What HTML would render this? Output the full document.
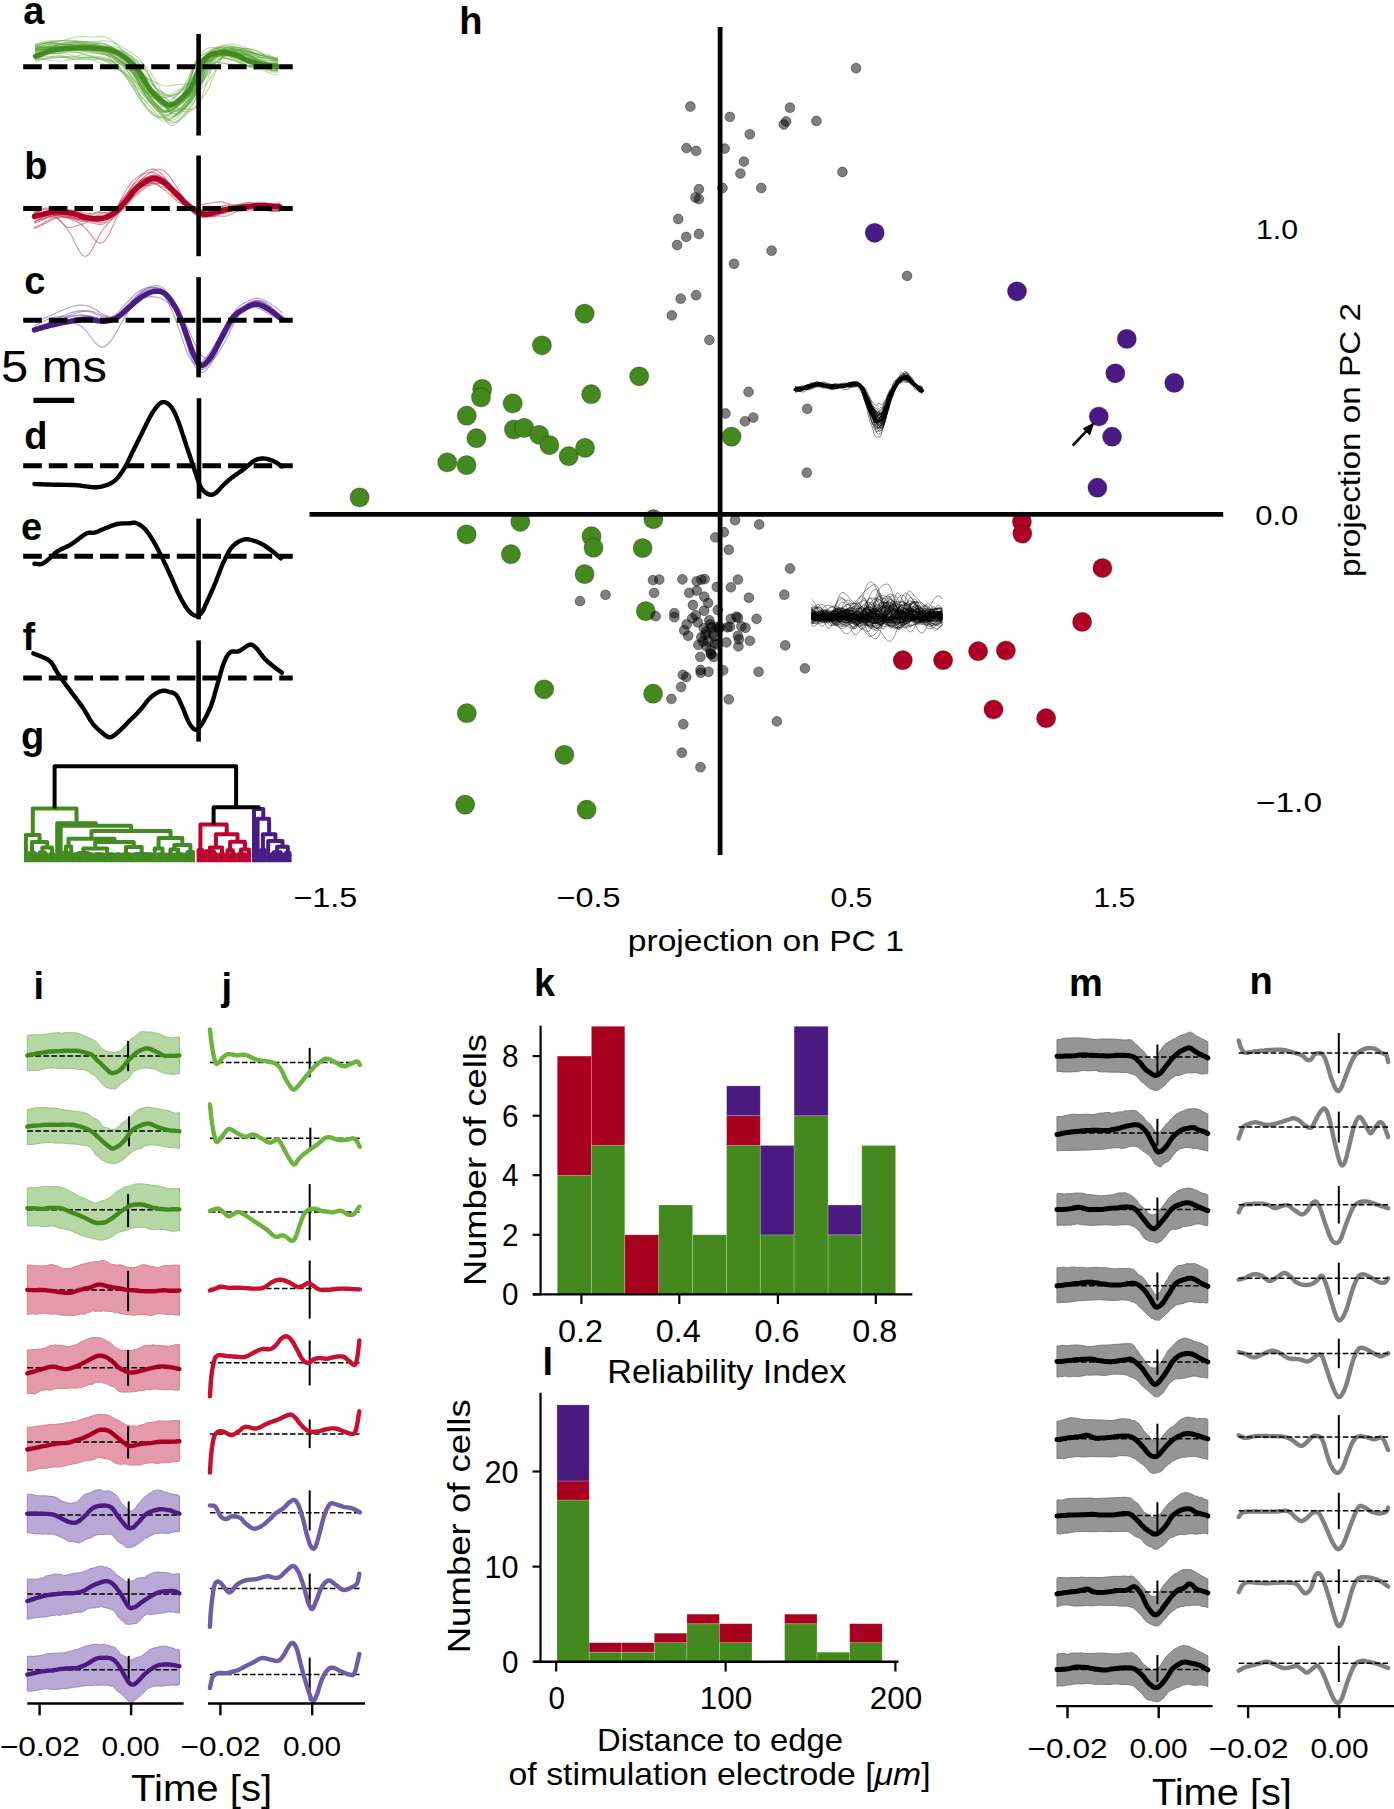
<!DOCTYPE html>
<html><head><meta charset="utf-8"><style>
html,body{margin:0;padding:0;background:#fff;}
svg{display:block;}
</style></head><body>
<svg width="1394" height="1809" viewBox="0 0 1394 1809">
<rect width="1394" height="1809" fill="#fff"/>
<path d="M35.5 50.4l2.9-.3 2.7-.2 2.7-.3 2.9-.4 3.2-.6 3.9-.8 4.6-1.1 5.4-.9 5.7-.6 5.8 .2 5.6 .5 5.2 .4 4.8 .3 4.6 .1 4.4 .1 4.3 .4 4 .9 3.7 1.4 3.4 1.9 3.2 2.1 2.9 2.2 2.8 2.2 2.5 2.2 2.4 2.3 2.2 2.4 1.9 3.1 1.7 2.8 1.6 2.7 1.7 2.9 1.7 3.2 1.7 3.5 1.8 3.5 1.7 3.4 1.8 3.3 1.8 3 1.9 2.8 2.1 2.9 2.3 2.9 2.4 3 2.2 2.8 2.1 2.5 1.8 2.1 1.5 1.7 1.1 1.3 .9 .9 .9 .7 1 .5 1.1 .3 1.3 0 1.3-.3 1.4-.5 1.5-.9 1.5-1.1 1.6-1.3 1.7-1.7 1.9-2 1.9-2.3 1.9-2.4 1.8-2.4 1.6-2.3 1.3-2 1.1-1.8 1.1-1.7 .9-1.7 1-1.8 1-2.3 1.1-2.5 1-2.6 1-2.7 1.1-2.7 1.1-2.9 1.2-3.2 1.2-3.7 1.3-3.8 1.4-2.9 1.4-2 1.6-1.6 1.7-1.5 1.9-1.2 2.1-1 2.2-.8 2.2-.6 2.3-.5 2.2-.3 2.2-.2 2.1-.2 2.2-.2 2.1 0 2.2 .1 2.1 .2 2.2 .3 2.1 .4 2.2 .6 2.1 .6 2.2 .6 2.1 .8 2.2 .9 2 .9 2.1 .8 2.2 .9 2.2 .7 2.2 .6 2.4 .4 2.5 .3 2.5 .2 2.6 .1 2.6 0 2.5 .1" fill="none" stroke="#5aa535" stroke-width="1.1" stroke-opacity="0.420" stroke-linejoin="round" stroke-linecap="round"/>
<path d="M35.5 47l2.9 0 2.7 .2 2.7 0 2.9-.2 3.2-.4 3.9-.9 4.6-1 5.4-.7 5.7 .3 5.8 1.1 5.6 .7 5.2 .2 4.8-.1 4.6 .4 4.4 1.2 4.3 2.1 4 2.7 3.7 2.8 3.4 2.5 3.2 2.3 2.9 2 2.8 2 2.5 2.1 2.4 2.1 2.2 1.8 1.9 1.7 1.7 1.7 1.6 1.7 1.7 1.9 1.7 2 1.7 2.1 1.8 1.8 1.7 1.7 1.8 1.5 1.8 1.4 1.9 1.3 2.1 1.3 2.3 1.2 2.4 1.1 2.2 1.1 2.1 .9 1.8 .6 1.5 .2 1.1 0 .9-.2 .9-.2 1-.3 1.1-.4 1.3-.6 1.3-.6 1.4-.7 1.5-.7 1.5-.8 1.6-.9 1.7-1 1.9-1.2 1.9-1.4 1.9-1.5 1.8-1.6 1.6-1.8 1.3-1.8 1.1-1.7 1.1-1.6 .9-1.6 1-1.6 1-1.8 1.1-2 1-2.1 1-2 1.1-2.2 1.1-2.2 1.2-2 1.2-1.7 1.3-1.5 1.4-1.3 1.4-1.1 1.6-.9 1.7-.8 1.9-.6 2.1-.6 2.2-.5 2.2-.5 2.3-.6 2.2-.5 2.2-.6 2.1-.4 2.2-.2 2.1-.1 2.2 .1 2.1 .3 2.2 .4 2.1 .6 2.2 .8 2.1 .9 2.2 .8 2.1 .8 2.2 .7 2 .5 2.1 .3 2.2 .3 2.2 .3 2.2 .3 2.4 .4 2.5 .6 2.5 .7 2.6 .9 2.6 1 2.5 .9" fill="none" stroke="#5aa535" stroke-width="1.1" stroke-opacity="0.420" stroke-linejoin="round" stroke-linecap="round"/>
<path d="M35.5 57.7l2.9 .4 2.7 .4 2.7 .1 2.9-.4 3.2-1 3.9-1.2 4.6-.7 5.4 .8 5.7 .9 5.8-.8 5.6-1.3 5.2 .1 4.8 1.4 4.6 1.5 4.4 .6 4.3 .4 4 1 3.7 2.1 3.4 2.9 3.2 3 2.9 3.2 2.8 3.4 2.5 3.4 2.4 3.2 2.2 3.3 1.9 3.2 1.7 3 1.6 2.8 1.7 2.8 1.7 2.8 1.7 2.7 1.8 2.5 1.7 2.5 1.8 2.3 1.8 2.1 1.9 1.9 2.1 1.7 2.3 1.5 2.4 .9 2.2-.1 2.1-.5 1.8-.6 1.5-.4 1.1-.4 .9-.3 .9-.4 1-.4 1.1-.7 1.3-.8 1.3-1.1 1.4-1.3 1.5-1.6 1.5-2 1.6-2.4 1.7-3 1.9-4 1.9-5 1.9-5.4 1.8-4.9 1.6-4.6 1.3-3.9 1.1-3.1 1.1-2 .9-1.6 1-1.2 1-1.2 1.1-1.1 1-.8 1-.8 1.1-.8 1.1-.7 1.2-.7 1.2-.7 1.3-.8 1.4-.7 1.4-.8 1.6-.7 1.7-.7 1.9-.5 2.1-.3 2.2 .2 2.2 .6 2.3 .9 2.2 1.1 2.2 1.1 2.1 .9 2.2 .6 2.1 .6 2.2 .5 2.1 .6 2.2 .7 2.1 .9 2.2 1.1 2.1 1.2 2.2 1.2 2.1 1.2 2.2 .9 2 .7 2.1 .3 2.2-.1 2.2-.3 2.2-.4 2.4-.4 2.5-.1 2.5 .2 2.6 .6 2.6 .6 2.5 .4" fill="none" stroke="#5aa535" stroke-width="1.1" stroke-opacity="0.420" stroke-linejoin="round" stroke-linecap="round"/>
<path d="M35.5 47.1l2.9-1.3 2.7-1.1 2.7-.9 2.9-.7 3.2-.3 3.9 .3 4.6 .8 5.4 1 5.7 0 5.8-.7 5.6-.3 5.2 .7 4.8 1.5 4.6 1.5 4.4 1 4.3 .5 4 .4 3.7 .8 3.4 1.4 3.2 1.9 2.9 2.3 2.8 2.3 2.5 2.3 2.4 2.1 2.2 1.9 1.9 1.9 1.7 1.6 1.6 1.6 1.7 1.6 1.7 1.8 1.7 2 1.8 2.3 1.7 2.5 1.8 2.6 1.8 2.7 1.9 2.7 2.1 2.7 2.3 2.8 2.4 2.7 2.2 2.5 2.1 2 1.8 1.5 1.5 1.1 1.1 .7 .9 .5 .9 .4 1 .3 1.1 .2 1.3-.1 1.3-.5 1.4-.7 1.5-.8 1.5-1 1.6-1.2 1.7-1.2 1.9-1.2 1.9-1.3 1.9-1.2 1.8-1.1 1.6-1 1.3-.8 1.1-.8 1.1-.6 .9-.7 1-.7 1-.9 1.1-1.1 1-1.3 1-1.6 1.1-1.9 1.1-2.1 1.2-2.3 1.2-2.5 1.3-3 1.4-3.1 1.4-3.2 1.6-3 1.7-2.5 1.9-2.2 2.1-1.7 2.2-1.2 2.2-.8 2.3-.4 2.2-.2 2.2 0 2.1-.1 2.2-.2 2.1-.2 2.2-.3 2.1-.2 2.2-.2 2.1 0 2.2 .1 2.1 .4 2.2 .6 2.1 .8 2.2 1 2 1.2 2.1 1.2 2.2 1.2 2.2 1 2.2 .7 2.4 .4 2.5 .1 2.5-.2 2.6-.3 2.6-.3 2.5-.1" fill="none" stroke="#5aa535" stroke-width="1.1" stroke-opacity="0.420" stroke-linejoin="round" stroke-linecap="round"/>
<path d="M35.5 50.6l2.9-.5 2.7-.7 2.7-.8 2.9-.9 3.2-.6 3.9-.1 4.6 .7 5.4 .4 5.7-.8 5.8-.8 5.6 .7 5.2 1.6 4.8 1.1 4.6 .5 4.4 .8 4.3 2 4 3.3 3.7 3.7 3.4 3.5 3.2 3 2.9 3.1 2.8 2.9 2.5 2.8 2.4 3.2 2.2 3.4 1.9 3.2 1.7 3 1.6 2.7 1.7 2.3 1.7 2.2 1.7 1.8 1.8 1.6 1.7 1.2 1.8 1.1 1.8 .9 1.9 .9 2.1 1.1 2.3 1.2 2.4 1 2.2 .3 2.1-.2 1.8-.4 1.5-.6 1.1-.5 .9-.6 .9-.6 1-.6 1.1-.9 1.3-1 1.3-1.3 1.4-1.4 1.5-1.5 1.5-1.6 1.6-1.8 1.7-2.1 1.9-2.5 1.9-3.1 1.9-3.6 1.8-3.4 1.6-3.2 1.3-2.9 1.1-2.7 1.1-2.4 .9-2.3 1-2 1-1.9 1.1-1.8 1-1.7 1-1.5 1.1-1.5 1.1-1.5 1.2-1.3 1.2-1.3 1.3-1 1.4-1 1.4-.6 1.6-.5 1.7-.3 1.9 .1 2.1 .2 2.2 .5 2.2 .5 2.3 .5 2.2 .4 2.2 .4 2.1 .5 2.2 .5 2.1 .7 2.2 1 2.1 1.4 2.2 1.7 2.1 1.8 2.2 1.6 2.1 1.4 2.2 1.1 2.1 .6 2.2 .4 2 .1 2.1 0 2.2 .1 2.2 .3 2.2 .4 2.4 .6 2.5 .8 2.5 .8 2.6 .6 2.6 .3 2.5-.1" fill="none" stroke="#5aa535" stroke-width="1.1" stroke-opacity="0.420" stroke-linejoin="round" stroke-linecap="round"/>
<path d="M35.5 44.1l2.9-.9 2.7-.8 2.7-.6 2.9-.5 3.2-.4 3.9-.1 4.6 0 5.4 .1 5.7 .2 5.8 .1 5.6 .1 5.2 .5 4.8 .8 4.6 1.1 4.4 1.4 4.3 1.7 4 1.9 3.7 2.1 3.4 2.2 3.2 2.2 2.9 2.1 2.8 2.3 2.5 2.6 2.4 2.6 2.2 1.9 1.9 1.9 1.7 1.9 1.6 2.1 1.7 2.4 1.7 2.6 1.7 2.6 1.8 2.6 1.7 2.3 1.8 2.1 1.8 1.8 1.9 1.7 2.1 1.6 2.3 1.5 2.4 1.2 2.2 1.1 2.1 .7 1.8 .6 1.5 .1 1.1-.1 .9-.2 .9-.3 1-.3 1.1-.3 1.3-.3 1.3-.3 1.4-.4 1.5-.4 1.5-.5 1.6-.6 1.7-.8 1.9-1 1.9-1.3 1.9-1.4 1.8-1.5 1.6-1.6 1.3-1.6 1.1-1.7 1.1-1.7 .9-1.7 1-1.9 1-2 1.1-2.1 1-1.8 1-1.7 1.1-1.7 1.1-1.9 1.2-2 1.2-1.9 1.3-2.7 1.4-2.2 1.4-2 1.6-1.8 1.7-1.6 1.9-1.6 2.1-1.4 2.2-1.2 2.2-1 2.3-.9 2.2-.7 2.2-.5 2.1-.4 2.2-.2 2.1-.1 2.2 .2 2.1 .3 2.2 .6 2.1 .7 2.2 .8 2.1 .9 2.2 1 2.1 1.2 2.2 1.2 2 1.2 2.1 1.2 2.2 1 2.2 .9 2.2 .6 2.4 .6 2.5 .4 2.5 .4 2.6 .3 2.6 .3 2.5 .2" fill="none" stroke="#5aa535" stroke-width="1.1" stroke-opacity="0.420" stroke-linejoin="round" stroke-linecap="round"/>
<path d="M35.5 54.6l2.9-.3 2.7-.6 2.7-.6 2.9-.7 3.2-.8 3.9-.8 4.6-1 5.4-.8 5.7-.1 5.8 .5 5.6 .3 5.2-.1 4.8-.4 4.6-.1 4.4 .4 4.3 .8 4 1 3.7 .9 3.4 .8 3.2 .8 2.9 .9 2.8 1 2.5 1.1 2.4 1.2 2.2 1.3 1.9 1.1 1.7 1.3 1.6 1.3 1.7 1.9 1.7 2.6 1.7 2.8 1.8 2.8 1.7 3.2 1.8 3.4 1.8 3.5 1.9 3.5 2.1 3.4 2.3 3.2 2.4 2.9 2.2 2.8 2.1 2.7 1.8 2.3 1.5 2 1.1 1.6 .9 1.5 .9 1.5 1 1.4 1.1 1.5 1.3 1 1.3 .6 1.4 .2 1.5-.2 1.5-.5 1.6-1 1.7-1.4 1.9-1.9 1.9-2.2 1.9-2.5 1.8-2.4 1.6-2.4 1.3-2.1 1.1-2 1.1-2 .9-2.1 1-2.4 1-2.8 1.1-3.1 1-3 1-2.9 1.1-3 1.1-3.5 1.2-3.8 1.2-3.3 1.3-2.1 1.4-1.7 1.4-1.5 1.6-1.4 1.7-1.2 1.9-1.2 2.1-1.1 2.2-1 2.2-.9 2.3-.6 2.2-.5 2.2-.3 2.1 0 2.2 .2 2.1 .3 2.2 .6 2.1 .6 2.2 .6 2.1 .7 2.2 .8 2.1 .9 2.2 .9 2.1 1 2.2 .9 2 .9 2.1 1 2.2 .9 2.2 1.1 2.2 1 2.4 1.1 2.5 1 2.5 .9 2.6 .6 2.6 .4 2.5 .1" fill="none" stroke="#5aa535" stroke-width="1.1" stroke-opacity="0.420" stroke-linejoin="round" stroke-linecap="round"/>
<path d="M35.5 54.2l2.9-1 2.7-.7 2.7-.7 2.9-.6 3.2-.4 3.9-.4 4.6-.2 5.4 0 5.7 0 5.8-.1 5.6-.4 5.2-.4 4.8-.2 4.6 .1 4.4 .4 4.3 .8 4 .9 3.7 1.2 3.4 1.3 3.2 1.5 2.9 1.6 2.8 1.8 2.5 1.7 2.4 1.9 2.2 2 1.9 2 1.7 2.2 1.6 2.3 1.7 2.5 1.7 2.6 1.7 2.9 1.8 3.1 1.7 3.1 1.8 3.1 1.8 3 1.9 2.7 2.1 2.5 2.3 2.5 2.4 2.3 2.2 2.1 2.1 1.9 1.8 1.6 1.5 1.3 1.1 1.1 .9 .9 .9 .8 1 .7 1.1 .6 1.3 .2 1.3 .1 1.4-.2 1.5-.4 1.5-.6 1.6-.8 1.7-1.1 1.9-1.4 1.9-1.6 1.9-1.7 1.8-1.8 1.6-1.8 1.3-1.6 1.1-1.5 1.1-1.7 .9-1.7 1-2.1 1-2.5 1.1-2.8 1-2.8 1-2.8 1.1-3 1.1-3.4 1.2-3.8 1.2-3.8 1.3-2.9 1.4-2.5 1.4-2.2 1.6-2 1.7-1.7 1.9-1.4 2.1-1.2 2.2-.8 2.2-.5 2.3-.3 2.2-.1 2.2-.1 2.1 .1 2.2 .2 2.1 .3 2.2 .3 2.1 .4 2.2 .5 2.1 .5 2.2 .6 2.1 .7 2.2 .9 2.1 1.1 2.2 1.1 2 1.1 2.1 1 2.2 1 2.2 .9 2.2 .9 2.4 .9 2.5 .8 2.5 .7 2.6 .6 2.6 .5 2.5 .4" fill="none" stroke="#5aa535" stroke-width="1.1" stroke-opacity="0.420" stroke-linejoin="round" stroke-linecap="round"/>
<path d="M35.5 44.7l2.9-.7 2.7-.5 2.7-.4 2.9-.5 3.2-.4 3.9-.6 4.6-.7 5.4-.4 5.7 .2 5.8 .5 5.6 .5 5.2 .2 4.8 0 4.6 .3 4.4 .8 4.3 1.2 4 1.6 3.7 1.8 3.4 1.8 3.2 1.8 2.9 1.8 2.8 1.9 2.5 2.1 2.4 2.5 2.2 2.8 1.9 3.1 1.7 3 1.6 3 1.7 3.2 1.7 3.5 1.7 3.8 1.8 3.5 1.7 3.3 1.8 2.9 1.8 2.5 1.9 2.1 2.1 1.9 2.3 1.8 2.4 1.6 2.2 1.5 2.1 1.3 1.8 1.1 1.5 .9 1.1 .8 .9 .7 .9 .7 1 .8 1.1 .7 1.3 .6 1.3 .5 1.4 .3 1.5 .1 1.5-.2 1.6-.5 1.7-.9 1.9-1.4 1.9-1.7 1.9-2 1.8-2.1 1.6-2.1 1.3-1.8 1.1-1.7 1.1-1.6 .9-1.5 1-1.5 1-1.7 1.1-1.8 1-1.8 1-2 1.1-2 1.1-2.1 1.2-2.4 1.2-3 1.3-3.3 1.4-3.3 1.4-2.9 1.6-2.7 1.7-2.5 1.9-2.6 2.1-2.5 2.2-2.2 2.2-2 2.3-1.7 2.2-1.3 2.2-1 2.1-.7 2.2-.2 2.1 .1 2.2 .5 2.1 .8 2.2 1 2.1 1.2 2.2 1.3 2.1 1.2 2.2 1 2.1 .9 2.2 .8 2 .6 2.1 .6 2.2 .3 2.2 .3 2.2 .2 2.4 .2 2.5 .2 2.5 .3 2.6 .4 2.6 .5 2.5 .5" fill="none" stroke="#5aa535" stroke-width="1.1" stroke-opacity="0.420" stroke-linejoin="round" stroke-linecap="round"/>
<path d="M35.5 53.5l2.9-1.8 2.7-1.6 2.7-1.4 2.9-1.1 3.2-.8 3.9-.4 4.6-.1 5.4-.2 5.7-.4 5.8-.5 5.6-.2 5.2 .4 4.8 .8 4.6 1.1 4.4 1.2 4.3 1 4 .9 3.7 .9 3.4 1 3.2 1.2 2.9 1.5 2.8 1.7 2.5 1.9 2.4 2 2.2 2 1.9 1.8 1.7 1.7 1.6 1.9 1.7 2 1.7 2.5 1.7 2.7 1.8 2.7 1.7 2.8 1.8 3.2 1.8 3.3 1.9 3.4 2.1 3.2 2.3 3 2.4 2.6 2.2 2.3 2.1 2 1.8 1.7 1.5 1.3 1.1 1 .9 .9 .9 .9 1 .9 1.1 1.1 1.3 1.1 1.3 .6 1.4 .3 1.5 0 1.5-.3 1.6-.6 1.7-.8 1.9-1.3 1.9-1.5 1.9-1.8 1.8-1.9 1.6-1.8 1.3-1.7 1.1-1.6 1.1-1.6 .9-1.7 1-1.9 1-2.2 1.1-2.6 1-2.8 1-3 1.1-3.1 1.1-3.1 1.2-3.6 1.2-4 1.3-3.8 1.4-3.3 1.4-2.6 1.6-2.1 1.7-1.9 1.9-1.5 2.1-1.2 2.2-.8 2.2-.5 2.3-.4 2.2-.2 2.2-.1 2.1-.1 2.2-.1 2.1 0 2.2 0 2.1 .1 2.2 .2 2.1 .2 2.2 .4 2.1 .5 2.2 .7 2.1 1 2.2 1 2 1.1 2.1 1 2.2 1 2.2 .9 2.2 1 2.4 1 2.5 .9 2.5 .8 2.6 .7 2.6 .6 2.5 .5" fill="none" stroke="#5aa535" stroke-width="1.1" stroke-opacity="0.420" stroke-linejoin="round" stroke-linecap="round"/>
<path d="M35.5 56.2l2.9 .3 2.7 .3 2.7 .1 2.9 0 3.2-.1 3.9-.1 4.6 .1 5.4 .5 5.7 1 5.8 1 5.6 .4 5.2-.1 4.8-.2 4.6-.1 4.4 .5 4.3 1.2 4 1.7 3.7 2 3.4 2.1 3.2 2 2.9 1.9 2.8 1.8 2.5 2 2.4 1.9 2.2 1.8 1.9 1.7 1.7 1.6 1.6 1.8 1.7 1.8 1.7 1.9 1.7 1.9 1.8 1.7 1.7 1.6 1.8 1.3 1.8 1.4 1.9 1.3 2.1 1.4 2.3 1.4 2.4 1.3 2.2 1.1 2.1 .8 1.8 .5 1.5 0 1.1-.4 .9-.5 .9-.5 1-.7 1.1-.7 1.3-.8 1.3-1 1.4-1.1 1.5-1.1 1.5-1.3 1.6-1.3 1.7-1.5 1.9-1.5 1.9-1.6 1.9-1.6 1.8-1.5 1.6-1.4 1.3-1.2 1.1-1.3 1.1-1.2 .9-1.2 1-1.4 1-1.5 1.1-1.6 1-1.4 1-1.5 1.1-1.6 1.1-1.7 1.2-2 1.2-1.9 1.3-1.8 1.4-1.5 1.4-1.4 1.6-1.2 1.7-1.3 1.9-1.1 2.1-1.1 2.2-1 2.2-.9 2.3-.6 2.2-.5 2.2-.3 2.1 0 2.2 .1 2.1 .4 2.2 .5 2.1 .8 2.2 .9 2.1 1.1 2.2 1.1 2.1 1.1 2.2 1.1 2.1 1.1 2.2 1.1 2 1.1 2.1 .9 2.2 .9 2.2 .7 2.2 .6 2.4 .6 2.5 .5 2.5 .5 2.6 .6 2.6 .7 2.5 .7" fill="none" stroke="#5aa535" stroke-width="1.1" stroke-opacity="0.420" stroke-linejoin="round" stroke-linecap="round"/>
<path d="M35.5 57.6l2.9-1.8 2.7-1.5 2.7-1.4 2.9-1 3.2-.5 3.9 0 4.6 .2 5.4-.2 5.7-1.3 5.8-1.6 5.6-.9 5.2 .2 4.8 .6 4.6 .4 4.4-.2 4.3-.8 4-.8 3.7-.4 3.4 .2 3.2 .9 2.9 1.3 2.8 1.7 2.5 1.9 2.4 1.9 2.2 1.7 1.9 1.6 1.7 1.5 1.6 1.4 1.7 1.7 1.7 1.8 1.7 2.1 1.8 2.1 1.7 2.3 1.8 2.3 1.8 2.7 1.9 3.1 2.1 3.6 2.3 3.8 2.4 3.5 2.2 2.9 2.1 2.3 1.8 1.7 1.5 1.2 1.1 .8 .9 .6 .9 .6 1 .8 1.1 .9 1.3 1.1 1.3 1.3 1.4 1.3 1.5 1.3 1.5 1.1 1.6 .8 1.7 .5 1.9 .3 1.9 .1 1.9 0 1.8-.1 1.6-.1 1.3 0 1.1-.2 1.1-.2 .9-.5 1-.7 1-.9 1.1-1.2 1-1.5 1-1.6 1.1-2 1.1-2.3 1.2-2.8 1.2-3.4 1.3-3.7 1.4-4.1 1.4-4.2 1.6-4.7 1.7-5.3 1.9-5.3 2.1-4.3 2.2-3.4 2.2-2.5 2.3-1.7 2.2-.9 2.2-.5 2.1-.2 2.2 .1 2.1 .2 2.2 .3 2.1 .3 2.2 .3 2.1 .3 2.2 .4 2.1 .6 2.2 .7 2.1 .9 2.2 1 2 1.4 2.1 1.6 2.2 1.8 2.2 1.9 2.2 1.9 2.4 1.7 2.5 1.3 2.5 .9 2.6 .3 2.6-.1 2.5-.5" fill="none" stroke="#5aa535" stroke-width="1.1" stroke-opacity="0.420" stroke-linejoin="round" stroke-linecap="round"/>
<path d="M35.5 49.4l2.9-.8 2.7-.6 2.7-.5 2.9-.3 3.2-.1 3.9 0 4.6-.2 5.4-.3 5.7-.7 5.8-.6 5.6-.1 5.2 .2 4.8 .3 4.6 .2 4.4 .1 4.3 .3 4 .6 3.7 1.2 3.4 1.5 3.2 1.9 2.9 2 2.8 2 2.5 1.9 2.4 1.9 2.2 1.9 1.9 1.8 1.7 1.7 1.6 1.7 1.7 1.6 1.7 1.9 1.7 2 1.8 2.1 1.7 2.3 1.8 2.2 1.8 2.2 1.9 2.1 2.1 2 2.3 2 2.4 1.8 2.2 1.8 2.1 1.4 1.8 1.2 1.5 1 1.1 .7 .9 .5 .9 .5 1 .2 1.1 .1 1.3-.2 1.3-.4 1.4-.6 1.5-.8 1.5-1 1.6-1.1 1.7-1.3 1.9-1.4 1.9-1.5 1.9-1.6 1.8-1.6 1.6-1.4 1.3-1.3 1.1-1.2 1.1-1.2 .9-1.1 1-1.4 1-1.6 1.1-1.9 1-1.8 1-1.9 1.1-2 1.1-2.3 1.2-2.7 1.2-2.7 1.3-2.6 1.4-2.2 1.4-1.9 1.6-1.8 1.7-1.5 1.9-1.3 2.1-1 2.2-.8 2.2-.5 2.3-.4 2.2-.1 2.2-.1 2.1 0 2.2 0 2.1 .3 2.2 .3 2.1 .4 2.2 .6 2.1 .6 2.2 .7 2.1 .8 2.2 .9 2.1 1 2.2 .9 2 .8 2.1 .7 2.2 .6 2.2 .4 2.2 .4 2.4 .4 2.5 .3 2.5 .5 2.6 .5 2.6 .6 2.5 .7" fill="none" stroke="#5aa535" stroke-width="1.1" stroke-opacity="0.420" stroke-linejoin="round" stroke-linecap="round"/>
<path d="M35.5 62l2.9-1.3 2.7-1 2.7-.6 2.9-.3 3.2-.2 3.9-.4 4.6-.8 5.4-.8 5.7 .1 5.8 .8 5.6 .5 5.2-.2 4.8-.2 4.6 .4 4.4 1 4.3 1.2 4 .9 3.7 .6 3.4 .5 3.2 .9 2.9 1.1 2.8 1.4 2.5 1.5 2.4 1.5 2.2 1.4 1.9 1.4 1.7 1.5 1.6 1.7 1.7 1.6 1.7 1.9 1.7 2.2 1.8 2.4 1.7 2.5 1.8 2.7 1.8 2.6 1.9 2.6 2.1 2.6 2.3 2.7 2.4 2.6 2.2 2.3 2.1 1.9 1.8 1.4 1.5 1 1.1 .7 .9 .3 .9 .1 1-.2 1.1-.5 1.3-.6 1.3-.8 1.4-1 1.5-1.2 1.5-1.2 1.6-1.2 1.7-1.4 1.9-1.5 1.9-1.5 1.9-1.6 1.8-1.7 1.6-1.7 1.3-1.6 1.1-1.6 1.1-1.7 .9-1.8 1-2 1-2.2 1.1-2.2 1-2.3 1-2.5 1.1-2.6 1.1-2.7 1.2-2.1 1.2-1.8 1.3-1.4 1.4-1.2 1.4-1 1.6-.9 1.7-.6 1.9-.5 2.1-.4 2.2-.3 2.2-.3 2.3-.3 2.2-.2 2.2 0 2.1 .1 2.2 .4 2.1 .6 2.2 .8 2.1 1 2.2 1 2.1 1.1 2.2 1 2.1 .9 2.2 .8 2.1 .5 2.2 .3 2 .2 2.1 .1 2.2 .1 2.2 .3 2.2 .3 2.4 .5 2.5 .6 2.5 .5 2.6 .3 2.6 .2 2.5 .1" fill="none" stroke="#5aa535" stroke-width="1.1" stroke-opacity="0.420" stroke-linejoin="round" stroke-linecap="round"/>
<path d="M35.5 48.8l2.9-.5 2.7-.6 2.7-.5 2.9-.6 3.2-.5 3.9-.4 4.6-.6 5.4-.6 5.7-.5 5.8 0 5.6 .4 5.2 1 4.8 1.2 4.6 1.5 4.4 1.7 4.3 1.8 4 2.1 3.7 2.2 3.4 2.3 3.2 2.4 2.9 2.5 2.8 2.8 2.5 3.4 2.4 3.1 2.2 2.9 1.9 2.5 1.7 2.3 1.6 2.1 1.7 2 1.7 2 1.7 1.8 1.8 1.5 1.7 1.3 1.8 1.1 1.8 1.1 1.9 1.1 2.1 1.3 2.3 1.5 2.4 1.6 2.2 1.7 2.1 1.6 1.8 1.6 1.5 1.4 1.1 1.2 .9 1.1 .9 1 1 .9 1.1 .7 1.3 .6 1.3 .4 1.4 .1 1.5-.2 1.5-.5 1.6-.8 1.7-1.2 1.9-1.5 1.9-1.9 1.9-2 1.8-2 1.6-2 1.3-1.8 1.1-1.7 1.1-1.5 .9-1.5 1-1.3 1-1.4 1.1-1.2 1-1.3 1-1.2 1.1-1.3 1.1-1.4 1.2-1.7 1.2-1.9 1.3-1.9 1.4-2 1.4-2.2 1.6-2.8 1.7-3.2 1.9-2.8 2.1-2.1 2.2-1.7 2.2-1.6 2.3-1.4 2.2-1.3 2.2-1.2 2.1-1.2 2.2-1.1 2.1-1 2.2-1 2.1-.8 2.2-.7 2.1-.6 2.2-.3 2.1-.2 2.2 .1 2.1 .3 2.2 .5 2 .6 2.1 .8 2.2 .9 2.2 1 2.2 1.2 2.4 1.2 2.5 1.2 2.5 1.3 2.6 1.3 2.6 1.2 2.5 .9" fill="none" stroke="#5aa535" stroke-width="1.1" stroke-opacity="0.420" stroke-linejoin="round" stroke-linecap="round"/>
<path d="M35.5 58.2l2.9-.8 2.7-.7 2.7-.8 2.9-.8 3.2-1 3.9-1.3 4.6-1.4 5.4-1.3 5.7-.3 5.8 .6 5.6 .9 5.2 .5 4.8-.1 4.6-.2 4.4-.1 4.3 .4 4 1.2 3.7 1.8 3.4 2.4 3.2 2.6 2.9 2.7 2.8 2.5 2.5 2.3 2.4 2.2 2.2 2 1.9 1.9 1.7 2.3 1.6 2.7 1.7 2.6 1.7 2.7 1.7 3.1 1.8 3.3 1.7 3.3 1.8 3.3 1.8 3.2 1.9 2.9 2.1 2.9 2.3 2.9 2.4 2.8 2.2 2.6 2.1 2.3 1.8 1.8 1.5 1.3 1.1 1.1 .9 .8 .9 .8 1 .6 1.1 .3 1.3 .2 1.3-.2 1.4-.4 1.5-.7 1.5-.9 1.6-1.3 1.7-1.6 1.9-2 1.9-2.3 1.9-2.3 1.8-2.4 1.6-2.3 1.3-2.2 1.1-2.1 1.1-2.2 .9-2.5 1-2.7 1-3.2 1.1-3.4 1-3.3 1-3.2 1.1-3.4 1.1-3.8 1.2-4.1 1.2-3.4 1.3-2.2 1.4-1.8 1.4-1.5 1.6-1.4 1.7-1.1 1.9-1.1 2.1-.9 2.2-.7 2.2-.5 2.3-.3 2.2-.1 2.2 .2 2.1 .4 2.2 .6 2.1 .8 2.2 1 2.1 1.1 2.2 1.2 2.1 1.1 2.2 1.1 2.1 1 2.2 1 2.1 .8 2.2 .7 2 .4 2.1 .2 2.2 0 2.2-.1 2.2-.1 2.4-.1 2.5 .1 2.5 .2 2.6 .4 2.6 .6 2.5 .7" fill="none" stroke="#5aa535" stroke-width="1.1" stroke-opacity="0.420" stroke-linejoin="round" stroke-linecap="round"/>
<path d="M35.5 46.4l2.9 .6 2.7 .5 2.7 .3 2.9-.1 3.2-.3 3.9-.5 4.6-.1 5.4 1 5.7 1.4 5.8 .4 5.6-.5 5.2 .1 4.8 1.2 4.6 1.8 4.4 1.5 4.3 .8 4 .4 3.7 .7 3.4 1.4 3.2 1.8 2.9 2.1 2.8 2 2.5 1.8 2.4 1.4 2.2 1.1 1.9 .9 1.7 .8 1.6 .8 1.7 .8 1.7 .9 1.7 1.1 1.8 1.2 1.7 1.6 1.8 2 1.8 2.2 1.9 2.5 2.1 2.7 2.3 2.7 2.4 2.2 2.2 1.6 2.1 1.2 1.8 .9 1.5 .6 1.1 .4 .9 .3 .9 .3 1 .4 1.1 .4 1.3 .6 1.3 .8 1.4 .8 1.5 1 1.5 1 1.6 .8 1.7 .6 1.9 .3 1.9 0 1.9-.3 1.8-.6 1.6-.8 1.3-.8 1.1-.8 1.1-.8 .9-.9 1-.9 1-1.1 1.1-1 1-1.1 1-1.1 1.1-1.2 1.1-1.1 1.2-1.2 1.2-1.2 1.3-1.3 1.4-1.4 1.4-1.7 1.6-2 1.7-2.7 1.9-3.1 2.1-3.5 2.2-4.4 2.2-4.5 2.3-4.4 2.2-3.2 2.2-2.6 2.1-1.9 2.2-1.3 2.1-.8 2.2-.4 2.1 .1 2.2 .2 2.1 .3 2.2 .3 2.1 .2 2.2 .3 2.1 .2 2.2 .3 2 .6 2.1 .7 2.2 1 2.2 1.2 2.2 1.4 2.4 1.6 2.5 1.6 2.5 1.5 2.6 1.3 2.6 1 2.5 .6" fill="none" stroke="#5aa535" stroke-width="1.1" stroke-opacity="0.420" stroke-linejoin="round" stroke-linecap="round"/>
<path d="M35.5 49.9l2.9-.7 2.7-.2 2.7 .2 2.9 .1 3.2-.2 3.9-.6 4.6-1 5.4-.4 5.7 .6 5.8 .6 5.6-.4 5.2-.8 4.8 0 4.6 .8 4.4 1.1 4.3 .6 4 .3 3.7 .3 3.4 1 3.2 1.7 2.9 2.1 2.8 2.2 2.5 2.2 2.4 2.1 2.2 2 1.9 1.9 1.7 1.9 1.6 2 1.7 2 1.7 2.3 1.7 2.6 1.8 3 1.7 3.1 1.8 3.2 1.8 3.2 1.9 2.9 2.1 2.8 2.3 2.7 2.4 2.2 2.2 1.9 2.1 1.4 1.8 1.1 1.5 .8 1.1 .6 .9 .5 .9 .5 1 .4 1.1 .2 1.3 0 1.3 0 1.4-.2 1.5-.3 1.5-.4 1.6-.6 1.7-.8 1.9-1.2 1.9-1.4 1.9-1.7 1.8-1.8 1.6-1.6 1.3-1.6 1.1-1.3 1.1-1.3 .9-1.4 1-1.4 1-1.7 1.1-2 1-2.1 1-2.1 1.1-2 1.1-2.2 1.2-2.6 1.2-2.9 1.3-2.7 1.4-2.5 1.4-2.1 1.6-2 1.7-1.8 1.9-1.9 2.1-1.8 2.2-1.6 2.2-1.4 2.3-1.1 2.2-.7 2.2-.4 2.1-.1 2.2 .2 2.1 .3 2.2 .4 2.1 .4 2.2 .4 2.1 .3 2.2 .3 2.1 .4 2.2 .5 2.1 .9 2.2 1 2 1.3 2.1 1.3 2.2 1.2 2.2 1 2.2 .9 2.4 .5 2.5 .3 2.5-.1 2.6-.1 2.6 0 2.5 0" fill="none" stroke="#5aa535" stroke-width="1.1" stroke-opacity="0.420" stroke-linejoin="round" stroke-linecap="round"/>
<path d="M35.5 51.9l2.9-1 2.7-.8 2.7-.7 2.9-.6 3.2-.7 3.9-.5 4.6-.3 5.4-.2 5.7-.5 5.8-.9 5.6-.8 5.2-.3 4.8 .3 4.6 .9 4.4 1.2 4.3 1.2 4 1.6 3.7 1.9 3.4 2.3 3.2 2.6 2.9 2.7 2.8 2.9 2.5 3.1 2.4 3.4 2.2 3.2 1.9 2.8 1.7 2.7 1.6 2.7 1.7 2.9 1.7 3 1.7 3 1.8 2.7 1.7 2.4 1.8 2.4 1.8 2.3 1.9 2.2 2.1 2.4 2.3 2.5 2.4 2.3 2.2 2.1 2.1 1.4 1.8 .1 1.5-.4 1.1-.6 .9-.8 .9-.8 1-.9 1.1-1 1.3-1.1 1.3-1.2 1.4-1.3 1.5-1.3 1.5-1.5 1.6-1.6 1.7-2 1.9-2.3 1.9-2.9 1.9-3.5 1.8-4.2 1.6-4.2 1.3-3.6 1.1-3.3 1.1-3.2 .9-3 1-2.7 1-2.5 1.1-1.9 1-1.5 1-1.2 1.1-1 1.1-.8 1.2-.8 1.2-.7 1.3-.7 1.4-.7 1.4-.7 1.6-.8 1.7-.9 1.9-.9 2.1-.8 2.2-.6 2.2-.3 2.3 0 2.2 .5 2.2 .8 2.1 1.1 2.2 1.3 2.1 1.4 2.2 1.6 2.1 1.7 2.2 1.7 2.1 1.5 2.2 1.2 2.1 1 2.2 .8 2.1 .5 2.2 .5 2 .4 2.1 .5 2.2 .7 2.2 .7 2.2 .9 2.4 1 2.5 1.1 2.5 1 2.6 .9 2.6 .7 2.5 .2" fill="none" stroke="#5aa535" stroke-width="1.1" stroke-opacity="0.420" stroke-linejoin="round" stroke-linecap="round"/>
<path d="M35.5 60l2.9-.3 2.7 0 2.7 0 2.9 .3 3.2 .3 3.9 .4 4.6 .3 5.4-.2 5.7-.9 5.8-.9 5.6-.5 5.2 .3 4.8 1 4.6 1.5 4.4 1.7 4.3 1.5 4 1.4 3.7 1 3.4 1.1 3.2 1.3 2.9 2.2 2.8 3.2 2.5 3.2 2.4 3.4 2.2 3.6 1.9 3.2 1.7 2.9 1.6 2.6 1.7 2.5 1.7 2.5 1.7 2.2 1.8 2.1 1.7 2 1.8 1.9 1.8 1.9 1.9 1.8 2.1 1.9 2.3 2 2.4 1.8 2.2 1.6 2.1 .9 1.8 .3 1.5 0 1.1 .1 .9 .1 .9 0 1-.1 1.1-.4 1.3-.4 1.3-.7 1.4-.8 1.5-1 1.5-1.1 1.6-1.3 1.7-1.5 1.9-1.7 1.9-2 1.9-2.2 1.8-2.4 1.6-2.5 1.3-2.5 1.1-2.5 1.1-2.4 .9-2.5 1-2.5 1-2.6 1.1-2.5 1-2.5 1-2.6 1.1-2.8 1.1-2.8 1.2-2.4 1.2-1.6 1.3-1.3 1.4-1 1.4-1 1.6-.8 1.7-.8 1.9-.6 2.1-.4 2.2-.2 2.2 0 2.3 .2 2.2 .3 2.2 .4 2.1 .4 2.2 .4 2.1 .3 2.2 .3 2.1 .3 2.2 .2 2.1 .1 2.2 .1 2.1 .1 2.2 0 2.1 .1 2.2 .2 2 .3 2.1 .3 2.2 .5 2.2 .5 2.2 .6 2.4 .6 2.5 .5 2.5 .5 2.6 .5 2.6 .2 2.5 .2" fill="none" stroke="#5aa535" stroke-width="1.1" stroke-opacity="0.420" stroke-linejoin="round" stroke-linecap="round"/>
<path d="M35.5 60.3l2.9-1.7 2.7-1.8 2.7-1.7 2.9-1.5 3.2-1.4 3.9-.9 4.6-.6 5.4-.1 5.7-.2 5.8-.5 5.6-.5 5.2 0 4.8 .7 4.6 1.2 4.4 1.5 4.3 1.5 4 1.5 3.7 1.6 3.4 1.7 3.2 1.9 2.9 2.2 2.8 2.3 2.5 2.2 2.4 2.2 2.2 2 1.9 1.9 1.7 1.7 1.6 1.5 1.7 1.5 1.7 1.5 1.7 1.7 1.8 1.8 1.7 2 1.8 2 1.8 2 1.9 1.8 2.1 1.9 2.3 1.9 2.4 2.1 2.2 2.1 2.1 2.1 1.8 2 1.5 1.7 1.1 1.6 .9 1.4 .9 1.4 1 1.3 1.1 1.1 1.3 .8 1.3 .6 1.4 .3 1.5-.1 1.5-.3 1.6-.6 1.7-1.1 1.9-1.4 1.9-1.7 1.9-1.9 1.8-2 1.6-2 1.3-1.9 1.1-1.9 1.1-1.8 .9-2.1 1-2.3 1-2.6 1.1-2.8 1-2.6 1-2.7 1.1-2.9 1.1-3.2 1.2-3.2 1.2-3.1 1.3-2.5 1.4-2.2 1.4-1.9 1.6-1.6 1.7-1.5 1.9-1.2 2.1-1.1 2.2-.9 2.2-.7 2.3-.5 2.2-.4 2.2-.2 2.1 0 2.2 .2 2.1 .5 2.2 .6 2.1 .7 2.2 .8 2.1 .9 2.2 .9 2.1 1 2.2 1 2.1 .9 2.2 .7 2 .4 2.1 .3 2.2 .3 2.2 .2 2.2 .4 2.4 .4 2.5 .7 2.5 .9 2.6 1.1 2.6 1.2 2.5 1.3" fill="none" stroke="#5aa535" stroke-width="1.1" stroke-opacity="0.420" stroke-linejoin="round" stroke-linecap="round"/>
<path d="M35.5 50.9l2.9 0 2.7-.3 2.7-.8 2.9-1 3.2-1.1 3.9-1.3 4.6-1.6 5.4-1.9 5.7-1.6 5.8-.6 5.6 .5 5.2 .6 4.8 .2 4.6-.3 4.4-.6 4.3-.4 4 .3 3.7 .9 3.4 1.4 3.2 1.7 2.9 1.7 2.8 1.7 2.5 1.6 2.4 1.5 2.2 1.3 1.9 1.2 1.7 1.1 1.6 1.1 1.7 1.4 1.7 1.9 1.7 2.4 1.8 2.8 1.7 3 1.8 3.4 1.8 4 1.9 4.4 2.1 4.8 2.3 4.7 2.4 4.1 2.2 3.4 2.1 2.8 1.8 2.1 1.5 1.5 1.1 1 .9 .8 .9 .6 1 .5 1.1 .6 1.3 .7 1.3 .4 1.4-.2 1.5-.5 1.5-.9 1.6-1.1 1.7-1.5 1.9-1.7 1.9-1.8 1.9-1.9 1.8-1.8 1.6-1.7 1.3-1.5 1.1-1.3 1.1-1.2 .9-1.1 1-1.2 1-1.3 1.1-1.6 1-1.9 1-2.1 1.1-2.4 1.1-2.7 1.2-2.9 1.2-3.5 1.3-3.9 1.4-3.7 1.4-3.2 1.6-2.8 1.7-2.5 1.9-2.2 2.1-1.7 2.2-1.3 2.2-.8 2.3-.4 2.2 0 2.2 .2 2.1 .4 2.2 .4 2.1 .4 2.2 .5 2.1 .5 2.2 .4 2.1 .4 2.2 .3 2.1 .5 2.2 .7 2.1 .8 2.2 .9 2 1 2.1 1 2.2 1 2.2 .9 2.2 1 2.4 .8 2.5 .8 2.5 .4 2.6 .2 2.6-.1 2.5-.3" fill="none" stroke="#5aa535" stroke-width="1.1" stroke-opacity="0.420" stroke-linejoin="round" stroke-linecap="round"/>
<path d="M35.5 52.9l2.9-.2 2.7 0 2.7 .2 2.9 .2 3.2 .3 3.9 0 4.6-.4 5.4-.8 5.7-.5 5.8 .5 5.6 1.2 5.2 1.3 4.8 1 4.6 .5 4.4 .4 4.3 .9 4 1.4 3.7 2.1 3.4 2.3 3.2 2.3 2.9 2.4 2.8 2.4 2.5 3.3 2.4 3.4 2.2 3.2 1.9 2.9 1.7 2.9 1.6 2.7 1.7 2.7 1.7 2.7 1.7 2.5 1.8 2.1 1.7 2.1 1.8 2 1.8 2.2 1.9 2.2 2.1 2.4 2.3 2.6 2.4 2.6 2.2 2.1 2.1 .8 1.8 0 1.5-.4 1.1-.4 .9-.5 .9-.5 1-.7 1.1-1 1.3-1.3 1.3-1.5 1.4-1.8 1.5-2 1.5-2.2 1.6-2.4 1.7-2.7 1.9-3 1.9-3.4 1.9-4 1.8-4.4 1.6-4.4 1.3-3.6 1.1-3 1.1-2.9 .9-2.7 1-2.5 1-2.3 1.1-1.3 1-1 1-.8 1.1-.7 1.1-.7 1.2-.7 1.2-.6 1.3-.6 1.4-.5 1.4-.6 1.6-.6 1.7-.5 1.9-.5 2.1-.4 2.2-.3 2.2-.1 2.3 .1 2.2 .3 2.2 .6 2.1 .6 2.2 .7 2.1 .8 2.2 .7 2.1 .6 2.2 .7 2.1 .7 2.2 .8 2.1 .7 2.2 .6 2.1 .7 2.2 .6 2 .8 2.1 .8 2.2 .9 2.2 1 2.2 1.1 2.4 1.1 2.5 1 2.5 .9 2.6 .7 2.6 .4 2.5 .1" fill="none" stroke="#5aa535" stroke-width="1.1" stroke-opacity="0.420" stroke-linejoin="round" stroke-linecap="round"/>
<path d="M35.5 53.8l2.9 .2 2.7 .1 2.7 .1 2.9-.1 3.2-.3 3.9-.2 4.6-.2 5.4 .4 5.7 1 5.8 1.4 5.6 .9 5.2 .4 4.8 .1 4.6 .2 4.4 .6 4.3 1.4 4 2 3.7 2.5 3.4 2.6 3.2 2.4 2.9 2.3 2.8 2.2 2.5 2.4 2.4 2.4 2.2 2.2 1.9 1.9 1.7 1.9 1.6 1.9 1.7 2.1 1.7 2.2 1.7 2.1 1.8 1.9 1.7 1.8 1.8 1.7 1.8 1.6 1.9 1.8 2.1 1.9 2.3 2 2.4 2 2.2 1.9 2.1 1.6 1.8 1 1.5 .3 1.1-.1 .9-.1 .9-.3 1-.4 1.1-.4 1.3-.7 1.3-.8 1.4-1 1.5-1.1 1.5-1.2 1.6-1.3 1.7-1.5 1.9-1.7 1.9-1.8 1.9-1.8 1.8-1.8 1.6-1.7 1.3-1.7 1.1-1.7 1.1-1.7 .9-1.9 1-2 1-2.2 1.1-2.2 1-2.3 1-2.4 1.1-2.7 1.1-2.9 1.2-2.8 1.2-2.6 1.3-2.2 1.4-2 1.4-1.8 1.6-1.7 1.7-1.5 1.9-1.4 2.1-1.3 2.2-1.2 2.2-.9 2.3-.7 2.2-.5 2.2-.3 2.1 0 2.2 .2 2.1 .5 2.2 .7 2.1 .9 2.2 1.1 2.1 1.3 2.2 1.2 2.1 1.3 2.2 1.2 2.1 1.3 2.2 1.3 2 1 2.1 1 2.2 .7 2.2 .5 2.2 .4 2.4 .3 2.5 .2 2.5 .3 2.6 .4 2.6 .6 2.5 .6" fill="none" stroke="#5aa535" stroke-width="1.1" stroke-opacity="0.420" stroke-linejoin="round" stroke-linecap="round"/>
<path d="M35.5 49.3l2.9-.2 2.7 .1 2.7 .1 2.9 .2 3.2 .1 3.9 0 4.6-.5 5.4-.7 5.7-.5 5.8 .4 5.6 1.3 5.2 1.5 4.8 1.2 4.6 .8 4.4 .7 4.3 .8 4 1.4 3.7 1.9 3.4 2.3 3.2 2.6 2.9 2.6 2.8 2.6 2.5 2.7 2.4 3 2.2 3 1.9 2.6 1.7 2.4 1.6 2.5 1.7 2.5 1.7 2.7 1.7 2.7 1.8 2.5 1.7 2.3 1.8 2.1 1.8 2.1 1.9 2.2 2.1 2.3 2.3 2.5 2.4 2.6 2.2 2.4 2.1 2.2 1.8 1.8 1.5 1.1 1.1 .5 .9 .2 .9 0 1-.1 1.1-.4 1.3-.6 1.3-.8 1.4-1.2 1.5-1.3 1.5-1.6 1.6-1.7 1.7-2 1.9-2.3 1.9-2.4 1.9-2.4 1.8-2.3 1.6-2.2 1.3-1.9 1.1-2 1.1-1.9 .9-2 1-2.1 1-2.4 1.1-2.5 1-2.3 1-2.3 1.1-2.6 1.1-2.8 1.2-3.1 1.2-2.7 1.3-2 1.4-1.8 1.4-1.6 1.6-1.5 1.7-1.4 1.9-1.3 2.1-1.3 2.2-1.1 2.2-.9 2.3-.8 2.2-.6 2.2-.3 2.1-.1 2.2 .1 2.1 .3 2.2 .6 2.1 .8 2.2 .9 2.1 1 2.2 1 2.1 .9 2.2 .9 2.1 1 2.2 .8 2 .8 2.1 .6 2.2 .6 2.2 .5 2.2 .4 2.4 .5 2.5 .6 2.5 .6 2.6 .9 2.6 .9 2.5 1" fill="none" stroke="#5aa535" stroke-width="1.1" stroke-opacity="0.420" stroke-linejoin="round" stroke-linecap="round"/>
<path d="M35.5 46.2l2.9 .2 2.7 .3 2.7 .3 2.9 .3 3.2 .1 3.9-.1 4.6-.3 5.4-.4 5.7-.1 5.8 .3 5.6 .3 5.2 .3 4.8 0 4.6 0 4.4 .2 4.3 .6 4 1.2 3.7 1.6 3.4 1.8 3.2 1.9 2.9 1.8 2.8 1.9 2.5 2.2 2.4 3.2 2.2 3.2 1.9 2.9 1.7 3 1.6 3.2 1.7 3.2 1.7 3.5 1.7 3.3 1.8 3.1 1.7 2.7 1.8 2.6 1.8 2.6 1.9 2.4 2.1 2.5 2.3 2.5 2.4 2.3 2.2 2 2.1 1.6 1.8 .6 1.5 0 1.1-.3 .9-.3 .9-.5 1-.5 1.1-.8 1.3-1 1.3-1.1 1.4-1.2 1.5-1.3 1.5-1.4 1.6-1.5 1.7-1.7 1.9-1.9 1.9-2.1 1.9-2.2 1.8-2.5 1.6-2.7 1.3-2.8 1.1-2.6 1.1-2.5 .9-2.3 1-2.4 1-2.7 1.1-2.9 1-2.8 1-2.7 1.1-1.9 1.1-1.6 1.2-1.5 1.2-1.4 1.3-1.2 1.4-1.1 1.4-1 1.6-.8 1.7-.8 1.9-.7 2.1-.5 2.2-.4 2.2-.2 2.3-.2 2.2-.1 2.2 0 2.1 0 2.2 .1 2.1 0 2.2 .1 2.1 0 2.2 0 2.1 0 2.2 .2 2.1 .2 2.2 .4 2.1 .5 2.2 .4 2 .5 2.1 .5 2.2 .6 2.2 .6 2.2 .7 2.4 .7 2.5 .7 2.5 .7 2.6 .6 2.6 .6 2.5 .6" fill="none" stroke="#5aa535" stroke-width="1.1" stroke-opacity="0.420" stroke-linejoin="round" stroke-linecap="round"/>
<path d="M35.5 45.1l2.9-.6 2.7-.6 2.7-.4 2.9-.3 3.2 .1 3.9 .4 4.6 .6 5.4 .3 5.7-.6 5.8-1 5.6-.3 5.2 .7 4.8 1.1 4.6 .9 4.4 .7 4.3 .5 4 .8 3.7 1.2 3.4 1.8 3.2 2.2 2.9 2.4 2.8 2.7 2.5 3.3 2.4 3.6 2.2 3.2 1.9 3 1.7 3 1.6 2.9 1.7 2.9 1.7 3.1 1.7 2.9 1.8 2.7 1.7 2.4 1.8 2.3 1.8 2.3 1.9 2.3 2.1 2.5 2.3 2.6 2.4 2.5 2.2 2.3 2.1 1.9 1.8 1.3 1.5 .7 1.1 .2 .9 0 .9-.1 1-.3 1.1-.3 1.3-.6 1.3-.7 1.4-.9 1.5-1 1.5-1.2 1.6-1.2 1.7-1.5 1.9-1.6 1.9-1.7 1.9-1.8 1.8-1.7 1.6-1.7 1.3-1.7 1.1-1.5 1.1-1.7 .9-1.7 1-2 1-2.3 1.1-2.5 1-2.5 1-2.5 1.1-2.5 1.1-2.8 1.2-3.4 1.2-3.4 1.3-3.1 1.4-2.4 1.4-2 1.6-1.8 1.7-1.7 1.9-1.5 2.1-1.1 2.2-.9 2.2-.5 2.3-.2 2.2-.1 2.2 0 2.1 0 2.2-.1 2.1-.1 2.2-.1 2.1-.1 2.2 0 2.1 .1 2.2 .3 2.1 .4 2.2 .6 2.1 .8 2.2 .9 2 1.1 2.1 1.2 2.2 1.1 2.2 1 2.2 .9 2.4 .5 2.5 .3 2.5 0 2.6-.1 2.6-.1 2.5 .1" fill="none" stroke="#5aa535" stroke-width="1.1" stroke-opacity="0.420" stroke-linejoin="round" stroke-linecap="round"/>
<path d="M35.5 57.1l2.9 .4 2.7-.2 2.7-1.5 2.9-1.8 3.2-1.5 3.9-.9 4.6-.3 5.4-.8 5.7-1.9 5.8-1.2 5.6 .6 5.2 .6 4.8-.6 4.6-1 4.4-.3 4.3 .8 4 1.3 3.7 1 3.4 .5 3.2 .2 2.9 .5 2.8 1 2.5 1.5 2.4 1.8 2.2 2 1.9 1.7 1.7 1.5 1.6 1.3 1.7 1.2 1.7 1.4 1.7 1.5 1.8 1.7 1.7 1.8 1.8 2.1 1.8 2.5 1.9 3.3 2.1 4.1 2.3 4.7 2.4 4.5 2.2 3.8 2.1 3.1 1.8 2.4 1.5 1.8 1.1 1.3 .9 1.2 .9 1 1 1 1.1 .9 1.3 1 1.3 .9 1.4 .9 1.5 .6 1.5 0 1.6-.2 1.7-.6 1.9-.8 1.9-1.2 1.9-1.5 1.8-1.7 1.6-1.7 1.3-1.5 1.1-1.4 1.1-1.3 .9-1.1 1-1.2 1-1.2 1.1-1.3 1-1.3 1-1.5 1.1-1.9 1.1-2.2 1.2-2.7 1.2-3 1.3-2.9 1.4-3.5 1.4-3.9 1.6-3.9 1.7-3.6 1.9-3.1 2.1-2.9 2.2-2.6 2.2-2.3 2.3-1.9 2.2-1.4 2.2-.8 2.1-.4 2.2 0 2.1 .4 2.2 .6 2.1 .7 2.2 .6 2.1 .5 2.2 .5 2.1 .4 2.2 .5 2.1 .8 2.2 1.2 2 1.4 2.1 1.6 2.2 1.6 2.2 1.4 2.2 1.2 2.4 .8 2.5 .5 2.5 .3 2.6 .2 2.6 .4 2.5 .8" fill="none" stroke="#5aa535" stroke-width="1.1" stroke-opacity="0.420" stroke-linejoin="round" stroke-linecap="round"/>
<path d="M35.5 49l2.9-1.3 2.7-.6 2.7-.1 2.9 .4 3.2 .5 3.9 .1 4.6-.8 5.4-1.6 5.7-.7 5.8 .9 5.6 .7 5.2-.7 4.8-1.1 4.6-.2 4.4 1 4.3 1.7 4 1.6 3.7 1.2 3.4 1.1 3.2 1.5 2.9 2 2.8 2.6 2.5 3 2.4 3.2 2.2 3.3 1.9 3.1 1.7 2.8 1.6 2.5 1.7 2.3 1.7 2.4 1.7 2.5 1.8 2.3 1.7 2.2 1.8 2 1.8 1.9 1.9 1.9 2.1 2 2.3 2.4 2.4 2.5 2.2 2.2 2.1 2 1.8 1.4 1.5 1 1.1 .7 .9 .3 .9 .2 1-.1 1.1-.2 1.3-.5 1.3-.7 1.4-1 1.5-1.1 1.5-1.3 1.6-1.3 1.7-1.5 1.9-1.6 1.9-1.7 1.9-1.9 1.8-2.1 1.6-2.1 1.3-2.1 1.1-2.1 1.1-2.2 .9-2.1 1-2.3 1-2.3 1.1-2.4 1-2.3 1-2.6 1.1-2.6 1.1-2.7 1.2-2.4 1.2-2.1 1.3-1.7 1.4-1.5 1.4-1.3 1.6-1 1.7-.9 1.9-.7 2.1-.7 2.2-.6 2.2-.6 2.3-.7 2.2-.7 2.2-.5 2.1-.1 2.2 .2 2.1 .6 2.2 1.1 2.1 1.3 2.2 1.4 2.1 1.4 2.2 1.3 2.1 1.2 2.2 .8 2.1 .5 2.2 .3 2 .1 2.1 0 2.2 .1 2.2 .4 2.2 .6 2.4 .8 2.5 1 2.5 .8 2.6 .6 2.6 .3 2.5 .1" fill="none" stroke="#5aa535" stroke-width="1.1" stroke-opacity="0.420" stroke-linejoin="round" stroke-linecap="round"/>
<path d="M35.5 45.6l2.9-.2 2.7-.2 2.7-.2 2.9-.3 3.2-.3 3.9-.3 4.6-.2 5.4 .3 5.7 .5 5.8 .4 5.6 .2 5.2 .2 4.8 .7 4.6 1.1 4.4 1.5 4.3 1.5 4 1.7 3.7 1.7 3.4 1.8 3.2 1.9 2.9 2.1 2.8 2.2 2.5 2.5 2.4 1.9 2.2 1.5 1.9 1.2 1.7 1.1 1.6 1.1 1.7 1.2 1.7 1.2 1.7 1.3 1.8 1.3 1.7 1.1 1.8 1.1 1.8 1 1.9 1 2.1 1 2.3 1.1 2.4 1 2.2 1 2.1 .7 1.8 .5 1.5 .3 1.1 .1 .9 .1 .9-.1 1 0 1.1-.1 1.3-.2 1.3-.2 1.4-.2 1.5-.3 1.5-.2 1.6-.2 1.7-.2 1.9-.2 1.9-.1 1.9-.1 1.8 0 1.6 .1 1.3 .1 1.1 .2 1.1 .3 .9 .2 1 .2 1 0 1.1-.1 1-.2 1-.4 1.1-.6 1.1-.9 1.2-1.2 1.2-1.5 1.3-1.5 1.4-1.7 1.4-1.9 1.6-2.3 1.7-2.4 1.9-3.6 2.1-2.9 2.2-2.5 2.2-2 2.3-1.6 2.2-1.2 2.2-1 2.1-.9 2.2-.7 2.1-.5 2.2-.3 2.1-.2 2.2 0 2.1 .3 2.2 .4 2.1 .7 2.2 .7 2.1 .9 2.2 .9 2 .9 2.1 .8 2.2 .8 2.2 .7 2.2 .9 2.4 .9 2.5 1 2.5 1 2.6 .9 2.6 .8 2.5 .7" fill="none" stroke="#5aa535" stroke-width="1.1" stroke-opacity="0.420" stroke-linejoin="round" stroke-linecap="round"/>
<path d="M35.5 47.7l2.9 .2 2.7 .3 2.7 .2 2.9 0 3.2-.1 3.9-.4 4.6-.6 5.4-.4 5.7 .2 5.8 .5 5.6 .3 5.2 0 4.8-.2 4.6 .3 4.4 .9 4.3 1.5 4 2 3.7 2.1 3.4 2.2 3.2 2.2 2.9 2 2.8 2.2 2.5 2.5 2.4 2.9 2.2 3.1 1.9 2.8 1.7 2.8 1.6 2.8 1.7 3 1.7 3.3 1.7 3.3 1.8 3 1.7 2.7 1.8 2.4 1.8 2.1 1.9 1.8 2.1 1.9 2.3 1.8 2.4 1.8 2.2 1.6 2.1 1.4 1.8 1.1 1.5 .7 1.1 .3 .9-.1 .9-.1 1-.3 1.1-.3 1.3-.5 1.3-.6 1.4-.7 1.5-.9 1.5-1.1 1.6-1.2 1.7-1.5 1.9-1.8 1.9-2 1.9-2.2 1.8-2.2 1.6-2.1 1.3-1.9 1.1-2 1.1-1.9 .9-2 1-2.3 1-2.6 1.1-2.8 1-2.6 1-2.6 1.1-2.8 1.1-3.2 1.2-3.3 1.2-3.2 1.3-2.7 1.4-2.2 1.4-1.8 1.6-1.6 1.7-1.4 1.9-1.3 2.1-1 2.2-.8 2.2-.7 2.3-.5 2.2-.2 2.2-.2 2.1 .1 2.2 .3 2.1 .4 2.2 .7 2.1 .9 2.2 .9 2.1 1.1 2.2 1.1 2.1 1 2.2 1.1 2.1 1.1 2.2 1.1 2 1.1 2.1 1 2.2 1 2.2 .8 2.2 .9 2.4 .8 2.5 .9 2.5 1 2.6 .9 2.6 .9 2.5 .8" fill="none" stroke="#5aa535" stroke-width="1.1" stroke-opacity="0.420" stroke-linejoin="round" stroke-linecap="round"/>
<path d="M35.5 48.3l2.9 .1 2.7-.1 2.7-.3 2.9-.4 3.2-.4 3.9-.4 4.6-.1 5.4 .1 5.7 0 5.8-.4 5.6-.5 5.2 0 4.8 .5 4.6 .8 4.4 1 4.3 1 4 1.1 3.7 1.2 3.4 1.6 3.2 1.8 2.9 1.9 2.8 2 2.5 2.1 2.4 2.1 2.2 2.1 1.9 2.1 1.7 2 1.6 1.8 1.7 1.8 1.7 2 1.7 2.3 1.8 2.4 1.7 2.3 1.8 2.4 1.8 2.4 1.9 2.2 2.1 2.2 2.3 2.3 2.4 2.2 2.2 2.1 2.1 1.7 1.8 1.4 1.5 1 1.1 .7 .9 .4 .9 .4 1 .4 1.1 .3 1.3 .4 1.3 0 1.4-.2 1.5-.5 1.5-.6 1.6-.7 1.7-.9 1.9-1.1 1.9-1.1 1.9-1.2 1.8-1.1 1.6-1.1 1.3-.8 1.1-.8 1.1-.7 .9-.8 1-.8 1-.9 1.1-1.1 1-1.1 1-1.3 1.1-1.4 1.1-1.7 1.2-2.1 1.2-2.4 1.3-2.7 1.4-2.9 1.4-2.9 1.6-3.3 1.7-3.9 1.9-4 2.1-3.1 2.2-2.4 2.2-1.6 2.3-1.2 2.2-.7 2.2-.5 2.1-.2 2.2-.2 2.1-.1 2.2-.1 2.1-.1 2.2 0 2.1 0 2.2 0 2.1 .2 2.2 .4 2.1 .5 2.2 .6 2 .8 2.1 .8 2.2 .8 2.2 .9 2.2 1 2.4 1 2.5 .9 2.5 .9 2.6 .6 2.6 .5 2.5 .4" fill="none" stroke="#5aa535" stroke-width="1.1" stroke-opacity="0.420" stroke-linejoin="round" stroke-linecap="round"/>
<path d="M35.5 59.3l2.9-.2 2.7-.1 2.7-.3 2.9-.3 3.2-.5 3.9-.5 4.6-.2 5.4 .3 5.7 .6 5.8 .1 5.6-.5 5.2-.6 4.8-.2 4.6 .3 4.4 .8 4.3 .8 4 .8 3.7 .6 3.4 .7 3.2 .8 2.9 1 2.8 1.2 2.5 1.4 2.4 1.5 2.2 1.8 1.9 1.7 1.7 2.1 1.6 2.3 1.7 2.3 1.7 2.6 1.7 2.8 1.8 3 1.7 3 1.8 3.1 1.8 2.8 1.9 2.7 2.1 2.5 2.3 2.5 2.4 2.4 2.2 2.2 2.1 2.1 1.8 1.8 1.5 1.4 1.1 1.1 .9 .9 .9 .8 1 .8 1.1 .7 1.3 .4 1.3 .2 1.4-.2 1.5-.4 1.5-.7 1.6-1 1.7-1.4 1.9-1.7 1.9-2 1.9-2 1.8-2.1 1.6-1.9 1.3-1.7 1.1-1.6 1.1-1.4 .9-1.5 1-1.5 1-1.9 1.1-2.1 1-2.3 1-2.5 1.1-2.8 1.1-2.8 1.2-3 1.2-3.3 1.3-3.6 1.4-3.6 1.4-2.8 1.6-2.2 1.7-1.8 1.9-1.7 2.1-1.4 2.2-1.1 2.2-.9 2.3-.5 2.2-.2 2.2 0 2.1 .3 2.2 .5 2.1 .7 2.2 .9 2.1 1 2.2 1.1 2.1 1 2.2 1.1 2.1 1 2.2 .8 2.1 .9 2.2 .9 2 .9 2.1 1 2.2 .9 2.2 .9 2.2 1 2.4 .9 2.5 1 2.5 .9 2.6 .9 2.6 .7 2.5 .5" fill="none" stroke="#5aa535" stroke-width="1.1" stroke-opacity="0.420" stroke-linejoin="round" stroke-linecap="round"/>
<path d="M35.5 51.1l2.9-.7 2.7-.5 2.7-.3 2.9-.1 3.2-.3 3.9-.5 4.6-.7 5.4-.7 5.7-.5 5.8 .1 5.6 .2 5.2 0 4.8-.2 4.6-.1 4.4 .4 4.3 1 4 1.5 3.7 1.8 3.4 1.8 3.2 1.9 2.9 1.9 2.8 1.9 2.5 2.2 2.4 2.9 2.2 3.6 1.9 3.4 1.7 3.2 1.6 3.4 1.7 3.5 1.7 3.6 1.7 3.6 1.8 3.1 1.7 2.7 1.8 2.3 1.8 2.1 1.9 2 2.1 2 2.3 2.1 2.4 2 2.2 2 2.1 1.5 1.8 .5 1.5 0 1.1-.2 .9-.2 .9-.3 1-.3 1.1-.6 1.3-.7 1.3-1 1.4-1.1 1.5-1.4 1.5-1.6 1.6-1.8 1.7-2.2 1.9-2.7 1.9-3 1.9-3.5 1.8-4.1 1.6-4.4 1.3-3.9 1.1-3.3 1.1-3 .9-3 1-2.9 1-3 1.1-2.3 1-1.5 1-1.2 1.1-.9 1.1-.7 1.2-.7 1.2-.6 1.3-.4 1.4-.5 1.4-.4 1.6-.4 1.7-.4 1.9-.4 2.1-.5 2.2-.4 2.2-.4 2.3-.2 2.2 0 2.2 .2 2.1 .3 2.2 .6 2.1 .7 2.2 .7 2.1 .9 2.2 1 2.1 1.1 2.2 1 2.1 1 2.2 .8 2.1 .7 2.2 .6 2 .6 2.1 .6 2.2 .5 2.2 .6 2.2 .6 2.4 .6 2.5 .5 2.5 .4 2.6 .2 2.6 .2 2.5 .1" fill="none" stroke="#5aa535" stroke-width="1.1" stroke-opacity="0.420" stroke-linejoin="round" stroke-linecap="round"/>
<path d="M35.5 50.3l2.9-.6 2.7-.3 2.7 0 2.9 .3 3.2 .4 3.9 .3 4.6-.2 5.4-.8 5.7-.8 5.8 .2 5.6 1.1 5.2 .8 4.8 .2 4.6 0 4.4 .4 4.3 1.2 4 2.2 3.7 2.7 3.4 2.7 3.2 2.5 2.9 2.3 2.8 2.3 2.5 2.8 2.4 4 2.2 3.8 1.9 3.7 1.7 3.7 1.6 3.6 1.7 3.8 1.7 3.7 1.7 3.6 1.8 3.1 1.7 2.6 1.8 2.3 1.8 2.2 1.9 1.9 2.1 2 2.3 1.8 2.4 1.8 2.2 1.6 2.1 1.4 1.8 .6 1.5 0 1.1-.1 .9-.2 .9-.3 1-.4 1.1-.5 1.3-.7 1.3-.9 1.4-1 1.5-1.2 1.5-1.4 1.6-1.7 1.7-1.9 1.9-2.3 1.9-2.6 1.9-2.8 1.8-3 1.6-3.1 1.3-3.1 1.1-3 1.1-2.8 .9-2.6 1-2.6 1-2.9 1.1-3.1 1-3.2 1-3.3 1.1-3.1 1.1-2 1.2-1.8 1.2-1.7 1.3-1.4 1.4-1.4 1.4-1.2 1.6-1.1 1.7-1 1.9-.9 2.1-.9 2.2-.7 2.2-.6 2.3-.4 2.2-.2 2.2 .2 2.1 .4 2.2 .8 2.1 .9 2.2 1.2 2.1 1.2 2.2 1.2 2.1 1.1 2.2 1 2.1 1 2.2 .8 2.1 .8 2.2 .6 2 .7 2.1 .6 2.2 .6 2.2 .8 2.2 .8 2.4 .9 2.5 .9 2.5 .8 2.6 .6 2.6 .3 2.5 0" fill="none" stroke="#5aa535" stroke-width="1.1" stroke-opacity="0.420" stroke-linejoin="round" stroke-linecap="round"/>
<path d="M35.5 54.3l2.9-.7 2.7-.3 2.7-.1 2.9 .2 3.2 .2 3.9 .1 4.6-.3 5.4-.7 5.7-.8 5.8 0 5.6 .6 5.2 .6 4.8 .2 4.6-.1 4.4-.1 4.3 .4 4 1.1 3.7 1.7 3.4 1.9 3.2 1.9 2.9 1.7 2.8 1.7 2.5 1.8 2.4 3.1 2.2 3 1.9 2.8 1.7 2.8 1.6 2.9 1.7 3.1 1.7 3.2 1.7 3.1 1.8 2.7 1.7 2.5 1.8 2.4 1.8 2.4 1.9 2.4 2.1 2.5 2.3 2.6 2.4 2.5 2.2 2 2.1 1 1.8-.1 1.5-.2 1.1-.3 .9-.2 .9-.3 1-.3 1.1-.5 1.3-.8 1.3-.9 1.4-1.1 1.5-1.2 1.5-1.3 1.6-1.6 1.7-1.8 1.9-2.4 1.9-3.1 1.9-4 1.8-4.8 1.6-4.6 1.3-3.9 1.1-3.6 1.1-3.5 .9-3.2 1-2.5 1-1.7 1.1-1.5 1-1.1 1-.9 1.1-.7 1.1-.6 1.2-.4 1.2-.3 1.3 0 1.4 .1 1.4 .2 1.6 .4 1.7 .4 1.9 .6 2.1 .6 2.2 .6 2.2 .6 2.3 .5 2.2 .5 2.2 .4 2.1 .2 2.2 .1 2.1 .1 2.2 .1 2.1 .2 2.2 .2 2.1 .4 2.2 .3 2.1 .2 2.2 .1 2.1 0 2.2 0 2-.2 2.1-.2 2.2-.3 2.2-.3 2.2-.3 2.4-.4 2.5-.2 2.5-.1 2.6 .2 2.6 .3 2.5 .3" fill="none" stroke="#5aa535" stroke-width="1.1" stroke-opacity="0.420" stroke-linejoin="round" stroke-linecap="round"/>
<path d="M35.5 50l2.9-2.2 2.7-1.8 2.7-1.4 2.9-1.3 3.2-.9 3.9-.5 4.6-.5 5.4-1.1 5.7-1.7 5.8-1.6 5.6-.5 5.2 .3 4.8 .2 4.6-.1 4.4-.2 4.3 .3 4 1.2 3.7 2.2 3.4 2.8 3.2 3.1 2.9 3 2.8 2.8 2.5 3 2.4 3.4 2.2 3.3 1.9 3 1.7 3 1.6 3 1.7 3.2 1.7 3.3 1.7 3.3 1.8 2.9 1.7 2.6 1.8 2.6 1.8 2.5 1.9 2.7 2.1 2.7 2.3 2.7 2.4 2.7 2.2 2.2 2.1 1.1 1.8 .2 1.5 .1 1.1 0 .9 0 .9 0 1-.2 1.1-.4 1.3-.7 1.3-.8 1.4-.9 1.5-1 1.5-1.2 1.6-1.3 1.7-1.6 1.9-2.1 1.9-2.8 1.9-3.9 1.8-4.5 1.6-3.9 1.3-3.4 1.1-3.2 1.1-2.8 .9-2.4 1-2 1-1.8 1.1-1.5 1-1.4 1-1.2 1.1-1.2 1.1-1 1.2-.9 1.2-.7 1.3-.6 1.4-.3 1.4-.2 1.6 0 1.7 .1 1.9 .3 2.1 .3 2.2 .3 2.2 .3 2.3 .3 2.2 .4 2.2 .4 2.1 .5 2.2 .6 2.1 .7 2.2 .9 2.1 1 2.2 1.1 2.1 1.1 2.2 .7 2.1 .6 2.2 .3 2.1 .1 2.2-.1 2-.2 2.1-.2 2.2-.1 2.2-.1 2.2 0 2.4 .2 2.5 .3 2.5 .4 2.6 .3 2.6-.1 2.5-.4" fill="none" stroke="#5aa535" stroke-width="1.1" stroke-opacity="0.420" stroke-linejoin="round" stroke-linecap="round"/>
<path d="M35.5 50.4l2.9-1.7 2.7-1.5 2.7-1.3 2.9-1 3.2-.8 3.9-.5 4.6-.4 5.4-.4 5.7-.3 5.8-.1 5.6 .3 5.2 .5 4.8 .7 4.6 .8 4.4 .6 4.3 .7 4 .6 3.7 .8 3.4 .9 3.2 1.1 2.9 1.2 2.8 1.4 2.5 1.5 2.4 1.5 2.2 1.4 1.9 1.2 1.7 1 1.6 .9 1.7 .9 1.7 1 1.7 1.2 1.8 1.4 1.7 1.7 1.8 2 1.8 2.3 1.9 2.7 2.1 3.2 2.3 4 2.4 4.4 2.2 4.2 2.1 3.6 1.8 2.8 1.5 2 1.1 1.5 .9 1.1 .9 1 1 .8 1.1 .9 1.3 .9 1.3 1 1.4 1 1.5 1.1 1.5 1.2 1.6 1.3 1.7 1.4 1.9 1.2 1.9 .4 1.9 .1 1.8-.2 1.6-.4 1.3-.4 1.1-.5 1.1-.6 .9-.7 1-.8 1-1.1 1.1-1.2 1-1.3 1-1.4 1.1-1.4 1.1-1.6 1.2-1.7 1.2-1.9 1.3-1.9 1.4-2.1 1.4-2.5 1.6-3.1 1.7-4 1.9-4.7 2.1-5 2.2-5.9 2.2-5.6 2.3-4.1 2.2-2.9 2.2-2 2.1-1.4 2.2-.9 2.1-.6 2.2-.1 2.1 .1 2.2 .2 2.1 .4 2.2 .4 2.1 .5 2.2 .6 2.1 .6 2.2 .5 2 .5 2.1 .5 2.2 .4 2.2 .4 2.2 .5 2.4 .8 2.5 .9 2.5 1 2.6 .9 2.6 .8 2.5 .8" fill="none" stroke="#5aa535" stroke-width="1.1" stroke-opacity="0.420" stroke-linejoin="round" stroke-linecap="round"/>
<path d="M35.5 53.6l2.9-.6 2.7-.7 2.7-.8 2.9-.9 3.2-1 3.9-.8 4.6-.5 5.4 .2 5.7 .6 5.8 0 5.6-.8 5.2-.9 4.8-.4 4.6 .4 4.4 1 4.3 1.2 4 1.2 3.7 1 3.4 .9 3.2 1.1 2.9 1.2 2.8 1.4 2.5 1.7 2.4 1.8 2.2 2.1 1.9 2.1 1.7 2.3 1.6 2.9 1.7 3 1.7 3.2 1.7 3.5 1.8 3.7 1.7 3.7 1.8 3.8 1.8 3.6 1.9 3.4 2.1 3.1 2.3 2.9 2.4 2.8 2.2 2.7 2.1 2.5 1.8 2.1 1.5 1.7 1.1 1.5 .9 1.2 .9 1.1 1 1.1 1.1 1.2 1.3 .8 1.3 .4 1.4 0 1.5-.2 1.5-.6 1.6-.9 1.7-1.3 1.9-1.7 1.9-2.1 1.9-2.3 1.8-2.3 1.6-2.2 1.3-2 1.1-1.8 1.1-1.6 .9-1.7 1-1.7 1-2.2 1.1-2.4 1-2.6 1-2.9 1.1-3.1 1.1-3.4 1.2-3.5 1.2-3.8 1.3-4.2 1.4-4.2 1.4-3.3 1.6-2.5 1.7-1.9 1.9-1.8 2.1-1.5 2.2-1.4 2.2-1.1 2.3-.9 2.2-.8 2.2-.6 2.1-.5 2.2-.2 2.1-.1 2.2 .2 2.1 .5 2.2 .7 2.1 .9 2.2 1 2.1 1 2.2 1 2.1 1 2.2 1 2 .9 2.1 .8 2.2 .8 2.2 .6 2.2 .5 2.4 .5 2.5 .6 2.5 .6 2.6 .8 2.6 .9 2.5 .9" fill="none" stroke="#5aa535" stroke-width="1.1" stroke-opacity="0.420" stroke-linejoin="round" stroke-linecap="round"/>
<path d="M35.5 57.7l2.9-.8 2.7-.9 2.7-1.1 2.9-1.2 3.2-1.3 3.9-1.3 4.6-1.3 5.4-.9 5.7-.2 5.8 .2 5.6 .1 5.2-.3 4.8-.4 4.6-.3 4.4 .1 4.3 .5 4 .7 3.7 1 3.4 1.1 3.2 1 2.9 1 2.8 1 2.5 1 2.4 1.2 2.2 1.6 1.9 1.8 1.7 2.2 1.6 2.4 1.7 2.6 1.7 3.1 1.7 3.6 1.8 3.6 1.7 3.5 1.8 3.2 1.8 2.9 1.9 2.5 2.1 2.1 2.3 1.9 2.4 1.5 2.2 1.1 2.1 .7 1.8 .4 1.5 0 1.1-.2 .9-.4 .9-.4 1-.3 1.1-.3 1.3-.3 1.3-.3 1.4-.5 1.5-.5 1.5-.7 1.6-.8 1.7-1.1 1.9-1.4 1.9-1.6 1.9-1.9 1.8-2 1.6-2.1 1.3-2.2 1.1-2.2 1.1-2 .9-1.9 1-1.7 1-1.7 1.1-1.7 1-1.7 1-1.6 1.1-1.5 1.1-1.3 1.2-1.2 1.2-1.1 1.3-1.2 1.4-1.2 1.4-1.2 1.6-1.2 1.7-1.2 1.9-1.2 2.1-.9 2.2-.7 2.2-.4 2.3-.1 2.2 .2 2.2 .4 2.1 .6 2.2 .8 2.1 .8 2.2 .8 2.1 .7 2.2 .7 2.1 .5 2.2 .4 2.1 .3 2.2 .1 2.1 0 2.2-.2 2-.2 2.1-.1 2.2 0 2.2 .2 2.2 .4 2.4 .7 2.5 .8 2.5 1 2.6 1 2.6 1 2.5 1" fill="none" stroke="#5aa535" stroke-width="1.1" stroke-opacity="0.420" stroke-linejoin="round" stroke-linecap="round"/>
<path d="M35.5 49l2.9-.3 2.7 0 2.7 0 2.9-.1 3.2-.2 3.9-.6 4.6-.8 5.4-.4 5.7 .4 5.8 .7 5.6 .2 5.2-.4 4.8-.4 4.6 .3 4.4 1 4.3 1.5 4 1.7 3.7 1.7 3.4 1.7 3.2 1.6 2.9 1.9 2.8 2.1 2.5 2.7 2.4 3.1 2.2 3.3 1.9 3 1.7 2.8 1.6 2.7 1.7 2.8 1.7 2.8 1.7 2.7 1.8 2.3 1.7 1.9 1.8 1.6 1.8 1.4 1.9 1.4 2.1 1.4 2.3 1.7 2.4 1.9 2.2 2 2.1 1.9 1.8 1.7 1.5 1.3 1.1 .8 .9 .6 .9 .4 1 .2 1.1 .1 1.3-.1 1.3-.4 1.4-.6 1.5-.9 1.5-1 1.6-1.2 1.7-1.4 1.9-1.6 1.9-1.6 1.9-1.6 1.8-1.4 1.6-1.2 1.3-1 1.1-1 1.1-1 .9-1.3 1-1.5 1-2 1.1-2.2 1-2.4 1-2.4 1.1-2.7 1.1-3.3 1.2-3.6 1.2-3.6 1.3-3.2 1.4-2.8 1.4-2.5 1.6-2.3 1.7-2.1 1.9-1.8 2.1-1.5 2.2-1.2 2.2-.8 2.3-.5 2.2-.1 2.2-.1 2.1 .1 2.2 .1 2.1 .1 2.2 .2 2.1 .2 2.2 .2 2.1 .4 2.2 .5 2.1 .8 2.2 1 2.1 1.4 2.2 1.7 2 1.9 2.1 2 2.2 2 2.2 1.8 2.2 1.6 2.4 1.3 2.5 .9 2.5 .6 2.6 .3 2.6 .2 2.5 .1" fill="none" stroke="#5aa535" stroke-width="1.1" stroke-opacity="0.420" stroke-linejoin="round" stroke-linecap="round"/>
<path d="M35.5 51.3l2.9-.3 2.7-.2 2.7-.2 2.9-.3 3.2-.5 3.9-.7 4.6-.9 5.4-.5 5.7 .3 5.8 1 5.6 .9 5.2 .4 4.8 0 4.6-.1 4.4 .2 4.3 1 4 1.6 3.7 2.2 3.4 2.5 3.2 2.6 2.9 2.4 2.8 2.2 2.5 2.1 2.4 2.3 2.2 2.2 1.9 2.1 1.7 2 1.6 2 1.7 2.1 1.7 2.6 1.7 2.9 1.8 2.8 1.7 2.7 1.8 2.6 1.8 2.4 1.9 2.3 2.1 2.4 2.3 2.4 2.4 2.3 2.2 2 2.1 1.6 1.8 1.2 1.5 .8 1.1 .4 .9 .1 .9-.1 1-.2 1.1-.4 1.3-.6 1.3-.8 1.4-1 1.5-1 1.5-1.3 1.6-1.3 1.7-1.4 1.9-1.6 1.9-1.6 1.9-1.7 1.8-1.6 1.6-1.6 1.3-1.5 1.1-1.6 1.1-1.6 .9-1.7 1-1.9 1-2.1 1.1-2.1 1-2.1 1-2.3 1.1-2.5 1.1-2.6 1.2-2.8 1.2-2.7 1.3-2.3 1.4-2.1 1.4-2.1 1.6-1.9 1.7-1.7 1.9-1.6 2.1-1.4 2.2-1.1 2.2-.7 2.3-.5 2.2-.1 2.2 .2 2.1 .3 2.2 .6 2.1 .7 2.2 .8 2.1 .8 2.2 .8 2.1 .7 2.2 .7 2.1 .7 2.2 .7 2.1 .6 2.2 .7 2 .5 2.1 .5 2.2 .4 2.2 .5 2.2 .5 2.4 .6 2.5 .7 2.5 .8 2.6 .6 2.6 .6 2.5 .4" fill="none" stroke="#5aa535" stroke-width="1.1" stroke-opacity="0.420" stroke-linejoin="round" stroke-linecap="round"/>
<path d="M35.5 45.2l2.9-.4 2.7-.6 2.7-.8 2.9-.9 3.2-.6 3.9 .2 4.6 1.2 5.4 1.1 5.7-.7 5.8-1.3 5.6 .5 5.2 1.5 4.8 .5 4.6-.8 4.4-.8 4.3 .4 4 1.7 3.7 2.1 3.4 1.9 3.2 1.4 2.9 1.3 2.8 1.5 2.5 2 2.4 2.6 2.2 3.1 1.9 3.3 1.7 3.8 1.6 3.7 1.7 3.5 1.7 3.7 1.7 3.6 1.8 3.5 1.7 3.3 1.8 3.1 1.8 3 1.9 2.7 2.1 2.8 2.3 3.2 2.4 3.4 2.2 3.5 2.1 3.1 1.8 2.6 1.5 2.1 1.1 1.6 .9 1.3 .9 1.2 1 1.1 1.1 .8 1.3 .4 1.3-.1 1.4-.6 1.5-.8 1.5-1.1 1.6-1.2 1.7-1.5 1.9-1.6 1.9-1.7 1.9-1.8 1.8-2 1.6-2 1.3-2.1 1.1-1.9 1.1-2.1 .9-2 1-2.1 1-2.4 1.1-2.6 1-2.6 1-2.8 1.1-3 1.1-3.1 1.2-3.2 1.2-3.1 1.3-3 1.4-3.4 1.4-3.3 1.6-2.4 1.7-1.6 1.9-1.1 2.1-1.1 2.2-1.1 2.2-1.3 2.3-1.4 2.2-1.5 2.2-1.4 2.1-1.1 2.2-.9 2.1-.4 2.2-.2 2.1 .2 2.2 .2 2.1 .3 2.2 .1 2.1 .1 2.2 0 2.1 0 2.2 .2 2 .5 2.1 .9 2.2 1.2 2.2 1.4 2.2 1.3 2.4 1.1 2.5 .5 2.5-.1 2.6-.5 2.6-.8 2.5-.7" fill="none" stroke="#5aa535" stroke-width="1.1" stroke-opacity="0.420" stroke-linejoin="round" stroke-linecap="round"/>
<path d="M35.5 48l2.9-.8 2.7-.6 2.7-.5 2.9-.3 3.2-.2 3.9-.2 4.6-.4 5.4-1 5.7-1.1 5.8-.7 5.6 .2 5.2 .5 4.8 .4 4.6 .1 4.4 .1 4.3 .5 4 1.2 3.7 1.8 3.4 2.4 3.2 2.7 2.9 2.7 2.8 2.7 2.5 2.7 2.4 3 2.2 3.2 1.9 3.3 1.7 3.2 1.6 3.1 1.7 3.4 1.7 3.6 1.7 3.9 1.8 3.7 1.7 3.5 1.8 3.2 1.8 3 1.9 2.7 2.1 2.5 2.3 2.5 2.4 2.2 2.2 1.8 2.1 1.4 1.8 1 1.5 .5 1.1 .2 .9-.1 .9-.2 1-.4 1.1-.5 1.3-.7 1.3-.8 1.4-.8 1.5-1 1.5-1 1.6-1.2 1.7-1.2 1.9-1.5 1.9-1.5 1.9-1.6 1.8-1.6 1.6-1.6 1.3-1.5 1.1-1.4 1.1-1.4 .9-1.5 1-1.7 1-2.2 1.1-2.5 1-2.6 1-2.7 1.1-2.9 1.1-3 1.2-3.4 1.2-3.8 1.3-3.8 1.4-3.3 1.4-2.7 1.6-2.4 1.7-2 1.9-1.8 2.1-1.4 2.2-1 2.2-.6 2.3-.4 2.2-.2 2.2-.1 2.1 0 2.2 .1 2.1 .1 2.2 .3 2.1 .5 2.2 .6 2.1 .8 2.2 1.1 2.1 1.2 2.2 1.3 2.1 1.5 2.2 1.5 2 1.6 2.1 1.5 2.2 1.3 2.2 1.1 2.2 .7 2.4 .4 2.5 .1 2.5-.2 2.6-.4 2.6-.4 2.5-.4" fill="none" stroke="#5aa535" stroke-width="1.1" stroke-opacity="0.420" stroke-linejoin="round" stroke-linecap="round"/>
<path d="M35.5 56.4l2.9-1.1 2.7-1.2 2.7-1.2 2.9-1.1 3.2-1 3.9-.9 4.6-.6 5.4-.6 5.7-.4 5.8-.3 5.6-.2 5.2 0 4.8 .1 4.6 .2 4.4 .3 4.3 .5 4 .7 3.7 1 3.4 1.2 3.2 1.5 2.9 1.7 2.8 1.9 2.5 1.9 2.4 1.9 2.2 1.9 1.9 1.9 1.7 2 1.6 2.1 1.7 2.2 1.7 2.4 1.7 2.6 1.8 2.8 1.7 3 1.8 2.9 1.8 2.9 1.9 2.6 2.1 2.4 2.3 2.3 2.4 2.3 2.2 2 2.1 1.8 1.8 1.4 1.5 1.1 1.1 .8 .9 .6 .9 .3 1 .1 1.1-.1 1.3-.2 1.3-.5 1.4-.6 1.5-.8 1.5-1 1.6-1.2 1.7-1.4 1.9-1.6 1.9-1.8 1.9-2 1.8-2 1.6-1.9 1.3-2.1 1.1-2 1.1-2.2 .9-2.1 1-2.3 1-2.3 1.1-2.4 1-2.6 1-2.6 1.1-2.6 1.1-2.3 1.2-2.1 1.2-1.7 1.3-1.5 1.4-1.3 1.4-1.2 1.6-1 1.7-.8 1.9-.8 2.1-.5 2.2-.4 2.2-.3 2.3-.2 2.2 0 2.2 .2 2.1 .3 2.2 .4 2.1 .6 2.2 .6 2.1 .7 2.2 .8 2.1 1 2.2 1.1 2.1 1.1 2.2 1 2.1 .8 2.2 .7 2 .6 2.1 .6 2.2 .5 2.2 .4 2.2 .5 2.4 .4 2.5 .4 2.5 .3 2.6 .3 2.6 .4 2.5 .3" fill="none" stroke="#438a22" stroke-width="5.2" stroke-linejoin="round" stroke-linecap="round"/>
<line x1="23.2" y1="66.7" x2="292.7" y2="66.7" stroke="#000" stroke-width="5" stroke-dasharray="18.6 7"/>
<line x1="198.6" y1="34" x2="198.6" y2="135.5" stroke="#000" stroke-width="4.6"/>
<text x="23.2" y="23.8" font-family="Liberation Sans, sans-serif" font-size="38" font-weight="bold" text-anchor="start">a</text>
<path d="M34.4 213.2l3.3-2 3.3-1.8 3.2-1.1 3.3-.3 3.2 .4 3.1 .7 3 .7 3 .3 2.9 0 2.8-.1 2.8-.1 2.7 .2 2.6 .8 2.6 1.1 2.5 1.4 2.4 1.4 2.5 1.2 2.5 .9 2.5 .4 2.6 0 2.5-.3 2.6-.5 2.5-.6 2.3-.4 2.3-.2 2.3-.1 2.2 0 2.1-.1 2-.3 2.1-.7 1.8-1.1 1.8-1.7 1.7-2.6 1.7-2.8 1.8-3.2 1.9-3.4 2-3.9 2.1-3.8 2.1-3.4 2.2-3 2.2-2.2 2.3-1.6 2.5-1.2 2.5-1 2.7-1 2.6-1.1 2.5-1 2.3-.6 2-.1 1.8 .4 1.7 .8 1.7 1 1.7 1.4 1.8 1.8 2.1 2.4 2.2 3 2.2 3.1 2.2 3.2 2.2 2.8 2.1 2.4 1.9 2.2 1.8 1.9 1.8 1.7 1.7 1.4 1.7 1.3 1.8 1.1 1.8 1.1 1.9 .8 1.8 .6 1.9 .6 1.7 .5 1.7 .4 1.5 .2 1.3 0 1.3-.1 1.4-.2 1.4-.3 1.7-.4 1.8-.6 2-.8 2.1-.8 2.2-.8 2.3-.6 2.5-.2 2.6 .1 2.7 .5 2.8 .7 2.9 .7 3 .1 3.2-.5 3.3-1 3.6-1.4 3.6-.9 3.7-.1 3.7 .8 3.6 1.2 3.6 1.1 3.6 .5 3.6-.1 3.6-.4 3.6-.3 3.6 .2" fill="none" stroke="#c83a55" stroke-width="1.1" stroke-opacity="0.600" stroke-linejoin="round" stroke-linecap="round"/>
<path d="M34.4 223.1l3.3-.8 3.3-1.5 3.2-1.8 3.3-1.6 3.2-.8 3.1 .4 3 1.3 3 2.1 2.9 2.6 2.8 3.3 2.8 3.9 2.7 4.6 2.6 5.2 2.6 5.3 2.5 4.8 2.4 3.7 2.5 2.2 2.5 .2 2.5-1.7 2.6-3.5 2.5-4.6 2.6-5.1 2.5-4.8 2.3-4.2 2.3-3.5 2.3-2.8 2.2-2.3 2.1-2.1 2-2.1 2.1-2.1 1.8-2.3 1.8-2.3 1.7-1.9 1.7-1.8 1.8-1.9 1.9-2 2-2.1 2.1-2.1 2.1-2.2 2.2-2.1 2.2-2.1 2.3-2.1 2.5-2.3 2.5-2.3 2.7-2.1 2.6-1.5 2.5-.9 2.3-.1 2 .4 1.8 .6 1.7 .8 1.7 .8 1.7 .7 1.8 .7 2.1 .8 2.2 .9 2.2 1 2.2 1.3 2.2 1.5 2.1 1.9 1.9 2 1.8 2.1 1.8 2.2 1.7 2 1.7 1.7 1.8 1.5 1.8 1.2 1.9 1 1.8 1.1 1.9 .8 1.7 .6 1.7 .5 1.5 .3 1.3 .1 1.3 0 1.4-.1 1.4 0 1.7-.2 1.8-.3 2-.5 2.1-.7 2.2-1 2.3-1 2.5-1.1 2.6-.8 2.7-.5 2.8-.2 2.9 .1 3 .1 3.2-.2 3.3-.8 3.6-1.1 3.6-.9 3.7 0 3.7 .8 3.6 .9 3.6 .6 3.6 0 3.6-.1 3.6 .2 3.6 .8 3.6 1.2" fill="none" stroke="#c83a55" stroke-width="1.1" stroke-opacity="0.600" stroke-linejoin="round" stroke-linecap="round"/>
<path d="M34.4 222.3l3.3-2 3.3-2 3.2-1.4 3.3-.7 3.2-.4 3.1-.2 3-.3 3-.6 2.9-.9 2.8-1.1 2.8-1 2.7-.7 2.6-.3 2.6 .2 2.5 .5 2.4 .7 2.5 .7 2.5 .6 2.5 .2 2.6-.2 2.5-.4 2.6-.8 2.5-.8 2.3-.9 2.3-.7 2.3-.5 2.2-.4 2.1-.4 2-.2 2.1-.4 1.8-.5 1.8-.7 1.7-.9 1.7-1.9 1.8-2.1 1.9-2.4 2-2.6 2.1-2.9 2.1-2.9 2.2-2.8 2.2-2.2 2.3-1.7 2.5-1.2 2.5-.8 2.7-.6 2.6-.5 2.5-.6 2.3-.4 2-.4 1.8-.1 1.7 .2 1.7 .3 1.7 .6 1.8 .8 2.1 1.2 2.2 1.7 2.2 2.2 2.2 2.5 2.2 2.5 2.1 2.4 1.9 2.1 1.8 2 1.8 1.9 1.7 1.7 1.7 1.5 1.8 1.4 1.8 1.3 1.9 1.3 1.8 1.1 1.9 .8 1.7 .8 1.7 .9 1.5 1 1.3 .9 1.3 .9 1.4 .8 1.4 .8 1.7 .6 1.8 .5 2 .1 2.1-.2 2.2-.5 2.3-.8 2.5-1.1 2.6-1.1 2.7-1 2.8-.7 2.9-.3 3 .1 3.2 .1 3.3 .2 3.6-.3 3.6-.9 3.7-1.2 3.7-1.1 3.6-.5 3.6 .3 3.6 1 3.6 1.2 3.6 .9 3.6 .2 3.6-.4" fill="none" stroke="#c83a55" stroke-width="1.1" stroke-opacity="0.600" stroke-linejoin="round" stroke-linecap="round"/>
<path d="M34.4 218.7l3.3 .4 3.3 0 3.2-.6 3.3-1.1 3.2-1.1 3.1-.9 3-.2 3 .3 2.9 .8 2.8 1.1 2.8 1.1 2.7 1 2.6 .9 2.6 1.1 2.5 1.2 2.4 1.6 2.5 2 2.5 2.5 2.5 3 2.6 3.5 2.5 3.3 2.6 2.7 2.5 1.6 2.3 .2 2.3-1.2 2.3-2.4 2.2-3.3 2.1-4 2-4.4 2.1-4.4 1.8-4.2 1.8-4 1.7-3.7 1.7-3.1 1.8-2.8 1.9-2.6 2-2.5 2.1-2.4 2.1-2.4 2.2-2.3 2.2-2.3 2.3-2.1 2.5-2.2 2.5-2.1 2.7-2 2.6-1.4 2.5-.9 2.3-.3 2 .1 1.8 .5 1.7 .6 1.7 .8 1.7 .8 1.8 .9 2.1 1 2.2 1.2 2.2 1.2 2.2 1.3 2.2 1.4 2.1 1.6 1.9 1.8 1.8 2.1 1.8 2.3 1.7 2.5 1.7 2.5 1.8 2.5 1.8 2.5 1.9 2.3 1.8 2.1 1.9 1.9 1.7 1.4 1.7 1 1.5 .6 1.3 .3 1.3 .2 1.4-.1 1.4-.2 1.7-.4 1.8-.4 2-.5 2.1-.3 2.2-.1 2.3 .2 2.5 .3 2.6 .3 2.7-.1 2.8-.5 2.9-1.1 3-1.5 3.2-1.6 3.3-1.4 3.6-.9 3.6-.2 3.7 .1 3.7 0 3.6-.5 3.6-1.1 3.6-1.2 3.6-1 3.6-.3 3.6 .5 3.6 1.1" fill="none" stroke="#c83a55" stroke-width="1.1" stroke-opacity="0.600" stroke-linejoin="round" stroke-linecap="round"/>
<path d="M34.4 211.2l3.3 .7 3.3 .7 3.2 0 3.3-.9 3.2-1.1 3.1-.5 3 .5 3 1.3 2.9 1.4 2.8 .8 2.8 0 2.7-.7 2.6-.7 2.6-.3 2.5 .3 2.4 .7 2.5 1 2.5 .8 2.5 .2 2.6-.4 2.5-.8 2.6-1 2.5-.7 2.3-.1 2.3 .3 2.3 .4 2.2 .3 2.1-.2 2-.9 2.1-1.5 1.8-1.9 1.8-2.7 1.7-2.7 1.7-2.6 1.8-2.4 1.9-2.3 2-2.2 2.1-2 2.1-2 2.2-2 2.2-2.1 2.3-2.3 2.5-2.4 2.5-2 2.7-1.1 2.6 0 2.5 .7 2.3 1.2 2 1.1 1.8 1 1.7 .7 1.7 .5 1.7 .3 1.8 .5 2.1 .9 2.2 1.4 2.2 2.1 2.2 2.5 2.2 2.5 2.1 2.4 1.9 1.9 1.8 1.7 1.8 1.3 1.7 1.1 1.7 1.1 1.8 1.3 1.8 1.4 1.9 1.3 1.8 1.6 1.9 1.7 1.7 1.6 1.7 1.2 1.5 .8 1.3 .3 1.3 0 1.4-.4 1.4-.8 1.7-1.1 1.8-1.3 2-1.2 2.1-.8 2.2-.3 2.3 .3 2.5 .7 2.6 .5 2.7-.1 2.8-.8 2.9-1.2 3-.9 3.2 0 3.3 1 3.6 1 3.6 .1 3.7-1.2 3.7-1.5 3.6-.5 3.6 .8 3.6 1.3 3.6 .5 3.6-.7 3.6-1.4 3.6-.9" fill="none" stroke="#c83a55" stroke-width="1.1" stroke-opacity="0.600" stroke-linejoin="round" stroke-linecap="round"/>
<path d="M34.4 217.1l3.3 .1 3.3-.3 3.2-.6 3.3-.9 3.2-.9 3.1-.6 3-.2 3 .3 2.9 .7 2.8 .9 2.8 .9 2.7 .8 2.6 .7 2.6 .8 2.5 .7 2.4 .7 2.5 .6 2.5 .5 2.5 .6 2.6 .7 2.5 .7 2.6 .7 2.5 .4 2.3 0 2.3-.5 2.3-.8 2.2-1.2 2.1-1.5 2-1.7 2.1-1.8 1.8-1.9 1.8-2 1.7-2.2 1.7-1.9 1.8-2 1.9-2.1 2-2.3 2.1-2.6 2.1-2.9 2.2-2.9 2.2-3 2.3-2.7 2.5-2.6 2.5-2.5 2.7-2.3 2.6-1.7 2.5-1.2 2.3-.6 2-.1 1.8 .3 1.7 .6 1.7 .8 1.7 1.1 1.8 1.2 2.1 1.4 2.2 1.7 2.2 1.8 2.2 1.8 2.2 1.9 2.1 1.8 1.9 1.8 1.8 1.8 1.8 1.8 1.7 1.8 1.7 1.8 1.8 1.5 1.8 1.5 1.9 1.3 1.8 1.2 1.9 1.2 1.7 .8 1.7 .7 1.5 .4 1.3 .2 1.3 .2 1.4 0 1.4-.1 1.7-.2 1.8-.3 2-.4 2.1-.4 2.2-.3 2.3-.2 2.5-.1 2.6 0 2.7-.3 2.8-.4 2.9-.5 3-.5 3.2-.2 3.3 .1 3.6 .4 3.6 .7 3.7 .5 3.7 .4 3.6 0 3.6-.2 3.6 .1 3.6 .4 3.6 .7 3.6 .9 3.6 .9" fill="none" stroke="#c83a55" stroke-width="1.1" stroke-opacity="0.600" stroke-linejoin="round" stroke-linecap="round"/>
<path d="M34.4 227.3l3.3-1.3 3.3-1.6 3.2-1.8 3.3-1.8 3.2-1.7 3.1-1.3 3-.9 3-.5 2.9 .1 2.8 .4 2.8 .6 2.7 .8 2.6 .9 2.6 .9 2.5 .6 2.4 .4 2.5 .2 2.5-.2 2.5-.1 2.6-.2 2.5-.1 2.6-.1 2.5-.1 2.3-.3 2.3-.4 2.3-.7 2.2-.9 2.1-1.2 2-1.4 2.1-1.8 1.8-2 1.8-2.3 1.7-2.6 1.7-2.6 1.8-2.6 1.9-2.8 2-3.1 2.1-3 2.1-2.9 2.2-2.5 2.2-2.1 2.3-1.7 2.5-1.6 2.5-1.7 2.7-1.5 2.6-1.5 2.5-1.3 2.3-.8 2-.3 1.8 .1 1.7 .5 1.7 .6 1.7 1 1.8 1.4 2.1 1.9 2.2 2.5 2.2 2.8 2.2 2.9 2.2 2.8 2.1 2.8 1.9 2.6 1.8 2.4 1.8 2.2 1.7 2 1.7 1.7 1.8 1.6 1.8 1.4 1.9 1.2 1.8 .9 1.9 .9 1.7 .8 1.7 .7 1.5 .6 1.3 .5 1.3 .3 1.4 .2 1.4 .2 1.7 .1 1.8 0 2-.1 2.1-.3 2.2-.4 2.3-.5 2.5-.6 2.6-.8 2.7-1 2.8-.9 2.9-.8 3-.6 3.2-.3 3.3 0 3.6 0 3.6-.1 3.7-.4 3.7-.7 3.6-.9 3.6-.7 3.6-.3 3.6 0 3.6 .5 3.6 .6 3.6 .5" fill="none" stroke="#c83a55" stroke-width="1.1" stroke-opacity="0.600" stroke-linejoin="round" stroke-linecap="round"/>
<path d="M34.4 213.9l3.3-.4 3.3-.6 3.2-.4 3.3 .1 3.2 .8 3.1 .9 3 .8 3 .5 2.9 .2 2.8 .2 2.8 .4 2.7 .7 2.6 .9 2.6 .8 2.5 .5 2.4 0 2.5-.4 2.5-.6 2.5-.5 2.6-.2 2.5 0 2.6 .1 2.5 0 2.3-.4 2.3-.6 2.3-.8 2.2-.8 2.1-.7 2-.5 2.1-.4 1.8-.4 1.8-.4 1.7-.8 1.7-.9 1.8-1.3 1.9-1.7 2-2.3 2.1-2.6 2.1-2.7 2.2-2.5 2.2-2.2 2.3-1.9 2.5-1.9 2.5-1.9 2.7-2 2.6-2.2 2.5-1.9 2.3-1.4 2-.7 1.8-.1 1.7 .4 1.7 .7 1.7 1 1.8 1.4 2.1 1.8 2.2 1.9 2.2 1.9 2.2 1.9 2.2 1.8 2.1 1.9 1.9 2.1 1.8 2 1.8 1.9 1.7 1.7 1.7 1.5 1.8 1.1 1.8 .8 1.9 .3 1.8-.1 1.9-.4 1.7-.5 1.7-.5 1.5-.6 1.3-.5 1.3-.6 1.4-.4 1.4-.4 1.7-.2 1.8-.3 2-.3 2.1-.4 2.2-.4 2.3-.3 2.5-.1 2.6 .3 2.7 .6 2.8 .9 2.9 .8 3 .3 3.2-.1 3.3-.4 3.6-.2 3.6 .3 3.7 .5 3.7 .1 3.6-.5 3.6-.7 3.6-.4 3.6 .2 3.6 .5 3.6 .2 3.6-.4" fill="none" stroke="#c83a55" stroke-width="1.1" stroke-opacity="0.600" stroke-linejoin="round" stroke-linecap="round"/>
<path d="M34.4 214.2l3.3 .2 3.3 0 3.2-.4 3.3-.5 3.2 .1 3.1 1.2 3 2.5 3 3.3 2.9 3.3 2.8 2.4 2.8 1.2 2.7 0 2.6-.7 2.6-.9 2.5-.9 2.4-.7 2.5-.8 2.5-1.1 2.5-1.4 2.6-1.8 2.5-1.9 2.6-1.8 2.5-1.3 2.3-.8 2.3-.5 2.3-.3 2.2-.3 2.1-.6 2-.8 2.1-1.1 1.8-1.3 1.8-1.3 1.7-1.4 1.7-1.5 1.8-1.7 1.9-1.7 2-1.6 2.1-1.9 2.1-2.1 2.2-2.6 2.2-2.8 2.3-3 2.5-3 2.5-2.8 2.7-2.2 2.6-1.4 2.5-.7 2.3-.2 2 .1 1.8 .3 1.7 .5 1.7 .6 1.7 .8 1.8 1 2.1 1.2 2.2 1.8 2.2 2.3 2.2 2.8 2.2 2.8 2.1 2.5 1.9 2.1 1.8 1.8 1.8 1.5 1.7 1.2 1.7 1.2 1.8 1.2 1.8 1.2 1.9 1.5 1.8 1.7 1.9 1.7 1.7 1.8 1.7 1.8 1.5 1.5 1.3 1.3 1.3 1.1 1.4 .8 1.4 .4 1.7 0 1.8-.4 2-.7 2.1-.9 2.2-.7 2.3-.5 2.5-.1 2.6-.1 2.7-.3 2.8-.7 2.9-1.2 3-1.2 3.2-.9 3.3 0 3.6 .7 3.6 .6 3.7-.2 3.7-.9 3.6-.7 3.6 .1 3.6 1.1 3.6 1 3.6 .3 3.6-.7 3.6-1" fill="none" stroke="#c83a55" stroke-width="1.1" stroke-opacity="0.600" stroke-linejoin="round" stroke-linecap="round"/>
<path d="M34.4 222l3.3-1.5 3.3-1.3 3.2-.8 3.3-.8 3.2-.8 3.1-.9 3-1 3-.8 2.9-.5 2.8 0 2.8 .4 2.7 .6 2.6 .8 2.6 .8 2.5 .6 2.4 .4 2.5 .1 2.5 0 2.5 0 2.6 .3 2.5 .4 2.6 .4 2.5 .3 2.3 0 2.3-.5 2.3-.8 2.2-1.3 2.1-1.6 2-1.7 2.1-1.9 1.8-2.1 1.8-2 1.7-2.6 1.7-2.5 1.8-2.4 1.9-2.6 2-2.9 2.1-3.1 2.1-3.2 2.2-3.1 2.2-2.8 2.3-2.5 2.5-2.3 2.5-2 2.7-1.5 2.6-.9 2.5-.3 2.3 .2 2 .6 1.8 .8 1.7 1.1 1.7 1 1.7 1 1.8 1.2 2.1 1.5 2.2 1.9 2.2 2.2 2.2 2.6 2.2 2.6 2.1 2.6 1.9 2.7 1.8 2.7 1.8 2.6 1.7 2.5 1.7 2.2 1.8 2.1 1.8 1.9 1.9 1.7 1.8 1.4 1.9 1.2 1.7 1.1 1.7 1 1.5 .8 1.3 .5 1.3 .3 1.4 .2 1.4-.1 1.7-.3 1.8-.6 2-.9 2.1-1.1 2.2-1.3 2.3-1.3 2.5-1.3 2.6-1 2.7-.8 2.8-.3 2.9 0 3 .1 3.2 0 3.3-.4 3.6-.7 3.6-.7 3.7-.4 3.7 .2 3.6 .6 3.6 .7 3.6 .3 3.6-.2 3.6-.5 3.6-.4 3.6-.2" fill="none" stroke="#c83a55" stroke-width="1.1" stroke-opacity="0.600" stroke-linejoin="round" stroke-linecap="round"/>
<path d="M34.4 213.6l3.3-1.5 3.3-1.7 3.2-1.2 3.3 0 3.2 .9 3.1 1 3 .5 3-.2 2.9-.5 2.8-.4 2.8 .2 2.7 1.1 2.6 1.6 2.6 1.8 2.5 1.4 2.4 .8 2.5 .1 2.5-.5 2.5-.6 2.6-.2 2.5 .2 2.6 .6 2.5 .7 2.3 .3 2.3-.4 2.3-1 2.2-1.5 2.1-1.8 2-1.8 2.1-1.5 1.8-1.3 1.8-1 1.7-.9 1.7-1 1.8-1.1 1.9-1.2 2-1.8 2.1-2.3 2.1-2.8 2.2-3 2.2-2.7 2.3-2.2 2.5-1.5 2.5-.8 2.7-.4 2.6-.2 2.5-.5 2.3-.7 2-.7 1.8-.4 1.7-.2 1.7 .2 1.7 .6 1.8 1.1 2.1 1.8 2.2 2.4 2.2 2.6 2.2 2.5 2.2 2 2.1 1.5 1.9 1 1.8 .9 1.8 .8 1.7 .9 1.7 1.1 1.8 1.3 1.8 1.5 1.9 1.7 1.8 1.5 1.9 1.3 1.7 1 1.7 .6 1.5 .2 1.3 0 1.3-.1 1.4-.3 1.4-.4 1.7-.5 1.8-.3 2-.2 2.1 .2 2.2 .5 2.3 .7 2.5 .4 2.6-.1 2.7-.8 2.8-1.3 2.9-1.3 3-.7 3.2 .1 3.3 .7 3.6 .3 3.6-.8 3.7-1.9 3.7-1.7 3.6-.5 3.6 .7 3.6 1 3.6 .3 3.6-.9 3.6-1.3 3.6-.8" fill="none" stroke="#c83a55" stroke-width="1.1" stroke-opacity="0.600" stroke-linejoin="round" stroke-linecap="round"/>
<path d="M34.4 228.6l3.3-1.3 3.3-1.6 3.2-1.7 3.3-1.8 3.2-1.7 3.1-1.5 3-1 3-.6 2.9-.1 2.8 .1 2.8 .3 2.7 .3 2.6 .3 2.6 .4 2.5 .2 2.4 .1 2.5 .1 2.5 0 2.5 0 2.6 .2 2.5 .1 2.6 .1 2.5-.1 2.3-.5 2.3-.8 2.3-1.2 2.2-1.4 2.1-1.6 2-1.7 2.1-1.9 1.8-1.8 1.8-1.9 1.7-2 1.7-2 1.8-2 1.9-2.1 2-2.4 2.1-2.5 2.1-2.6 2.2-2.6 2.2-2.5 2.3-2.2 2.5-2.2 2.5-2 2.7-1.7 2.6-1.2 2.5-.8 2.3-.2 2 .2 1.8 .6 1.7 .8 1.7 1 1.7 1.1 1.8 1.1 2.1 1.4 2.2 1.7 2.2 1.8 2.2 1.9 2.2 1.9 2.1 1.9 1.9 1.9 1.8 2.1 1.8 2.1 1.7 2 1.7 2 1.8 1.8 1.8 1.8 1.9 1.7 1.8 1.4 1.9 1.2 1.7 .9 1.7 .8 1.5 .7 1.3 .5 1.3 .3 1.4 .3 1.4 .1 1.7 0 1.8-.1 2-.2 2.1-.3 2.2-.3 2.3-.2 2.5-.4 2.6-.4 2.7-.7 2.8-.8 2.9-.8 3-.7 3.2-.5 3.3-.2 3.6 .1 3.6 .2 3.7-.1 3.7-.2 3.6-.4 3.6-.1 3.6 .2 3.6 .6 3.6 1 3.6 .9 3.6 .6" fill="none" stroke="#c83a55" stroke-width="1.1" stroke-opacity="0.600" stroke-linejoin="round" stroke-linecap="round"/>
<path d="M34.4 212.5l3.3 .2 3.3 .1 3.2-.1 3.3-.5 3.2-.3 3.1 .4 3 .9 3 1.2 2.9 .9 2.8 .5 2.8 .3 2.7 .4 2.6 .8 2.6 1 2.5 1 2.4 .7 2.5 .3 2.5-.2 2.5-.5 2.6-.3 2.5-.1 2.6 0 2.5-.2 2.3-.5 2.3-.9 2.3-1.3 2.2-1.3 2.1-1.4 2-1.2 2.1-1.1 1.8-1.1 1.8-1.3 1.7-1.5 1.7-1.6 1.8-1.9 1.9-2 2-2.4 2.1-2.5 2.1-2.4 2.2-2.1 2.2-1.9 2.3-1.5 2.5-1.5 2.5-1.5 2.7-1.6 2.6-1.2 2.5-.6 2.3 .1 2 .6 1.8 1 1.7 1.1 1.7 1.3 1.7 1.4 1.8 1.3 2.1 1.4 2.2 1.7 2.2 2 2.2 2.1 2.2 2.1 2.1 1.8 1.9 1.4 1.8 1.1 1.8 .8 1.7 .6 1.7 .5 1.8 .4 1.8 .4 1.9 .6 1.8 .7 1.9 .9 1.7 .8 1.7 .6 1.5 .4 1.3 .4 1.3 .2 1.4 .1 1.4 .1 1.7 0 1.8 0 2-.1 2.1 0 2.2 0 2.3-.2 2.5-.4 2.6-.6 2.7-.7 2.8-.6 2.9-.2 3 .1 3.2 .2 3.3-.3 3.6-.6 3.6-.4 3.7 .3 3.7 .7 3.6 .4 3.6-.1 3.6 .1 3.6 .6 3.6 1 3.6 .9 3.6 .1" fill="none" stroke="#c83a55" stroke-width="1.1" stroke-opacity="0.600" stroke-linejoin="round" stroke-linecap="round"/>
<path d="M34.4 215.6l3.3-.5 3.3-.6 3.2-.8 3.3-.8 3.2-.8 3.1-.5 3-.1 3 .3 2.9 .7 2.8 1 2.8 1.1 2.7 1.3 2.6 1.2 2.6 1 2.5 .8 2.4 .5 2.5 .2 2.5 .3 2.5 .4 2.6 .6 2.5 .6 2.6 .7 2.5 .4 2.3 .1 2.3-.2 2.3-.8 2.2-1.4 2.1-1.8 2-2.5 2.1-3 1.8-3.5 1.8-3.3 1.7-3.4 1.7-3.3 1.8-3.4 1.9-3.5 2-3.6 2.1-3.2 2.1-2.9 2.2-2.4 2.2-1.9 2.3-1.7 2.5-1.7 2.5-1.8 2.7-1.7 2.6-1.5 2.5-1 2.3-.3 2 .4 1.8 .9 1.7 1 1.7 1.2 1.7 1.6 1.8 2.1 2.1 2.6 2.2 3 2.2 3.2 2.2 3.2 2.2 3 2.1 2.9 1.9 2.8 1.8 2.5 1.8 2.4 1.7 2.1 1.7 1.9 1.8 1.8 1.8 1.7 1.9 1.7 1.8 1.5 1.9 1.2 1.7 1 1.7 .7 1.5 .3 1.3-.1 1.3-.2 1.4-.2 1.4-.4 1.7-.6 1.8-.7 2-.8 2.1-.8 2.2-.8 2.3-.7 2.5-.5 2.6-.4 2.7-.3 2.8 0 2.9 .2 3 .1 3.2 0 3.3-.5 3.6-.8 3.6-1.1 3.7-1 3.7-.3 3.6 .4 3.6 1 3.6 1.3 3.6 1.4 3.6 .9 3.6 .5 3.6-.1" fill="none" stroke="#c83a55" stroke-width="1.1" stroke-opacity="0.600" stroke-linejoin="round" stroke-linecap="round"/>
<path d="M34.4 217.6l3.3-.7 3.3-1.9 3.2-1.9 3.3-1.7 3.2-1 3.1-.3 3 .3 3 .7 2.9 .8 2.8 .6 2.8 .4 2.7 .2 2.6 .3 2.6 .4 2.5 .9 2.4 1.2 2.5 1.5 2.5 1.4 2.5 1.3 2.6 1 2.5 .6 2.6 .1 2.5-.3 2.3-.7 2.3-1 2.3-1.1 2.2-1.1 2.1-1 2-.9 2.1-.8 1.8-.8 1.8-.9 1.7-1.1 1.7-1.3 1.8-1.9 1.9-2.5 2-2.9 2.1-3.3 2.1-3.8 2.2-4.1 2.2-4.2 2.3-3.9 2.5-3.4 2.5-2.7 2.7-2.2 2.6-1.9 2.5-1.5 2.3-1.3 2-1 1.8-.7 1.7-.3 1.7 0 1.7 .5 1.8 1 2.1 1.5 2.2 2 2.2 2.7 2.2 3.2 2.2 3.4 2.1 3.4 1.9 3.2 1.8 2.9 1.8 2.6 1.7 2.5 1.7 2.3 1.8 2 1.8 1.8 1.9 1.4 1.8 1.3 1.9 1.2 1.7 1 1.7 .9 1.5 1 1.3 .9 1.3 .9 1.4 1 1.4 1 1.7 .9 1.8 .8 2 .4 2.1 0 2.2-.5 2.3-.9 2.5-1.2 2.6-1.4 2.7-1.3 2.8-1.3 2.9-.9 3-.6 3.2-.3 3.3-.4 3.6-.6 3.6-1.3 3.7-1.6 3.7-1.5 3.6-.9 3.6-.1 3.6 .7 3.6 1.1 3.6 1 3.6 .4 3.6 0" fill="none" stroke="#c83a55" stroke-width="1.1" stroke-opacity="0.600" stroke-linejoin="round" stroke-linecap="round"/>
<path d="M34.4 216.4l3.3-.8 3.3-.8 3.2-.9 3.3-.8 3.2-.6 3.1-.4 3-.2 3 0 2.9 .2 2.8 .3 2.8 .3 2.7 .5 2.6 .5 2.6 .8 2.5 .8 2.4 .9 2.5 .7 2.5 .6 2.5 .4 2.6 .4 2.5 .3 2.6 .2 2.5 0 2.3-.3 2.3-.4 2.3-.7 2.2-.8 2.1-1 2-1.2 2.1-1.2 1.8-1.5 1.8-1.6 1.7-1.7 1.7-1.9 1.8-2 1.9-2.1 2-2.3 2.1-2.6 2.1-2.8 2.2-2.7 2.2-2.5 2.3-2.2 2.5-1.9 2.5-1.8 2.7-1.7 2.6-1.4 2.5-1.1 2.3-.7 2-.2 1.8 .1 1.7 .5 1.7 .7 1.7 1 1.8 1.2 2.1 1.4 2.2 1.9 2.2 2.1 2.2 2.2 2.2 2.2 2.1 2 1.9 1.9 1.8 1.9 1.8 1.8 1.7 1.9 1.7 1.7 1.8 1.6 1.8 1.5 1.9 1.4 1.8 1.4 1.9 1.2 1.7 1.1 1.7 .9 1.5 .7 1.3 .6 1.3 .4 1.4 .3 1.4 .2 1.7-.1 1.8-.2 2-.4 2.1-.6 2.2-.7 2.3-.7 2.5-.6 2.6-.5 2.7-.6 2.8-.6 2.9-.5 3-.5 3.2-.5 3.3-.5 3.6-.4 3.6-.5 3.7-.3 3.7-.3 3.6-.2 3.6 0 3.6 .2 3.6 .2 3.6 .2 3.6 .3 3.6 .2" fill="none" stroke="#ad0024" stroke-width="5.4" stroke-linejoin="round" stroke-linecap="round"/>
<line x1="23.2" y1="208.4" x2="292.7" y2="208.4" stroke="#000" stroke-width="5" stroke-dasharray="18.6 7"/>
<line x1="198.6" y1="155.5" x2="198.6" y2="256.2" stroke="#000" stroke-width="4.6"/>
<text x="24.3" y="179.3" font-family="Liberation Sans, sans-serif" font-size="38" font-weight="bold" text-anchor="start">b</text>
<path d="M34.4 328.6l2.5-.7 2.6-.8 2.5-.7 2.5-.6 2.5-.6 2.5-.5 2.4-.4 2.4-.3 2.3-.3 2.5-.3 2.6-.2 2.9-.4 3.2-.4 3.6-.5 3.8-.4 3.8-.5 3.7-.2 3.4 0 3.1 .3 3.1 .5 2.9 .4 2.8 .4 2.7-.1 2.6-.3 2.4-.5 2.2-.7 2.1-.9 2.1-1.1 2-1.3 2.1-1.6 2.2-2 2.1-2.1 2.2-2.2 2.1-2.2 2.2-2 2.1-2 2.2-2 2.1-2.1 2.2-1.9 2.1-1.8 2.2-1.5 2.1-1.4 2.2-1.3 2.2-1.1 2.2-1 2.2-.8 2.1-.5 2-.2 2 0 1.8 .2 1.8 .6 1.7 .9 1.7 1.3 1.8 1.8 1.8 2.2 1.9 2.7 1.8 3.1 1.8 3.3 1.8 3.7 1.7 4 1.5 4.3 1.5 4.5 1.4 4.4 1.4 4.4 1.4 4.4 1.4 4.6 1.4 4.8 1.5 4.9 1.4 4.6 1.5 4.2 1.4 3.6 1.4 3.1 1.3 2.7 1.2 2 1.2 1.3 1.2 .7 1.2 0 1.4-.6 1.5-1.2 1.5-1.7 1.6-2 1.7-2.4 1.7-2.6 1.7-2.8 1.7-3.2 1.8-3.5 1.8-3.6 1.8-3.6 1.8-3.5 1.8-3.4 1.8-3.6 1.8-3.5 1.8-3.4 1.8-3.1 1.8-2.7 1.8-2.3 1.8-2 1.7-1.6 1.8-1.6 1.7-1.5 1.8-1.5 2-1.7 2-1.7 2.1-1.7 2.2-1.5 2.2-1.2 2.2-.7 2.2-.2 2.1 .3 2.2 .7 2.1 1 2.2 1.3 2.1 1.4 2.2 1.6 2.1 1.8 2.2 2.1 2.1 2.2 2.2 2.2 2.2 2.2 2.1 .5" fill="none" stroke="#7a60b4" stroke-width="1.1" stroke-opacity="0.600" stroke-linejoin="round" stroke-linecap="round"/>
<path d="M34.4 331.7l2.5-.9 2.6-1 2.5-1 2.5-.9 2.5-.9 2.5-.9 2.4-.8 2.4-.8 2.3-.7 2.5-.7 2.6-.6 2.9-.7 3.2-.7 3.6-.7 3.8-.7 3.8-.6 3.7-.4 3.4 0 3.1 .3 3.1 .7 2.9 .8 2.8 .7 2.7 .5 2.6 .1 2.4 0 2.2-.2 2.1-.4 2.1-.6 2-1 2.1-1.3 2.2-1.7 2.1-2 2.2-2.3 2.1-2.3 2.2-2.4 2.1-2.3 2.2-2.3 2.1-2.4 2.2-2.4 2.1-2.3 2.2-2 2.1-1.9 2.2-1.6 2.2-1.5 2.2-1.3 2.2-1 2.1-.7 2-.3 2-.1 1.8 .3 1.8 .6 1.7 .9 1.7 1.5 1.8 1.8 1.8 2.4 1.9 2.9 1.8 3.2 1.8 3.5 1.8 3.7 1.7 3.9 1.5 4.2 1.5 4.4 1.4 4.2 1.4 4 1.4 3.9 1.4 4 1.4 4.3 1.5 4.5 1.4 4.3 1.5 4 1.4 3.5 1.4 3 1.3 2.7 1.2 2.2 1.2 1.6 1.2 1.1 1.2 .4 1.4-.1 1.5-.8 1.5-1.4 1.6-1.8 1.7-2.2 1.7-2.4 1.7-2.6 1.7-3.1 1.8-3.4 1.8-3.6 1.8-3.7 1.8-3.6 1.8-3.5 1.8-3.5 1.8-3.7 1.8-3.5 1.8-3.2 1.8-3 1.8-2.6 1.8-2.1 1.7-1.7 1.8-1.4 1.7-1.2 1.8-1.1 2-1.2 2-1.2 2.1-1.2 2.2-1 2.2-.7 2.2-.4 2.2 .2 2.1 .6 2.2 1 2.1 1.4 2.2 1.4 2.1 1.6 2.2 1.6 2.1 1.8 2.2 1.9 2.1 2 2.2 2 2.2 2 2.1 1" fill="none" stroke="#7a60b4" stroke-width="1.1" stroke-opacity="0.600" stroke-linejoin="round" stroke-linecap="round"/>
<path d="M34.4 327.9l2.5-.9 2.6-.8 2.5-.8 2.5-.7 2.5-.6 2.5-.6 2.4-.4 2.4-.4 2.3-.2 2.5-.3 2.6-.1 2.9-.1 3.2 0 3.6 .3 3.8 .9 3.8 1.7 3.7 2.8 3.4 3.4 3.1 3.9 3.1 4 2.9 3.6 2.8 2.7 2.7 1.6 2.6 .2 2.4-1.1 2.2-1.8 2.1-2.3 2.1-2.9 2-3.1 2.1-3.5 2.2-3.9 2.1-3.9 2.2-3.9 2.1-3.6 2.2-3.4 2.1-3 2.2-2.7 2.1-2.5 2.2-2.4 2.1-2.1 2.2-1.9 2.1-1.6 2.2-1.4 2.2-1.3 2.2-1 2.2-.9 2.1-.6 2-.4 2-.1 1.8 .1 1.8 .2 1.7 .6 1.7 .9 1.8 1.2 1.8 1.6 1.9 2 1.8 2.3 1.8 2.6 1.8 2.7 1.7 2.9 1.5 3 1.5 3.3 1.4 3.4 1.4 4.1 1.4 4.2 1.4 4.3 1.4 4.5 1.5 4.8 1.4 5 1.5 4.8 1.4 4.4 1.4 3.9 1.3 3.3 1.2 3.1 1.2 2.7 1.2 2.2 1.2 1.6 1.4 .9 1.5 0 1.5-.6 1.6-1.3 1.7-1.8 1.7-2.2 1.7-2.5 1.7-2.8 1.8-3.4 1.8-3.7 1.8-4 1.8-4.1 1.8-3.9 1.8-4 1.8-4.1 1.8-4.2 1.8-4.1 1.8-3.8 1.8-2.9 1.8-2.4 1.7-2 1.8-1.7 1.7-1.5 1.8-1.4 2-1.3 2-1.4 2.1-1.4 2.2-1.2 2.2-1 2.2-.7 2.2-.3 2.1 .2 2.2 .7 2.1 .9 2.2 1.2 2.1 1.3 2.2 1.4 2.1 1.4 2.2 1.6 2.1 1.8 2.2 1.8 2.2 1.8 2.1 1.7" fill="none" stroke="#7a60b4" stroke-width="1.1" stroke-opacity="0.600" stroke-linejoin="round" stroke-linecap="round"/>
<path d="M34.4 330.8l2.5-.4 2.6-.8 2.5-.8 2.5-.8 2.5-1 2.5-.9 2.4-.9 2.4-.9 2.3-.9 2.5-.9 2.6-.9 2.9-.9 3.2-.8 3.6-.9 3.8-.8 3.8-.7 3.7-.5 3.4-.1 3.1 .2 3.1 .7 2.9 .9 2.8 .9 2.7 .8 2.6 .5 2.4 .2 2.2-.1 2.1-.3 2.1-.5 2-.9 2.1-1.3 2.2-1.7 2.1-2.1 2.2-2.5 2.1-2.6 2.2-2.7 2.1-2.5 2.2-2.5 2.1-2.4 2.2-2.3 2.1-2.2 2.2-1.9 2.1-1.6 2.2-1.3 2.2-1 2.2-.8 2.2-.5 2.1-.2 2 0 2 .4 1.8 .5 1.8 .7 1.7 .9 1.7 1.1 1.8 1.5 1.8 1.8 1.9 2.2 1.8 2.6 1.8 2.7 1.8 2.9 1.7 3 1.5 3.1 1.5 3.3 1.4 3.7 1.4 3.8 1.4 3.7 1.4 3.9 1.4 4 1.5 4.4 1.4 4.6 1.5 4.5 1.4 4.4 1.4 3.9 1.3 3.3 1.2 3 1.2 2.7 1.2 2.3 1.2 1.8 1.4 1.1 1.5 .4 1.5-.5 1.6-1.2 1.7-1.7 1.7-2.2 1.7-2.4 1.7-2.7 1.8-3.1 1.8-3.5 1.8-3.7 1.8-3.8 1.8-3.6 1.8-3.5 1.8-3.6 1.8-3.7 1.8-3.6 1.8-3.3 1.8-3 1.8-2.7 1.7-2.2 1.8-1.9 1.7-1.6 1.8-1.5 2-1.5 2-1.6 2.1-1.6 2.2-1.6 2.2-1.4 2.2-1.1 2.2-.7 2.1-.1 2.2 .4 2.1 .8 2.2 1.2 2.1 1.4 2.2 1.4 2.1 1.6 2.2 1.8 2.1 2 2.2 2.1 2.2 2 2.1 2" fill="none" stroke="#7a60b4" stroke-width="1.1" stroke-opacity="0.600" stroke-linejoin="round" stroke-linecap="round"/>
<path d="M34.4 321.1l2.5-.2 2.6-.8 2.5-.9 2.5-1 2.5-1.1 2.5-1.1 2.4-1.1 2.4-1.1 2.3-1.1 2.5-1.1 2.6-1.2 2.9-1.2 3.2-1.3 3.6-1.2 3.8-1 3.8-.6 3.7-.1 3.4 .5 3.1 .9 3.1 1.3 2.9 1.7 2.8 1.8 2.7 1.7 2.6 1.4 2.4 1 2.2 .7 2.1 .5 2.1 .2 2-.1 2.1-.4 2.2-.8 2.1-1.1 2.2-1.5 2.1-1.7 2.2-1.8 2.1-1.8 2.2-1.7 2.1-1.5 2.2-1.6 2.1-1.5 2.2-1.3 2.1-1.2 2.2-.8 2.2-.6 2.2-.4 2.2-.3 2.1 0 2 .2 2 .4 1.8 .5 1.8 .6 1.7 .8 1.7 .9 1.8 1.1 1.8 1.3 1.9 1.7 1.8 1.9 1.8 2.1 1.8 2.2 1.7 2.2 1.5 2.2 1.5 2.3 1.4 2.5 1.4 2.8 1.4 3 1.4 2.9 1.4 3.1 1.5 3.2 1.4 3.4 1.5 3.5 1.4 3.6 1.4 3.4 1.3 3 1.2 2.7 1.2 2.3 1.2 2.4 1.2 2.1 1.4 1.6 1.5 1 1.5 .2 1.6-.7 1.7-1.3 1.7-1.8 1.7-2.2 1.7-2.6 1.8-2.9 1.8-3.3 1.8-3.8 1.8-3.8 1.8-3.9 1.8-3.8 1.8-3.8 1.8-3.8 1.8-3.8 1.8-3.6 1.8-3.3 1.8-3 1.7-2.5 1.8-2.1 1.7-1.6 1.8-1.3 2-1.1 2-1.1 2.1-1.1 2.2-1.1 2.2-.9 2.2-.7 2.2-.4 2.1-.1 2.2 .4 2.1 .7 2.2 1 2.1 1.2 2.2 1.3 2.1 1.3 2.2 1.4 2.1 1.6 2.2 1.7 2.2 1.7 2.1 1.9" fill="none" stroke="#7a60b4" stroke-width="1.1" stroke-opacity="0.600" stroke-linejoin="round" stroke-linecap="round"/>
<path d="M34.4 330.6l2.5-1.1 2.6-1.3 2.5-1.4 2.5-1.3 2.5-1.4 2.5-1.4 2.4-1.4 2.4-1.2 2.3-1.2 2.5-1.2 2.6-1.2 2.9-1.3 3.2-1.3 3.6-1.3 3.8-1 3.8-.7 3.7-.2 3.4 .2 3.1 .7 3.1 1 2.9 1.3 2.8 1.3 2.7 1.1 2.6 .7 2.4 .4 2.2 .1 2.1-.1 2.1-.4 2-.7 2.1-.9 2.2-1.2 2.1-1.6 2.2-1.7 2.1-1.9 2.2-2 2.1-1.8 2.2-1.7 2.1-1.7 2.2-1.7 2.1-1.5 2.2-1.5 2.1-1.1 2.2-1 2.2-.8 2.2-.8 2.2-.5 2.1-.4 2-.1 2 0 1.8 .2 1.8 .3 1.7 .5 1.7 .6 1.8 1 1.8 1.3 1.9 1.7 1.8 1.9 1.8 2.1 1.8 2.3 1.7 2.4 1.5 2.5 1.5 2.8 1.4 3 1.4 3.3 1.4 3.5 1.4 3.7 1.4 3.8 1.5 4.2 1.4 4.5 1.5 4.4 1.4 4.2 1.4 3.9 1.3 3.4 1.2 3.1 1.2 2.9 1.2 2.5 1.2 2 1.4 1.4 1.5 .6 1.5-.2 1.6-.8 1.7-1.4 1.7-1.8 1.7-2.2 1.7-2.5 1.8-3 1.8-3.5 1.8-3.7 1.8-3.9 1.8-3.7 1.8-3.8 1.8-3.8 1.8-3.9 1.8-3.7 1.8-3.4 1.8-2.9 1.8-2.3 1.7-1.8 1.8-1.4 1.7-1.1 1.8-.8 2-.8 2-.7 2.1-.7 2.2-.6 2.2-.4 2.2-.2 2.2 .2 2.1 .6 2.2 .9 2.1 1.2 2.2 1.2 2.1 1.3 2.2 1.3 2.1 1.2 2.2 1.2 2.1 1.2 2.2 1.3 2.2 1.1 2.1 1.1" fill="none" stroke="#7a60b4" stroke-width="1.1" stroke-opacity="0.600" stroke-linejoin="round" stroke-linecap="round"/>
<path d="M34.4 328.5l2.5 .2 2.6-.3 2.5-.7 2.5-.7 2.5-.9 2.5-1 2.4-1 2.4-1.2 2.3-1.1 2.5-1.3 2.6-1.4 2.9-1.4 3.2-1.5 3.6-1.5 3.8-1.4 3.8-1 3.7-.9 3.4-.4 3.1 0 3.1 .5 2.9 .9 2.8 1.2 2.7 1.1 2.6 .9 2.4 .8 2.2 .6 2.1 .4 2.1 .2 2 .1 2.1-.3 2.2-.6 2.1-.9 2.2-1.4 2.1-1.7 2.2-1.9 2.1-2 2.2-2 2.1-2 2.2-2 2.1-2.1 2.2-2 2.1-2 2.2-1.7 2.2-1.5 2.2-1.3 2.2-1.1 2.1-.9 2-.6 2-.4 1.8 0 1.8 .1 1.7 .4 1.7 .7 1.8 .9 1.8 1.4 1.9 1.8 1.8 2.2 1.8 2.5 1.8 2.7 1.7 2.7 1.5 2.8 1.5 2.7 1.4 3 1.4 3.2 1.4 3.4 1.4 3.2 1.4 3 1.5 2.9 1.4 3 1.5 3.2 1.4 3.2 1.4 3 1.3 2.8 1.2 2.4 1.2 2.3 1.2 2.1 1.2 2.2 1.4 2.1 1.5 1.5 1.5 1 1.6 .2 1.7-.4 1.7-.8 1.7-1.2 1.7-1.4 1.8-1.7 1.8-2 1.8-2.5 1.8-2.7 1.8-2.8 1.8-2.9 1.8-2.9 1.8-3 1.8-3.3 1.8-3.2 1.8-3.2 1.8-2.9 1.7-3.1 1.8-2.7 1.7-2.3 1.8-2 2-1.9 2-1.7 2.1-1.6 2.2-1.7 2.2-1.4 2.2-1.2 2.2-.8 2.1-.4 2.2 .2 2.1 .7 2.2 1.1 2.1 1.5 2.2 1.6 2.1 1.7 2.2 1.8 2.1 1.9 2.2 2 2.2 2.1 2.1 2" fill="none" stroke="#7a60b4" stroke-width="1.1" stroke-opacity="0.600" stroke-linejoin="round" stroke-linecap="round"/>
<path d="M34.4 327.2l2.5-.8 2.6-.7 2.5-.7 2.5-.7 2.5-.7 2.5-.7 2.4-.6 2.4-.7 2.3-.7 2.5-.8 2.6-.8 2.9-.9 3.2-.9 3.6-.9 3.8-.9 3.8-.6 3.7-.2 3.4 .4 3.1 .7 3.1 .8 2.9 .8 2.8 .6 2.7 .4 2.6 .2 2.4-.1 2.2-.3 2.1-.5 2.1-.9 2-1.3 2.1-1.7 2.2-2.1 2.1-2.2 2.2-2.4 2.1-2.2 2.2-2.4 2.1-2.4 2.2-2.3 2.1-2.2 2.2-2 2.1-1.7 2.2-1.4 2.1-1.2 2.2-1 2.2-.7 2.2-.4 2.2-.1 2.1 .2 2 .6 2 .8 1.8 1.2 1.8 1.6 1.7 1.9 1.7 2.3 1.8 2.6 1.8 3 1.9 3.4 1.8 3.8 1.8 4.1 1.8 4.7 1.7 4.8 1.5 4.4 1.5 4.2 1.4 4 1.4 4 1.4 4 1.4 4 1.4 3.8 1.5 3.5 1.4 2.9 1.5 2.6 1.4 2.2 1.4 1.6 1.3 .8 1.2 .2 1.2-.2 1.2-.6 1.2-.8 1.4-1 1.5-1.3 1.5-1.5 1.6-1.7 1.7-1.8 1.7-2.3 1.7-2.5 1.7-2.7 1.8-2.9 1.8-3 1.8-3 1.8-3.3 1.8-3.4 1.8-3.3 1.8-3.2 1.8-2.9 1.8-2.6 1.8-2.1 1.8-1.8 1.8-1.5 1.7-1.3 1.8-1.3 1.7-1.2 1.8-1.2 2-1.3 2-1.1 2.1-1 2.2-.8 2.2-.3 2.2 0 2.2 .4 2.1 .7 2.2 .8 2.1 .9 2.2 1 2.1 1.1 2.2 1.4 2.1 1.5 2.2 1.7 2.1 1.7 2.2 1.3 2.2 .2 2.1 .2" fill="none" stroke="#7a60b4" stroke-width="1.1" stroke-opacity="0.600" stroke-linejoin="round" stroke-linecap="round"/>
<path d="M34.4 325.1l2.5-.6 2.6-1.3 2.5-1.2 2.5-1.2 2.5-1.1 2.5-1 2.4-.8 2.4-.6 2.3-.5 2.5-.3 2.6-.2 2.9-.1 3.2-.1 3.6-.1 3.8-.1 3.8-.1 3.7 0 3.4 0 3.1 .3 3.1 .5 2.9 .7 2.8 .8 2.7 .6 2.6 .4 2.4 .1 2.2-.1 2.1-.2 2.1-.3 2-.4 2.1-.7 2.2-.8 2.1-1.2 2.2-1.4 2.1-1.5 2.2-1.7 2.1-1.7 2.2-1.5 2.1-1.6 2.2-1.6 2.1-1.8 2.2-1.7 2.1-1.7 2.2-1.5 2.2-1.5 2.2-1.3 2.2-1.3 2.1-1.1 2-.8 2-.6 1.8-.3 1.8 0 1.7 .2 1.7 .7 1.8 1.1 1.8 1.7 1.9 2.2 1.8 2.7 1.8 3.2 1.8 3.4 1.7 3.5 1.5 3.5 1.5 3.6 1.4 3.8 1.4 3.9 1.4 4.1 1.4 3.7 1.4 3.8 1.5 3.6 1.4 3.6 1.5 3.6 1.4 3.4 1.4 3 1.3 2.6 1.2 2 1.2 1.9 1.2 1.8 1.2 1.8 1.4 1.4 1.5 .9 1.5 .2 1.6-.3 1.7-.9 1.7-1.2 1.7-1.4 1.7-1.6 1.8-1.9 1.8-2.3 1.8-2.8 1.8-2.9 1.8-3.1 1.8-3.1 1.8-3.2 1.8-3.5 1.8-3.7 1.8-3.8 1.8-3.6 1.8-3.4 1.7-3 1.8-2.7 1.7-2.3 1.8-2.1 2-1.9 2-1.7 2.1-1.8 2.2-1.6 2.2-1.3 2.2-1.1 2.2-.6 2.1-.1 2.2 .4 2.1 .8 2.2 1.2 2.1 1.3 2.2 1.5 2.1 1.4 2.2 1.4 2.1 1.5 2.2 1.5 2.2 1.5 2.1 1.5" fill="none" stroke="#7a60b4" stroke-width="1.1" stroke-opacity="0.600" stroke-linejoin="round" stroke-linecap="round"/>
<path d="M34.4 329.9l2.5-.7 2.6-.7 2.5-.8 2.5-.7 2.5-.7 2.5-.7 2.4-.6 2.4-.5 2.3-.5 2.5-.6 2.6-.5 2.9-.5 3.2-.6 3.6-.7 3.8-.6 3.8-.6 3.7-.5 3.4-.2 3.1 .1 3.1 .4 2.9 .6 2.8 .5 2.7 .4 2.6 .1 2.4-.1 2.2-.3 2.1-.4 2.1-.6 2-.8 2.1-1 2.2-1.4 2.1-1.6 2.2-1.9 2.1-2 2.2-2 2.1-1.9 2.2-1.8 2.1-1.9 2.2-2 2.1-1.8 2.2-1.7 2.1-1.5 2.2-1.3 2.2-1.2 2.2-1.1 2.2-.8 2.1-.7 2-.3 2-.1 1.8 .1 1.8 .3 1.7 .7 1.7 .9 1.8 1.3 1.8 1.8 1.9 2.1 1.8 2.5 1.8 2.8 1.8 2.9 1.7 3 1.5 3.2 1.5 3.4 1.4 3.6 1.4 3.7 1.4 3.8 1.4 3.8 1.4 4 1.5 4.2 1.4 4.3 1.5 4.2 1.4 3.8 1.4 3.2 1.3 2.7 1.2 2.5 1.2 2.2 1.2 1.7 1.2 1.1 1.4 .5 1.5-.1 1.5-.9 1.6-1.4 1.7-1.8 1.7-2.1 1.7-2.3 1.7-2.6 1.8-3 1.8-3.4 1.8-3.5 1.8-3.5 1.8-3.3 1.8-3.4 1.8-3.5 1.8-3.5 1.8-3.3 1.8-3.1 1.8-2.6 1.8-2.1 1.7-1.7 1.8-1.4 1.7-1.2 1.8-1.1 2-1.1 2-1.2 2.1-1.2 2.2-1.2 2.2-.9 2.2-.6 2.2-.3 2.1 .2 2.2 .7 2.1 .9 2.2 1.1 2.1 1.2 2.2 1.3 2.1 1.4 2.2 1.5 2.1 1.7 2.2 1.7 2.2 1.7 2.1 1.7" fill="none" stroke="#4a1c82" stroke-width="5.4" stroke-linejoin="round" stroke-linecap="round"/>
<line x1="23.2" y1="320.3" x2="292.7" y2="320.3" stroke="#000" stroke-width="5" stroke-dasharray="18.6 7"/>
<line x1="198.6" y1="277.2" x2="198.6" y2="377.3" stroke="#000" stroke-width="4.6"/>
<text x="24.3" y="294" font-family="Liberation Sans, sans-serif" font-size="38" font-weight="bold" text-anchor="start">c</text>
<line x1="33.4" y1="400.4" x2="74.2" y2="400.4" stroke="#000" stroke-width="5.4"/>
<text x="1" y="381.6" font-family="Liberation Sans, sans-serif" font-size="44" font-weight="normal" text-anchor="start" textLength="106" lengthAdjust="spacingAndGlyphs">5 ms</text>
<line x1="23.2" y1="465.7" x2="292.7" y2="465.7" stroke="#000" stroke-width="5" stroke-dasharray="18.6 7"/>
<line x1="199" y1="398.2" x2="199" y2="498.7" stroke="#000" stroke-width="4.6"/>
<path d="M34.4 484l2.4 .1 2.4 .1 2.4 .1 2.4 .1 2.4 .1 2.4 0 2.5 .1 2.5 .1 2.7 0 2.8 .1 2.9 0 2.9 .1 2.8 0 2.7 .1 2.5 0 2.2 .1 1.9 .1 1.6 .2 1.3 .2 1.3 .1 1.1 .2 1.1 .2 1.2 .2 1.3 .1 1.3 .2 1.4 .1 1.3 .2 1.4 .2 1.3 .1 1.3 .1 1.4 0 1.3 0 1.4-.2 1.4-.2 1.4-.2 1.4-.3 1.3-.4 1.4-.4 1.3-.4 1.2-.5 1.2-.5 1.1-.5 1.1-.5 1-.6 1.1-.7 1-.7 1-.9 1.1-1 1.1-1.1 1.1-1.3 1-1.3 1.1-1.5 1.1-1.5 1.1-1.6 1-1.7 1.1-1.8 1.1-1.9 1.1-2.1 1-2.1 1.1-2.2 1.1-2.3 1.1-2.2 1-2.3 1.1-2.1 1.1-2.2 1.1-2.1 1-2.2 1.1-2.2 1.1-2.1 1.1-2.2 1.1-2.1 1-2.2 1.1-2.2 1.1-2.2 1.1-2.3 1-2.2 1.1-2.2 1.1-2.2 1.1-2 1-1.9 1.1-1.8 1.1-1.8 1.2-1.7 1.1-1.6 1.1-1.5 1-1.3 1.1-1.2 .9-.9 1-.7 .8-.6 .8-.4 .8-.2 .8 0 .7 0 .8 .1 .8 .3 .8 .3 .8 .4 .8 .6 .8 .6 .8 .8 .8 .9 .8 1 .9 1.2 .8 1.3 .8 1.5 .8 1.6 .8 1.7 .8 1.9 .8 1.9 .8 2 .8 2.1 .8 2.1 .8 2.3 .8 2.4 .8 2.5 .8 2.5 .9 2.6 .8 2.5 .8 2.4 .8 2.5 .8 2.5 .9 2.6 .8 2.5 .9 2.5 .8 2.4 .7 2.3 .7 2.1 .7 1.9 .5 1.8 .5 1.6 .5 1.5 .5 1.5 .5 1.5 .6 1.5 .5 1.6 .6 1.8 .6 1.8 .7 1.9 .6 1.9 .7 1.9 .7 1.7 .7 1.6 .8 1.4 .9 1.2 .9 1.1 .9 1 1 .9 1 .7 1 .7 .9 .5 .9 .4 .9 .2 .8 .2 .7 0 .8 0 .8-.2 .8-.3 .8-.5 .9-.5 1-.7 1-1 1.1-1 1.1-1.2 1.1-1.2 1.1-1.3 1.1-1.1 1.1-1.1 1.1-1 1-1 1-.9 1.1-.9 1-1 1.1-.9 1.1-.9 1.2-.9 1.2-1 1.3-.9 1.4-.9 1.4-.9 1.3-1 1.4-.9 1.4-1 1.4-1 1.3-1 1.4-1.2 1.4-1.2 1.4-1.2 1.4-1.2 1.3-1 1.3-1 1.2-.8 1.2-.6 1.1-.6 1-.4 1-.4 1-.2 1.1-.2 1.1-.1 1.1-.1 1.3 .1 1.3 .1 1.4 .3 1.4 .3 1.4 .4 1.4 .5 1.3 .4 1.3 .5 1.2 .6 1.1 .6 1.1 .6 1 .7 1.1 .8 1 .7 1 .7 1.1 .7" fill="none" stroke="#000" stroke-width="4.4" stroke-linejoin="round" stroke-linecap="round"/>
<text x="24.3" y="449.3" font-family="Liberation Sans, sans-serif" font-size="38" font-weight="bold" text-anchor="start">d</text>
<line x1="23.2" y1="556.3" x2="292.7" y2="556.3" stroke="#000" stroke-width="5" stroke-dasharray="18.6 7"/>
<line x1="198.6" y1="518.6" x2="198.6" y2="619.3" stroke="#000" stroke-width="4.6"/>
<path d="M34.4 563.8l1 0 .9 .1 1 .1 .9 .1 .9 .1 1 0 .9-.1 1-.3 .9-.4 .9-.5 .9-.6 1-.7 .9-.8 .9-.8 1-.8 1-.8 1-.8 1-.9 1-1 1-1 1-1 1.1-1 1.2-.9 1.3-.9 1.4-.8 1.5-.8 1.5-.7 1.7-.7 1.6-.8 1.7-.8 1.8-.9 1.7-1 1.8-1.2 2-1.4 2-1.5 2-1.6 2-1.5 1.9-1.4 1.8-1.2 1.6-.9 1.3-.6 1.2-.3 1.1-.1 .9 0 1 .1 .9 .1 1-.1 1.2-.2 1.2-.4 1.3-.5 1.3-.5 1.4-.6 1.3-.6 1.4-.6 1.4-.5 1.4-.6 1.5-.6 1.4-.6 1.5-.6 1.5-.6 1.5-.6 1.5-.5 1.5-.4 1.5-.4 1.5-.3 1.6-.1 1.6-.1 1.5-.1 1.6 0 1.4 0 1.4 0 1.2-.1 1.1-.1 .9-.1 .7-.2 .7-.1 .7-.2 .7 0 .8 .1 .9 .2 .9 .4 1.1 .4 1 .5 1.1 .6 1.2 .7 1.1 .9 1.1 .9 1.1 1 1.1 1.1 1 1.3 1.1 1.4 1.1 1.4 1.1 1.6 1 1.6 1.1 1.7 1.1 1.7 1.1 1.8 1 1.9 1.1 2 1.1 2 1.1 2.1 1 2.1 1.1 2.1 1.1 2.2 1.1 2.1 1 2.3 1.1 2.2 1.1 2.3 1.1 2.3 1.1 2.4 1 2.3 1.1 2.4 1.1 2.4 1.1 2.4 1 2.5 1.1 2.5 1.1 2.5 1.1 2.5 1 2.3 1.1 2.2 1.1 2.2 1.1 2.1 1.1 2.1 1.1 2 1.1 1.9 1 1.7 1.1 1.6 1 1.5 1 1.3 1 1.1 1 1 .9 .9 1 .7 .9 .6 .9 .5 .8 .3 .9 .2 .9 .1 .8-.1 .8-.2 .8-.3 .8-.5 .8-.6 .7-.7 .7-.9 .7-1 .6-1.1 .6-1.3 .6-1.4 .6-1.6 .8-1.7 .8-1.8 .9-2 1-2.2 1.1-2.3 1.1-2.5 1.1-2.5 1.2-2.6 1.1-2.7 1.1-2.5 1.1-2.7 1-2.7 1.1-2.8 1.1-2.9 1.1-2.8 1-2.7 1.1-2.6 1.1-2.4 1.1-2.2 1-2.2 1-2 1.1-2 1-1.9 1.1-1.7 1.1-1.6 1.2-1.4 1.3-1.3 1.3-1.2 1.4-1 1.4-.9 1.4-.8 1.4-.7 1.3-.5 1.3-.5 1.1-.3 1.1-.2 1.1 0 1 0 1 .2 1 .2 1.1 .2 1.2 .3 1.2 .4 1.3 .4 1.4 .4 1.3 .5 1.4 .6 1.4 .6 1.4 .7 1.3 .7 1.4 .8 1.4 .9 1.4 1 1.4 1 1.4 1 1.3 1 1.3 1 1.2 .9 1.1 .8 1 .9 1 .8 .9 .8 .8 .7 .9 .8 .9 .8 .9 .8" fill="none" stroke="#000" stroke-width="4.4" stroke-linejoin="round" stroke-linecap="round"/>
<text x="21" y="539.6" font-family="Liberation Sans, sans-serif" font-size="38" font-weight="bold" text-anchor="start">e</text>
<line x1="23.2" y1="678.1" x2="292.7" y2="678.1" stroke="#000" stroke-width="5" stroke-dasharray="18.6 7"/>
<line x1="198.6" y1="640.4" x2="198.6" y2="741.6" stroke="#000" stroke-width="4.6"/>
<path d="M33.4 653.4l2 .9 2.2 .8 2.1 .8 2.2 .9 2.1 .9 2 .9 1.8 1.1 1.7 1.2 1.4 1.3 1.2 1.5 1.1 1.5 .9 1.7 .9 1.7 1 1.7 1 1.7 1.1 1.8 1.2 1.8 1.3 1.8 1.3 1.8 1.3 1.9 1.4 1.9 1.4 1.9 1.4 2 1.5 2 1.5 2 1.6 2.1 1.6 2.2 1.7 2.1 1.7 2.2 1.6 2.2 1.6 2.2 1.6 2.2 1.4 2.2 1.5 2.3 1.4 2.3 1.3 2.3 1.4 2.3 1.2 2.1 1.3 2 1.2 1.7 1.2 1.5 1.1 1.3 1.1 1.2 1.1 1 1 1 1 .9 1.1 .8 1 .9 1.1 .9 1.1 .9 1.1 .9 1 .9 1.1 .7 1.1 .6 1.1 .3 1 .2 1.1-.1 1-.4 1.1-.5 1-.7 1.1-.8 1.1-.9 1.1-1 1.2-1 1.2-1.1 1.3-1.2 1.3-1.3 1.4-1.4 1.4-1.5 1.4-1.4 1.4-1.5 1.3-1.4 1.4-1.3 1.3-1.3 1.4-1.3 1.3-1.3 1.3-1.3 1.4-1.4 1.3-1.4 1.4-1.4 1.3-1.6 1.4-1.6 1.3-1.8 1.4-1.7 1.3-1.8 1.3-1.6 1.4-1.5 1.3-1.3 1.4-1.2 1.4-1.1 1.4-1 1.3-.8 1.4-.8 1.4-.7 1.3-.5 1.2-.4 1.2-.2 1.1-.1 1.2 .1 1.1 .1 1 .3 1.1 .3 .9 .3 1 .3 .9 .2 .9 .2 .8 .2 .8 .3 .7 .3 .8 .5 .8 .6 .8 .9 .8 1.2 .8 1.3 .8 1.6 .8 1.6 .8 1.8 .8 1.8 .8 1.8 .8 1.8 .8 1.9 .8 1.9 .8 2.1 .8 2.1 .8 2 .9 1.9 .8 1.7 .8 1.5 .8 1.3 .8 1.2 .8 1.1 .8 1 .8 .8 .8 .5 .8 .4 .8 .1 .8-.1 .8-.3 .8-.6 .7-.7 .8-.9 .8-1.1 .9-1.3 .9-1.4 1-1.6 1-1.9 1.1-2 1.2-2.2 1.1-2.3 1.1-2.4 1.1-2.4 1-2.4 .9-2.5 .9-2.6 .8-2.7 .8-2.7 .7-2.8 .8-2.8 .8-2.7 .7-2.7 .9-2.8 .8-2.9 .8-2.9 .8-2.9 .8-2.8 .8-2.6 .8-2.5 .8-2.2 .8-1.9 .8-1.7 .7-1.6 .8-1.4 .8-1.3 .8-1.1 .8-.9 1-.8 .9-.6 1-.2 1-.1 1.1 .1 1.1 .1 1.1 0 1.2-.1 1.2-.3 1.2-.6 1.4-.9 1.4-.9 1.5-1.1 1.4-1 1.4-.9 1.3-.7 1.1-.4 1-.1 .9 .1 .8 .2 .7 .4 .7 .5 .7 .6 .8 .7 .9 .9 1 1 1 1.2 1 1.4 1.1 1.5 1.2 1.5 1.1 1.5 1.1 1.4 1.1 1.2 1.1 1.1 1 1.1 1.1 .9 1.1 1 1.1 .9 1 .8 1.1 .9 1.1 .9 1.1 .8 1 .9 1.1 .8 1.1 .8 1.1 .7 1.1 .8 1 .8 1.1 .8" fill="none" stroke="#000" stroke-width="4.4" stroke-linejoin="round" stroke-linecap="round"/>
<text x="22.5" y="649.6" font-family="Liberation Sans, sans-serif" font-size="38" font-weight="bold" text-anchor="start">f</text>
<text x="21" y="749" font-family="Liberation Sans, sans-serif" font-size="38" font-weight="bold" text-anchor="start">g</text>
<polyline points="32.9,862.3 32.9,854.3 36.3,854.3 36.3,862.3" fill="none" stroke="#438a22" stroke-width="4" stroke-linejoin="round" stroke-linecap="butt"/>
<polyline points="29.4,862.3 29.4,853 34.6,853 34.6,854.3" fill="none" stroke="#438a22" stroke-width="4" stroke-linejoin="round" stroke-linecap="butt"/>
<polyline points="43.3,862.3 43.3,854.3 46.8,854.3 46.8,862.3" fill="none" stroke="#438a22" stroke-width="4" stroke-linejoin="round" stroke-linecap="butt"/>
<polyline points="39.8,862.3 39.8,852.5 45,852.5 45,854.3" fill="none" stroke="#438a22" stroke-width="4" stroke-linejoin="round" stroke-linecap="butt"/>
<polyline points="50.3,862.3 50.3,854.3 53.8,854.3 53.8,862.3" fill="none" stroke="#438a22" stroke-width="4" stroke-linejoin="round" stroke-linecap="butt"/>
<polyline points="42.4,852.5 42.4,847.6 52,847.6 52,854.3" fill="none" stroke="#438a22" stroke-width="4" stroke-linejoin="round" stroke-linecap="butt"/>
<polyline points="32,853 32,842 47.2,842 47.2,847.6" fill="none" stroke="#438a22" stroke-width="4" stroke-linejoin="round" stroke-linecap="butt"/>
<polyline points="25.9,862.3 25.9,834.9 39.6,834.9 39.6,842" fill="none" stroke="#438a22" stroke-width="4" stroke-linejoin="round" stroke-linecap="butt"/>
<polyline points="64.2,862.3 64.2,852.6 67.7,852.6 67.7,862.3" fill="none" stroke="#438a22" stroke-width="4" stroke-linejoin="round" stroke-linecap="butt"/>
<polyline points="65.9,852.6 65.9,846.5 71.2,846.5 71.2,862.3" fill="none" stroke="#438a22" stroke-width="4" stroke-linejoin="round" stroke-linecap="butt"/>
<polyline points="74.6,862.3 74.6,854.3 78.1,854.3 78.1,862.3" fill="none" stroke="#438a22" stroke-width="4" stroke-linejoin="round" stroke-linecap="butt"/>
<polyline points="76.4,854.3 76.4,854.3 81.6,854.3 81.6,862.3" fill="none" stroke="#438a22" stroke-width="4" stroke-linejoin="round" stroke-linecap="butt"/>
<polyline points="88.6,862.3 88.6,854.3 92,854.3 92,862.3" fill="none" stroke="#438a22" stroke-width="4" stroke-linejoin="round" stroke-linecap="butt"/>
<polyline points="85.1,862.3 85.1,854.3 90.3,854.3 90.3,854.3" fill="none" stroke="#438a22" stroke-width="4" stroke-linejoin="round" stroke-linecap="butt"/>
<polyline points="79,854.3 79,853.1 87.7,853.1 87.7,854.3" fill="none" stroke="#438a22" stroke-width="4" stroke-linejoin="round" stroke-linecap="butt"/>
<polyline points="95.5,862.3 95.5,854.3 99,854.3 99,862.3" fill="none" stroke="#438a22" stroke-width="4" stroke-linejoin="round" stroke-linecap="butt"/>
<polyline points="97.3,854.3 97.3,854.3 102.5,854.3 102.5,862.3" fill="none" stroke="#438a22" stroke-width="4" stroke-linejoin="round" stroke-linecap="butt"/>
<polyline points="106,862.3 106,854.3 109.4,854.3 109.4,862.3" fill="none" stroke="#438a22" stroke-width="4" stroke-linejoin="round" stroke-linecap="butt"/>
<polyline points="107.7,854.3 107.7,854.3 112.9,854.3 112.9,862.3" fill="none" stroke="#438a22" stroke-width="4" stroke-linejoin="round" stroke-linecap="butt"/>
<polyline points="116.4,862.3 116.4,854.3 119.9,854.3 119.9,862.3" fill="none" stroke="#438a22" stroke-width="4" stroke-linejoin="round" stroke-linecap="butt"/>
<polyline points="110.3,854.3 110.3,857.3 118.2,857.3 118.2,854.3" fill="none" stroke="#438a22" stroke-width="4" stroke-linejoin="round" stroke-linecap="butt"/>
<polyline points="99.9,854.3 99.9,855.1 114.2,855.1 114.2,857.3" fill="none" stroke="#438a22" stroke-width="4" stroke-linejoin="round" stroke-linecap="butt"/>
<polyline points="83.3,853.1 83.3,848.6 107.1,848.6 107.1,855.1" fill="none" stroke="#438a22" stroke-width="4" stroke-linejoin="round" stroke-linecap="butt"/>
<polyline points="126.9,862.3 126.9,854.3 130.3,854.3 130.3,862.3" fill="none" stroke="#438a22" stroke-width="4" stroke-linejoin="round" stroke-linecap="butt"/>
<polyline points="123.4,862.3 123.4,854.3 128.6,854.3 128.6,854.3" fill="none" stroke="#438a22" stroke-width="4" stroke-linejoin="round" stroke-linecap="butt"/>
<polyline points="137.3,862.3 137.3,854.3 140.8,854.3 140.8,862.3" fill="none" stroke="#438a22" stroke-width="4" stroke-linejoin="round" stroke-linecap="butt"/>
<polyline points="133.8,862.3 133.8,854.3 139,854.3 139,854.3" fill="none" stroke="#438a22" stroke-width="4" stroke-linejoin="round" stroke-linecap="butt"/>
<polyline points="147.7,862.3 147.7,854.3 151.2,854.3 151.2,862.3" fill="none" stroke="#438a22" stroke-width="4" stroke-linejoin="round" stroke-linecap="butt"/>
<polyline points="144.3,862.3 144.3,854.3 149.5,854.3 149.5,854.3" fill="none" stroke="#438a22" stroke-width="4" stroke-linejoin="round" stroke-linecap="butt"/>
<polyline points="136.4,854.3 136.4,854.2 146.9,854.2 146.9,854.3" fill="none" stroke="#438a22" stroke-width="4" stroke-linejoin="round" stroke-linecap="butt"/>
<polyline points="126,854.3 126,847.1 141.7,847.1 141.7,854.2" fill="none" stroke="#438a22" stroke-width="4" stroke-linejoin="round" stroke-linecap="butt"/>
<polyline points="95.2,848.6 95.2,842 133.8,842 133.8,847.1" fill="none" stroke="#438a22" stroke-width="4" stroke-linejoin="round" stroke-linecap="butt"/>
<polyline points="68.5,846.5 68.5,838.7 114.5,838.7 114.5,842" fill="none" stroke="#438a22" stroke-width="4" stroke-linejoin="round" stroke-linecap="butt"/>
<polyline points="158.2,862.3 158.2,854.3 161.7,854.3 161.7,862.3" fill="none" stroke="#438a22" stroke-width="4" stroke-linejoin="round" stroke-linecap="butt"/>
<polyline points="159.9,854.3 159.9,854.3 165.2,854.3 165.2,862.3" fill="none" stroke="#438a22" stroke-width="4" stroke-linejoin="round" stroke-linecap="butt"/>
<polyline points="154.7,862.3 154.7,848.5 162.5,848.5 162.5,854.3" fill="none" stroke="#438a22" stroke-width="4" stroke-linejoin="round" stroke-linecap="butt"/>
<polyline points="168.6,862.3 168.6,854.3 172.1,854.3 172.1,862.3" fill="none" stroke="#438a22" stroke-width="4" stroke-linejoin="round" stroke-linecap="butt"/>
<polyline points="179.1,862.3 179.1,854.3 182.6,854.3 182.6,862.3" fill="none" stroke="#438a22" stroke-width="4" stroke-linejoin="round" stroke-linecap="butt"/>
<polyline points="175.6,862.3 175.6,854.3 180.8,854.3 180.8,854.3" fill="none" stroke="#438a22" stroke-width="4" stroke-linejoin="round" stroke-linecap="butt"/>
<polyline points="170.4,854.3 170.4,849.6 178.2,849.6 178.2,854.3" fill="none" stroke="#438a22" stroke-width="4" stroke-linejoin="round" stroke-linecap="butt"/>
<polyline points="186,862.3 186,854.3 189.5,854.3 189.5,862.3" fill="none" stroke="#438a22" stroke-width="4" stroke-linejoin="round" stroke-linecap="butt"/>
<polyline points="187.8,854.3 187.8,852.1 193,852.1 193,862.3" fill="none" stroke="#438a22" stroke-width="4" stroke-linejoin="round" stroke-linecap="butt"/>
<polyline points="174.3,849.6 174.3,845 190.4,845 190.4,852.1" fill="none" stroke="#438a22" stroke-width="4" stroke-linejoin="round" stroke-linecap="butt"/>
<polyline points="158.6,848.5 158.6,838.1 182.3,838.1 182.3,845" fill="none" stroke="#438a22" stroke-width="4" stroke-linejoin="round" stroke-linecap="butt"/>
<polyline points="91.5,838.7 91.5,831 170.5,831 170.5,838.1" fill="none" stroke="#438a22" stroke-width="4" stroke-linejoin="round" stroke-linecap="butt"/>
<polyline points="60.7,862.3 60.7,825.8 131,825.8 131,831" fill="none" stroke="#438a22" stroke-width="4" stroke-linejoin="round" stroke-linecap="butt"/>
<polyline points="57.2,862.3 57.2,823.2 95.9,823.2 95.9,825.8" fill="none" stroke="#438a22" stroke-width="4" stroke-linejoin="round" stroke-linecap="butt"/>
<polyline points="32.8,834.9 32.8,808.4 76.5,808.4 76.5,823.2" fill="none" stroke="#438a22" stroke-width="4" stroke-linejoin="round" stroke-linecap="butt"/>
<polyline points="198.6,862.3 198.6,850 202.2,850 202.2,862.3" fill="none" stroke="#bd0430" stroke-width="4" stroke-linejoin="round" stroke-linecap="butt"/>
<polyline points="209.4,862.3 209.4,854.3 213,854.3 213,862.3" fill="none" stroke="#bd0430" stroke-width="4" stroke-linejoin="round" stroke-linecap="butt"/>
<polyline points="211.2,854.3 211.2,854.3 216.6,854.3 216.6,862.3" fill="none" stroke="#bd0430" stroke-width="4" stroke-linejoin="round" stroke-linecap="butt"/>
<polyline points="205.8,862.3 205.8,851.3 213.9,851.3 213.9,854.3" fill="none" stroke="#bd0430" stroke-width="4" stroke-linejoin="round" stroke-linecap="butt"/>
<polyline points="220.2,862.3 220.2,854.3 223.8,854.3 223.8,862.3" fill="none" stroke="#bd0430" stroke-width="4" stroke-linejoin="round" stroke-linecap="butt"/>
<polyline points="209.8,851.3 209.8,847.4 222,847.4 222,854.3" fill="none" stroke="#bd0430" stroke-width="4" stroke-linejoin="round" stroke-linecap="butt"/>
<polyline points="231,862.3 231,854.3 234.6,854.3 234.6,862.3" fill="none" stroke="#bd0430" stroke-width="4" stroke-linejoin="round" stroke-linecap="butt"/>
<polyline points="227.4,862.3 227.4,850.2 232.8,850.2 232.8,854.3" fill="none" stroke="#bd0430" stroke-width="4" stroke-linejoin="round" stroke-linecap="butt"/>
<polyline points="241.8,862.3 241.8,854.3 245.4,854.3 245.4,862.3" fill="none" stroke="#bd0430" stroke-width="4" stroke-linejoin="round" stroke-linecap="butt"/>
<polyline points="238.2,862.3 238.2,854.3 243.6,854.3 243.6,854.3" fill="none" stroke="#bd0430" stroke-width="4" stroke-linejoin="round" stroke-linecap="butt"/>
<polyline points="240.9,854.3 240.9,849.6 249,849.6 249,862.3" fill="none" stroke="#bd0430" stroke-width="4" stroke-linejoin="round" stroke-linecap="butt"/>
<polyline points="230.1,850.2 230.1,841.7 244.9,841.7 244.9,849.6" fill="none" stroke="#bd0430" stroke-width="4" stroke-linejoin="round" stroke-linecap="butt"/>
<polyline points="215.9,847.4 215.9,834.2 237.5,834.2 237.5,841.7" fill="none" stroke="#bd0430" stroke-width="4" stroke-linejoin="round" stroke-linecap="butt"/>
<polyline points="200.4,850 200.4,824.4 226.7,824.4 226.7,834.2" fill="none" stroke="#bd0430" stroke-width="4" stroke-linejoin="round" stroke-linecap="butt"/>
<polyline points="271.8,862.3 271.8,854.3 275.4,854.3 275.4,862.3" fill="none" stroke="#4a1c86" stroke-width="4" stroke-linejoin="round" stroke-linecap="butt"/>
<polyline points="278.9,862.3 278.9,854.3 282.5,854.3 282.5,862.3" fill="none" stroke="#4a1c86" stroke-width="4" stroke-linejoin="round" stroke-linecap="butt"/>
<polyline points="273.6,854.3 273.6,852.2 280.7,852.2 280.7,854.3" fill="none" stroke="#4a1c86" stroke-width="4" stroke-linejoin="round" stroke-linecap="butt"/>
<polyline points="286,862.3 286,853.1 289.6,853.1 289.6,862.3" fill="none" stroke="#4a1c86" stroke-width="4" stroke-linejoin="round" stroke-linecap="butt"/>
<polyline points="277.1,852.2 277.1,846.8 287.8,846.8 287.8,853.1" fill="none" stroke="#4a1c86" stroke-width="4" stroke-linejoin="round" stroke-linecap="butt"/>
<polyline points="268.2,862.3 268.2,841.1 282.5,841.1 282.5,846.8" fill="none" stroke="#4a1c86" stroke-width="4" stroke-linejoin="round" stroke-linecap="butt"/>
<polyline points="261.1,862.3 261.1,850 264.7,850 264.7,862.3" fill="none" stroke="#4a1c86" stroke-width="4" stroke-linejoin="round" stroke-linecap="butt"/>
<polyline points="262.9,850 262.9,834.2 275.4,834.2 275.4,841.1" fill="none" stroke="#4a1c86" stroke-width="4" stroke-linejoin="round" stroke-linecap="butt"/>
<polyline points="257.6,862.3 257.6,818.7 269.1,818.7 269.1,834.2" fill="none" stroke="#4a1c86" stroke-width="4" stroke-linejoin="round" stroke-linecap="butt"/>
<polyline points="254,862.3 254,809 263.3,809 263.3,818.7" fill="none" stroke="#4a1c86" stroke-width="4" stroke-linejoin="round" stroke-linecap="butt"/>
<polyline points="213.6,824.4 213.6,807.2 258.7,807.2 258.7,809" fill="none" stroke="#000" stroke-width="4" stroke-linejoin="round" stroke-linecap="butt"/>
<polyline points="54.6,808.4 54.6,766.2 236.1,766.2 236.1,807.2" fill="none" stroke="#000" stroke-width="4" stroke-linejoin="round" stroke-linecap="butt"/>
<text x="459.3" y="33.6" font-family="Liberation Sans, sans-serif" font-size="38" font-weight="bold" text-anchor="start">h</text>
<g stroke="#000" stroke-opacity="0.22" stroke-width="1.1">
<circle cx="359.6" cy="497.4" r="9.6" fill="#44891e"/>
<circle cx="584.6" cy="313.6" r="9.6" fill="#44891e"/>
<circle cx="541.9" cy="345.3" r="9.6" fill="#44891e"/>
<circle cx="482.2" cy="388.9" r="9.6" fill="#44891e"/>
<circle cx="481" cy="397.4" r="9.6" fill="#44891e"/>
<circle cx="466.8" cy="415.7" r="9.6" fill="#44891e"/>
<circle cx="512.7" cy="403.4" r="9.6" fill="#44891e"/>
<circle cx="591.2" cy="394.2" r="9.6" fill="#44891e"/>
<circle cx="476.4" cy="438.2" r="9.6" fill="#44891e"/>
<circle cx="513.9" cy="429.5" r="9.6" fill="#44891e"/>
<circle cx="524.2" cy="427.9" r="9.6" fill="#44891e"/>
<circle cx="539.1" cy="434.8" r="9.6" fill="#44891e"/>
<circle cx="549.4" cy="445.1" r="9.6" fill="#44891e"/>
<circle cx="568.7" cy="456.2" r="9.6" fill="#44891e"/>
<circle cx="585" cy="447.9" r="9.6" fill="#44891e"/>
<circle cx="447.3" cy="462.4" r="9.6" fill="#44891e"/>
<circle cx="466.6" cy="465.1" r="9.6" fill="#44891e"/>
<circle cx="639.2" cy="376.3" r="9.6" fill="#44891e"/>
<circle cx="731.5" cy="436.6" r="9.6" fill="#44891e"/>
<circle cx="466.6" cy="534.4" r="9.6" fill="#44891e"/>
<circle cx="520.3" cy="521.8" r="9.6" fill="#44891e"/>
<circle cx="510.9" cy="554.2" r="9.6" fill="#44891e"/>
<circle cx="591.5" cy="536.2" r="9.6" fill="#44891e"/>
<circle cx="593.5" cy="547.7" r="9.6" fill="#44891e"/>
<circle cx="584.6" cy="574.1" r="9.6" fill="#44891e"/>
<circle cx="544.2" cy="689.3" r="9.6" fill="#44891e"/>
<circle cx="466.8" cy="713.2" r="9.6" fill="#44891e"/>
<circle cx="653.4" cy="519.2" r="9.6" fill="#44891e"/>
<circle cx="642.6" cy="548.1" r="9.6" fill="#44891e"/>
<circle cx="645.8" cy="611.1" r="9.6" fill="#44891e"/>
<circle cx="653.1" cy="693.7" r="9.6" fill="#44891e"/>
<circle cx="564.4" cy="754.8" r="9.6" fill="#44891e"/>
<circle cx="465.2" cy="804.6" r="9.6" fill="#44891e"/>
<circle cx="586.6" cy="809.7" r="9.6" fill="#44891e"/>
<circle cx="874.7" cy="232.8" r="9.6" fill="#4b1a84"/>
<circle cx="1017" cy="291.3" r="9.6" fill="#4b1a84"/>
<circle cx="1126.8" cy="338.9" r="9.6" fill="#4b1a84"/>
<circle cx="1115.3" cy="373.3" r="9.6" fill="#4b1a84"/>
<circle cx="1174.3" cy="382.9" r="9.6" fill="#4b1a84"/>
<circle cx="1098.8" cy="416.5" r="9.6" fill="#4b1a84"/>
<circle cx="1112.1" cy="436.7" r="9.6" fill="#4b1a84"/>
<circle cx="1097.4" cy="487.7" r="9.6" fill="#4b1a84"/>
<circle cx="1021.9" cy="521.7" r="9.6" fill="#ae0024"/>
<circle cx="1022.3" cy="533.6" r="9.6" fill="#ae0024"/>
<circle cx="1102.4" cy="568" r="9.6" fill="#ae0024"/>
<circle cx="1082.1" cy="621.9" r="9.6" fill="#ae0024"/>
<circle cx="902.8" cy="660.2" r="9.6" fill="#ae0024"/>
<circle cx="943.1" cy="660.2" r="9.6" fill="#ae0024"/>
<circle cx="978.1" cy="651.2" r="9.6" fill="#ae0024"/>
<circle cx="1005.9" cy="650.5" r="9.6" fill="#ae0024"/>
<circle cx="993.5" cy="709.5" r="9.6" fill="#ae0024"/>
<circle cx="1046.1" cy="718.2" r="9.6" fill="#ae0024"/>
</g>
<g fill="#000" fill-opacity="0.5" stroke="#000" stroke-opacity="0.42" stroke-width="0.9">
<circle cx="856.1" cy="68.2" r="4.9"/>
<circle cx="690.4" cy="106.5" r="4.9"/>
<circle cx="729.9" cy="116.9" r="4.9"/>
<circle cx="790" cy="107.7" r="4.9"/>
<circle cx="786.1" cy="121.5" r="4.9"/>
<circle cx="783.8" cy="124.5" r="4.9"/>
<circle cx="816.4" cy="121" r="4.9"/>
<circle cx="749.8" cy="134.3" r="4.9"/>
<circle cx="686.5" cy="148.1" r="4.9"/>
<circle cx="696.1" cy="150.9" r="4.9"/>
<circle cx="724.6" cy="148.6" r="4.9"/>
<circle cx="743.9" cy="161.6" r="4.9"/>
<circle cx="740.4" cy="173.6" r="4.9"/>
<circle cx="842.4" cy="172" r="4.9"/>
<circle cx="698.9" cy="189.2" r="4.9"/>
<circle cx="695.4" cy="197.5" r="4.9"/>
<circle cx="698.9" cy="199.1" r="4.9"/>
<circle cx="722.5" cy="188" r="4.9"/>
<circle cx="761.3" cy="188" r="4.9"/>
<circle cx="678.2" cy="219" r="4.9"/>
<circle cx="686.2" cy="236.9" r="4.9"/>
<circle cx="698.9" cy="234" r="4.9"/>
<circle cx="677.1" cy="245" r="4.9"/>
<circle cx="771.6" cy="250.7" r="4.9"/>
<circle cx="734" cy="263.8" r="4.9"/>
<circle cx="907.1" cy="275.9" r="4.9"/>
<circle cx="680.7" cy="298.7" r="4.9"/>
<circle cx="696.1" cy="295.2" r="4.9"/>
<circle cx="671.8" cy="315.4" r="4.9"/>
<circle cx="709.4" cy="340" r="4.9"/>
<circle cx="748.5" cy="391.9" r="4.9"/>
<circle cx="725.5" cy="413.5" r="4.9"/>
<circle cx="753.3" cy="417.6" r="4.9"/>
<circle cx="745" cy="421.3" r="4.9"/>
<circle cx="807.2" cy="408.9" r="4.9"/>
<circle cx="806.8" cy="472.7" r="4.9"/>
<circle cx="735.1" cy="520.2" r="4.9"/>
<circle cx="759.2" cy="524.5" r="4.9"/>
<circle cx="723.9" cy="532.2" r="4.9"/>
<circle cx="715.3" cy="537.4" r="4.9"/>
<circle cx="728.8" cy="549.7" r="4.9"/>
<circle cx="790" cy="568.5" r="4.9"/>
<circle cx="784.3" cy="594.7" r="4.9"/>
<circle cx="748.9" cy="597.7" r="4.9"/>
<circle cx="756.6" cy="618.9" r="4.9"/>
<circle cx="749.9" cy="640.8" r="4.9"/>
<circle cx="785.2" cy="645.4" r="4.9"/>
<circle cx="804.9" cy="668.4" r="4.9"/>
<circle cx="758.6" cy="671.8" r="4.9"/>
<circle cx="723.2" cy="670.3" r="4.9"/>
<circle cx="728.8" cy="699.4" r="4.9"/>
<circle cx="776.9" cy="721.4" r="4.9"/>
<circle cx="683.3" cy="724.2" r="4.9"/>
<circle cx="671.4" cy="698.9" r="4.9"/>
<circle cx="681.1" cy="687" r="4.9"/>
<circle cx="682.9" cy="674.9" r="4.9"/>
<circle cx="686.2" cy="677.1" r="4.9"/>
<circle cx="700.5" cy="670" r="4.9"/>
<circle cx="708.5" cy="671.8" r="4.9"/>
<circle cx="700.7" cy="672.8" r="4.9"/>
<circle cx="652.9" cy="580.1" r="4.9"/>
<circle cx="659.3" cy="579.6" r="4.9"/>
<circle cx="654.1" cy="592.9" r="4.9"/>
<circle cx="682.4" cy="579.4" r="4.9"/>
<circle cx="696.7" cy="581.3" r="4.9"/>
<circle cx="701.3" cy="579.6" r="4.9"/>
<circle cx="704.8" cy="579.1" r="4.9"/>
<circle cx="716.8" cy="586.9" r="4.9"/>
<circle cx="689.2" cy="592.9" r="4.9"/>
<circle cx="696.7" cy="590.6" r="4.9"/>
<circle cx="704.3" cy="596.7" r="4.9"/>
<circle cx="708.1" cy="603" r="4.9"/>
<circle cx="692.9" cy="605" r="4.9"/>
<circle cx="704.1" cy="610.7" r="4.9"/>
<circle cx="717.8" cy="610" r="4.9"/>
<circle cx="655.6" cy="616.2" r="4.9"/>
<circle cx="674.3" cy="613.2" r="4.9"/>
<circle cx="674.3" cy="617.2" r="4.9"/>
<circle cx="695.7" cy="615.2" r="4.9"/>
<circle cx="692.2" cy="618.3" r="4.9"/>
<circle cx="697.7" cy="622.3" r="4.9"/>
<circle cx="686.7" cy="624.3" r="4.9"/>
<circle cx="684.2" cy="630.3" r="4.9"/>
<circle cx="688.2" cy="635.8" r="4.9"/>
<circle cx="709.3" cy="620.3" r="4.9"/>
<circle cx="710.3" cy="624.3" r="4.9"/>
<circle cx="716.3" cy="626.8" r="4.9"/>
<circle cx="719.3" cy="628.3" r="4.9"/>
<circle cx="719.8" cy="627" r="4.9"/>
<circle cx="703.8" cy="628.3" r="4.9"/>
<circle cx="705.3" cy="634.8" r="4.9"/>
<circle cx="701.3" cy="637.3" r="4.9"/>
<circle cx="714.3" cy="636.3" r="4.9"/>
<circle cx="698.3" cy="644.9" r="4.9"/>
<circle cx="706.3" cy="646.4" r="4.9"/>
<circle cx="714.8" cy="643.4" r="4.9"/>
<circle cx="711.3" cy="654.4" r="4.9"/>
<circle cx="710.8" cy="653.6" r="4.9"/>
<circle cx="700.3" cy="656.9" r="4.9"/>
<circle cx="737.9" cy="579.6" r="4.9"/>
<circle cx="730.9" cy="587.3" r="4.9"/>
<circle cx="730.9" cy="618.8" r="4.9"/>
<circle cx="736.4" cy="616.7" r="4.9"/>
<circle cx="737.9" cy="617.7" r="4.9"/>
<circle cx="727.4" cy="627.3" r="4.9"/>
<circle cx="729.9" cy="626.8" r="4.9"/>
<circle cx="741.4" cy="626.3" r="4.9"/>
<circle cx="745.5" cy="627.8" r="4.9"/>
<circle cx="737.9" cy="635.8" r="4.9"/>
<circle cx="738.9" cy="639.3" r="4.9"/>
<circle cx="738.4" cy="646.4" r="4.9"/>
<circle cx="726.4" cy="642.4" r="4.9"/>
<circle cx="580" cy="601.2" r="4.9"/>
<circle cx="605.5" cy="594.8" r="4.9"/>
<circle cx="681.9" cy="752.7" r="4.9"/>
<circle cx="700.5" cy="767.2" r="4.9"/>
<circle cx="706.5" cy="631.5" r="4.9"/>
<circle cx="711.5" cy="627.5" r="4.9"/>
<circle cx="713" cy="633.5" r="4.9"/>
<circle cx="708" cy="641" r="4.9"/>
<circle cx="717.5" cy="644.5" r="4.9"/>
<circle cx="710.5" cy="650.5" r="4.9"/>
<circle cx="713.5" cy="657" r="4.9"/>
<circle cx="703" cy="641.5" r="4.9"/>
</g>
<line x1="720.1" y1="27" x2="720.1" y2="855.1" stroke="#000" stroke-width="4.8"/>
<line x1="309.5" y1="514.4" x2="1223.2" y2="514.4" stroke="#000" stroke-width="4.8"/>
<g fill="none" stroke="#000" stroke-width="0.8" stroke-opacity="0.6" stroke-linejoin="round">
<path d="M795 389.1l1.4-.8 1.4-.6 1.4-.4 1.4-.1 1.5-.1 1.5-.2 1.6-.3 1.6-.5 1.7-.5 1.6-.3 1.6-.1 1.6 0 1.7 .2 1.6 .3 1.5 .2 1.5 .3 1.4 .3 1.3 .3 1.4 .4 1.5 .3 1.5 .3 1.6 .3 1.7 .2 1.6-.1 1.6-.4 1.4-.7 1.4-.8 1.4-1 1.4-.8 1.4-.7 1.6-.4 1.6-.2 1.7 0 1.6-.1 1.6-.1 1.5-.2 1.5-.2 1.4-.1 1.4 .2 1.2 .6 1 .9 .8 .9 .7 .7 .7 .5 .8 .6 .8 .6 .8 .9 .8 1.2 .8 1.3 .8 1.6 .8 1.6 .7 1.7 .6 1.8 .7 1.7 .7 1.7 .7 1.7 .8 1.8 .7 2.1 .7 2.2 .6 2.3 .7 2.3 .6 2.2 .6 2.2 .6 1.9 .6 1.8 .5 1.8 .6 2 .6 2 .5 2.1 .6 1.8 .5 1.3 .6 .9 .5 .4 .5 .1 .6 0 .5-.1 .6-.2 .5-.3 .6-.6 .5-1 .5-1.2 .5-1.6 .6-1.8 .5-1.9 .5-2 .5-2.1 .6-2 .5-2.1 .6-2 .5-2.1 .6-2 .6-2.2 .6-2.3 .6-2.1 .6-1.9 .7-1.6 .7-1.4 .7-1.5 .7-1.7 .7-1.9 .8-2.1 .8-2.2 .9-2.1 .8-1.9 .8-1.7 .7-1.5 .7-1.4 .7-1.4 .7-1.5 .7-1.5 .7-1.5 .7-1.3 .7-1.2 .7-.8 .7-.5 .6-.1 .7 .2 .6 .3 .6 .4 .7 .4 .7 .8 .8 1 .8 1.5 .7 1.9 .8 1.9 .8 2 .8 1.8 .8 1.5 .8 1.2 .8 .9 .9 .9 .8 .9 .8 .8 .8 .7 .8 .4 .6 .2 .6-.1 .6-.3 .6-.4 .6-.3"/>
<path d="M795 387.2l1.4 .1 1.4-.1 1.4-.2 1.4-.3 1.5-.1 1.5 .4 1.6 .9 1.6 1.1 1.7 .7 1.6 0 1.6-1 1.6-1.7 1.7-1.7 1.6-1 1.5-.1 1.5 .9 1.4 1.2 1.3 1 1.4 .7 1.5 0 1.5-.4 1.6-.6 1.7-.6 1.6-.8 1.6-.7 1.4-.5 1.4-.4 1.4 0 1.4 0 1.4-.1 1.6-.3 1.6-.3 1.7-.1 1.6 .5 1.6 1.1 1.5 1.3 1.5 1 1.4 .1 1.4-.7 1.2-1.2 1-1.1 .8-.5 .7 .3 .7 1.1 .8 1.4 .8 1.3 .8 1 .8 .7 .8 .5 .8 .4 .8 .5 .7 .7 .6 1.1 .7 1.5 .7 1.9 .7 2.2 .8 2.3 .7 2.3 .7 2 .6 1.8 .7 2 .6 2.5 .6 3 .6 3.2 .6 2.8 .5 1.9 .6 .8 .6 0 .5 0 .6 .4 .5 1 .6 1.4 .5 1.5 .5 .9 .6 .4 .5-.4 .6-.7 .5-1.1 .6-1.3 .5-1.4 .5-1.4 .5-1.3 .6-1.1 .5-.9 .5-.9 .5-1.2 .6-1.6 .5-1.9 .6-1.7 .5-1.3 .6-.7 .6-.4 .6-.8 .6-1.6 .6-2.6 .7-3.1 .7-3.1 .7-2.6 .7-1.7 .7-1 .8-.9 .8-1.1 .9-1.6 .8-1.9 .8-2.2 .7-2.2 .7-2 .7-1.9 .7-1.7 .7-1.4 .7-.9 .7-.5 .7-.3 .7-.2 .7-.4 .6-.2 .7 .1 .6 .7 .6 1.4 .7 1.9 .7 1.7 .8 1.1 .8 .4 .7-.2 .8-.1 .8 .4 .8 1.3 .8 1.9 .8 2.1 .8 1.7 .9 1.1 .8 .5 .8 0 .8-.2 .8-.4 .6-.5 .6-.4 .6-.3 .6 .1 .6 .4"/>
<path d="M795 389.5l1.4-.4 1.4-.2 1.4-.1 1.4-.2 1.5-.5 1.5-.8 1.6-.7 1.6-.5 1.7-.3 1.6-.2 1.6-.2 1.6-.5 1.7-.5 1.6-.2 1.5 0 1.5 .5 1.4 .6 1.3 .7 1.4 .4 1.5 .2 1.5 .1 1.6 .3 1.7 .5 1.6 .3 1.6 .1 1.4-.3 1.4-.6 1.4-.5 1.4-.4 1.4-.2 1.6-.2 1.6-.3 1.7-.5 1.6-.6 1.6-.6 1.5-.3 1.5-.1 1.4 .1 1.4 0 1.2 0 1 0 .8 .2 .7 .4 .7 .7 .8 .8 .8 .9 .8 .7 .8 .8 .8 .9 .8 1.3 .8 1.5 .7 1.7 .6 1.7 .7 1.6 .7 1.5 .7 1.5 .8 1.7 .7 2 .7 1.9 .6 1.8 .7 1.4 .6 1.2 .6 1.3 .6 1.4 .6 1.6 .5 1.6 .6 1.4 .6 1.2 .5 1 .6 1.1 .5 1 .6 1.1 .5 .9 .5 .5 .6 .1 .5-.1 .6-.2 .5-.2 .6-.1 .5-.2 .5-.6 .5-1 .6-1.2 .5-1.3 .5-1.3 .5-1.2 .6-1.4 .5-1.7 .6-2 .5-2.3 .6-2.1 .6-1.9 .6-1.8 .6-1.6 .6-1.7 .7-1.8 .7-1.8 .7-1.7 .7-1.5 .7-1.3 .8-1.2 .8-1.5 .9-1.6 .8-1.6 .8-1.5 .7-1.2 .7-.9 .7-.7 .7-.8 .7-1.1 .7-1.1 .7-1 .7-.6 .7-.4 .7-.2 .6-.3 .7-.3 .6-.4 .6-.2 .7 .1 .7 .6 .8 .9 .8 1 .7 1 .8 1 .8 1 .8 1.3 .8 1.5 .8 1.5 .8 1.2 .9 .8 .8 .6 .8 .5 .8 .7 .8 .7 .6 .6 .6 .3 .6 0 .6-.2 .6-.2"/>
<path d="M795 389.5l1.4 .1 1.4-.1 1.4-.1 1.4-.1 1.5 0 1.5-.1 1.6-.1 1.6-.2 1.7-.3 1.6-.5 1.6-.6 1.6-.8 1.7-.9 1.6-.9 1.5-.8 1.5-.6 1.4-.3 1.3 .1 1.4 .2 1.5 .2 1.5 .3 1.6 .3 1.7 .3 1.6 .5 1.6 .6 1.4 .6 1.4 .5 1.4 .3 1.4 .1 1.4-.1 1.6-.2 1.6-.1 1.7-.1 1.6 .1 1.6 0 1.5 0 1.5-.2 1.4-.2 1.4-.4 1.2-.5 1-.5 .8-.5 .7-.6 .7-.4 .8-.1 .8 .3 .8 .5 .8 .7 .8 .9 .8 1.1 .8 1.2 .7 1.6 .6 1.9 .7 2.1 .7 2.2 .7 1.9 .8 1.8 .7 1.6 .7 1.5 .6 1.5 .7 1.5 .6 1.4 .6 1.5 .6 1.4 .6 1.1 .5 .9 .6 .8 .6 .5 .5 .3 .6 0 .5-.1 .6-.1 .5-.1 .5-.1 .6 0 .5 0 .6-.1 .5-.1 .6-.1 .5 0 .5 .1 .5 0 .6-.1 .5-.3 .5-.6 .5-.9 .6-1.2 .5-1.3 .6-1.3 .5-1.2 .6-1.3 .6-1.2 .6-1.5 .6-1.6 .6-1.7 .7-1.9 .7-1.9 .7-2.1 .7-2 .7-2 .8-1.8 .8-1.5 .9-1.4 .8-1.2 .8-1 .7-.9 .7-.7 .7-.3 .7-.2 .7 .1 .7 .1 .7 0 .7-.2 .7-.2 .7-.2 .6-.1 .7 .1 .6 .2 .6 .4 .7 .4 .7 .4 .8 .4 .8 .4 .7 .3 .8 .3 .8 .1 .8 .1 .8 .3 .8 .3 .8 .5 .9 .5 .8 .6 .8 .6 .8 .5 .8 .6 .6 .7 .6 .7 .6 .8 .6 .8 .6 .7"/>
<path d="M795 389.7l1.4 .4 1.4 .5 1.4 .5 1.4 .2 1.5-.4 1.5-.9 1.6-1.3 1.6-1.4 1.7-1.3 1.6-.9 1.6-.5 1.6-.4 1.7-.3 1.6-.1 1.5-.2 1.5 0 1.4 .2 1.3 .4 1.4 .6 1.5 .7 1.5 .7 1.6 .7 1.7 .3 1.6 0 1.6-.3 1.4-.4 1.4-.3 1.4 0 1.4 .3 1.4 .5 1.6 .5 1.6 .1 1.7-.3 1.6-.8 1.6-1 1.5-1.2 1.5-1 1.4-.7 1.4-.2 1.2 .1 1 .4 .8 .4 .7 .3 .7 .2 .8 .5 .8 .7 .8 1.1 .8 1.5 .8 1.8 .8 1.8 .8 1.7 .7 1.8 .6 1.7 .7 1.9 .7 2 .7 2.5 .8 2.7 .7 3 .7 2.8 .6 2.5 .7 1.8 .6 1.4 .6 .9 .6 .8 .6 .9 .5 1 .6 1.3 .6 1.4 .5 1.4 .6 1.2 .5 .8 .6 .4 .5 .3 .5 .1 .6 .2 .5 .3 .6 .2 .5 0 .6-.3 .5-.9 .5-1.1 .5-1.3 .6-1.2 .5-.9 .5-.8 .5-.9 .6-1.1 .5-1.6 .6-2.2 .5-2.5 .6-2.9 .6-3 .6-2.9 .6-2.5 .6-2.2 .7-1.8 .7-1.8 .7-1.7 .7-1.9 .7-2 .8-2 .8-2 .9-1.6 .8-1.4 .8-1 .7-1 .7-1.1 .7-1.2 .7-1.2 .7-1.2 .7-.8 .7-.4 .7 .1 .7 .4 .7 .4 .6 .3 .7-.1 .6-.5 .6-.5 .7-.5 .7-.1 .8 .4 .8 .9 .7 1.3 .8 1.4 .8 1.3 .8 1.3 .8 1.1 .8 1 .8 1 .9 1 .8 1.2 .8 1.1 .8 1 .8 .6 .6 .3 .6 0 .6-.1 .6 .1 .6 .6"/>
<path d="M795 392.3l1.4-.2 1.4-.4 1.4-.3 1.4-.4 1.5-.3 1.5-.5 1.6-.6 1.6-.7 1.7-.9 1.6-.9 1.6-.9 1.6-.9 1.7-.9 1.6-.7 1.5-.6 1.5-.5 1.4-.3 1.3-.2 1.4 0 1.5 .2 1.5 .6 1.6 1.1 1.7 1.2 1.6 1.3 1.6 1.1 1.4 .7 1.4 .3 1.4 0 1.4-.3 1.4-.3 1.6-.4 1.6-.4 1.7-.3 1.6-.3 1.6-.3 1.5-.5 1.5-.6 1.4-.7 1.4-.5 1.2-.3 1-.2 .8-.2 .7-.1 .7-.1 .8 0 .8 .2 .8 .7 .8 1.2 .8 1.9 .8 2.4 .8 3.1 .7 3.3 .6 3.4 .7 3.1 .7 2.8 .7 2.5 .8 2.3 .7 2.2 .7 2.1 .6 2.1 .7 2 .6 2 .6 1.7 .6 1.5 .6 1.3 .5 1 .6 1 .6 .9 .5 .7 .6 .5 .5 .2 .6-.2 .5-.5 .5-.6 .6-.5 .5-.3 .6 0 .5 .3 .6 .3 .5 .3 .5 .1 .5-.3 .6-.7 .5-1.3 .5-1.6 .5-2.1 .6-2.2 .5-2.2 .6-2.2 .5-2.2 .6-2.2 .6-2.4 .6-2.6 .6-2.5 .6-2.5 .7-2.5 .7-2.4 .7-2.3 .7-2.5 .7-2.6 .8-2.6 .8-2.6 .9-2.4 .8-1.8 .8-1.2 .7-.6 .7-.1 .7 .2 .7 .1 .7 .1 .7-.2 .7-.4 .7-.4 .7-.5 .7-.3 .6-.2 .7 .1 .6 .1 .6 .3 .7 .4 .7 .5 .8 .5 .8 .8 .7 .8 .8 .9 .8 .8 .8 .8 .8 .7 .8 .4 .8 .3 .9 .4 .8 .7 .8 1.1 .8 1.4 .8 1.5 .6 1.6 .6 1.3 .6 1.1 .6 .9 .6 .3"/>
<path d="M795 390.9l1.4 0 1.4-.1 1.4-.4 1.4-.5 1.5-.7 1.5-.7 1.6-.8 1.6-.8 1.7-.6 1.6-.6 1.6-.6 1.6-.6 1.7-.4 1.6-.4 1.5-.1 1.5 .1 1.4 .2 1.3 .3 1.4 .3 1.5 .2 1.5 .4 1.6 .5 1.7 .5 1.6 .5 1.6 .5 1.4 .4 1.4 .3 1.4 .2 1.4-.1 1.4-.2 1.6-.3 1.6-.6 1.7-.6 1.6-.6 1.6-.6 1.5-.5 1.5-.5 1.4-.3 1.4-.2 1.2-.1 1 .1 .8 .1 .7 .3 .7 .4 .8 .5 .8 .8 .8 .9 .8 1.2 .8 1.4 .8 1.8 .8 2.2 .7 2.3 .6 2.4 .7 2.3 .7 2.2 .7 2.2 .8 2.1 .7 1.8 .7 1.6 .6 1.4 .7 1.3 .6 1.1 .6 1 .6 1 .6 1 .5 .9 .6 .9 .6 .8 .5 .6 .6 .4 .5 .3 .6 .2 .5-.1 .5-.1 .6-.1 .5-.2 .6-.3 .5-.2 .6-.3 .5-.4 .5-.3 .5-.5 .6-.7 .5-1 .5-1.3 .5-1.6 .6-1.9 .5-2.1 .6-2 .5-2.1 .6-2.2 .6-2 .6-2 .6-1.8 .6-1.8 .7-1.7 .7-1.7 .7-1.6 .7-1.7 .7-1.6 .8-1.6 .8-1.6 .9-1.5 .8-1.3 .8-1 .7-.7 .7-.5 .7-.3 .7-.2 .7 0 .7-.1 .7 0 .7-.2 .7-.1 .7-.3 .6-.3 .7-.3 .6-.1 .6 0 .7 .2 .7 .5 .8 .7 .8 .7 .7 .9 .8 .9 .8 .9 .8 .9 .8 .8 .8 .8 .8 .6 .9 .7 .8 .6 .8 .7 .8 .7 .8 .8 .6 .7 .6 .8 .6 .7 .6 .6 .6 .4"/>
<path d="M795 390l1.4-.2 1.4-.3 1.4-.4 1.4-.4 1.5-.6 1.5-.5 1.6-.6 1.6-.5 1.7-.4 1.6-.3 1.6-.5 1.6-.6 1.7-.6 1.6-.6 1.5-.2 1.5 .1 1.4 .6 1.3 .7 1.4 .6 1.5 .5 1.5 .4 1.6 .2 1.7 .3 1.6 .4 1.6 .3 1.4 .3 1.4 .1 1.4-.1 1.4-.2 1.4-.3 1.6-.4 1.6-.5 1.7-.5 1.6-.5 1.6-.4 1.5-.3 1.5-.2 1.4-.2 1.4-.2 1.2-.2 1-.3 .8-.1 .7 0 .7 .4 .8 .8 .8 1 .8 1.2 .8 1.1 .8 1.2 .8 1.2 .8 1.5 .7 1.6 .6 1.8 .7 1.8 .7 1.6 .7 1.6 .8 1.4 .7 1.3 .7 1.1 .6 1.1 .7 .9 .6 .9 .6 .9 .6 .9 .6 .9 .5 .8 .6 .8 .6 .4 .5 .3 .6 .1 .5 .2 .6 .2 .5 .4 .5 .4 .6 .4 .5 .1 .6 0 .5-.3 .6-.3 .5-.3 .5-.4 .5-.4 .6-.6 .5-.8 .5-1.2 .5-1.4 .6-1.6 .5-1.7 .6-1.6 .5-1.6 .6-1.7 .6-1.5 .6-1.4 .6-1.3 .6-1.4 .7-1.5 .7-1.7 .7-1.6 .7-1.4 .7-1.1 .8-.9 .8-.8 .9-.7 .8-.8 .8-.8 .7-.7 .7-.5 .7-.4 .7-.1 .7-.2 .7-.2 .7-.2 .7-.3 .7-.4 .7-.3 .6-.3 .7-.3 .6-.1 .6 0 .7 .2 .7 .5 .8 .6 .8 .6 .7 .5 .8 .4 .8 .5 .8 .5 .8 .8 .8 1 .8 1 .9 1 .8 .8 .8 .6 .8 .5 .8 .4 .6 .5 .6 .5 .6 .5 .6 .5 .6 .1"/>
<path d="M795 386.8l1.4 .3 1.4 .4 1.4 .4 1.4 .1 1.5 .2 1.5 .2 1.6 .1 1.6 .2 1.7 0 1.6-.2 1.6-.4 1.6-.6 1.7-.7 1.6-.7 1.5-.6 1.5-.5 1.4-.3 1.3 0 1.4 .3 1.5 .4 1.5 .4 1.6 .2 1.7-.2 1.6-.4 1.6-.6 1.4-.5 1.4-.1 1.4 .1 1.4 .4 1.4 .4 1.6 .3 1.6 .1 1.7 .2 1.6 .3 1.6 .3 1.5 .3 1.5 .2 1.4-.1 1.4-.1 1.2-.2 1-.3 .8-.3 .7-.4 .7-.3 .8-.1 .8 .2 .8 .7 .8 .9 .8 1.1 .8 1 .8 .9 .7 .7 .6 .9 .7 1.1 .7 1.5 .7 1.8 .8 2.1 .7 2 .7 2 .6 1.7 .7 1.7 .6 1.8 .6 1.7 .6 1.7 .6 1.4 .5 1.2 .6 .9 .6 .6 .5 .5 .6 .3 .5 0 .6-.2 .5-.3 .5-.1 .6-.1 .5 .2 .6 0 .5-.2 .6-.7 .5-1 .5-1.1 .5-1.1 .6-.8 .5-.5 .5-.4 .5-.6 .6-.8 .5-1 .6-1.1 .5-1 .6-.9 .6-1 .6-1.1 .6-1.3 .6-1.5 .7-1.6 .7-1.7 .7-1.8 .7-1.9 .7-1.9 .8-1.8 .8-1.6 .9-1.3 .8-1.1 .8-.8 .7-.9 .7-1.1 .7-1.3 .7-1.2 .7-1 .7-.6 .7-.1 .7 .2 .7 .3 .7 .3 .6 .2 .7 .4 .6 .4 .6 .7 .7 .8 .7 .8 .8 .7 .8 .7 .7 .5 .8 .5 .8 .4 .8 .3 .8 .2 .8 .3 .8 .4 .9 .6 .8 .7 .8 .7 .8 .4 .8 .1 .6-.3 .6-.4 .6-.2 .6 .2 .6 .5"/>
<path d="M795 389.8l1.4-.6 1.4-.4 1.4-.1 1.4 .2 1.5 .3 1.5-.1 1.6-.5 1.6-1 1.7-1.4 1.6-1.4 1.6-1.2 1.6-.8 1.7-.2 1.6 .2 1.5 .7 1.5 .9 1.4 .7 1.3 .6 1.4 .3 1.5 .3 1.5 .4 1.6 .4 1.7 .5 1.6 .3 1.6 .1 1.4-.3 1.4-.6 1.4-.8 1.4-.7 1.4-.4 1.6-.1 1.6 .3 1.7 .4 1.6 .2 1.6-.3 1.5-.8 1.5-1.2 1.4-1 1.4-.7 1.2-.1 1 .5 .8 1 .7 1.2 .7 1.2 .8 1.3 .8 1.3 .8 1.5 .8 1.7 .8 2.1 .8 2.5 .8 2.6 .7 2.4 .6 2.3 .7 1.9 .7 1.8 .7 1.6 .8 1.7 .7 1.9 .7 2.3 .6 2.5 .7 2.4 .6 2 .6 1.5 .6 .8 .6 .4 .5 .2 .6 .2 .6 .4 .5 .7 .6 .8 .5 .7 .6 .5 .5 .2 .5 0 .6-.3 .5-.5 .6-.6 .5-.7 .6-.8 .5-.9 .5-1.2 .5-1.6 .6-2.1 .5-2.4 .5-2.5 .5-2.2 .6-1.8 .5-1.4 .6-1.4 .5-1.5 .6-2 .6-2.4 .6-2.7 .6-2.7 .6-2.5 .7-2.1 .7-1.6 .7-1.2 .7-1.1 .7-1.2 .8-1.4 .8-1.5 .9-1.4 .8-1.3 .8-1.1 .7-.8 .7-.5 .7-.5 .7-.5 .7-.7 .7-.8 .7-.8 .7-.7 .7-.3 .7 .3 .6 .7 .7 1 .6 .9 .6 .7 .7 .3 .7 .1 .8 .1 .8 .4 .7 .9 .8 1.3 .8 1.6 .8 1.7 .8 1.4 .8 1.2 .8 .9 .9 .8 .8 .7 .8 .7 .8 .7 .8 .6 .6 .6 .6 .5 .6-.2 .6-.4 .6-.5"/>
<path d="M795 387.8l1.4-.2 1.4 .3 1.4 .7 1.4 .7 1.5 .2 1.5-.4 1.6-1.1 1.6-1.5 1.7-1.2 1.6-.8 1.6-.4 1.6 0 1.7 .2 1.6 .1 1.5 .3 1.5 .3 1.4 .5 1.3 .4 1.4 .4 1.5 .3 1.5 .2 1.6 .2 1.7 .1 1.6 0 1.6-.3 1.4-.5 1.4-.6 1.4-.6 1.4-.3 1.4 .3 1.6 .7 1.6 .7 1.7 .4 1.6-.3 1.6-.9 1.5-1.2 1.5-1.1 1.4-.5 1.4 .1 1.2 .5 1 .7 .8 .8 .7 .6 .7 .7 .8 .9 .8 1.1 .8 1.3 .8 1.5 .8 1.6 .8 1.8 .8 1.8 .7 1.6 .6 1.5 .7 1.2 .7 1.2 .7 1.2 .8 1.7 .7 2.1 .7 2.4 .6 2.5 .7 1.9 .6 1.1 .6 .4 .6 0 .6 0 .5 .4 .6 .8 .6 .8 .5 .8 .6 .5 .5 .2 .6 .1 .5 0 .5-.1 .6-.1 .5-.4 .6-.6 .5-.8 .6-.9 .5-1 .5-1.3 .5-1.5 .6-1.9 .5-1.9 .5-1.7 .5-1 .6-.7 .5-.5 .6-1 .5-1.6 .6-2.2 .6-2.5 .6-2.3 .6-1.8 .6-1.3 .7-.9 .7-.9 .7-1.1 .7-1.1 .7-1.3 .8-1.1 .8-1.1 .9-1 .8-.9 .8-.9 .7-.8 .7-.6 .7-.6 .7-.6 .7-.8 .7-.8 .7-.6 .7-.2 .7 .4 .7 .9 .6 1.2 .7 .9 .6 .3 .6-.2 .7-.3 .7-.1 .8 .4 .8 .9 .7 1.3 .8 1.3 .8 1.2 .8 .9 .8 .8 .8 .8 .8 .7 .9 .7 .8 .6 .8 .5 .8 .3 .8 .3 .6 .2 .6 0 .6-.4 .6-.5 .6-.5"/>
<path d="M795 390l1.4-.8 1.4-.8 1.4-.4 1.4-.1 1.5 .2 1.5 0 1.6-.5 1.6-1 1.7-1.3 1.6-1 1.6-.5 1.6 0 1.7 .4 1.6 .2 1.5 .1 1.5-.1 1.4-.1 1.3 .2 1.4 .6 1.5 .8 1.5 .7 1.6 .7 1.7 .6 1.6 .3 1.6 .3 1.4 0 1.4-.2 1.4-.7 1.4-.9 1.4-.8 1.6-.5 1.6 0 1.7 .2 1.6 0 1.6-.3 1.5-.8 1.5-1.1 1.4-.9 1.4-.3 1.2 .4 1 .8 .8 .6 .7 .4 .7 0 .8 .2 .8 .4 .8 .9 .8 1.3 .8 1.4 .8 1.5 .8 1.4 .7 1.6 .6 1.6 .7 1.6 .7 1.4 .7 1 .8 .8 .7 .9 .7 1.3 .6 1.5 .7 1.8 .6 1.5 .6 1.1 .6 .5 .6 .3 .5 .4 .6 .8 .6 1.3 .5 1.5 .6 1.3 .5 .8 .6 .3 .5 0 .5 .1 .6 .3 .5 .5 .6 .5 .5 .3 .6 0 .5-.1 .5-.3 .5-.6 .6-.9 .5-1.3 .5-1.6 .5-1.7 .6-1.5 .5-1.2 .6-1.1 .5-1.2 .6-1.7 .6-2.1 .6-2.4 .6-2.2 .6-1.6 .7-1 .7-.8 .7-.8 .7-1.2 .7-1.5 .8-1.6 .8-1.4 .9-1 .8-.7 .8-.6 .7-.4 .7-.5 .7-.5 .7-.4 .7-.5 .7-.7 .7-1 .7-1.1 .7-.9 .7-.5 .6 0 .7 .3 .6 .3 .6 0 .7-.4 .7-.5 .8-.1 .8 .5 .7 1.2 .8 1.4 .8 1.4 .8 1 .8 .7 .8 .6 .8 .6 .9 .9 .8 1.1 .8 1.1 .8 .9 .8 .8 .6 .5 .6 .5 .6 .3 .6 0 .6-.3"/>
<path d="M795 388.1l1.4 1.1 1.4 .6 1.4 .1 1.4-.4 1.5-.4 1.5-.2 1.6 .1 1.6 0 1.7-.5 1.6-1.1 1.6-1.6 1.6-1.3 1.7-.5 1.6 .3 1.5 .9 1.5 .7 1.4 .2 1.3-.4 1.4-.6 1.5-.4 1.5 0 1.6 .2 1.7 .2 1.6-.2 1.6-.4 1.4-.1 1.4 .4 1.4 .9 1.4 1 1.4 .7 1.6 0 1.6-.4 1.7-.4 1.6-.1 1.6 .3 1.5 .2 1.5-.4 1.4-1 1.4-1.3 1.2-.9 1-.1 .8 .8 .7 1.1 .7 .9 .8 .4 .8-.1 .8-.2 .8 .2 .8 .8 .8 1.1 .8 1.2 .7 1.1 .6 1.2 .7 1.4 .7 2.1 .7 2.5 .8 2.8 .7 2.3 .7 1.7 .6 1.2 .7 1.1 .6 1.4 .6 1.7 .6 1.5 .6 .9 .5 .2 .6-.2 .6-.1 .5 .6 .6 1.2 .5 1.4 .6 1 .5 .1 .5-.6 .6-.9 .5-.8 .6-.3 .5-.3 .6-.4 .5-.8 .5-1 .5-.8 .6-.2 .5 .1 .5 .2 .5-.4 .6-1.1 .5-1.7 .6-1.7 .5-1.3 .6-1 .6-1.1 .6-1.6 .6-2.3 .6-2.5 .7-2.4 .7-1.5 .7-.8 .7-.4 .7-.6 .8-1.4 .8-2 .9-2.1 .8-1.8 .8-1.3 .7-.8 .7-.8 .7-1 .7-1 .7-.6 .7 .1 .7 .6 .7 .9 .7 .6 .7 0 .6-.3 .7-.2 .6 .2 .6 .6 .7 .7 .7 .4 .8-.2 .8-.4 .7-.2 .8 .6 .8 1.4 .8 1.8 .8 1.5 .8 .7 .8 0 .9-.3 .8-.1 .8 .3 .8 .5 .8 .3 .6 0 .6-.2 .6 .1 .6 .7 .6 1.3"/>
<path d="M795 388.2l1.4-.4 1.4-.3 1.4-.4 1.4-.5 1.5-.6 1.5-.3 1.6-.3 1.6-.2 1.7-.2 1.6-.2 1.6 .1 1.6 .4 1.7 .6 1.6 .4 1.5 .1 1.5-.5 1.4-.9 1.3-.6 1.4 .1 1.5 .9 1.5 1.6 1.6 1.6 1.7 1 1.6-.1 1.6-.8 1.4-1.2 1.4-.9 1.4-.7 1.4-.3 1.4-.3 1.6-.5 1.6-.5 1.7-.5 1.6-.3 1.6-.1 1.5 0 1.5-.1 1.4 0 1.4 .4 1.2 .7 1 1 .8 .8 .7 .4 .7-.3 .8-.6 .8-.3 .8 .6 .8 1.6 .8 2.5 .8 2.5 .8 2.2 .7 1.2 .6 .6 .7 .3 .7 .5 .7 .9 .8 1.2 .7 1.2 .7 1.1 .6 .9 .7 .9 .6 1 .6 1.1 .6 1.1 .6 1 .5 1 .6 1.2 .6 1.3 .5 1.5 .6 1 .5 .4 .6-.5 .5-1 .5-.9 .6-.3 .5 .7 .6 1.1 .5 1.1 .6 .3 .5-.7 .5-1.5 .5-1.8 .6-1.7 .5-1.5 .5-1.3 .5-1.4 .6-1.6 .5-1.6 .6-1.6 .5-1.4 .6-1.3 .6-1.2 .6-1.1 .6-1.1 .6-.8 .7-.5 .7-.4 .7-.5 .7-1.1 .7-1.8 .8-2.2 .8-2 .9-1.3 .8-.2 .8 .6 .7 .7 .7 .2 .7-.7 .7-1.3 .7-1.5 .7-1.3 .7-.7 .7-.5 .7-.3 .7-.4 .6-.3 .7-.3 .6 .1 .6 .3 .7 .6 .7 .6 .8 .8 .8 1.1 .7 1.4 .8 1.6 .8 1.4 .8 .9 .8 0 .8-.4 .8-.4 .9 .4 .8 1.2 .8 1.9 .8 1.8 .8 1.1 .6 .1 .6-.7 .6-.9 .6-.7 .6-.5"/>
<path d="M795 390.8l1.4 .1 1.4 .1 1.4-.3 1.4-.7 1.5-1 1.5-1 1.6-.8 1.6-.3 1.7-.2 1.6-.2 1.6-.7 1.6-1 1.7-1.1 1.6-.7 1.5-.1 1.5 .4 1.4 .7 1.3 .6 1.4 .5 1.5 .3 1.5 .3 1.6 .5 1.7 .7 1.6 .5 1.6 .2 1.4 0 1.4-.1 1.4 0 1.4 .1 1.4 0 1.6-.4 1.6-.7 1.7-1 1.6-.9 1.6-.5 1.5-.1 1.5 .1 1.4 0 1.4-.4 1.2-.5 1-.5 .8-.2 .7 .2 .7 .7 .8 1 .8 .9 .8 .9 .8 1 .8 1.3 .8 1.6 .8 1.9 .7 2.1 .6 2.2 .7 2.1 .7 2.2 .7 2.3 .8 2.4 .7 2.3 .7 2 .6 1.4 .7 1.1 .6 1.2 .6 1.4 .6 1.8 .6 1.8 .5 1.6 .6 1.2 .6 .7 .5 .5 .6 .6 .5 .9 .6 .9 .5 .8 .5 .4 .6 .1 .5-.1 .6-.1 .5 0 .6-.1 .5-.2 .5-.5 .5-.8 .6-.9 .5-.9 .5-1 .5-1.2 .6-1.8 .5-2.4 .6-2.7 .5-2.6 .6-2.3 .6-1.8 .6-1.7 .6-1.9 .6-2.1 .7-2.5 .7-2.5 .7-2.3 .7-1.8 .7-1.4 .8-1.4 .8-1.6 .9-1.7 .8-1.8 .8-1.4 .7-1 .7-.7 .7-.6 .7-.7 .7-.7 .7-.7 .7-.4 .7-.2 .7-.2 .7-.3 .6-.7 .7-.7 .6-.6 .6-.1 .7 .5 .7 .9 .8 1 .8 .8 .7 .5 .8 .5 .8 .7 .8 1.2 .8 1.5 .8 1.5 .8 1.2 .9 .9 .8 .7 .8 .8 .8 .9 .8 .9 .6 .7 .6 .6 .6 .3 .6 .3 .6 .5"/>
<path d="M795 389.5l1.4-.1 1.4 0 1.4 0 1.4-.2 1.5-.6 1.5-1.1 1.6-1.2 1.6-1.1 1.7-.4 1.6 .2 1.6 .6 1.6 .6 1.7 .2 1.6-.2 1.5-.7 1.5-.6 1.4-.3 1.3 0 1.4 .4 1.5 .5 1.5 .4 1.6 .5 1.7 .4 1.6 .3 1.6 .1 1.4-.1 1.4-.2 1.4-.2 1.4-.1 1.4 0 1.6-.1 1.6-.2 1.7-.6 1.6-1 1.6-1.1 1.5-.8 1.5-.2 1.4 .4 1.4 .8 1.2 1 1 .7 .8 .1 .7-.2 .7-.4 .8-.2 .8 .3 .8 .7 .8 1 .8 1.2 .8 1.3 .8 1.4 .7 1.6 .6 1.6 .7 1.7 .7 1.8 .7 1.7 .8 1.8 .7 1.9 .7 1.9 .6 1.6 .7 1.2 .6 .7 .6 .6 .6 .8 .6 1.2 .5 1.9 .6 2.1 .6 2.1 .5 1.6 .6 .9 .5 .3 .6-.1 .5-.2 .5-.1 .6 .1 .5 .2 .6 .1 .5 0 .6-.1 .5-.3 .5-.5 .5-.6 .6-.9 .5-.9 .5-1 .5-1 .6-1.1 .5-1.6 .6-2.1 .5-2.4 .6-2.6 .6-2.3 .6-1.7 .6-1.1 .6-.7 .7-.7 .7-1 .7-1.6 .7-2 .7-2.2 .8-2.1 .8-1.8 .9-1.5 .8-1.3 .8-1 .7-.9 .7-.8 .7-.7 .7-.7 .7-.7 .7-.6 .7-.6 .7-.4 .7-.2 .7-.1 .6-.1 .7-.5 .6-.8 .6-.7 .7-.4 .7 .4 .8 1.2 .8 1.8 .7 1.9 .8 1.5 .8 1 .8 .5 .8 .3 .8 .4 .8 .6 .9 .7 .8 .9 .8 .8 .8 .7 .8 .7 .6 .5 .6 .3 .6 .2 .6 .2 .6 .2"/>
<path d="M795 389.4l1.4-.5 1.4-.5 1.4-.2 1.4-.1 1.5-.1 1.5-.2 1.6-.4 1.6-.5 1.7-.4 1.6-.2 1.6-.1 1.6-.2 1.7-.2 1.6-.3 1.5-.2 1.5-.2 1.4-.2 1.3-.1 1.4 0 1.5-.1 1.5 .1 1.6 .4 1.7 .7 1.6 .7 1.6 .7 1.4 .3 1.4-.1 1.4-.5 1.4-.6 1.4-.4 1.6-.3 1.6-.1 1.7-.1 1.6-.2 1.6-.2 1.5-.3 1.5-.2 1.4-.1 1.4 .1 1.2 .2 1 .2 .8 .1 .7 0 .7 0 .8 0 .8 .1 .8 .3 .8 .4 .8 .7 .8 1.2 .8 1.5 .7 1.9 .6 2 .7 1.8 .7 1.5 .7 1.2 .8 1.1 .7 1.3 .7 1.3 .6 1.5 .7 1.5 .6 1.3 .6 1.2 .6 1.1 .6 1.1 .5 1.1 .6 1.2 .6 1.2 .5 .9 .6 .8 .5 .5 .6 .2 .5 0 .5-.2 .6-.3 .5-.3 .6-.2 .5 0 .6 .2 .5 .3 .5 .1 .5-.2 .6-.7 .5-1.1 .5-1.3 .5-1.3 .6-1.3 .5-1.2 .6-1.4 .5-1.4 .6-1.5 .6-1.5 .6-1.6 .6-1.4 .6-1.2 .7-1.3 .7-1.2 .7-1.4 .7-1.5 .7-1.6 .8-1.6 .8-1.7 .9-1.7 .8-1.5 .8-1.2 .7-.8 .7-.3 .7-.1 .7-.1 .7-.2 .7-.6 .7-.7 .7-.8 .7-.6 .7-.4 .6 0 .7 0 .6 .1 .6 0 .7 .2 .7 .3 .8 .6 .8 .9 .7 1 .8 .9 .8 .8 .8 .7 .8 .6 .8 .5 .8 .4 .9 .2 .8 .3 .8 .4 .8 .6 .8 .9 .6 1 .6 .8 .6 .5 .6 .2 .6-.1"/>
<path d="M795 389.3l1.4-.2 1.4-.2 1.4-.3 1.4-.5 1.5-.6 1.5-.6 1.6-.4 1.6-.2 1.7-.1 1.6-.2 1.6-.3 1.6-.4 1.7-.4 1.6-.2 1.5-.1 1.5 .1 1.4 .1 1.3 .2 1.4 .3 1.5 .4 1.5 .6 1.6 .6 1.7 .5 1.6 .2 1.6 0 1.4-.3 1.4-.3 1.4-.3 1.4-.2 1.4-.2 1.6-.4 1.6-.5 1.7-.6 1.6-.4 1.6-.2 1.5-.1 1.5 .1 1.4 0 1.4-.1 1.2 0 1 .1 .8 .1 .7 .3 .7 .2 .8 .4 .8 .5 .8 .7 .8 1 .8 1.3 .8 1.6 .8 1.6 .7 1.5 .6 1.5 .7 1.4 .7 1.4 .7 1.5 .8 1.7 .7 1.6 .7 1.4 .6 1.1 .7 1.1 .6 1.1 .6 1.3 .6 1.4 .6 1.4 .5 1.2 .6 1.1 .6 .9 .5 .8 .6 .7 .5 .6 .6 .4 .5 .1 .5 0 .6 0 .5 .1 .6 .2 .5 .1 .6-.1 .5-.4 .5-.7 .5-.9 .6-1 .5-1 .5-1.1 .5-1.3 .6-1.6 .5-1.8 .6-1.9 .5-1.8 .6-1.5 .6-1.4 .6-1.4 .6-1.3 .6-1.5 .7-1.5 .7-1.5 .7-1.4 .7-1.4 .7-1.4 .8-1.4 .8-1.5 .9-1.4 .8-1.1 .8-.8 .7-.5 .7-.5 .7-.7 .7-.7 .7-.8 .7-.7 .7-.6 .7-.3 .7-.3 .7-.4 .6-.4 .7-.4 .6-.2 .6 .2 .7 .5 .7 .7 .8 .8 .8 .9 .7 .8 .8 .8 .8 .9 .8 .9 .8 .9 .8 .8 .8 .6 .9 .6 .8 .7 .8 .9 .8 .9 .8 .7 .6 .4 .6 .1 .6 0 .6 0 .6 .2"/>
<path d="M795 391.7l1.4-.6 1.4-1 1.4-.9 1.4-.7 1.5-.4 1.5-.5 1.6-.5 1.6-.7 1.7-.7 1.6-.5 1.6-.4 1.6-.4 1.7-.5 1.6-.6 1.5-.4 1.5 .2 1.4 .7 1.3 1.2 1.4 1.2 1.5 .9 1.5 .3 1.6-.1 1.7-.2 1.6 0 1.6 .4 1.4 .6 1.4 .4 1.4-.1 1.4-.6 1.4-1 1.6-.9 1.6-.7 1.7-.5 1.6-.3 1.6-.3 1.5-.5 1.5-.4 1.4-.3 1.4-.1 1.2 .1 1 .1 .8-.1 .7 0 .7 .4 .8 1 .8 1.5 .8 1.8 .8 1.6 .8 1.3 .8 1.1 .8 1.2 .7 1.7 .6 2.4 .7 2.7 .7 2.6 .7 2.1 .8 1.7 .7 1.3 .7 1.3 .6 1.4 .7 1.6 .6 1.7 .6 1.5 .6 1.4 .6 1.2 .5 1.3 .6 1.3 .6 1.2 .5 1 .6 .6 .5 .5 .6 .4 .5 .7 .5 .9 .6 .9 .5 .4 .6-.2 .5-.7 .6-.9 .5-.7 .5-.5 .5-.2 .6-.5 .5-1 .5-1.8 .5-2.3 .6-2.5 .5-2.3 .6-2.2 .5-2 .6-2 .6-2.1 .6-2.2 .6-2 .6-1.8 .7-1.8 .7-1.9 .7-2 .7-2.1 .7-1.7 .8-1.3 .8-1 .9-.8 .8-1 .8-1.4 .7-1.6 .7-1.4 .7-1 .7-.5 .7 0 .7-.1 .7-.5 .7-.8 .7-1.1 .7-.9 .6-.6 .7-.2 .6 0 .6 .2 .7 .2 .7 .5 .8 .7 .8 1.1 .7 1.1 .8 1 .8 .9 .8 .9 .8 1.1 .8 1.4 .8 1.7 .9 1.7 .8 1.2 .8 .7 .8 .2 .8 .1 .6 .3 .6 .7 .6 .9 .6 .8 .6 .4"/>
<path d="M795 390.2l1.4 0 1.4 .1 1.4 0 1.4 .1 1.5-.1 1.5-.3 1.6-.7 1.6-.9 1.7-.9 1.6-.7 1.6-.5 1.6-.4 1.7-.5 1.6-.6 1.5-.7 1.5-.5 1.4-.1 1.3 .1 1.4 .5 1.5 .6 1.5 .5 1.6 .3 1.7 .3 1.6 .1 1.6 .1 1.4 .2 1.4 .1 1.4 .1 1.4 0 1.4 0 1.6 0 1.6 0 1.7 0 1.6-.1 1.6-.4 1.5-.7 1.5-.6 1.4-.4 1.4-.1 1.2 .2 1 .2 .8 0 .7-.2 .7-.1 .8 .2 .8 .7 .8 1.2 .8 1.7 .8 1.8 .8 1.9 .8 2.1 .7 2.3 .6 2.5 .7 2.7 .7 2.6 .7 2.7 .8 2.7 .7 2.7 .7 2.6 .6 2.5 .7 2.4 .6 2.1 .6 1.8 .6 1.4 .6 1.2 .5 1.4 .6 1.4 .6 1.4 .5 1.1 .6 .6 .5 0 .6-.3 .5-.4 .5-.2 .6-.1 .5 0 .6-.2 .5-.4 .6-.8 .5-.9 .5-1 .5-.9 .6-1 .5-1.2 .5-1.5 .5-1.8 .6-1.9 .5-2 .6-1.9 .5-2.1 .6-2.4 .6-2.6 .6-2.6 .6-2.3 .6-2.1 .7-2 .7-2.1 .7-2.3 .7-2.6 .7-2.7 .8-2.6 .8-2.2 .9-1.9 .8-1.6 .8-1.3 .7-1.3 .7-1.1 .7-1 .7-.8 .7-.5 .7-.4 .7-.2 .7-.2 .7-.1 .7 .1 .6 .3 .7 .4 .6 .3 .6 .3 .7 .3 .7 .5 .8 .9 .8 1.2 .7 1.4 .8 1.3 .8 1 .8 .8 .8 .5 .8 .6 .8 .7 .9 .9 .8 1.1 .8 .9 .8 .7 .8 .6 .6 .4 .6 .4 .6 .5 .6 .7 .6 .4"/>
<path d="M795 388.7l1.4 0 1.4 0 1.4 0 1.4-.1 1.5-.4 1.5-.5 1.6-.6 1.6-.5 1.7-.3 1.6-.1 1.6 0 1.6 0 1.7-.2 1.6-.4 1.5-.7 1.5-.7 1.4-.6 1.3-.3 1.4 .1 1.5 .5 1.5 .8 1.6 .8 1.7 .8 1.6 .5 1.6 .3 1.4 0 1.4 0 1.4-.1 1.4 .1 1.4 0 1.6-.1 1.6-.1 1.7-.3 1.6-.5 1.6-.4 1.5-.4 1.5-.2 1.4 0 1.4 .2 1.2 .3 1 .1 .8-.2 .7-.5 .7-.5 .8-.4 .8-.1 .8 .4 .8 1 .8 1.3 .8 1.6 .8 1.5 .7 1.5 .6 1.3 .7 1.1 .7 1 .7 1.1 .8 1.1 .7 1.2 .7 1 .6 .9 .7 .7 .6 .5 .6 .5 .6 .4 .6 .6 .5 .7 .6 .9 .6 .7 .5 .4 .6 .1 .5-.4 .6-.7 .5-.7 .5-.5 .6-.1 .5 .2 .6 .5 .5 .5 .6 .3 .5 .1 .5-.2 .5-.5 .6-.5 .5-.6 .5-.6 .5-.8 .6-.8 .5-1 .6-1.1 .5-1.3 .6-1.3 .6-1.2 .6-1 .6-.8 .6-.7 .7-.6 .7-.9 .7-1.2 .7-1.4 .7-1.7 .8-1.5 .8-1.4 .9-.8 .8-.4 .8 0 .7 .2 .7 .1 .7 .1 .7-.1 .7-.2 .7-.3 .7-.1 .7-.1 .7 0 .7 .1 .6-.1 .7-.1 .6-.2 .6-.2 .7 0 .7 .3 .8 .6 .8 .7 .7 .8 .8 .5 .8 .3 .8-.1 .8-.3 .8-.3 .8 0 .9 .2 .8 .7 .8 1 .8 1 .8 .9 .6 .6 .6 .4 .6 .2 .6 .2 .6 .1"/>
<path d="M795 389.6l1.4 .5 1.4 .2 1.4-.1 1.4-.4 1.5-.6 1.5-.9 1.6-1.1 1.6-1.3 1.7-1.2 1.6-1.1 1.6-.7 1.6-.1 1.7 .4 1.6 .9 1.5 1.2 1.5 1.2 1.4 .9 1.3 .4 1.4-.1 1.5-.5 1.5-.7 1.6-.8 1.7-.6 1.6-.3 1.6 .1 1.4 .5 1.4 .7 1.4 .6 1.4 .5 1.4 .2 1.6-.1 1.6-.3 1.7-.5 1.6-.8 1.6-.9 1.5-1.1 1.5-1.1 1.4-.7 1.4-.2 1.2 .5 1 1.1 .8 1.5 .7 1.6 .7 1.5 .8 1.4 .8 1.2 .8 .9 .8 .8 .8 .9 .8 1 .8 1.2 .7 1.5 .6 1.9 .7 2.3 .7 2.7 .7 2.6 .8 2.4 .7 2.1 .7 1.8 .6 1.5 .7 1.1 .6 .8 .6 .4 .6 .2 .6 .1 .5 .1 .6 .5 .6 .7 .5 1.1 .6 1.2 .5 1.1 .6 .8 .5 .4 .5-.2 .6-.7 .5-1.2 .6-1.6 .5-1.8 .6-1.7 .5-1.4 .5-1 .5-.7 .6-.7 .5-.7 .5-1.1 .5-1.2 .6-1.5 .5-1.7 .6-2 .5-2.1 .6-2.2 .6-2.4 .6-2.3 .6-2.2 .6-1.6 .7-1.2 .7-.7 .7-.4 .7-.3 .7-.5 .8-.8 .8-1.2 .9-1.5 .8-1.7 .8-1.9 .7-1.7 .7-1.4 .7-.9 .7-.3 .7 .3 .7 .5 .7 .7 .7 .5 .7 .4 .7 .2 .6 .1 .7 .1 .6-.1 .6 0 .7-.2 .7 0 .8 .2 .8 .7 .7 1.2 .8 1.7 .8 1.9 .8 1.9 .8 1.6 .8 1.2 .8 .7 .9 .3 .8-.2 .8-.4 .8-.6 .8-.5 .6 0 .6 .3 .6 .6 .6 .8 .6 .9"/>
<path d="M795 390.6l1.4-.7 1.4-.9 1.4-.6 1.4-.2 1.5 .1 1.5 0 1.6-.4 1.6-1 1.7-1.1 1.6-.8 1.6-.3 1.6 .1 1.7 .1 1.6-.1 1.5-.5 1.5-.4 1.4-.1 1.3 .7 1.4 1 1.5 1 1.5 .6 1.6 .1 1.7-.2 1.6 0 1.6 .2 1.4 .5 1.4 .3 1.4-.3 1.4-.7 1.4-.9 1.6-.7 1.6-.3 1.7 .2 1.6 .1 1.6-.3 1.5-.7 1.5-1 1.4-.6 1.4 0 1.2 .5 1 .6 .8 .3 .7-.1 .7-.2 .8 .1 .8 .9 .8 1.4 .8 1.6 .8 1.3 .8 1 .8 .9 .7 1.2 .6 1.9 .7 2.3 .7 2.3 .7 1.8 .8 1.3 .7 1.1 .7 1.3 .6 1.7 .7 2 .6 1.9 .6 1.4 .6 1 .6 .6 .5 .9 .6 1.3 .6 1.7 .5 1.6 .6 1.1 .5 .4 .6 .1 .5 .2 .5 .5 .6 .8 .5 .7 .6 .2 .5-.3 .6-.7 .5-.7 .5-.4 .5-.2 .6-.4 .5-.9 .5-1.6 .5-2 .6-1.8 .5-1.6 .6-1.4 .5-1.5 .6-1.8 .6-2.3 .6-2.4 .6-2.3 .6-1.6 .7-1.2 .7-1.2 .7-1.5 .7-1.9 .7-2.1 .8-1.9 .8-1.3 .9-.9 .8-.8 .8-1 .7-1.3 .7-1.4 .7-1.1 .7-.6 .7-.2 .7-.3 .7-.6 .7-1 .7-1.1 .7-.7 .6-.2 .7 .3 .6 .3 .6 .1 .7-.3 .7-.2 .8 .2 .8 .9 .7 1.5 .8 1.5 .8 1.1 .8 .8 .8 .5 .8 .7 .8 1.2 .9 1.5 .8 1.4 .8 .9 .8 .4 .8 .1 .6 .2 .6 .5 .6 .7 .6 .6 .6 .2"/>
<path d="M795 386.9l1.4 .4 1.4 .3 1.4 .3 1.4 0 1.5-.4 1.5-.5 1.6-.3 1.6 .2 1.7 .6 1.6 .8 1.6 .4 1.6-.3 1.7-1 1.6-1.2 1.5-1 1.5-.3 1.4 .5 1.3 .9 1.4 .8 1.5 .3 1.5-.4 1.6-.8 1.7-.8 1.6-.7 1.6-.4 1.4-.1 1.4 0 1.4 .2 1.4 .3 1.4 .3 1.6 .3 1.6-.1 1.7-.3 1.6-.4 1.6-.1 1.5 .3 1.5 .8 1.4 .9 1.4 .7 1.2 0 1-.5 .8-.9 .7-.6 .7-.1 .8 .7 .8 1.1 .8 1.1 .8 .8 .8 .3 .8 0 .8 .1 .7 .6 .6 1 .7 1.5 .7 1.8 .7 1.9 .8 2.1 .7 2.2 .7 1.9 .6 1.7 .7 1.3 .6 1.1 .6 1.4 .6 1.8 .6 2.1 .5 2.2 .6 1.9 .6 1 .5 .3 .6-.2 .5-.2 .6 .1 .5 .7 .5 .7 .6 .6 .5-.1 .6-.7 .5-1.2 .6-1.3 .5-1.2 .5-1 .5-.7 .6-.6 .5-.5 .5-.5 .5-.5 .6-.9 .5-1.3 .6-1.6 .5-1.8 .6-1.4 .6-1.1 .6-.5 .6-.5 .6-.8 .7-1.4 .7-2 .7-2.5 .7-2.3 .7-1.7 .8-1.1 .8-.8 .9-.9 .8-1.3 .8-1.7 .7-2 .7-1.9 .7-1.5 .7-1.1 .7-.8 .7-.4 .7-.1 .7 .1 .7 .2 .7 .2 .6 0 .7-.2 .6-.2 .6 .2 .7 .8 .7 1.4 .8 1.7 .8 1.5 .7 .9 .8 .2 .8-.1 .8 0 .8 .6 .8 1.2 .8 1.3 .9 1.2 .8 .5 .8 0 .8-.5 .8-.7 .6-.4 .6-.2 .6 .1 .6 .3 .6 .6"/>
<path d="M795 388.4l1.4-.2 1.4 0 1.4 .1 1.4 0 1.5-.2 1.5-.4 1.6-.7 1.6-.7 1.7-.5 1.6-.3 1.6-.2 1.6-.2 1.7-.2 1.6-.2 1.5-.2 1.5-.1 1.4 .1 1.3 .3 1.4 .4 1.5 .5 1.5 .6 1.6 .5 1.7 .4 1.6 .1 1.6-.1 1.4-.2 1.4-.4 1.4-.3 1.4-.2 1.4-.1 1.6 .1 1.6 0 1.7-.1 1.6-.3 1.6-.5 1.5-.5 1.5-.5 1.4-.1 1.4 .1 1.2 .3 1 .2 .8 .2 .7 .1 .7 .1 .8 .4 .8 .7 .8 1.1 .8 1.3 .8 1.5 .8 1.7 .8 1.6 .7 1.5 .6 1.3 .7 1.1 .7 1 .7 1.2 .8 1.3 .7 1.4 .7 1.4 .6 1.4 .7 1.2 .6 .9 .6 .6 .6 .5 .6 .5 .5 .7 .6 .7 .6 .7 .5 .5 .6 .1 .5-.1 .6-.2 .5-.2 .5 0 .6 0 .5 .1 .6 .1 .5-.2 .6-.3 .5-.6 .5-.8 .5-1 .6-1.2 .5-1.3 .5-1.3 .5-1.1 .6-1 .5-1 .6-1.2 .5-1.4 .6-1.6 .6-1.5 .6-1.4 .6-1.2 .6-1 .7-.9 .7-1.1 .7-1.2 .7-1.3 .7-1.3 .8-1.2 .8-1 .9-.7 .8-.5 .8-.4 .7-.3 .7-.3 .7-.3 .7-.5 .7-.5 .7-.5 .7-.5 .7-.2 .7 0 .7 .2 .6 .3 .7 .2 .6 .1 .6 .1 .7 .1 .7 .3 .8 .6 .8 .8 .7 .9 .8 .8 .8 .6 .8 .4 .8 .3 .8 .4 .8 .6 .9 .6 .8 .8 .8 .8 .8 .7 .8 .5 .6 .3 .6 .1 .6-.1 .6-.2 .6-.2"/>
<path d="M795 390.2l1.4-.9 1.4-.6 1.4-.5 1.4-.1 1.5 0 1.5 0 1.6-.1 1.6-.3 1.7-.4 1.6-.6 1.6-.7 1.6-.8 1.7-.7 1.6-.4 1.5-.1 1.5 .2 1.4 .2 1.3 .2 1.4 0 1.5 .1 1.5 .3 1.6 .6 1.7 1 1.6 .9 1.6 .6 1.4 .1 1.4-.4 1.4-.7 1.4-.9 1.4-.7 1.6-.5 1.6-.1 1.7 .1 1.6 .1 1.6 .1 1.5 0 1.5-.2 1.4-.3 1.4-.4 1.2-.2 1-.2 .8 .1 .7 .4 .7 .5 .8 .5 .8 .7 .8 .8 .8 1 .8 1.5 .8 2.1 .8 2.7 .7 2.8 .6 2.6 .7 2.1 .7 1.7 .7 1.3 .8 1.3 .7 1.5 .7 1.6 .6 1.9 .7 2 .6 1.9 .6 1.8 .6 1.5 .6 1.3 .5 1 .6 .8 .6 .5 .5 .5 .6 .3 .5 .3 .6 .2 .5 0 .5-.3 .6-.4 .5-.5 .6-.3 .5-.2 .6 .1 .5 0 .5-.4 .5-.8 .6-1.5 .5-1.9 .5-2.3 .5-2.2 .6-2.1 .5-1.7 .6-1.4 .5-1.4 .6-1.5 .6-1.6 .6-1.8 .6-1.8 .6-2 .7-2 .7-2 .7-1.8 .7-1.7 .7-1.6 .8-1.6 .8-1.8 .9-1.8 .8-1.6 .8-1.1 .7-.6 .7-.1 .7 .1 .7 0 .7-.4 .7-.7 .7-1 .7-.9 .7-.8 .7-.3 .6 .1 .7 .5 .6 .6 .6 .8 .7 .8 .7 .8 .8 .8 .8 .7 .7 .6 .8 .8 .8 .8 .8 1 .8 1 .8 .7 .8 .6 .9 .4 .8 .4 .8 .7 .8 .9 .8 1.1 .6 1.2 .6 .9 .6 .5 .6-.1 .6-.6"/>
<path d="M795 387.6l1.4-.4 1.4-.2 1.4 .1 1.4 .6 1.5 .9 1.5 .7 1.6 .1 1.6-.5 1.7-1 1.6-1.2 1.6-.9 1.6-.6 1.7-.2 1.6-.1 1.5 0 1.5-.1 1.4 .1 1.3 .3 1.4 .4 1.5 .5 1.5 .3 1.6 .2 1.7-.1 1.6-.1 1.6-.2 1.4-.2 1.4-.2 1.4-.5 1.4-.4 1.4-.3 1.6 .1 1.6 .6 1.7 .8 1.6 .8 1.6 .3 1.5-.4 1.5-.8 1.4-1 1.4-.8 1.2-.3 1 .2 .8 .3 .7 .2 .7 .2 .8 .2 .8 .4 .8 .7 .8 .8 .8 .9 .8 .8 .8 .7 .7 .8 .6 1 .7 1.2 .7 1.3 .7 1.2 .8 1.2 .7 1.4 .7 1.7 .6 2.2 .7 2.3 .6 2.2 .6 1.7 .6 1 .6 .5 .5 .2 .6 .4 .6 .8 .5 1 .6 1 .5 .8 .6 .5 .5 .4 .5 .3 .6 .3 .5 .2 .6 .1 .5-.2 .6-.4 .5-.6 .5-.6 .5-.7 .6-.7 .5-1 .5-1.1 .5-1 .6-.7 .5-.4 .6-.3 .5-.5 .6-1 .6-1.6 .6-2.1 .6-2.3 .6-2.1 .7-1.7 .7-1.3 .7-1.1 .7-1.3 .7-1.4 .8-1.4 .8-1.3 .9-1.1 .8-1 .8-1 .7-1.1 .7-1.1 .7-1 .7-.9 .7-.8 .7-.8 .7-.7 .7-.8 .7-.4 .7 0 .6 .6 .7 1 .6 .9 .6 .5 .7-.1 .7-.4 .8-.3 .8-.1 .7 .5 .8 .9 .8 1 .8 .9 .8 .8 .8 .8 .8 .7 .9 .8 .8 .8 .8 .7 .8 .4 .8 .1 .6 .1 .6 0 .6 0 .6 0 .6-.1"/>
<path d="M795 389l1.4 .1 1.4 .1 1.4-.1 1.4-.2 1.5-.3 1.5-.4 1.6-.4 1.6-.4 1.7-.5 1.6-.3 1.6-.3 1.6-.3 1.7-.3 1.6-.2 1.5 0 1.5 .1 1.4 .2 1.3 .1 1.4-.1 1.5-.2 1.5-.4 1.6-.2 1.7-.1 1.6 .1 1.6 .3 1.4 .4 1.4 .3 1.4 .3 1.4 .1 1.4 0 1.6-.1 1.6-.2 1.7-.3 1.6-.3 1.6-.3 1.5-.2 1.5-.2 1.4-.2 1.4 0 1.2 0 1 .2 .8 .3 .7 .3 .7 .3 .8 .3 .8 .3 .8 .3 .8 .3 .8 .4 .8 .7 .8 .9 .7 1.4 .6 1.7 .7 2.1 .7 2.2 .7 2.1 .8 2.1 .7 1.9 .7 1.7 .6 1.6 .7 1.4 .6 1.4 .6 1.3 .6 1.3 .6 1.3 .5 1.2 .6 1.1 .6 1.1 .5 1.1 .6 .9 .5 .8 .6 .6 .5 .3 .5 0 .6-.4 .5-.5 .6-.7 .5-.7 .6-.6 .5-.4 .5-.4 .5-.2 .6-.3 .5-.5 .5-.6 .5-1 .6-1.2 .5-1.6 .6-1.6 .5-1.8 .6-1.7 .6-1.6 .6-1.7 .6-1.6 .6-1.6 .7-1.5 .7-1.5 .7-1.4 .7-1.4 .7-1.4 .8-1.6 .8-1.7 .9-1.8 .8-1.9 .8-1.7 .7-1.6 .7-1.2 .7-.8 .7-.5 .7-.3 .7-.1 .7-.1 .7 0 .7-.2 .7-.1 .6-.2 .7-.1 .6-.1 .6 .1 .7 .2 .7 .5 .8 .6 .8 .8 .7 1 .8 1 .8 1 .8 1 .8 1 .8 .9 .8 .6 .9 .3 .8 .1 .8 0 .8 0 .8 .2 .6 .3 .6 .5 .6 .6 .6 .7 .6 .7"/>
<path d="M795 388.7l1.4 .7 1.4 .7 1.4 .8 1.4 .8 1.5 .3 1.5 0 1.6-.6 1.6-1.1 1.7-1.3 1.6-1.4 1.6-1.3 1.6-1.2 1.7-.9 1.6-.7 1.5-.3 1.5 0 1.4 .1 1.3 0 1.4 0 1.5-.1 1.5 .1 1.6 .2 1.7 .4 1.6 .4 1.6 .5 1.4 .4 1.4 .5 1.4 .4 1.4 .6 1.4 .8 1.6 .8 1.6 .7 1.7 .5 1.6 0 1.6-.4 1.5-.9 1.5-1.1 1.4-1.2 1.4-1 1.2-.7 1-.5 .8-.1 .7 0 .7 .3 .8 .3 .8 .5 .8 .6 .8 .9 .8 1 .8 1.5 .8 1.8 .7 2.1 .6 2.1 .7 2.1 .7 2.1 .7 2.3 .8 2.4 .7 2.5 .7 2.5 .6 2.4 .7 2 .6 1.6 .6 .9 .6 .4 .6 .1 .5-.1 .6-.1 .6-.1 .5-.1 .6 0 .5 0 .6-.1 .5-.2 .5-.4 .6-.4 .5-.5 .6-.5 .5-.5 .6-.4 .5-.3 .5-.4 .5-.4 .6-.4 .5-.6 .5-.6 .5-.6 .6-.5 .5-.5 .6-.8 .5-1.3 .6-1.8 .6-2.1 .6-2.4 .6-2.4 .6-2.4 .7-2.1 .7-2 .7-1.8 .7-1.6 .7-1.5 .8-1.5 .8-1.6 .9-1.5 .8-1.4 .8-1.1 .7-.8 .7-.4 .7-.2 .7-.1 .7 .1 .7 .2 .7 .3 .7 .5 .7 .8 .7 .9 .6 1 .7 .8 .6 .5 .6 .1 .7-.1 .7-.3 .8-.3 .8-.1 .7 0 .8 .3 .8 .4 .8 .6 .8 .5 .8 .5 .8 .3 .9 .3 .8 .3 .8 .3 .8 .4 .8 .6 .6 .6 .6 .7 .6 .8 .6 .6 .6 .6"/>
<path d="M795 386.5l1.4 .5 1.4 .4 1.4 .3 1.4 .2 1.5 0 1.5-.1 1.6 0 1.6 .1 1.7 0 1.6-.2 1.6-.2 1.6-.3 1.7-.2 1.6-.1 1.5 0 1.5 0 1.4-.2 1.3-.3 1.4-.4 1.5-.5 1.5-.3 1.6-.3 1.7-.2 1.6-.2 1.6-.2 1.4-.2 1.4 .1 1.4 .3 1.4 .4 1.4 .4 1.6 .3 1.6 .1 1.7 0 1.6 0 1.6 .1 1.5 .2 1.5 .2 1.4 0 1.4-.1 1.2 0 1 .1 .8 .2 .7 .2 .7 .2 .8-.1 .8-.2 .8-.2 .8-.2 .8 .1 .8 .2 .8 .4 .7 .6 .6 .8 .7 1 .7 1.5 .7 1.7 .8 1.9 .7 1.9 .7 1.7 .6 1.5 .7 1.4 .6 1.2 .6 1.4 .6 1.4 .6 1.3 .5 1.2 .6 1 .6 .8 .5 .9 .6 .9 .5 .8 .6 .6 .5 .1 .5-.2 .6-.6 .5-.6 .6-.6 .5-.5 .6-.5 .5-.5 .5-.6 .5-.5 .6-.4 .5-.1 .5-.1 .5-.2 .6-.4 .5-.7 .6-1 .5-1.1 .6-1 .6-.9 .6-1 .6-1.1 .6-1.3 .7-1.3 .7-1.2 .7-1.1 .7-1 .7-1.3 .8-1.4 .8-1.8 .9-1.8 .8-1.8 .8-1.6 .7-1.3 .7-1.2 .7-1 .7-.9 .7-.7 .7-.4 .7 0 .7 .2 .7 .2 .7 .2 .6 .1 .7 0 .6 .2 .6 .2 .7 .5 .7 .5 .8 .5 .8 .6 .7 .6 .8 .8 .8 .8 .8 .9 .8 .7 .8 .4 .8 .2 .9-.1 .8-.1 .8-.1 .8-.1 .8 0 .6 0 .6-.1 .6 .1 .6 .3 .6 .6"/>
<path d="M795 390.5l1.4 0 1.4-.2 1.4-.4 1.4-.3 1.5-.3 1.5-.3 1.6-.2 1.6-.3 1.7-.4 1.6-.6 1.6-.7 1.6-.9 1.7-1 1.6-.8 1.5-.5 1.5-.2 1.4 .2 1.3 .5 1.4 .5 1.5 .4 1.5 .3 1.6 .2 1.7 .3 1.6 .3 1.6 .4 1.4 .4 1.4 .3 1.4 .1 1.4-.1 1.4-.3 1.6-.4 1.6-.4 1.7-.3 1.6-.2 1.6-.1 1.5 0 1.5-.2 1.4-.3 1.4-.5 1.2-.5 1-.5 .8-.2 .7-.1 .7 .1 .8 .3 .8 .6 .8 .7 .8 .9 .8 .9 .8 1.1 .8 1.2 .7 1.4 .6 1.9 .7 2.3 .7 2.4 .7 2.5 .8 2.3 .7 2 .7 1.9 .6 1.9 .7 1.8 .6 1.9 .6 1.9 .6 1.8 .6 1.8 .5 1.5 .6 1.2 .6 1 .5 .8 .6 .9 .5 .8 .6 .8 .5 .8 .5 .6 .6 .4 .5 .2 .6 0 .5-.2 .6-.2 .5-.2 .5-.2 .5-.2 .6-.3 .5-.5 .5-.9 .5-1.2 .6-1.4 .5-1.7 .6-1.8 .5-1.9 .6-1.9 .6-1.8 .6-2 .6-2.2 .6-2.4 .7-2.6 .7-2.5 .7-2.3 .7-2.3 .7-2 .8-1.9 .8-1.9 .9-1.7 .8-1.8 .8-1.6 .7-1.5 .7-1.3 .7-1.1 .7-.7 .7-.6 .7-.4 .7-.5 .7-.5 .7-.6 .7-.5 .6-.5 .7-.2 .6 0 .6 .1 .7 .3 .7 .4 .8 .5 .8 .5 .7 .5 .8 .6 .8 .7 .8 .9 .8 1 .8 1.2 .8 1.2 .9 1.1 .8 1 .8 .7 .8 .6 .8 .5 .6 .6 .6 .7 .6 .7 .6 .7 .6 .5"/>
<path d="M795 390.8l1.4-.8 1.4-.4 1.4-.2 1.4-.3 1.5-.4 1.5-.7 1.6-.8 1.6-.7 1.7-.6 1.6-.6 1.6-.8 1.6-.9 1.7-.9 1.6-.4 1.5 .3 1.5 1 1.4 1.2 1.3 1.1 1.4 .5 1.5 0 1.5 0 1.6 .2 1.7 .7 1.6 .8 1.6 .6 1.4 .1 1.4-.5 1.4-.7 1.4-.8 1.4-.4 1.6-.3 1.6-.3 1.7-.4 1.6-.5 1.6-.6 1.5-.5 1.5-.4 1.4-.3 1.4-.5 1.2-.4 1-.3 .8 .1 .7 .7 .7 1.3 .8 1.5 .8 1.4 .8 1.1 .8 .9 .8 1 .8 1.5 .8 2.1 .7 2.6 .6 2.6 .7 2.1 .7 1.7 .7 1.4 .8 1.5 .7 1.8 .7 1.8 .6 1.8 .7 1.6 .6 1.4 .6 1.2 .6 1.2 .6 1.2 .5 1.2 .6 .8 .6 .6 .5 .5 .6 .6 .5 1 .6 1.2 .5 1.1 .5 .7 .6 .1 .5-.4 .6-.6 .5-.4 .6-.1 .5 0 .5-.3 .5-.8 .6-1.3 .5-1.8 .5-1.9 .5-1.9 .6-1.8 .5-1.9 .6-2.1 .5-2.1 .6-2.2 .6-2.2 .6-2 .6-2 .6-2.1 .7-2.2 .7-2.2 .7-1.9 .7-1.3 .7-.8 .8-.8 .8-1 .9-1.4 .8-1.8 .8-1.6 .7-1.1 .7-.5 .7-.2 .7-.2 .7-.5 .7-.9 .7-1 .7-.9 .7-.5 .7-.3 .6-.1 .7-.1 .6-.1 .6 0 .7 .2 .7 .5 .8 .7 .8 .7 .7 .6 .8 .6 .8 .9 .8 1.5 .8 1.9 .8 1.9 .8 1.5 .9 .9 .8 .4 .8 .3 .8 .6 .8 .9 .6 1 .6 .9 .6 .4 .6 0 .6-.4"/>
<path d="M795 389l1.4-.9 1.4-.8 1.4-.2 1.4 .5 1.5 .7 1.5 .4 1.6-.2 1.6-1 1.7-1.4 1.6-1.2 1.6-.6 1.6-.2 1.7 0 1.6 0 1.5-.1 1.5 0 1.4 .4 1.3 .8 1.4 1 1.5 .8 1.5 .5 1.6 0 1.7-.1 1.6-.1 1.6 .1 1.4 0 1.4-.2 1.4-.8 1.4-.9 1.4-.8 1.6-.2 1.6 .4 1.7 .8 1.6 .6 1.6-.1 1.5-.8 1.5-1.2 1.4-.9 1.4-.4 1.2 .3 1 .5 .8 .4 .7 .3 .7 .3 .8 .7 .8 1.3 .8 1.6 .8 1.7 .8 1.5 .8 1.4 .8 1.3 .7 1.5 .6 1.7 .7 1.7 .7 1.4 .7 1.1 .8 .8 .7 .9 .7 1.5 .6 2.2 .7 2.3 .6 2.1 .6 1.2 .6 .5 .6 0 .5 .1 .6 .5 .6 .9 .5 .9 .6 .5 .5 .2 .6-.1 .5 .1 .5 .4 .6 .6 .5 .4 .6-.1 .5-.7 .6-.9 .5-.9 .5-.7 .5-.8 .6-1.2 .5-1.8 .5-2.1 .5-2.2 .6-1.5 .5-.8 .6-.4 .5-.8 .6-1.4 .6-2.1 .6-2.4 .6-2.2 .6-1.6 .7-1.2 .7-1 .7-1.2 .7-1.4 .7-1.4 .8-1.2 .8-.8 .9-.5 .8-.4 .8-.7 .7-.9 .7-1 .7-.7 .7-.5 .7-.3 .7-.5 .7-.9 .7-1 .7-.8 .7 0 .6 .7 .7 1.1 .6 1.1 .6 .4 .7-.1 .7-.3 .8 0 .8 .5 .7 1 .8 1.2 .8 1 .8 .8 .8 .6 .8 .8 .8 1 .9 1.3 .8 1.2 .8 .7 .8 .3 .8 0 .6 .1 .6 .3 .6 .4 .6-.1 .6-.6"/>
<path d="M795 389.6l1.4 0 1.4-.1 1.4-.1 1.4 0 1.5-.2 1.5-.2 1.6-.6 1.6-.8 1.7-1 1.6-1 1.6-.6 1.6-.4 1.7-.1 1.6-.1 1.5-.2 1.5-.3 1.4-.2 1.3 0 1.4 .3 1.5 .6 1.5 .7 1.6 .7 1.7 .5 1.6 .4 1.6 .2 1.4 .1 1.4 .1 1.4 0 1.4 0 1.4-.1 1.6-.2 1.6 0 1.7-.1 1.6-.2 1.6-.4 1.5-.7 1.5-.9 1.4-.7 1.4-.5 1.2 0 1 .3 .8 .2 .7 .1 .7-.1 .8-.1 .8 .3 .8 .6 .8 1 .8 1.4 .8 1.5 .8 1.4 .7 1.5 .6 1.5 .7 1.6 .7 1.6 .7 1.6 .8 1.6 .7 1.5 .7 1.5 .6 1.4 .7 1.4 .6 1.2 .6 .9 .6 .6 .6 .4 .5 .4 .6 .6 .6 .8 .5 1 .6 .8 .5 .5 .6 .1 .5-.2 .5-.1 .6 0 .5 .3 .6 .4 .5 .4 .6 .1 .5-.2 .5-.3 .5-.5 .6-.4 .5-.7 .5-.7 .5-1 .6-1.1 .5-1.2 .6-1.3 .5-1.4 .6-1.6 .6-1.9 .6-2.1 .6-2 .6-1.7 .7-1.4 .7-1.1 .7-1.2 .7-1.3 .7-1.6 .8-1.7 .8-1.5 .9-1.2 .8-.8 .8-.5 .7-.4 .7-.4 .7-.4 .7-.4 .7-.4 .7-.3 .7-.3 .7-.2 .7-.2 .7-.2 .6 0 .7 .1 .6 0 .6-.1 .7-.3 .7-.3 .8 0 .8 .3 .7 .7 .8 1 .8 .9 .8 .7 .8 .5 .8 .3 .8 .4 .9 .6 .8 .9 .8 1 .8 .9 .8 .8 .6 .5 .6 .4 .6 .3 .6 .4 .6 .4"/>
<path d="M795 389.8l1.4-.8 1.4-.7 1.4-.5 1.4-.2 1.5-.1 1.5-.1 1.6-.1 1.6-.3 1.7-.3 1.6-.3 1.6-.3 1.6-.4 1.7-.6 1.6-.6 1.5-.7 1.5-.4 1.4-.1 1.3 .4 1.4 .8 1.5 1 1.5 1 1.6 .8 1.7 .7 1.6 .5 1.6 .1 1.4-.2 1.4-.6 1.4-.7 1.4-.9 1.4-.7 1.6-.5 1.6-.3 1.7 0 1.6 0 1.6 0 1.5 0 1.5-.2 1.4-.1 1.4 0 1.2 0 1-.1 .8-.3 .7-.3 .7-.2 .8 .1 .8 .7 .8 1.2 .8 1.5 .8 1.7 .8 1.8 .8 1.8 .7 1.7 .6 1.7 .7 1.5 .7 1.3 .7 1.1 .8 1.1 .7 1.2 .7 1.3 .6 1.6 .7 1.6 .6 1.7 .6 1.6 .6 1.5 .6 1.3 .5 1.2 .6 1.2 .6 1 .5 .8 .6 .4 .5 .1 .6 0 .5 0 .5 .2 .6 .5 .5 .7 .6 .6 .5 .4 .6 .2 .5-.2 .5-.5 .5-.9 .6-1.2 .5-1.5 .5-1.7 .5-1.7 .6-1.7 .5-1.6 .6-1.5 .5-1.4 .6-1.4 .6-1.5 .6-1.5 .6-1.6 .6-1.6 .7-1.5 .7-1.8 .7-1.9 .7-2 .7-2 .8-1.8 .8-1.3 .9-1 .8-.7 .8-.4 .7-.4 .7-.4 .7-.6 .7-.6 .7-.8 .7-1 .7-1 .7-1.1 .7-.8 .7-.6 .6-.2 .7 .1 .6 .3 .6 .4 .7 .4 .7 .6 .8 .7 .8 .9 .7 .8 .8 .8 .8 .5 .8 .4 .8 .4 .8 .7 .8 .8 .9 1.2 .8 1.3 .8 1.3 .8 1.2 .8 .9 .6 .6 .6 .3 .6 .1 .6-.2 .6-.3"/>
<path d="M795 390.2l1.4 0 1.4 .6 1.4 .5 1.4-.2 1.5-1.3 1.5-2 1.6-1.9 1.6-1.1 1.7 0 1.6 .6 1.6 .4 1.6-.3 1.7-1 1.6-1.2 1.5-.7 1.5 0 1.4 .5 1.3 .6 1.4 .5 1.5 .5 1.5 .7 1.6 1.2 1.7 1.4 1.6 1.1 1.6 .3 1.4-.6 1.4-1.1 1.4-.7 1.4 0 1.4 .6 1.6 .5 1.6-.3 1.7-1.2 1.6-1.9 1.6-1.7 1.5-.8 1.5 .2 1.4 .8 1.4 .8 1.2 .2 1-.5 .8-.7 .7-.3 .7 .3 .8 .8 .8 1.1 .8 1.2 .8 1.3 .8 1.8 .8 2.5 .8 2.9 .7 2.9 .6 2.2 .7 1.5 .7 1.1 .7 1.4 .8 2.2 .7 2.8 .7 2.6 .6 1.8 .7 .7 .6 0 .6 .1 .6 .8 .6 1.8 .5 2.3 .6 2 .6 1.1 .5 .3 .6-.2 .5-.1 .6 .1 .5 .4 .5 .3 .6 0 .5 0 .6 .2 .5 .5 .6 .6 .5 .2 .5-.6 .5-1.5 .6-1.9 .5-1.8 .5-1.3 .5-.9 .6-1.1 .5-1.8 .6-2.9 .5-3.4 .6-3.4 .6-2.4 .6-1.4 .6-.8 .6-.9 .7-1.6 .7-2.3 .7-2.6 .7-2.3 .7-1.8 .8-1.5 .8-1.4 .9-1.4 .8-1.3 .8-.8 .7-.1 .7 .3 .7 .1 .7-.5 .7-1.1 .7-1.4 .7-1 .7-.2 .7 .5 .7 .6 .6-.1 .7-.9 .6-1.5 .6-1.1 .7 0 .7 1.1 .8 1.9 .8 1.8 .7 1.2 .8 .4 .8 .2 .8 .5 .8 .8 .8 1.2 .8 1 .9 .9 .8 .9 .8 1.1 .8 1.5 .8 1.6 .6 1.3 .6 .5 .6-.2 .6-.6 .6-.5"/>
<path d="M795 390.4l1.4-.3 1.4-.3 1.4-.3 1.4-.3 1.5-.2 1.5-.1 1.6-.1 1.6-.2 1.7-.6 1.6-.9 1.6-1.2 1.6-1.4 1.7-1 1.6-.6 1.5 .1 1.5 .6 1.4 .7 1.3 .5 1.4 .3 1.5 0 1.5 0 1.6 .3 1.7 .6 1.6 .6 1.6 .5 1.4 .3 1.4 .1 1.4-.2 1.4-.2 1.4-.4 1.6-.3 1.6-.3 1.7-.2 1.6 0 1.6 .1 1.5 0 1.5-.3 1.4-.7 1.4-1 1.2-.9 1-.6 .8 0 .7 .4 .7 .8 .8 .9 .8 .9 .8 .6 .8 .7 .8 .9 .8 1.3 .8 1.7 .7 2.1 .6 2.3 .7 2.3 .7 2.1 .7 1.9 .8 1.8 .7 1.8 .7 1.7 .6 1.7 .7 1.7 .6 1.9 .6 1.8 .6 1.7 .6 1.3 .5 .8 .6 .4 .6 .2 .5 .3 .6 .7 .5 .9 .6 1 .5 .8 .5 .3 .6 0 .5-.4 .6-.3 .5-.3 .6 0 .5-.1 .5-.2 .5-.4 .6-.7 .5-1 .5-1.2 .5-1.5 .6-1.7 .5-1.8 .6-1.7 .5-1.6 .6-1.4 .6-1.6 .6-2 .6-2.3 .6-2.6 .7-2.7 .7-2.3 .7-2 .7-1.4 .7-1.1 .8-1.2 .8-1.5 .9-1.7 .8-1.8 .8-1.5 .7-1.1 .7-.7 .7-.4 .7-.3 .7-.3 .7-.5 .7-.5 .7-.5 .7-.5 .7-.4 .6-.2 .7 .1 .6 .3 .6 .4 .7 .6 .7 .4 .8 .3 .8 0 .7 .1 .8 .3 .8 .8 .8 1.3 .8 1.5 .8 1.5 .8 1 .9 .6 .8 .5 .8 .4 .8 .6 .8 .8 .6 .8 .6 .8 .6 .6 .6 .4 .6 .3"/>
<path d="M795 389.5l1.4 .1 1.4 0 1.4-.2 1.4-.6 1.5-1.1 1.5-1.2 1.6-.9 1.6-.4 1.7 .2 1.6 .4 1.6 .3 1.6-.2 1.7-.7 1.6-.8 1.5-.7 1.5-.3 1.4 .1 1.3 .5 1.4 .7 1.5 .9 1.5 1 1.6 .8 1.7 .5 1.6 .1 1.6-.2 1.4-.5 1.4-.5 1.4-.2 1.4 0 1.4 .1 1.6-.2 1.6-.5 1.7-1 1.6-1 1.6-.8 1.5-.2 1.5 .5 1.4 .8 1.4 .7 1.2 .5 1 .1 .8-.2 .7-.3 .7 .1 .8 .7 .8 1.4 .8 1.9 .8 2.3 .8 2.7 .8 2.7 .8 2.3 .7 1.9 .6 1.6 .7 1.4 .7 1.5 .7 1.7 .8 2 .7 2 .7 1.7 .6 1.1 .7 .6 .6 .4 .6 .6 .6 1 .6 1.5 .5 1.5 .6 1.3 .6 .5 .5-.1 .6-.7 .5-.9 .6-.8 .5-.4 .5-.2 .6 0 .5 .1 .6-.1 .5-.3 .6-.6 .5-1.1 .5-1.5 .5-1.8 .6-1.9 .5-1.7 .5-1.4 .5-1.4 .6-1.6 .5-1.9 .6-2.4 .5-2.3 .6-2.1 .6-1.4 .6-.8 .6-.6 .6-.7 .7-1.2 .7-1.7 .7-2.2 .7-2.2 .7-2 .8-1.5 .8-1 .9-.7 .8-.3 .8-.1 .7 0 .7-.2 .7-.4 .7-.6 .7-.7 .7-.5 .7-.2 .7 .1 .7 .3 .7 .3 .6-.1 .7-.2 .6-.3 .6 .1 .7 .8 .7 1.5 .8 1.7 .8 1.7 .7 1.1 .8 .6 .8 0 .8-.1 .8 .1 .8 .4 .8 .8 .9 1.1 .8 1.2 .8 1.1 .8 1 .8 .7 .6 .4 .6-.2 .6-.4 .6-.2 .6-.1"/>
<path d="M795 390.5l1.4-.4 1.4-.5 1.4-.4 1.4-.4 1.5-.6 1.5-.7 1.6-.5 1.6-.4 1.7-.3 1.6-.1 1.6-.2 1.6-.5 1.7-.7 1.6-.5 1.5-.3 1.5 .2 1.4 .6 1.3 .6 1.4 .6 1.5 .3 1.5 .2 1.6 .3 1.7 .4 1.6 .4 1.6 .2 1.4-.1 1.4-.3 1.4-.5 1.4-.5 1.4-.5 1.6-.5 1.6-.5 1.7-.5 1.6-.6 1.6-.3 1.5-.2 1.5 .1 1.4 .1 1.4 .1 1.2 0 1-.1 .8 0 .7 .2 .7 .5 .8 .7 .8 1 .8 .9 .8 1 .8 1.1 .8 1.3 .8 1.6 .7 2 .6 2.1 .7 2.2 .7 2.2 .7 2.1 .8 2 .7 2.1 .7 2.1 .6 1.9 .7 1.8 .6 1.7 .6 1.8 .6 2 .6 2.1 .5 2 .6 1.8 .6 1.5 .5 1.2 .6 1.1 .5 1 .6 1 .5 .8 .5 .6 .6 .3 .5 0 .6-.3 .5-.2 .6-.3 .5-.3 .5-.5 .5-.9 .6-1.1 .5-1.4 .5-1.5 .5-1.7 .6-1.8 .5-2.2 .6-2.4 .5-2.5 .6-2.3 .6-2.1 .6-1.9 .6-1.9 .6-2 .7-2.2 .7-2.2 .7-2.3 .7-2.1 .7-1.9 .8-1.8 .8-1.8 .9-1.9 .8-1.9 .8-1.8 .7-1.6 .7-1.2 .7-1 .7-.9 .7-.9 .7-1.1 .7-1 .7-.8 .7-.7 .7-.6 .6-.4 .7-.5 .6-.2 .6 0 .7 .4 .7 .8 .8 1.2 .8 1.2 .7 1.2 .8 1.1 .8 1.1 .8 1.2 .8 1.5 .8 1.5 .8 1.4 .9 1.1 .8 .8 .8 .7 .8 .7 .8 .7 .6 .6 .6 .5 .6 .3 .6 .1 .6 0"/>
<path d="M795 389.8l1.4 .1 1.4-.5 1.4-.7 1.4-.7 1.5-.4 1.5-.4 1.6-.3 1.6-.6 1.7-.6 1.6-.6 1.6-.1 1.6 .3 1.7 .6 1.6 .4 1.5 .1 1.5-.3 1.4-.4 1.3-.2 1.4 .1 1.5 .4 1.5 .4 1.6 .2 1.7-.1 1.6-.2 1.6 0 1.4 .2 1.4 .3 1.4 .3 1.4-.1 1.4-.5 1.6-.7 1.6-.7 1.7-.5 1.6-.3 1.6-.2 1.5-.3 1.5-.5 1.4-.3 1.4 .1 1.2 .6 1 1 .8 .9 .7 .5 .7-.1 .8-.3 .8-.2 .8 .3 .8 .8 .8 .9 .8 .8 .8 .8 .7 .7 .6 1.1 .7 1.8 .7 2.1 .7 2.3 .8 2 .7 1.5 .7 1.2 .6 1.2 .7 1.3 .6 1.5 .6 1.4 .6 1.3 .6 1.2 .5 1.3 .6 1.5 .6 1.9 .5 2.1 .6 1.9 .5 1.3 .6 .6 .5 .1 .5-.1 .6 .1 .5 .2 .6 .1 .5-.1 .6-.4 .5-.7 .5-.5 .5-.3 .6-.1 .5-.3 .5-.6 .5-1.2 .6-1.6 .5-1.8 .6-1.7 .5-1.7 .6-1.8 .6-1.9 .6-1.9 .6-1.9 .6-1.6 .7-1.1 .7-.8 .7-.9 .7-1.3 .7-1.9 .8-2.2 .8-2.2 .9-1.8 .8-1.5 .8-1.2 .7-1.3 .7-1.4 .7-1.4 .7-1.1 .7-.6 .7-.3 .7-.2 .7-.4 .7-.8 .7-.8 .6-.8 .7-.5 .6-.1 .6-.1 .7 0 .7 0 .8 .3 .8 .9 .7 1.5 .8 1.8 .8 1.8 .8 1.3 .8 .8 .8 .4 .8 .4 .9 .6 .8 .9 .8 .7 .8 .6 .8 .1 .6 .1 .6 .1 .6 .5 .6 .7 .6 .6"/>
<path d="M795 390.8l1.4-1.2 1.4-1.5 1.4-1 1.4 .1 1.5 .9 1.5 .9 1.6 .3 1.6-.7 1.7-1.2 1.6-1.2 1.6-.6 1.6-.1 1.7 0 1.6-.3 1.5-.6 1.5-.4 1.4-.1 1.3 .5 1.4 .8 1.5 .5 1.5-.1 1.6-.5 1.7-.3 1.6 .4 1.6 1.1 1.4 1.4 1.4 .8 1.4-.4 1.4-1.3 1.4-1.6 1.6-1 1.6 .1 1.7 .8 1.6 1 1.6 .4 1.5-.4 1.5-1.1 1.4-.9 1.4-.5 1.2 .2 1 .3 .8 .2 .7-.2 .7-.3 .8 0 .8 .6 .8 1 .8 .7 .8 .4 .8 .1 .8 .5 .7 1.2 .6 2.2 .7 2.8 .7 2.4 .7 1.5 .8 .6 .7 .2 .7 .8 .6 1.8 .7 2.5 .6 2.6 .6 1.9 .6 1.1 .6 .5 .5 .4 .6 1 .6 1.3 .5 1.4 .6 1 .5 .6 .6 .3 .5 .5 .5 .6 .6 .7 .5 .3 .6-.3 .5-.7 .6-.6 .5 0 .5 .7 .5 .9 .6 .3 .5-.8 .5-1.8 .5-2.3 .6-1.7 .5-.9 .6-.3 .5-.3 .6-1 .6-1.9 .6-2.4 .6-2.4 .6-2 .7-1.4 .7-1.3 .7-1.5 .7-1.8 .7-2 .8-1.7 .8-1.3 .9-1 .8-1.3 .8-1.6 .7-1.8 .7-1.5 .7-.7 .7 .2 .7 .6 .7 .2 .7-.8 .7-1.7 .7-1.8 .7-1.1 .6 0 .7 .9 .6 1.1 .6 .5 .7-.2 .7-.6 .8-.4 .8 .3 .7 .9 .8 1.2 .8 .9 .8 .6 .8 .5 .8 .7 .8 1.1 .9 1.2 .8 .9 .8 .3 .8-.2 .8 0 .6 .6 .6 1.3 .6 1.6 .6 1.1 .6 0"/>
<path d="M795 389.6l1.4 0 1.4 0 1.4-.1 1.4-.2 1.5-.1 1.5 .1 1.6 .2 1.6 .2 1.7-.4 1.6-1 1.6-1.8 1.6-2.2 1.7-1.9 1.6-1 1.5 .1 1.5 1.1 1.4 1.5 1.3 1.3 1.4 .9 1.5 .4 1.5 .1 1.6 0 1.7 0 1.6 0 1.6-.1 1.4-.2 1.4-.2 1.4-.2 1.4 0 1.4-.1 1.6-.1 1.6-.2 1.7-.1 1.6 .2 1.6 .5 1.5 .4 1.5-.1 1.4-.9 1.4-1.5 1.2-1.7 1-1.3 .8-.4 .7 .5 .7 1.3 .8 1.7 .8 1.7 .8 1.3 .8 1 .8 1 .8 1.1 .8 1.3 .7 1.6 .6 1.8 .7 1.9 .7 2.2 .7 2.3 .8 2.4 .7 2.4 .7 2.2 .6 2.1 .7 2.2 .6 2.3 .6 2.5 .6 2.4 .6 1.8 .5 1 .6 .1 .6-.3 .5-.2 .6 .5 .5 1.2 .6 1.7 .5 1.7 .5 1.2 .6 .6 .5 0 .6-.3 .5-.5 .6-.6 .5-.8 .5-.9 .5-1 .6-1 .5-1 .5-1.1 .5-1.2 .6-1.6 .5-1.8 .6-1.9 .5-1.7 .6-1.4 .6-1.4 .6-2 .6-2.7 .6-3.5 .7-3.7 .7-3.4 .7-2.6 .7-1.7 .7-.9 .8-.7 .8-1 .9-1.4 .8-1.8 .8-1.8 .7-1.6 .7-1.5 .7-1.2 .7-1.2 .7-1 .7-.8 .7-.6 .7-.4 .7-.3 .7-.2 .6-.1 .7 .1 .6 .5 .6 .8 .7 1 .7 .7 .8 .2 .8-.3 .7-.6 .8-.2 .8 .5 .8 1.5 .8 2.2 .8 2.4 .8 2 .9 1.4 .8 .9 .8 .5 .8 .4 .8 .3 .6 .3 .6 .1 .6 .1 .6 .2 .6 .4"/>
<path d="M795 390.4l1.4 .8 1.4 .4 1.4-.3 1.4-1.1 1.5-1.3 1.5-1.2 1.6-.8 1.6-.4 1.7-.1 1.6-.3 1.6-.4 1.6-.6 1.7-.6 1.6-.4 1.5-.3 1.5 0 1.4 .1 1.3 .3 1.4 .8 1.5 1.1 1.5 1.2 1.6 .8 1.7 0 1.6-.8 1.6-1 1.4-.8 1.4 0 1.4 .6 1.4 .8 1.4 .4 1.6-.4 1.6-1 1.7-1.2 1.6-1 1.6-.5 1.5-.1 1.5 .1 1.4 .1 1.4 .2 1.2 .2 1 .2 .8 .3 .7 .4 .7 .3 .8 .6 .8 1.2 .8 1.9 .8 2.6 .8 2.9 .8 2.9 .8 2.5 .7 1.8 .6 1.7 .7 1.9 .7 2.8 .7 3.6 .8 3.7 .7 3.3 .7 2.5 .6 1.7 .7 1.4 .6 1.4 .6 1.8 .6 2 .6 2.1 .5 1.9 .6 1.5 .6 1.2 .5 .8 .6 .5 .5 .1 .6-.2 .5-.4 .5-.2 .6 .1 .5 .3 .6 .2 .5-.4 .6-1.3 .5-2.1 .5-2.4 .5-2.2 .6-1.5 .5-1.2 .5-1.2 .5-1.8 .6-2.6 .5-3.1 .6-3.3 .5-3.1 .6-2.7 .6-2.2 .6-1.9 .6-1.9 .6-2.1 .7-2.2 .7-2.3 .7-2.3 .7-2.4 .7-2.5 .8-2.6 .8-2.2 .9-1.6 .8-1.1 .8-.7 .7-.8 .7-1.4 .7-1.8 .7-1.9 .7-1.4 .7-.4 .7 .4 .7 .7 .7 .4 .7-.1 .6-.6 .7-.7 .6-.2 .6 .5 .7 1.1 .7 1.6 .8 1.6 .8 1.5 .7 1.5 .8 1.4 .8 1.3 .8 1.1 .8 .8 .8 .8 .8 .8 .9 1.3 .8 1.7 .8 1.6 .8 1.1 .8 .3 .6-.5 .6-.6 .6-.2 .6 .2 .6 .8"/>
<path d="M795 388.6l1.4-.6 1.4 0 1.4 .2 1.4 .2 1.5-.1 1.5-.7 1.6-.9 1.6-.8 1.7-.6 1.6-.5 1.6-.3 1.6-.5 1.7-.3 1.6 0 1.5 .4 1.5 .7 1.4 .7 1.3 .4 1.4-.1 1.5-.3 1.5 0 1.6 .5 1.7 .9 1.6 1 1.6 .5 1.4-.2 1.4-.7 1.4-.9 1.4-.5 1.4-.1 1.6 .3 1.6 .2 1.7-.1 1.6-.5 1.6-.8 1.5-.7 1.5-.5 1.4-.2 1.4-.1 1.2 0 1 .1 .8 .4 .7 .7 .7 .9 .8 1 .8 .8 .8 .6 .8 .6 .8 1 .8 1.6 .8 2.1 .7 2.2 .6 1.7 .7 1.1 .7 .5 .7 .5 .8 .8 .7 1.2 .7 1.5 .6 1.5 .7 1 .6 .5 .6 .2 .6 .2 .6 .3 .5 .4 .6 .4 .6 .3 .5 .2 .6 .2 .5 .4 .6 .5 .5 .4 .5-.1 .6-.4 .5-.7 .6-.6 .5-.2 .6 .2 .5 .3 .5-.2 .5-1 .6-1.6 .5-1.8 .5-1.5 .5-1.1 .6-.7 .5-.7 .6-1 .5-1.5 .6-1.7 .6-1.6 .6-1.4 .6-1.1 .6-1.1 .7-1.1 .7-1 .7-.9 .7-.6 .7-.4 .8-.5 .8-.8 .9-1.1 .8-1.1 .8-.8 .7-.1 .7 .3 .7 .5 .7 .3 .7-.4 .7-.8 .7-.9 .7-.6 .7 0 .7 .5 .6 .5 .7 .2 .6 0 .6-.2 .7-.1 .7 .2 .8 .4 .8 .5 .7 .5 .8 .6 .8 .7 .8 .9 .8 1 .8 1 .8 .5 .9 .2 .8-.1 .8 .2 .8 .6 .8 1.1 .6 1 .6 .8 .6-.1 .6-.7 .6-.7"/>
<path d="M795 389.5l1.4 0 1.4 0 1.4-.1 1.4-.2 1.5-.3 1.5-.3 1.6-.4 1.6-.5 1.7-.5 1.6-.7 1.6-.7 1.6-.7 1.7-.7 1.6-.7 1.5-.7 1.5-.4 1.4-.2 1.3 .3 1.4 .8 1.5 1.2 1.5 1.3 1.6 1 1.7 .5 1.6 0 1.6-.3 1.4-.3 1.4-.1 1.4-.1 1.4 .1 1.4 0 1.6-.2 1.6-.1 1.7-.2 1.6-.1 1.6-.2 1.5-.3 1.5-.4 1.4-.3 1.4-.3 1.2-.1 1-.1 .8-.1 .7-.2 .7-.1 .8 .3 .8 1.1 .8 1.8 .8 2.4 .8 2.9 .8 2.6 .8 2.2 .7 1.7 .6 1.4 .7 1.5 .7 1.6 .7 1.9 .8 1.8 .7 1.8 .7 1.7 .6 1.5 .7 1.4 .6 1.2 .6 1.1 .6 .8 .6 .7 .5 .5 .6 .3 .6 .1 .5-.2 .6-.4 .5-.8 .6-.9 .5-.6 .5-.2 .6 .2 .5 .5 .6 .3 .5 0 .6-.5 .5-1.1 .5-1.4 .5-1.4 .6-1.5 .5-1.4 .5-1.3 .5-1.4 .6-1.4 .5-1.5 .6-1.5 .5-1.4 .6-1.5 .6-1.5 .6-1.5 .6-1.6 .6-1.6 .7-1.7 .7-1.8 .7-1.9 .7-2 .7-2.1 .8-1.7 .8-1.2 .9-.5 .8 0 .8 .3 .7 .1 .7-.3 .7-.5 .7-.6 .7-.5 .7-.3 .7 0 .7 .1 .7 .2 .7 .2 .6 .3 .7 .4 .6 .5 .6 .6 .7 .6 .7 .6 .8 .6 .8 .6 .7 .6 .8 .4 .8 .2 .8 0 .8-.1 .8 .2 .8 .5 .9 1.2 .8 1.5 .8 1.5 .8 1.1 .8 .7 .6 .2 .6-.1 .6-.2 .6 0 .6 .2"/>
<path d="M795 391.7l1.4-.8 1.4-1 1.4-.9 1.4-.7 1.5-.6 1.5-.6 1.6-.8 1.6-1 1.7-.9 1.6-.8 1.6-.4 1.6-.2 1.7-.1 1.6 0 1.5 .1 1.5 .3 1.4 .7 1.3 .9 1.4 1.1 1.5 1 1.5 .8 1.6 .5 1.7 .3 1.6 .2 1.6 .2 1.4 .1 1.4-.1 1.4-.5 1.4-.8 1.4-1 1.6-.9 1.6-.7 1.7-.5 1.6-.4 1.6-.6 1.5-.8 1.5-.7 1.4-.5 1.4 0 1.2 .3 1 .6 .8 .5 .7 .6 .7 .7 .8 1 .8 1.6 .8 1.9 .8 2.1 .8 2.2 .8 2.1 .8 2.2 .7 2.1 .6 2.2 .7 2.1 .7 2 .7 1.7 .8 1.4 .7 1.1 .7 1.2 .6 1.4 .7 1.4 .6 1.3 .6 1.1 .6 .7 .6 .8 .5 .8 .6 .9 .6 1.1 .5 .9 .6 .7 .5 .3 .6 .2 .5 .3 .5 .4 .6 .6 .5 .4 .6 .1 .5-.4 .6-.7 .5-.8 .5-.9 .5-1 .6-1.3 .5-1.8 .5-2.3 .5-2.6 .6-2.5 .5-2.3 .6-2 .5-2.1 .6-2.2 .6-2.3 .6-2.2 .6-2 .6-1.7 .7-1.4 .7-1.3 .7-1.4 .7-1.5 .7-1.5 .8-1.3 .8-.9 .9-.7 .8-.6 .8-.6 .7-.6 .7-.7 .7-.6 .7-.4 .7-.4 .7-.4 .7-.6 .7-.9 .7-.9 .7-.7 .6-.4 .7 0 .6 .1 .6 .2 .7 .1 .7 .4 .8 .6 .8 1 .7 1.3 .8 1.3 .8 1.3 .8 1.1 .8 1 .8 1.1 .8 1.3 .9 1.5 .8 1.4 .8 1.1 .8 .8 .8 .5 .6 .4 .6 .5 .6 .5 .6 0 .6-.3"/>
</g>
<path d="M795 389.6l1.4-.2 1.4-.1 1.4-.2 1.4-.2 1.5-.3 1.5-.4 1.6-.4 1.6-.5 1.7-.5 1.6-.5 1.6-.5 1.6-.6 1.7-.5 1.6-.4 1.5-.2 1.5 .1 1.4 .2 1.3 .4 1.4 .5 1.5 .3 1.5 .3 1.6 .3 1.7 .3 1.6 .3 1.6 .1 1.4 0 1.4-.1 1.4-.1 1.4-.2 1.4-.2 1.6-.2 1.6-.2 1.7-.3 1.6-.2 1.6-.3 1.5-.3 1.5-.3 1.4-.3 1.4-.2 1.2-.1 1 0 .8 0 .7 .2 .7 .3 .8 .5 .8 .7 .8 .9 .8 1.1 .8 1.2 .8 1.3 .8 1.6 .7 1.8 .6 1.9 .7 1.9 .7 1.9 .7 1.8 .8 1.9 .7 1.8 .7 1.8 .6 1.7 .7 1.6 .6 1.5 .6 1.4 .6 1.3 .6 1.2 .5 1.2 .6 1 .6 .9 .5 .8 .6 .7 .5 .5 .6 .3 .5 .3 .5 .1 .6 .1 .5-.1 .6-.1 .5-.2 .6-.4 .5-.4 .5-.7 .5-.7 .6-.9 .5-1 .5-1.2 .5-1.4 .6-1.5 .5-1.8 .6-1.7 .5-1.8 .6-1.8 .6-1.8 .6-1.8 .6-1.8 .6-1.8 .7-1.8 .7-1.8 .7-1.7 .7-1.7 .7-1.6 .8-1.5 .8-1.6 .9-1.4 .8-1.3 .8-1.2 .7-1 .7-.8 .7-.7 .7-.7 .7-.5 .7-.5 .7-.5 .7-.4 .7-.2 .7-.2 .6-.1 .7-.1 .6 .1 .6 .2 .7 .3 .7 .5 .8 .6 .8 .8 .7 .9 .8 .8 .8 .9 .8 .9 .8 .9 .8 1 .8 .8 .9 .8 .8 .7 .8 .7 .8 .6 .8 .5 .6 .5 .6 .3 .6 .3 .6 .3 .6 .3" fill="none" stroke="#000" stroke-width="3.2" stroke-linejoin="round" stroke-linecap="round"/>
<g fill="none" stroke="#000" stroke-width="0.8" stroke-opacity="0.5" stroke-linejoin="round">
<path d="M811.4 618.6l1.8 .5 1.7 .4 1.8 .3 1.8 .3 1.8 .2 1.7 .4 1.8 .3 1.8 .1 1.7-.1 1.8-.4 1.8-.8 1.7-1 1.8-1.4 1.8-1.5 1.8-1.5 1.7-1.5 1.8-1.4 1.8-1.1 1.7-.9 1.8-.7 1.8-.1 1.7 .4 1.8 1.1 1.8 1.4 1.8 1.9 1.7 1.8 1.8 1.3 1.8 .9 1.7-.2 1.8-.9 1.8-1.4 1.7-1.9 1.8-2 1.8-1.9 1.8-1.7 1.7-1.2 1.8-.5 1.8 .1 1.7 .3 1.8 .6 1.8 .2 1.8 0 1.7-.3 1.8-.2 1.8 .2 1.7 .7 1.8 1.3 1.8 1.3 1.7 1.2 1.8 .9 1.8 .5 1.8 .2 1.7 .2 1.8 0 1.8-.1 1.7-.3 1.8-.3 1.8-.3 1.7 .1 1.8 .6 1.8 1.1 1.8 1.4 1.7 1.3 1.8 .8 1.8 .3 1.7-.2 1.8-.6 1.8-1.1 1.7-1.2 1.8-.9 1.8-.6 1.8 0 1.7 .3 1.8 .7"/>
<path d="M811.4 616.9l1.8 .6 1.7 .3 1.8 .1 1.8-.1 1.8-.2 1.7-.1 1.8 0 1.8 .5 1.7 1 1.8 1.5 1.8 1.7 1.7 1.8 1.8 1.4 1.8 .5 1.8-.6 1.7-1.6 1.8-2.3 1.8-2.7 1.7-2.5 1.8-1.6 1.8-.5 1.7 .2 1.8 .3 1.8-.5 1.8-1.6 1.7-2.3 1.8-2.2 1.8-1.1 1.7 .4 1.8 2.1 1.8 3.3 1.7 3.9 1.8 3.4 1.8 2.3 1.8 1.1 1.7 .1 1.8-.3 1.8-.5 1.7-.4 1.8-.7 1.8-1 1.8-1.1 1.7-1 1.8-.4 1.8-.1 1.7 0 1.8 .2 1.8 .8 1.7 1.8 1.8 2.5 1.8 2.7 1.8 1.7 1.7 .3 1.8-1.1 1.8-2.3 1.7-3 1.8-2.9 1.8-2.6 1.7-2.9 1.8-2.2 1.8-1.9 1.8-1.6 1.7-1.4 1.8-.8 1.8 0 1.7 1 1.8 1.7 1.8 1.8 1.7 1.3 1.8 .5 1.8 0 1.8 .2 1.7 .9 1.8 1.9"/>
<path d="M811.4 615.4l1.8-.2 1.7-.1 1.8 0 1.8 .5 1.8 1.1 1.7 1.4 1.8 1.6 1.8 1.2 1.7 .3 1.8-1 1.8-2.4 1.7-3.5 1.8-3.5 1.8-2.1 1.8-.1 1.7 2.2 1.8 3.8 1.8 4.4 1.7 3.5 1.8 1.3 1.8-1 1.7-2.2 1.8-1.9 1.8-.7 1.8 .5 1.7 .7 1.8 0 1.8-.9 1.7-1.4 1.8-1.2 1.8-.6 1.7-.1 1.8 .5 1.8 1.3 1.8 2 1.7 2.3 1.8 1.9 1.8 1 1.7 .1 1.8-.4 1.8-.4 1.8-.3 1.7-.3 1.8-.6 1.8-1.2 1.7-1.9 1.8-2.3 1.8-2.7 1.7-.6 1.8 2.7 1.8 2.8 1.8 2.3 1.7 .5 1.8-1.6 1.8-3 1.7-4.2 1.8-2.8 1.8-.6 1.7 .9 1.8 1.7 1.8 1.8 1.8 1.6 1.7 .9 1.8-.2 1.8-1.4 1.7-2.2 1.8-2.2 1.8-1.7 1.7-.8 1.8 .5 1.8 2 1.8 3.2 1.7 3.7 1.8 2.8"/>
<path d="M811.4 610.4l1.8 .5 1.7 .9 1.8 1 1.8 1 1.8 .8 1.7 .5 1.8 .5 1.8 .3 1.7 .3 1.8 .2 1.8 .1 1.7 0 1.8-.1 1.8-.2 1.8-.2 1.7 0 1.8 .1 1.8 .5 1.7 .6 1.8 .7 1.8 .3 1.7 0 1.8-.4 1.8-.6 1.8-.3 1.7-.2 1.8 .1 1.8 .1 1.7-.1 1.8-.6 1.8-1.1 1.7-1.4 1.8-1.6 1.8-1.5 1.8-1.2 1.7-1 1.8-.6 1.8-.4 1.7-.2 1.8 0 1.8 .1 1.8 .6 1.7 1 1.8 1.7 1.8 2.2 1.7 2.7 1.8 1.9 1.8 1.4 1.7 .9 1.8 .4 1.8-.2 1.8-.8 1.7-1.4 1.8-1.9 1.8-3.2 1.7-2.9 1.8-2.1 1.8-1.3 1.7-.3 1.8 .4 1.8 .9 1.8 1.2 1.7 1.2 1.8 1 1.8 .7 1.7 .5 1.8 .3 1.8 0 1.7-.1 1.8-.2 1.8-.1 1.8-.1 1.7 .2 1.8 .3"/>
<path d="M811.4 619l1.8-.8 1.7-1 1.8-.9 1.8-.5 1.8 .1 1.7 .3 1.8 .4 1.8 .3 1.7 .5 1.8 .6 1.8 .5 1.7 .2 1.8-.2 1.8-.5 1.8-.4 1.7 0 1.8 .4 1.8 .2 1.7-.5 1.8-1.2 1.8-1 1.7-.1 1.8 1.1 1.8 2.1 1.8 1.7 1.7 .2 1.8-1.6 1.8-2.9 1.7-3 1.8-3.1 1.8-3 1.7-2.4 1.8-1.6 1.8-.4 1.8 .9 1.7 2.1 1.8 3 1.8 3.2 1.7 2.4 1.8 .8 1.8-1.1 1.8-1.9 1.7-1.6 1.8-.7 1.8-.2 1.7 .1 1.8 .6 1.8 1.7 1.7 2.7 1.8 2.5 1.8 1.5 1.8 1.2 1.7 1.1 1.8 .8 1.8 .3 1.7-.6 1.8-1.7 1.8-2.3 1.7-3.1 1.8-2.4 1.8-.8 1.8 .5 1.7 1 1.8 1.1 1.8 .8 1.7 .7 1.8 .6 1.8 .6 1.7 .4 1.8 .2 1.8-.2 1.8-.9 1.7-1.5 1.8-1.6"/>
<path d="M811.4 604.7l1.8 .8 1.7 1.1 1.8 1.2 1.8 1.1 1.8 .9 1.7 1.1 1.8 1.2 1.8 1.5 1.7 1.6 1.8 1.8 1.8 1.6 1.7 1.2 1.8 .8 1.8 .2 1.8-.1 1.7-.5 1.8-.5 1.8-.6 1.7-.5 1.8-.4 1.8-.7 1.7-.9 1.8-1 1.8-.9 1.8-.8 1.7-.5 1.8-.1 1.8 .4 1.7 .8 1.8 .9 1.8 .8 1.7 .6 1.8 .4 1.8 .2 1.8 .3 1.7 .4 1.8 .8 1.8 .9 1.7 1.1 1.8 1.2 1.8 1.1 1.8 1.1 1.7 .9 1.8 .5 1.8 .2 1.7-.1 1.8-.4 1.8-.6 1.7-.8 1.8-1.1 1.8-1.4 1.8-1.6 1.7-1.8 1.8-1.6 1.8-1.7 1.7-.9 1.8 .1 1.8 .6 1.7 .8 1.8 .6 1.8 .4 1.8 .1 1.7 0 1.8 0 1.8 0 1.7 .1 1.8 0 1.8-.1 1.7-.1 1.8-.1 1.8 .1 1.8 .3 1.7 .5 1.8 .7"/>
<path d="M811.4 619l1.8 .1 1.7 .2 1.8-.1 1.8-.7 1.8-1 1.7-1 1.8-.3 1.8 .6 1.7 1.2 1.8 1.2 1.8 .7 1.7-.4 1.8-1.4 1.8-2.1 1.8-2 1.7-1.2 1.8-.4 1.8 .3 1.7 .4 1.8-.1 1.8-.7 1.7-1.1 1.8-.9 1.8-.1 1.8 1.4 1.7 2.7 1.8 3.2 1.8 2 1.7-.4 1.8-2.2 1.8-2.5 1.7-1.3 1.8 .6 1.8 2.5 1.8 3.1 1.7 2.7 1.8 1.7 1.8 .8 1.7 0 1.8-.7 1.8-1.4 1.8-1.5 1.7-.8 1.8-.1 1.8 0 1.7-.8 1.8-1.6 1.8-1.6 1.7-1 1.8 1.2 1.8 1.5 1.8 1.5 1.7 1 1.8 .5 1.8 .1 1.7 0 1.8-.1 1.8-.2 1.7-.4 1.8-.7 1.8-1 1.8-1.1 1.7-1.1 1.8-1.2 1.8-1 1.7-1.2 1.8-1.4 1.8-1.3 1.7-.6 1.8 .5 1.8 1.7 1.8 2.5 1.7 2.4 1.8 1.5"/>
<path d="M811.4 619.7l1.8-.5 1.7-.3 1.8 .1 1.8 .3 1.8 .3 1.7 .2 1.8 0 1.8-.4 1.7-.9 1.8-1.3 1.8-1.8 1.7-2 1.8-1.8 1.8-1.3 1.8-.8 1.7 0 1.8 .5 1.8 .8 1.7 .9 1.8 .9 1.8 1 1.7 1.1 1.8 1.3 1.8 1.7 1.8 1.7 1.7 1.2 1.8 .3 1.8-.9 1.7-2 1.8-2.5 1.8-2.5 1.7-1.8 1.8-.6 1.8 .7 1.8 1.7 1.7 2.1 1.8 1.7 1.8 .9 1.7 .1 1.8-.4 1.8-.8 1.8-1.3 1.7-1.4 1.8-1.3 1.8-1 1.7-.5 1.8 0 1.8 .3 1.7 .5 1.8 .5 1.8 .3 1.8 .1 1.7-.1 1.8 0 1.8 .2 1.7 .7 1.8 1.1 1.8 1.3 1.7 .9 1.8 .6 1.8 .2 1.8 0 1.7-.3 1.8-.5 1.8-.4 1.7-.3 1.8-.1 1.8 .2 1.7 .3 1.8 .4 1.8 .4 1.8 .2 1.7-.1 1.8-.3"/>
<path d="M811.4 615l1.8-.2 1.7-.3 1.8-.3 1.8-.2 1.8 .1 1.7 .2 1.8 .4 1.8 .5 1.7 .5 1.8 .5 1.8 .2 1.7 0 1.8-.4 1.8-.5 1.8-.4 1.7-.3 1.8-.2 1.8-.3 1.7-.6 1.8-.8 1.8-1 1.7-.9 1.8-.7 1.8-.4 1.8-.3 1.7-.4 1.8-.7 1.8-1.2 1.7-1.7 1.8-1.7 1.8-1.4 1.7-.5 1.8 .7 1.8 2.2 1.8 3.6 1.7 4.5 1.8 4.3 1.8 2.8 1.7 1.3 1.8 .2 1.8-.4 1.8-.5 1.7-.5 1.8-.7 1.8-1.1 1.7-1.7 1.8-3.1 1.8-3.5 1.7-2.6 1.8-1.2 1.8 .3 1.8 1.2 1.7 1.7 1.8 1.7 1.8 1.9 1.7 1.9 1.8 1.7 1.8 1.2 1.7 .9 1.8 .4 1.8-.2 1.8-.8 1.7-1.3 1.8-1.8 1.8-1.8 1.7-1.1 1.8-.1 1.8 .9 1.7 1.4 1.8 1.6 1.8 1.1 1.8 .7 1.7 .6 1.8 .6"/>
<path d="M811.4 615.2l1.8-.4 1.7-.5 1.8-.5 1.8-.4 1.8-.2 1.7 .1 1.8 .3 1.8 .6 1.7 .7 1.8 .8 1.8 .7 1.7 .6 1.8 .4 1.8 .1 1.8 0 1.7-.2 1.8-.2 1.8 0 1.7 0 1.8 .1 1.8 .1 1.7 0 1.8 .1 1.8 0 1.8 .1 1.7 .3 1.8 .4 1.8 .5 1.7 .7 1.8 .6 1.8 .5 1.7 .1 1.8-.3 1.8-.7 1.8-1 1.7-1 1.8-1 1.8-1 1.7-.6 1.8-.1 1.8 .6 1.8 1.1 1.7 1.1 1.8 1 1.8 .5 1.7-.1 1.8-.7 1.8-1.1 1.7-1.4 1.8-1.9 1.8-1.4 1.8-.7 1.7-.2 1.8-.1 1.8-.1 1.7-.4 1.8-.5 1.8-.7 1.7-.6 1.8-.6 1.8-.3 1.8-.1 1.7 .2 1.8 .6 1.8 .7 1.7 1 1.8 1 1.8 1.1 1.7 1.1 1.8 1 1.8 1 1.8 .8 1.7 .7 1.8 .7"/>
<path d="M811.4 609.8l1.8-1.1 1.7-.6 1.8-.4 1.8-.2 1.8 .5 1.7 1.3 1.8 2.5 1.8 2.9 1.7 2.7 1.8 1.7 1.8 .4 1.7-.6 1.8-1.4 1.8-1.6 1.8-1.5 1.7-1.2 1.8-.5 1.8 .3 1.7 1.4 1.8 2.6 1.8 3.7 1.7 3.6 1.8 2.6 1.8 .8 1.8-1.5 1.7-3.5 1.8-4.8 1.8-4.4 1.7-3.2 1.8-1.7 1.8-.1 1.7 .7 1.8 1.1 1.8 .7 1.8 .2 1.7-.2 1.8-.3 1.8 .2 1.7 1.1 1.8 2 1.8 2.7 1.8 2.2 1.7 1.6 1.8 .7 1.8-.5 1.7-1.6 1.8-2.1 1.8-2.8 1.7-2.2 1.8-.6 1.8 .7 1.8 1.4 1.7 1.5 1.8 .9 1.8 .3 1.7-.2 1.8-.2 1.8 .1 1.7 .6 1.8 .9 1.8 1.1 1.8 1 1.7 .8 1.8 .7 1.8 .7 1.7 1.1 1.8 1.5 1.8 1.7 1.7 1.5 1.8 .9 1.8 .1 1.8-.6 1.7-1.4 1.8-1.9"/>
<path d="M811.4 611.1l1.8 1.8 1.7 2.1 1.8 1.9 1.8 1.4 1.8 1 1.7 .3 1.8-.3 1.8-.7 1.7-1.2 1.8-1.5 1.8-1.7 1.7-1.8 1.8-1.5 1.8-1 1.8-.4 1.7 .2 1.8 .7 1.8 .8 1.7 .8 1.8 .7 1.8 .5 1.7 .3 1.8 .2 1.8 .1 1.8 .1 1.7 .1 1.8 .4 1.8 .7 1.7 1.4 1.8 1.9 1.8 2 1.7 1.5 1.8 .3 1.8-1 1.8-2.3 1.7-3.4 1.8-4 1.8-3.6 1.7-2.3 1.8-.7 1.8 .9 1.8 2.2 1.7 2.9 1.8 3 1.8 2.7 1.7 1.3 1.8 .9 1.8 .4 1.7-.1 1.8-.6 1.8-.7 1.8-.9 1.7-1.1 1.8-.9 1.8-.4 1.7 .1 1.8 .4 1.8 .3 1.7-.1 1.8-.6 1.8-1 1.8-1.2 1.7-.9 1.8-.6 1.8-.3 1.7 0 1.8-.1 1.8-.2 1.7-.5 1.8-.7 1.8-.5 1.8-.2 1.7 .2 1.8 .6"/>
<path d="M811.4 613.5l1.8-.1 1.7-.1 1.8 .2 1.8 .8 1.8 1.5 1.7 1.9 1.8 2.2 1.8 1.9 1.7 1 1.8 0 1.8-.8 1.7-1 1.8-.6 1.8-.2 1.8-.3 1.7-.9 1.8-1.2 1.8-.8 1.7 .4 1.8 1.8 1.8 2.4 1.7 1.8 1.8 .3 1.8-1.2 1.8-2.4 1.7-2.7 1.8-2.4 1.8-1.8 1.7-.9 1.8 .5 1.8 2 1.7 3.1 1.8 2.6 1.8 1.1 1.8-.6 1.7-1.7 1.8-2 1.8-2.1 1.7-2.3 1.8-2.1 1.8-1.7 1.8-1 1.7-.4 1.8 .3 1.8 .8 1.7 1.2 1.8 1.1 1.8 .4 1.7-.4 1.8-.5 1.8 .2 1.8 1.3 1.7 1.8 1.8 1.4 1.8 .9 1.7 .9 1.8 1.4 1.8 2 1.7 1.8 1.8 1.1 1.8 0 1.8-1 1.7-1.6 1.8-1.7 1.8-1.2 1.7-.7 1.8-.3 1.8 .1 1.7 .2 1.8 .1 1.8 0 1.8-.5 1.7-1.1 1.8-1.2"/>
<path d="M811.4 617.9l1.8-1.8 1.7-1.9 1.8-1.7 1.8-1.2 1.8-.7 1.7-.4 1.8 .1 1.8 .2 1.7 .4 1.8 .3 1.8 .2 1.7 .4 1.8 .5 1.8 .8 1.8 1 1.7 .8 1.8 .3 1.8-.5 1.7-1.4 1.8-2.1 1.8-2.6 1.7-2.5 1.8-1.9 1.8-.9 1.8 .1 1.7 1.1 1.8 2.1 1.8 2.8 1.7 3.5 1.8 3.8 1.8 4.1 1.7 3.5 1.8 2.7 1.8 1.7 1.8 .7 1.7-.2 1.8-.9 1.8-1.6 1.7-1.9 1.8-2.1 1.8-1.9 1.8-1.5 1.7-1.1 1.8-.7 1.8-.5 1.7-.1 1.8 .2 1.8 .8 1.7 1.1 1.8 1.4 1.8 1.3 1.8 1.1 1.7 .6 1.8 0 1.8-.6 1.7-1.5 1.8-2.5 1.8-3.4 1.7-4.8 1.8-3.5 1.8-1.5 1.8 .8 1.7 2.8 1.8 4.1 1.8 4 1.7 2.8 1.8 1.9 1.8 1.2 1.7 .5 1.8 .1 1.8-.3 1.8-.4 1.7-.7 1.8-.6"/>
<path d="M811.4 617.2l1.8 1 1.7 0 1.8-1.2 1.8-2.3 1.8-2.6 1.7-1.9 1.8-.4 1.8 1 1.7 1.6 1.8 1.1 1.8 0 1.7-.9 1.8-.9 1.8-.4 1.8 .5 1.7 1.3 1.8 1.6 1.8 1.4 1.7 .7 1.8-.2 1.8-.6 1.7 0 1.8 1.5 1.8 2.7 1.8 2.8 1.7 1.5 1.8-.6 1.8-2.8 1.7-4.3 1.8-4.3 1.8-3.7 1.7-2.6 1.8-1.5 1.8-.2 1.8 1 1.7 2.4 1.8 3.3 1.8 3.1 1.7 2.5 1.8 1.5 1.8 1.6 1.8 1.9 1.7 2.2 1.8 2 1.8 1.2 1.7-.1 1.8-1.9 1.8-3.3 1.7-3.5 1.8-2.4 1.8-.4 1.8 1.8 1.7 2.4 1.8 2.4 1.8 1.9 1.7 1.1 1.8 .3 1.8-.4 1.7-.7 1.8-1.2 1.8-1.9 1.8-2.4 1.7-2.6 1.8-2.2 1.8 .7 1.7 3.3 1.8 4.5 1.8 4.3 1.7 2.7 1.8 .8 1.8-.6 1.8-1.4 1.7-1.7 1.8-2.2"/>
<path d="M811.4 613.5l1.8 .1 1.7-.1 1.8 0 1.8 .3 1.8 .8 1.7 1.3 1.8 1.3 1.8 1 1.7 .5 1.8-.1 1.8-.4 1.7-.6 1.8-.4 1.8-.3 1.8 0 1.7 0 1.8 0 1.8-.2 1.7-.1 1.8 .4 1.8 1.1 1.7 2 1.8 2.3 1.8 2 1.8 .9 1.7-.9 1.8-3 1.8-4.9 1.7-5.4 1.8-5.1 1.8-4 1.7-2.5 1.8-1.1 1.8-.4 1.8 0 1.7 .2 1.8 .2 1.8 .5 1.7 1.2 1.8 2.2 1.8 3.5 1.8 4.6 1.7 5.5 1.8 3.8 1.8 3.4 1.7 2.7 1.8 1.9 1.8 .9 1.7 0 1.8-1.1 1.8-2.1 1.8-2.5 1.7-2.5 1.8-2 1.8-1 1.7-.4 1.8 0 1.8-.2 1.7-.7 1.8-1.5 1.8-1.6 1.8-1.3 1.7-.7 1.8-.1 1.8 .5 1.7 1.1 1.8 1.6 1.8 2.2 1.7 1.8 1.8 1.7 1.8 1.1 1.8 .1 1.7-1.2 1.8-2.2"/>
<path d="M811.4 614l1.8 .3 1.7 .3 1.8 .1 1.8-.1 1.8-.2 1.7-.3 1.8-.2 1.8 0 1.7 .3 1.8 .4 1.8 .6 1.7 .6 1.8 .5 1.8 .4 1.8 .2 1.7 .2 1.8 .2 1.8 .3 1.7 .4 1.8 .5 1.8 .6 1.7 .6 1.8 .5 1.8 .4 1.8 .1 1.7-.1 1.8-.7 1.8-.9 1.7-1.1 1.8-1.3 1.8-1.2 1.7-1 1.8-.8 1.8-.5 1.8-.1 1.7 .4 1.8 .8 1.8 1.3 1.7 1.3 1.8 1.1 1.8 .8 1.8 .5 1.7 .4 1.8 .3 1.8 .3 1.7 .6 1.8 .6 1.8 .6 1.7 .5 1.8 .3 1.8 0 1.8-.2 1.7-.4 1.8-.5 1.8-.6 1.7-.7 1.8-.8 1.8-.7 1.7-.6 1.8-.6 1.8-.5 1.8-.4 1.7-.4 1.8-.3 1.8-.1 1.7 .3 1.8 .5 1.8 .6 1.7 .8 1.8 .8 1.8 .6 1.8 .4 1.7 .1 1.8-.1"/>
<path d="M811.4 615.9l1.8 1 1.7 .8 1.8 .5 1.8-.1 1.8-.6 1.7-.7 1.8-.5 1.8 .4 1.7 1.1 1.8 1.4 1.8 1 1.7 .2 1.8-.5 1.8-1 1.8-.9 1.7-.7 1.8-.3 1.8 0 1.7 0 1.8-.2 1.8-.6 1.7-.7 1.8-.7 1.8-.4 1.8 .3 1.7 .9 1.8 1.4 1.8 1.4 1.7 .9 1.8 0 1.8-1 1.7-2.2 1.8-3.4 1.8-4.2 1.8-3.9 1.7-2.9 1.8-1.6 1.8-.4 1.7 .6 1.8 1.5 1.8 2.1 1.8 2.4 1.7 2.2 1.8 1.6 1.8 .9 1.7 .8 1.8 1.5 1.8 2.2 1.7 1.8 1.8 .8 1.8-.1 1.8-1.1 1.7-3.1 1.8-4.1 1.8-3.7 1.7-2.5 1.8-1.1 1.8 .6 1.7 2 1.8 2.6 1.8 2.3 1.8 1.4 1.7 .1 1.8-.6 1.8-1 1.7-.5 1.8 .4 1.8 1.4 1.7 2.4 1.8 2.6 1.8 1.8 1.8 1.2 1.7 .4 1.8-.1"/>
<path d="M811.4 620.5l1.8 0 1.7-.5 1.8-1.1 1.8-1.3 1.8-1.2 1.7-.9 1.8-.3 1.8 .1 1.7 .3 1.8 .2 1.8-.2 1.7-.5 1.8-.7 1.8-.6 1.8-.1 1.7 .3 1.8 .7 1.8 .9 1.7 1 1.8 1.2 1.8 1.4 1.7 1.4 1.8 1.5 1.8 1.5 1.8 1.1 1.7 .3 1.8-1 1.8-2.2 1.7-2.8 1.8-2.6 1.8-1.9 1.7-1.5 1.8-1.5 1.8-1.6 1.8-1.2 1.7-.1 1.8 1.6 1.8 3 1.7 3.6 1.8 2.5 1.8 1.9 1.8 1.2 1.7 .7 1.8 0 1.8-.7 1.7-1.4 1.8-1.8 1.8-1.6 1.7-1.4 1.8-1.6 1.8-.9 1.8-.3 1.7 .4 1.8 1 1.8 1.3 1.7 .9 1.8 .9 1.8 .8 1.7 .7 1.8 .6 1.8 .4 1.8 .2 1.7 .1 1.8-.2 1.8-.4 1.7-.6 1.8-.9 1.8-.9 1.7-.9 1.8-1 1.8-1.1 1.8-1.3 1.7-1.2 1.8-.9"/>
<path d="M811.4 611.9l1.8 .4 1.7 .6 1.8 .4 1.8 0 1.8-.5 1.7-.9 1.8-1 1.8-.8 1.7-.3 1.8 .4 1.8 1 1.7 1.7 1.8 2.2 1.8 2.4 1.8 2.5 1.7 2.3 1.8 1.8 1.8 1 1.7 .1 1.8-1.2 1.8-2.1 1.7-2.9 1.8-3.1 1.8-2.4 1.8-1.8 1.7-1.2 1.8-.5 1.8 .1 1.7 .7 1.8 1.2 1.8 1.6 1.7 1.9 1.8 1.9 1.8 1.3 1.8 .6 1.7-.1 1.8-.7 1.8-.9 1.7-.8 1.8-.4 1.8-.4 1.8-.6 1.7-1.1 1.8-1.8 1.8-2 1.7-1.7 1.8-.5 1.8 .9 1.7 2.2 1.8 2.8 1.8 2.4 1.8 1 1.7 .3 1.8-.4 1.8-.9 1.7-1.9 1.8-2 1.8-1.3 1.7-.5 1.8 .6 1.8 1.4 1.8 2 1.7 2 1.8 1.6 1.8 1.4 1.7 1.1 1.8 .5 1.8-.2 1.7-.9 1.8-1.3 1.8-1.3 1.8-1.1 1.7-.6 1.8-.1"/>
<path d="M811.4 616.6l1.8 .5 1.7-.3 1.8-.8 1.8-.8 1.8-.3 1.7 .4 1.8 .9 1.8 .9 1.7 .4 1.8-.6 1.8-2 1.7-3.3 1.8-3.8 1.8-3.7 1.8-2.8 1.7-1.8 1.8-.8 1.8 .1 1.7 .9 1.8 1.6 1.8 2.2 1.7 2.8 1.8 3.1 1.8 3.1 1.8 2.9 1.7 2.6 1.8 2.1 1.8 1.8 1.7 1.4 1.8 1 1.8 .3 1.7-.8 1.8-2.1 1.8-3.6 1.8-4.7 1.7-5.4 1.8-4.7 1.8-3.4 1.7-1.7 1.8-.1 1.8 1.2 1.8 2 1.7 2.3 1.8 1.9 1.8 1.6 1.7 1.5 1.8 2.4 1.8 3.6 1.7 3.5 1.8 2.9 1.8 2.4 1.8 1.3 1.7-.1 1.8-1.4 1.8-2.3 1.7-2.5 1.8-2.1 1.8-2 1.7-.6 1.8 .3 1.8 .5 1.8 .3 1.7 .1 1.8-.1 1.8 .1 1.7 .3 1.8 .6 1.8 .5 1.7 .3 1.8 0 1.8-.3 1.8-.6 1.7-.7 1.8-.6"/>
<path d="M811.4 617.5l1.8-.7 1.7-.6 1.8-.7 1.8-.5 1.8-.3 1.7-.1 1.8 0 1.8 0 1.7-.1 1.8 0 1.8-.2 1.7-.2 1.8-.2 1.8-.2 1.8-.2 1.7-.1 1.8 0 1.8 .1 1.7 .2 1.8 .5 1.8 .5 1.7 .6 1.8 .5 1.8 .5 1.8 .3 1.7 .3 1.8 .2 1.8 .1 1.7 0 1.8-.1 1.8-.4 1.7-.7 1.8-.9 1.8-1.1 1.8-1.1 1.7-1.1 1.8-.9 1.8-.8 1.7-.8 1.8-.9 1.8-1.2 1.8-1.4 1.7-1.5 1.8-1.3 1.8-.9 1.7-.4 1.8-.2 1.8 .1 1.7 .2 1.8 .1 1.8 .2 1.8 .4 1.7 .7 1.8 1.2 1.8 1.6 1.7 1.9 1.8 1.8 1.8 1.6 1.7 1.2 1.8 .8 1.8 .4 1.8 .2 1.7 .3 1.8 .3 1.8 .4 1.7 .5 1.8 .4 1.8 .3 1.7 .1 1.8 .1 1.8-.1 1.8 0 1.7 .1 1.8 .1"/>
<path d="M811.4 615.4l1.8-1.1 1.7-1 1.8-.8 1.8-.6 1.8-.4 1.7-.1 1.8 .1 1.8 .2 1.7 .3 1.8 .4 1.8 .4 1.7 .4 1.8 .4 1.8 .2 1.8-.2 1.7-.5 1.8-.1 1.8 .5 1.7 1.4 1.8 2 1.8 2.1 1.7 1.5 1.8 1 1.8 .9 1.8 1.2 1.7 1.8 1.8 2 1.8 1.5 1.7 .3 1.8-1.2 1.8-2.9 1.7-3.9 1.8-4 1.8-3.4 1.8-2.3 1.7-1.2 1.8-.1 1.8 .8 1.7 1.9 1.8 2.9 1.8 2.8 1.8 2.4 1.7 1.4 1.8-.1 1.8-1.7 1.7-2.7 1.8-3.8 1.8-3.6 1.7-1.6 1.8 .4 1.8 1.6 1.8 1.7 1.7 .7 1.8-.5 1.8-1.3 1.7-1.1 1.8-.2 1.8 1 1.7 2 1.8 2.3 1.8 1.8 1.8 1.2 1.7 .6 1.8 .2 1.8-.5 1.7-1.1 1.8-1.4 1.8-1.8 1.7-1.4 1.8-.8 1.8-.4 1.8-.4 1.7-.6 1.8-.6"/>
<path d="M811.4 613.8l1.8 1.6 1.7 1.6 1.8 1.3 1.8 .8 1.8 .4 1.7-.2 1.8-.5 1.8-.9 1.7-1.1 1.8-1.2 1.8-.9 1.7-.2 1.8 .5 1.8 1.1 1.8 1.3 1.7 .8 1.8-.2 1.8-1.4 1.7-2.1 1.8-2.4 1.8-2.1 1.7-1.5 1.8-1 1.8-.8 1.8-.9 1.7-1.3 1.8-1.5 1.8-1.4 1.7-.9 1.8-.1 1.8 1.1 1.7 2.3 1.8 3.3 1.8 4 1.8 3.9 1.7 2.8 1.8 1.5 1.8 .6 1.7 .1 1.8 0 1.8-.2 1.8-.1 1.7-.1 1.8-.2 1.8-.4 1.7-.8 1.8-1.3 1.8-1.5 1.7-1.4 1.8-.3 1.8 .9 1.8 1.6 1.7 1.1 1.8 1 1.8 .7 1.7 .3 1.8-.2 1.8-.6 1.7-.8 1.8-.8 1.8-.7 1.8-.5 1.7-.2 1.8 .2 1.8 .3 1.7 .2 1.8 0 1.8-.4 1.7-.8 1.8-1 1.8-.9 1.8-.5 1.7 0 1.8 .5"/>
<path d="M811.4 608.8l1.8 5.6 1.7 3.8 1.8 1.2 1.8-1 1.8-2.6 1.7-3.4 1.8-2.4 1.8-.4 1.7 1.7 1.8 3.6 1.8 4.1 1.7 3.5 1.8 1.6 1.8-1 1.8-3.5 1.7-5.3 1.8-5.4 1.8-4.5 1.7-2.9 1.8-1.3 1.8-.1 1.7 1 1.8 1.8 1.8 2.4 1.8 2.2 1.7 1.1 1.8-.9 1.8-3.7 1.7-5.9 1.8-6.6 1.8-5.2 1.7-3 1.8-1.3 1.8-.1 1.8 1.1 1.7 2.7 1.8 4.2 1.8 4.7 1.7 3 1.8 .8 1.8-.7 1.8-1 1.7-.5 1.8 .2 1.8 1.3 1.7 2.5 1.8 3.6 1.8 3.9 1.7 4 1.8 4.4 1.8 2.9 1.8 3.4 1.7 3.6 1.8 3.2 1.8 2.1 1.7 .6 1.8-1.1 1.8-2.5 1.7-3.8 1.8-4.2 1.8-4 1.8-4.4 1.7-2.6 1.8-1 1.8 .4 1.7 1.2 1.8 1.2 1.8 .5 1.7-.4 1.8-1 1.8-.9 1.8-.6 1.7-.2 1.8-.2"/>
<path d="M811.4 621.2l1.8 .6 1.7 .6 1.8 0 1.8-.7 1.8-1 1.7-1 1.8-.9 1.8-.8 1.7-1 1.8-1.5 1.8-2.1 1.7-2.3 1.8-1.9 1.8-1.3 1.8-.4 1.7 .5 1.8 .9 1.8 .9 1.7 .4 1.8 .2 1.8 .8 1.7 1.6 1.8 2.3 1.8 1.9 1.8 .6 1.7-1.1 1.8-1.6 1.8-.9 1.7 .8 1.8 3.2 1.8 4.6 1.7 3.9 1.8 1.9 1.8-.2 1.8-1.2 1.7-1 1.8-.4 1.8-.5 1.7-1.6 1.8-2.6 1.8-2.6 1.8-1.8 1.7-1.3 1.8-.4 1.8 .2 1.7 .8 1.8 1.1 1.8 1.6 1.7 2.1 1.8 2.3 1.8 1.7 1.8 .4 1.7-.6 1.8-.8 1.8-.8 1.7-.9 1.8-1.7 1.8-2.4 1.7-3.1 1.8-2.7 1.8-.9 1.8 .6 1.7 1.1 1.8 .6 1.8-.2 1.7-.5 1.8 .4 1.8 1.6 1.7 2.2 1.8 1.6 1.8 .9 1.8 .2 1.7-.5 1.8-.7"/>
<path d="M811.4 618.9l1.8 .7 1.7 .6 1.8 .3 1.8 0 1.8-.3 1.7-.8 1.8-.9 1.8-.9 1.7-.8 1.8-.7 1.8-.7 1.7-.6 1.8-.6 1.8-.4 1.8 0 1.7 .3 1.8 .7 1.8 .7 1.7 .6 1.8 .2 1.8-.2 1.7 0 1.8 .7 1.8 1.9 1.8 3 1.7 3.3 1.8 2.5 1.8 1 1.7-.7 1.8-2.3 1.8-3.3 1.7-3.7 1.8-3.4 1.8-2.8 1.8-1.9 1.7-.8 1.8 .4 1.8 1.2 1.7 .9 1.8 0 1.8-1.3 1.8-2 1.7-1.6 1.8-.4 1.8 .9 1.7 1.5 1.8 1.3 1.8 .4 1.7-.6 1.8-.6 1.8 .2 1.8 1.8 1.7 3 1.8 2.5 1.8 1.4 1.7 .6 1.8 0 1.8-.1 1.7 0 1.8 .4 1.8 .5 1.8 .4 1.7 0 1.8-.2 1.8 0 1.7 .6 1.8 1.1 1.8 1.3 1.7 .9 1.8 .3 1.8-.5 1.8-1 1.7-1.3 1.8-1.4"/>
<path d="M811.4 616l1.8-.7 1.7-.9 1.8-1.1 1.8-.7 1.8-.3 1.7 .3 1.8 1 1.8 1.2 1.7 1.3 1.8 .7 1.8 .2 1.7-.4 1.8-.8 1.8-.8 1.8-.5 1.7 0 1.8 .5 1.8 .8 1.7 1 1.8 1 1.8 .8 1.7 .4 1.8 0 1.8-.3 1.8-.4 1.7-.4 1.8-.1 1.8 .1 1.7 .4 1.8 .7 1.8 .9 1.7 1 1.8 .8 1.8 .7 1.8 .4 1.7 .2 1.8 0 1.8-.3 1.7-.5 1.8-.7 1.8-.8 1.8-.8 1.7-.8 1.8-.5 1.8-.3 1.7-.2 1.8-.4 1.8-.6 1.7-1 1.8-1.9 1.8-2 1.8-1.6 1.7-.9 1.8-.1 1.8 .6 1.7 1.3 1.8 1.9 1.8 2.2 1.7 1.6 1.8 1.1 1.8 .7 1.8 .1 1.7-.4 1.8-.8 1.8-1 1.7-1.2 1.8-1 1.8-.5 1.7 0 1.8 .5 1.8 1 1.8 1.3 1.7 1.5 1.8 1.7"/>
<path d="M811.4 614.5l1.8 .1 1.7 1.2 1.8 1.8 1.8 2.1 1.8 1.8 1.7 1.1 1.8 .3 1.8-.3 1.7-1 1.8-1.2 1.8-1 1.7-.2 1.8 .2 1.8 .1 1.8-.6 1.7-1.4 1.8-1.5 1.8-.7 1.7 .7 1.8 2.4 1.8 4.1 1.7 4.7 1.8 4.2 1.8 2.7 1.8 .8 1.7-1 1.8-2.2 1.8-2.3 1.7-.9 1.8 1 1.8 1.8 1.7 .7 1.8-1.5 1.8-3.7 1.8-5.1 1.7-5.4 1.8-5 1.8-2.7 1.7 .8 1.8 4.3 1.8 5.3 1.8 4 1.7 2.3 1.8 .8 1.8 0 1.7 .1 1.8 .5 1.8 1.1 1.7 1 1.8-.2 1.8-2.2 1.8-4.8 1.7-7.2 1.8-10 1.8-5.6 1.7-1.5 1.8 1.2 1.8 2.6 1.7 3.2 1.8 3.6 1.8 4.6 1.8 4.7 1.7 3.2 1.8 2.1 1.8 .6 1.7-.8 1.8-1.1 1.8-.7 1.7 0 1.8 .3 1.8-.3 1.8-1.2 1.7-1.8 1.8-2"/>
<path d="M811.4 618.5l1.8-.1 1.7 .5 1.8 1 1.8 1 1.8 .3 1.7-.8 1.8-1.7 1.8-2.3 1.7-2 1.8-1.1 1.8 .2 1.7 1.4 1.8 2.1 1.8 2.3 1.8 1.8 1.7 .6 1.8-.7 1.8-1.6 1.7-1.9 1.8-1.5 1.8-.6 1.7 0 1.8 .3 1.8 .2 1.8-.2 1.7-.8 1.8-1.2 1.8-1.4 1.7-1 1.8-.3 1.8 .8 1.7 1.6 1.8 1.9 1.8 1.3 1.8 0 1.7-1.4 1.8-2.8 1.8-3.6 1.7-3.5 1.8-2.7 1.8-1 1.8 1 1.7 3.5 1.8 6 1.8 6.2 1.7 4.4 1.8 3.2 1.8 1.7 1.7 .2 1.8-.7 1.8-1.1 1.8-1.2 1.7-.9 1.8-.9 1.8-1 1.7-1.1 1.8-1.1 1.8-1 1.7-.6 1.8-.4 1.8-.3 1.8-.6 1.7-.7 1.8-1.2 1.8-1 1.7-.7 1.8-.2 1.8 .3 1.7 .8 1.8 1.3 1.8 1.5 1.8 1.6 1.7 1.3 1.8 .9"/>
<path d="M811.4 622.5l1.8-.3 1.7-1.4 1.8-2.5 1.8-3 1.8-2.6 1.7-1.2 1.8 .5 1.8 1.6 1.7 1.9 1.8 1 1.8-.4 1.7-1.7 1.8-2 1.8-1.1 1.8 .8 1.7 2.5 1.8 3.8 1.8 3.9 1.7 2.7 1.8 1 1.8-.6 1.7-1.9 1.8-2.4 1.8-2.2 1.8-1.4 1.7-.8 1.8-.7 1.8-1.4 1.7-2.9 1.8-4.1 1.8-4.5 1.7-3.7 1.8-1.6 1.8 1.1 1.8 4.3 1.7 7.2 1.8 7.6 1.8 4.9 1.7 2 1.8-.4 1.8-1.5 1.8-1.6 1.7-1.2 1.8-.5 1.8-.1 1.7 .1 1.8 0 1.8-.2 1.7-.7 1.8-1.2 1.8-1.9 1.8-2.4 1.7-1 1.8 1.3 1.8 3.1 1.7 2.6 1.8 2.4 1.8 1.7 1.7 .9 1.8 .4 1.8 0 1.8 0 1.7-.2 1.8-.3 1.8-.3 1.7-.2 1.8 0 1.8 0 1.7-.4 1.8-.9 1.8-1.3 1.8-1.3 1.7-1 1.8-.7"/>
<path d="M811.4 616.2l1.8 .1 1.7 .1 1.8 0 1.8-.2 1.8-.3 1.7-.4 1.8-.3 1.8-.1 1.7 .2 1.8 .5 1.8 .7 1.7 .8 1.8 .8 1.8 .7 1.8 .6 1.7 .4 1.8 0 1.8-.2 1.7-.4 1.8-.6 1.8-.6 1.7-.4 1.8-.2 1.8 .3 1.8 .7 1.7 1 1.8 1 1.8 .8 1.7 .3 1.8-.1 1.8-.4 1.7-.5 1.8-.2 1.8 0 1.8 .5 1.7 .8 1.8 1.2 1.8 1.2 1.7 1.2 1.8 .8 1.8 .4 1.8 0 1.7-.2 1.8-.4 1.8-.5 1.7-.7 1.8-1 1.8-1.2 1.7-1.3 1.8-1.1 1.8-.9 1.8-.6 1.7-.3 1.8-.3 1.8-.2 1.7-.3 1.8-.4 1.8-.5 1.7-.8 1.8-.9 1.8-.8 1.8-.6 1.7-.3 1.8 0 1.8 .4 1.7 .4 1.8 .4 1.8 .2 1.7-.1 1.8-.3 1.8-.5 1.8-.8 1.7-.8 1.8-1"/>
<path d="M811.4 612.6l1.8 3 1.7 2.8 1.8 2.1 1.8 1.1 1.8 .1 1.7-.6 1.8-.9 1.8-.5 1.7 .5 1.8 1.6 1.8 2.2 1.7 1.4 1.8-.1 1.8-1.8 1.8-3 1.7-3.2 1.8-2.1 1.8-.6 1.7 .4 1.8 .8 1.8 .9 1.7 1.2 1.8 1.6 1.8 1.7 1.8 1.6 1.7 1.6 1.8 .9 1.8-.3 1.7-2.9 1.8-6 1.8-7.5 1.7-7.5 1.8-5.5 1.8-3.5 1.8-2 1.7-.8 1.8 .5 1.8 2.6 1.7 5.5 1.8 8.3 1.8 8.5 1.8 4.5 1.7 1.4 1.8-.1 1.8-.2 1.7 .7 1.8 1.8 1.8 1.8 1.7 .5 1.8-1.9 1.8-4.4 1.8-8.8 1.7-9.9 1.8-6.4 1.8-2.6 1.7 .1 1.8 1.8 1.8 2.5 1.7 2 1.8 1.4 1.8 1.5 1.8 2 1.7 1.8 1.8 1.2 1.8 .8 1.7 1.5 1.8 2.9 1.8 3.9 1.7 3.6 1.8 2.3 1.8 1.1 1.8-.2 1.7-1.2 1.8-1.3"/>
<path d="M811.4 618.3l1.8-.9 1.7-.5 1.8 0 1.8 .5 1.8 .8 1.7 .9 1.8 .6 1.8 .3 1.7 0 1.8-.3 1.8-.4 1.7-.5 1.8-.8 1.8-1.1 1.8-1.7 1.7-2.3 1.8-2.5 1.8-2.4 1.7-2 1.8-1.4 1.8-.7 1.7-.3 1.8-.1 1.8 0 1.8 0 1.7 .2 1.8 .7 1.8 1.3 1.7 1.9 1.8 2.3 1.8 2.5 1.7 2.4 1.8 2 1.8 1.5 1.8 .6 1.7-.3 1.8-1.3 1.8-2.5 1.7-3.5 1.8-3.8 1.8-3.1 1.8-2 1.7-.7 1.8 .3 1.8 1 1.7 1.2 1.8 1.2 1.8 1.3 1.7 1.7 1.8 2.1 1.8 2.8 1.8 2.9 1.7 1.5 1.8 1 1.8 .5 1.7 .2 1.8 .3 1.8 .4 1.7 .6 1.8 .5 1.8 .1 1.8-.2 1.7-.7 1.8-.7 1.8-.6 1.7-.1 1.8 .4 1.8 .8 1.7 .9 1.8 .6 1.8 0 1.8-.6 1.7-1 1.8-1.2"/>
<path d="M811.4 617.5l1.8-.5 1.7-.6 1.8-1 1.8-.9 1.8-.7 1.7-.5 1.8-.1 1.8 .3 1.7 .5 1.8 .5 1.8 .5 1.7 .2 1.8 .1 1.8 .1 1.8 .3 1.7 .5 1.8 .9 1.8 1.1 1.7 1.2 1.8 1 1.8 .8 1.7 .3 1.8-.2 1.8-1 1.8-1.3 1.7-1.3 1.8-.8 1.8-.1 1.7 .7 1.8 1.2 1.8 1.3 1.7 1 1.8 .7 1.8 .3 1.8-.2 1.7-.5 1.8-.9 1.8-1 1.7-1 1.8-.8 1.8-.5 1.8 0 1.7 .6 1.8 1.2 1.8 1.4 1.7 1.3 1.8 1 1.8 .5 1.7-.1 1.8-.5 1.8-.8 1.8-1.1 1.7-1.3 1.8-1.6 1.8-2.1 1.7-3.1 1.8-2.7 1.8-1.9 1.7-.8 1.8 .1 1.8 .6 1.8 1 1.7 1.3 1.8 1.5 1.8 1.9 1.7 2.1 1.8 1.6 1.8 1 1.7 .3 1.8-.3 1.8-.7 1.8-.8 1.7-.6 1.8-.3"/>
<path d="M811.4 619.1l1.8 .2 1.7-.1 1.8-.2 1.8-.5 1.8-.7 1.7-.8 1.8-.8 1.8-.9 1.7-.7 1.8-.5 1.8-.4 1.7-.2 1.8-.1 1.8 0 1.8 0 1.7 .1 1.8 0 1.8 .1 1.7 .2 1.8 .1 1.8 .2 1.7 .2 1.8 .3 1.8 .4 1.8 .7 1.7 1.2 1.8 1.7 1.8 1.9 1.7 1.8 1.8 1.6 1.8 1 1.7 .4 1.8-.1 1.8-.7 1.8-1.1 1.7-1.4 1.8-1.6 1.8-1.6 1.7-1.5 1.8-1.3 1.8-1.2 1.8-.9 1.7-.4 1.8-.1 1.8 .1 1.7 .2 1.8 .3 1.8 .1 1.7 .1 1.8 0 1.8 .2 1.8 .3 1.7 .4 1.8 .5 1.8 .5 1.7 .5 1.8 .6 1.8 .7 1.7 .8 1.8 .6 1.8 .3 1.8-.1 1.7-.6 1.8-1 1.8-1.1 1.7-1.2 1.8-1 1.8-.6 1.7-.1 1.8 .1 1.8 .2 1.8 .4 1.7 .3 1.8 .4"/>
<path d="M811.4 613.2l1.8 1.1 1.7 .7 1.8 .5 1.8 .4 1.8 .4 1.7 .1 1.8 0 1.8-.3 1.7-.4 1.8-.6 1.8-.4 1.7-.3 1.8-.3 1.8-.2 1.8-.4 1.7-.5 1.8-.4 1.8-.3 1.7-.1 1.8 .1 1.8 .3 1.7 .8 1.8 1.1 1.8 1.5 1.8 1.9 1.7 2 1.8 1.9 1.8 1.7 1.7 1.3 1.8 .7 1.8 .3 1.7 0 1.8 .1 1.8 .4 1.8 .6 1.7 .6 1.8 0 1.8-.7 1.7-1.3 1.8-1.5 1.8-1.2 1.8-.9 1.7-.5 1.8-.5 1.8-.9 1.7-1.5 1.8-2 1.8-3.2 1.7-2.6 1.8-1.1 1.8 .5 1.8 1.9 1.7 2.4 1.8 2.2 1.8 1.1 1.7 .7 1.8 .4 1.8 0 1.7-.2 1.8-.3 1.8-.3 1.8-.2 1.7 0 1.8 .2 1.8 .2 1.7 .3 1.8 .1 1.8-.2 1.7-.5 1.8-.8 1.8-1 1.8-1.2 1.7-1 1.8-.7"/>
<path d="M811.4 620l1.8-1.4 1.7-1.4 1.8-1.2 1.8-.6 1.8 .1 1.7 .7 1.8 .9 1.8 1.1 1.7 1.3 1.8 1.3 1.8 1.1 1.7 1 1.8 1.1 1.8 1.3 1.8 1.4 1.7 1.2 1.8 .6 1.8-.3 1.7-1 1.8-1.3 1.8-1.2 1.7-.8 1.8-.4 1.8-.3 1.8-.4 1.7-.6 1.8-.9 1.8-1 1.7-.9 1.8-.4 1.8 .3 1.7 1.1 1.8 1.4 1.8 1.1 1.8 .4 1.7-.8 1.8-1.8 1.8-2.4 1.7-2.3 1.8-1.8 1.8-.3 1.8 1.3 1.7 1.8 1.8 1.1 1.8 .4 1.7-.7 1.8-1.7 1.8-3.6 1.7-3.5 1.8-2.7 1.8-1.7 1.8-.9 1.7-.2 1.8 .6 1.8 1.6 1.7 2.2 1.8 2.3 1.8 1.6 1.7 .6 1.8-.3 1.8-.7 1.8-.5 1.7 0 1.8 .5 1.8 .6 1.7 .8 1.8 .8 1.8 .8 1.7 .8 1.8 .8 1.8 .4 1.8 .2 1.7-.2 1.8-.4"/>
<path d="M811.4 615.4l1.8-.1 1.7-.2 1.8-.3 1.8-.4 1.8-.5 1.7-.6 1.8-.4 1.8-.2 1.7 0 1.8 .2 1.8 .3 1.7 .3 1.8 .1 1.8-.2 1.8-.4 1.7-.7 1.8-.7 1.8-.7 1.7-.5 1.8-.3 1.8 .1 1.7 .4 1.8 .6 1.8 .8 1.8 .9 1.7 1 1.8 1 1.8 1 1.7 1.2 1.8 1.2 1.8 1.3 1.7 1.1 1.8 1.1 1.8 .8 1.8 .5 1.7 .3 1.8-.1 1.8-.1 1.7-.4 1.8-.4 1.8-.4 1.8-.4 1.7-.3 1.8-.1 1.8 .2 1.7 .4 1.8 .6 1.8 .4 1.7 .2 1.8-.1 1.8-.7 1.8-1 1.7-1.2 1.8-1.2 1.8-.9 1.7-.5 1.8-.2 1.8 .3 1.7 .5 1.8 .6 1.8 .6 1.8 .4 1.7 .1 1.8-.2 1.8-.4 1.7-.5 1.8-.7 1.8-.5 1.7-.5 1.8-.3 1.8-.1 1.8 0 1.7 .1 1.8 .3"/>
<path d="M811.4 613.8l1.8-.4 1.7-.4 1.8-.4 1.8-.2 1.8-.1 1.7 .1 1.8 .5 1.8 .6 1.7 .7 1.8 .7 1.8 .6 1.7 .5 1.8 .5 1.8 .4 1.8 .4 1.7 .2 1.8 0 1.8-.4 1.7-.9 1.8-1 1.8-1.1 1.7-.8 1.8-.2 1.8 .3 1.8 1 1.7 1.2 1.8 1.3 1.8 1 1.7 .5 1.8-.1 1.8-.3 1.7-.3 1.8-.1 1.8 .3 1.8 .5 1.7 .6 1.8 .4 1.8 0 1.7-.4 1.8-.7 1.8-1 1.8-1.2 1.7-1.8 1.8-2.2 1.8-2.3 1.7-2.3 1.8-2.2 1.8-1.7 1.7-1.1 1.8-.6 1.8-.2 1.8 .2 1.7 .6 1.8 1 1.8 1.4 1.7 1.9 1.8 2.1 1.8 2 1.7 1.7 1.8 1 1.8 .5 1.8 .2 1.7-.1 1.8 0 1.8 .1 1.7 .3 1.8 .3 1.8 .3 1.7 .2 1.8 0 1.8-.1 1.8-.3 1.7-.4 1.8-.5"/>
<path d="M811.4 613.8l1.8 .2 1.7 .8 1.8 1.3 1.8 1.3 1.8 1.2 1.7 .8 1.8 .2 1.8-.4 1.7-.9 1.8-1.3 1.8-1.4 1.7-1.3 1.8-.8 1.8-.4 1.8 .2 1.7 .5 1.8 .7 1.8 .5 1.7 .3 1.8-.2 1.8-.6 1.7-.8 1.8-.8 1.8-.5 1.8 0 1.7 .8 1.8 1.5 1.8 2.2 1.7 2.8 1.8 2.7 1.8 2.3 1.7 1.7 1.8 .9 1.8 .1 1.8-.9 1.7-1.8 1.8-2.8 1.8-3.7 1.7-4.7 1.8-5.6 1.8-5.2 1.8-4.3 1.7-3 1.8-1.4 1.8 0 1.7 1.3 1.8 2.6 1.8 3.6 1.7 3.9 1.8 3.7 1.8 3.3 1.8 2.8 1.7 1.9 1.8 1.2 1.8 .9 1.7 .8 1.8 .4 1.8 0 1.7-.4 1.8-.9 1.8-1.2 1.8-1.3 1.7-1.5 1.8-.8 1.8 0 1.7 .6 1.8 1.1 1.8 .7 1.7 .4 1.8-.1 1.8-.3 1.8-.5 1.7-.5 1.8-.4"/>
<path d="M811.4 616.6l1.8 .4 1.7 .1 1.8-.5 1.8-1.2 1.8-1.5 1.7-1.1 1.8-.5 1.8 .2 1.7 .4 1.8 .4 1.8 .2 1.7 .2 1.8 .7 1.8 1.4 1.8 1.6 1.7 1.2 1.8 0 1.8-1.2 1.7-1.7 1.8-1 1.8 .2 1.7 1.6 1.8 2.9 1.8 2.8 1.8 1.6 1.7 .3 1.8-.7 1.8-1.2 1.7-1.1 1.8-.9 1.8-1.1 1.7-1.7 1.8-2.4 1.8-3.3 1.8-3.5 1.7-2.8 1.8-1.1 1.8 .7 1.7 2.3 1.8 3 1.8 2.5 1.8 .9 1.7-1.1 1.8-2.8 1.8-3.3 1.7-2.2 1.8-.3 1.8 1.9 1.7 4 1.8 4.9 1.8 3.2 1.8 1.9 1.7 .9 1.8 .3 1.8-.1 1.7-.4 1.8-.4 1.8-.4 1.7-.2 1.8 .3 1.8 .6 1.8 .6 1.7 .1 1.8-.8 1.8-1.4 1.7-1.7 1.8-1.5 1.8-1 1.7-.4 1.8-.1 1.8 .1 1.8 .3 1.7 .5 1.8 .7"/>
<path d="M811.4 613.1l1.8 .2 1.7 .4 1.8 .4 1.8 .2 1.8-.1 1.7-.3 1.8-.5 1.8-.5 1.7-.5 1.8-.5 1.8-.6 1.7-.7 1.8-.8 1.8-.7 1.8-.8 1.7-.4 1.8-.1 1.8 .4 1.7 .9 1.8 1.3 1.8 1.4 1.7 1.3 1.8 1.2 1.8 .7 1.8 .4 1.7 .2 1.8-.1 1.8-.2 1.7-.3 1.8-.1 1.8 .2 1.7 .8 1.8 .9 1.8 .9 1.8 .5 1.7 .3 1.8 .1 1.8 .1 1.7 0 1.8-.3 1.8-.9 1.8-1.4 1.7-2.5 1.8-2.4 1.8-1.5 1.7-.2 1.8 1.2 1.8 2.3 1.7 2.7 1.8 1.7 1.8 1 1.8 .5 1.7 .2 1.8-.2 1.8-.5 1.7-.8 1.8-.9 1.8-.9 1.7-.2 1.8 .9 1.8 1.4 1.8 1.9 1.7 1.7 1.8 1.2 1.8 .2 1.7-.8 1.8-1.8 1.8-2.4 1.7-2.5 1.8-2.2 1.8-1.3 1.8-.3 1.7 .3 1.8 .8"/>
<path d="M811.4 609.1l1.8-1.6 1.7-.6 1.8 .4 1.8 1.2 1.8 1.6 1.7 1.7 1.8 1.4 1.8 1 1.7 .6 1.8 .5 1.8 .4 1.7 .2 1.8 0 1.8-.4 1.8-.9 1.7-1.3 1.8-1.5 1.8-1.1 1.7-.7 1.8-.2 1.8 .3 1.7 .4 1.8 .4 1.8 .3 1.8 .2 1.7 .4 1.8 .5 1.8 .6 1.7 .6 1.8 .7 1.8 .6 1.7 .8 1.8 1.1 1.8 1.3 1.8 1.4 1.7 1.2 1.8 .7 1.8-.1 1.7-.7 1.8-1.1 1.8-1.4 1.8-1.5 1.7-2.1 1.8-1.8 1.8-1.3 1.7-.6 1.8-.3 1.8-.4 1.7-1.2 1.8-1.8 1.8-1.9 1.8-1.2 1.7 .4 1.8 2.1 1.8 3.3 1.7 3.8 1.8 3 1.8 1 1.7 .2 1.8-.4 1.8-.7 1.8-.7 1.7-.5 1.8-.2 1.8-.4 1.7-.7 1.8-1.1 1.8-1.4 1.7-1.4 1.8-1.3 1.8-.8 1.8-.4 1.7-.1 1.8 .2"/>
<path d="M811.4 617.2l1.8-.6 1.7-1 1.8-1.2 1.8-.8 1.8-.1 1.7 .3 1.8 .7 1.8 .8 1.7 .9 1.8 .8 1.8 .7 1.7 .6 1.8 .4 1.8 .5 1.8 .5 1.7 .3 1.8-.5 1.8-1.7 1.7-2.7 1.8-3 1.8-2.2 1.7-.7 1.8 1.1 1.8 2.6 1.8 3.1 1.7 3.1 1.8 1.8 1.8-.2 1.7-2.3 1.8-3.5 1.8-3.8 1.7-3 1.8-1.3 1.8 .7 1.8 2.5 1.7 3.2 1.8 2.6 1.8 1 1.7-.6 1.8-1.7 1.8-1.8 1.8-1.1 1.7-.2 1.8 .1 1.8-.6 1.7-1.6 1.8-2.3 1.8-2 1.7-.8 1.8 1 1.8 2.7 1.8 3.3 1.7 2.3 1.8 0 1.8-2.6 1.7-4 1.8-3.7 1.8-1.9 1.7 .7 1.8 3.5 1.8 5.6 1.8 6.2 1.7 4.3 1.8 3.4 1.8 2.2 1.7 1.2 1.8 .3 1.8-.4 1.7-.8 1.8-1 1.8-1.1 1.8-.9 1.7-.8 1.8-.6"/>
<path d="M811.4 609l1.8 .5 1.7 .7 1.8 .7 1.8 .5 1.8 .4 1.7 .3 1.8 .2 1.8 .2 1.7 .2 1.8 0 1.8-.1 1.7-.4 1.8-.7 1.8-.8 1.8-.8 1.7-.8 1.8-.4 1.8 0 1.7 .4 1.8 .8 1.8 1.1 1.7 1.3 1.8 1.2 1.8 .9 1.8 .7 1.7 .2 1.8-.1 1.8-.2 1.7 0 1.8 .5 1.8 1.1 1.7 1.6 1.8 1.5 1.8 .9 1.8 .1 1.7-1 1.8-1.8 1.8-2.4 1.7-3.1 1.8-2.9 1.8-2.4 1.8-1.3 1.7-.4 1.8 .5 1.8 1 1.7 1.1 1.8 1.1 1.8 .8 1.7 .8 1.8 .9 1.8 1.3 1.8 1.6 1.7 1.8 1.8 1 1.8 .8 1.7 .5 1.8 .2 1.8-.1 1.7-.2 1.8-.2 1.8-.1 1.8 .1 1.7 .3 1.8 .5 1.8 .6 1.7 .5 1.8 .2 1.8-.3 1.7-.8 1.8-1.2 1.8-1.3 1.8-1.6 1.7-1.3 1.8-.9"/>
<path d="M811.4 614.4l1.8-1.3 1.7-1 1.8-.6 1.8-.2 1.8 .3 1.7 .8 1.8 1.2 1.8 1.4 1.7 1.5 1.8 1.4 1.8 1.3 1.7 1.2 1.8 .8 1.8 .7 1.8 .2 1.7-.2 1.8-.7 1.8-.9 1.7-.9 1.8-.5 1.8 0 1.7 .4 1.8 .4 1.8 .1 1.8-.7 1.7-1.4 1.8-1.8 1.8-1.9 1.7-1.8 1.8-1.4 1.8-.9 1.7-.5 1.8 .1 1.8 .3 1.8 .6 1.7 .6 1.8 .5 1.8 .4 1.7 .6 1.8 1.2 1.8 1.9 1.8 2.1 1.7 1.9 1.8 1.6 1.8 .9 1.7-.1 1.8-1 1.8-2 1.7-2.5 1.8-4.4 1.8-4 1.8-2.5 1.7-.9 1.8 .8 1.8 2.1 1.7 2.8 1.8 3 1.8 2.2 1.7 1.1 1.8 0 1.8-.6 1.8-1.3 1.7-1.1 1.8-.6 1.8 .1 1.7 .5 1.8 .5 1.8 .2 1.7-.2 1.8-.3 1.8-.3 1.8-.1 1.7 0 1.8 0"/>
<path d="M811.4 607.1l1.8 4.6 1.7 3.1 1.8 1 1.8-.9 1.8-2.3 1.7-2.8 1.8-2.5 1.8-1.6 1.7-.6 1.8 .2 1.8 .6 1.7 .9 1.8 .9 1.8 .8 1.8 .6 1.7 0 1.8-.8 1.8-1.3 1.7-1.4 1.8-1 1.8-.2 1.7 .6 1.8 1.3 1.8 1.6 1.8 1.6 1.7 1.5 1.8 1.4 1.8 1.4 1.7 1.6 1.8 1.8 1.8 2.1 1.7 2.1 1.8 2.1 1.8 1.7 1.8 1.2 1.7 .9 1.8 1 1.8 1.3 1.7 1.9 1.8 2.4 1.8 2.6 1.8 2.4 1.7 1.6 1.8 .8 1.8-.4 1.7-1.8 1.8-3.2 1.8-4.7 1.7-5.5 1.8-5.6 1.8-5.8 1.8-6.6 1.7-4.2 1.8-1.6 1.8 1 1.7 4 1.8 6.6 1.8 6.3 1.7 5.2 1.8 4.3 1.8 2.7 1.8 1.2 1.7-.4 1.8-2 1.8-3.3 1.7-4.3 1.8-4.4 1.8-3.8 1.7-2.6 1.8-.3 1.8 1.6 1.8 3.1 1.7 3.3 1.8 3.4"/>
<path d="M811.4 618.3l1.8-.2 1.7-.7 1.8-.9 1.8-.8 1.8-.3 1.7 .8 1.8 1.7 1.8 2.4 1.7 2.6 1.8 1.9 1.8 .8 1.7-.6 1.8-1.6 1.8-2.2 1.8-2.1 1.7-1.8 1.8-1.4 1.8-1.2 1.7-1 1.8-.6 1.8 .1 1.7 .9 1.8 1.7 1.8 2.2 1.8 1.8 1.7 .7 1.8-.7 1.8-1.9 1.7-2.7 1.8-2.8 1.8-2.9 1.7-2.8 1.8-2.9 1.8-2.5 1.8-1.9 1.7-.6 1.8 1 1.8 2.9 1.7 4.7 1.8 5.4 1.8 4.3 1.8 1.8 1.7 .3 1.8-1.3 1.8-2.8 1.7-4.9 1.8-5.1 1.8-4.3 1.7-3.1 1.8-1.9 1.8-.7 1.8 .3 1.7 1.5 1.8 2.5 1.8 3.5 1.7 4.4 1.8 4.6 1.8 4.5 1.7 2.3 1.8 1.7 1.8 .7 1.8-.4 1.7-1.3 1.8-1.9 1.8-2.1 1.7-1.8 1.8-.8 1.8-.2 1.7 0 1.8-.1 1.8-.2 1.8 0 1.7 .4 1.8 .9"/>
<path d="M811.4 616.1l1.8 .3 1.7 .1 1.8-.1 1.8-.2 1.8-.3 1.7-.2 1.8 .1 1.8 .6 1.7 1 1.8 1.2 1.8 1.4 1.7 1.3 1.8 1 1.8 .5 1.8 0 1.7-.5 1.8-1.1 1.8-1.6 1.7-2 1.8-1.9 1.8-1.5 1.7-1.2 1.8-.8 1.8-.4 1.8-.1 1.7-.1 1.8 0 1.8-.3 1.7-.4 1.8-.5 1.8-.4 1.7-.3 1.8-.1 1.8 .1 1.8 .3 1.7 .4 1.8 .5 1.8 .6 1.7 .9 1.8 1.1 1.8 1.1 1.8 .9 1.7 .6 1.8 .2 1.8 0 1.7 0 1.8 .1 1.8 .3 1.7 .4 1.8 .5 1.8 .5 1.8 .4 1.7 .2 1.8-.1 1.8-.1 1.7-.3 1.8-.2 1.8-.2 1.7-.1 1.8-.1 1.8-.1 1.8-.2 1.7-.3 1.8-.5 1.8-.8 1.7-.9 1.8-.8 1.8-.5 1.7-.3 1.8-.1 1.8 0 1.8 .1 1.7 .1 1.8 .1"/>
<path d="M811.4 617.3l1.8-.5 1.7-.3 1.8 .1 1.8 .4 1.8 .8 1.7 .9 1.8 .9 1.8 .9 1.7 .5 1.8 .3 1.8-.1 1.7-.4 1.8-.7 1.8-.8 1.8-.8 1.7-.7 1.8-.4 1.8-.2 1.7 0 1.8 0 1.8 0 1.7 .1 1.8 .3 1.8 .5 1.8 .6 1.7 .8 1.8 .8 1.8 .6 1.7 .3 1.8-.1 1.8-.4 1.7-1 1.8-1.4 1.8-2 1.8-2.7 1.7-3.1 1.8-3.1 1.8-2.7 1.7-2 1.8-1 1.8 .1 1.8 1.1 1.7 2.2 1.8 3 1.8 3.6 1.7 3.4 1.8 2 1.8 .8 1.7 .1 1.8-.6 1.8-.8 1.8-1.4 1.7-1.1 1.8-.6 1.8 0 1.7 .5 1.8 .7 1.8 .7 1.7 .6 1.8 .3 1.8 0 1.8-.2 1.7-.4 1.8-.4 1.8-.4 1.7-.5 1.8-.6 1.8-.6 1.7-.6 1.8-.5 1.8-.3 1.8-.2 1.7 0 1.8 .1"/>
<path d="M811.4 620.9l1.8 .5 1.7 .2 1.8-.3 1.8-.7 1.8-1.3 1.7-1.8 1.8-2.1 1.8-2.5 1.7-2.3 1.8-2 1.8-1.5 1.7-.8 1.8-.3 1.8 .3 1.8 .9 1.7 1.3 1.8 1.7 1.8 1.8 1.7 1.7 1.8 1.4 1.8 1 1.7 .8 1.8 .7 1.8 .6 1.8 .3 1.7 .1 1.8-.6 1.8-1.2 1.7-1.6 1.8-1.8 1.8-1.5 1.7-.9 1.8-.2 1.8 .5 1.8 .6 1.7 .2 1.8-.7 1.8-1.6 1.7-2.2 1.8-2.3 1.8-1.7 1.8-1.1 1.7-.4 1.8 .4 1.8 1.1 1.7 1.9 1.8 2.6 1.8 2.6 1.7 1.8 1.8 .3 1.8-1.4 1.8-2.8 1.7-3.2 1.8-2.7 1.8-1.5 1.7-.4 1.8 .9 1.8 1.6 1.7 2.1 1.8 2.1 1.8 1.9 1.8 1.4 1.7 1.2 1.8 1 1.8 .8 1.7 .7 1.8 .5 1.8 .3 1.7 .4 1.8 .4 1.8 .6 1.8 .5 1.7 .4 1.8 .1"/>
<path d="M811.4 615.6l1.8 1.1 1.7 1.2 1.8 1.3 1.8 1 1.8 .6 1.7 .1 1.8-.2 1.8-.4 1.7-.4 1.8-.4 1.8-.3 1.7-.4 1.8-.5 1.8-.7 1.8-.8 1.7-.8 1.8-.6 1.8-.4 1.7-.1 1.8 0 1.8 .1 1.7 .3 1.8 .3 1.8 .1 1.8-.1 1.7-.5 1.8-1.1 1.8-1.4 1.7-1.8 1.8-1.8 1.8-1.4 1.7-.6 1.8 .1 1.8 .9 1.8 1 1.7 .8 1.8 .1 1.8-.8 1.7-1.4 1.8-1.4 1.8-.8 1.8-.2 1.7 .6 1.8 1 1.8 1 1.7 .7 1.8 .7 1.8 .9 1.7 1.2 1.8 1.5 1.8 1.3 1.8 .5 1.7 0 1.8-.2 1.8 0 1.7 .5 1.8 1 1.8 .9 1.7 .7 1.8 .7 1.8 .7 1.8 .5 1.7 .4 1.8 .1 1.8-.3 1.7-.6 1.8-.9 1.8-1 1.7-.9 1.8-.9 1.8-.8 1.8-.5 1.7-.5 1.8-.2"/>
<path d="M811.4 614.3l1.8-1.1 1.7-.7 1.8-.2 1.8 .5 1.8 .8 1.7 .6 1.8 .3 1.8-.2 1.7-.6 1.8-.7 1.8-.5 1.7-.4 1.8-.3 1.8-.3 1.8-.4 1.7-.2 1.8 .1 1.8 .7 1.7 1.2 1.8 1.3 1.8 .9 1.7 .2 1.8-.5 1.8-.5 1.8 0 1.7 1.2 1.8 2.3 1.8 2.7 1.7 2.1 1.8 .7 1.8-.6 1.7-1.5 1.8-1.9 1.8-1.5 1.8-.9 1.7-.2 1.8 .4 1.8 .7 1.7 .5 1.8 .3 1.8 .1 1.8 0 1.7 .4 1.8 .8 1.8 1.1 1.7 1.1 1.8 .7 1.8 .1 1.7-.6 1.8-1.2 1.8-1.5 1.8-1.5 1.7-1 1.8-.5 1.8 .1 1.7 .4 1.8 .6 1.8 .6 1.7 .4 1.8 .3 1.8 0 1.8-.4 1.7-.8 1.8-1.1 1.8-1.3 1.7-1.1 1.8-.3 1.8 .4 1.7 .9 1.8 1.1 1.8 .7 1.8 0 1.7-.6 1.8-1.4"/>
<path d="M811.4 618.1l1.8 .8 1.7 .1 1.8-.7 1.8-1.4 1.8-1.9 1.7-2 1.8-1.3 1.8-.5 1.7 .1 1.8 .3 1.8-.2 1.7-.6 1.8-.8 1.8-.2 1.8 .5 1.7 1 1.8 .6 1.8-.1 1.7-1 1.8-1.4 1.8-1.3 1.7-.7 1.8 .1 1.8 .9 1.8 1.3 1.7 1.5 1.8 1.5 1.8 1.6 1.7 1.7 1.8 2.3 1.8 2.3 1.7 2 1.8 .9 1.8 0 1.8-.4 1.7-.3 1.8 .1 1.8-.1 1.7-.9 1.8-2.3 1.8-3 1.8-4.2 1.7-3.2 1.8-1.8 1.8-.9 1.7-.6 1.8-.3 1.8 .7 1.7 2.5 1.8 4.7 1.8 4.7 1.8 3.5 1.7 2.6 1.8 1.4 1.8 .1 1.7-.8 1.8-1.6 1.8-1.9 1.7-2.2 1.8-1.9 1.8-2 1.8-1.7 1.7-1 1.8-.2 1.8 .2 1.7 .2 1.8-.1 1.8-.5 1.7-.7 1.8-.2 1.8 .4 1.8 1 1.7 1.4 1.8 1.4"/>
<path d="M811.4 620.7l1.8-.7 1.7-.6 1.8-.4 1.8 .1 1.8 .5 1.7 .6 1.8 .5 1.8 .1 1.7-.3 1.8-.7 1.8-1.1 1.7-1.6 1.8-1.9 1.8-1.9 1.8-1.6 1.7-1.2 1.8-.3 1.8 .6 1.7 1.5 1.8 2 1.8 2.2 1.7 2.6 1.8 2.1 1.8 1.8 1.8 1.5 1.7 1.1 1.8 .6 1.8 0 1.7-.8 1.8-1.7 1.8-2.5 1.7-2.5 1.8-2.4 1.8-1.8 1.8-.9 1.7-.3 1.8 .4 1.8 .7 1.7 .8 1.8 1.1 1.8 1.2 1.8 1.4 1.7 1.8 1.8 2 1.8 2 1.7 1.6 1.8 1 1.8 .2 1.7-.7 1.8-1.7 1.8-2.2 1.8-2.6 1.7-2.7 1.8-2.8 1.8-2.7 1.7-1.6 1.8-.7 1.8 0 1.7 .5 1.8 1 1.8 1.1 1.8 1.2 1.7 1.3 1.8 .9 1.8 .7 1.7 .4 1.8 .2 1.8 0 1.7-.1 1.8-.3 1.8-.3 1.8-.5 1.7-.3 1.8-.1"/>
<path d="M811.4 614.4l1.8-.6 1.7-.3 1.8 .2 1.8 .8 1.8 .9 1.7 .4 1.8-.1 1.8-.4 1.7-.4 1.8-.1 1.8 .3 1.7 .2 1.8 .1 1.8-.2 1.8-.3 1.7-.2 1.8 .2 1.8 .5 1.7 .7 1.8 .7 1.8 .5 1.7 .4 1.8 .4 1.8 .4 1.8 .1 1.7-.7 1.8-1.9 1.8-2.4 1.7-2.7 1.8-2.1 1.8-.7 1.7 .8 1.8 1.8 1.8 1.9 1.8 .8 1.7-.8 1.8-1.9 1.8-1.6 1.7 .1 1.8 2.5 1.8 4 1.8 3.2 1.7 2.2 1.8 1.3 1.8 .5 1.7 .2 1.8 0 1.8 0 1.7 0 1.8-.2 1.8-.2 1.8-.4 1.7-.6 1.8-.7 1.8-.8 1.7-.5 1.8-.1 1.8 .5 1.7 .8 1.8 .9 1.8 .7 1.8 .5 1.7 .2 1.8-.3 1.8-.6 1.7-1.1 1.8-1.2 1.8-1.3 1.7-1.2 1.8-.8 1.8-.4 1.8-.2 1.7-.2 1.8-.1"/>
<path d="M811.4 622.3l1.8 1 1.7 .5 1.8 .1 1.8-.2 1.8-.3 1.7-.7 1.8-1 1.8-1.3 1.7-1.6 1.8-1.7 1.8-1.6 1.7-1.4 1.8-.9 1.8-.8 1.8-.7 1.7-.6 1.8-.6 1.8-.5 1.7-.3 1.8-.1 1.8 .2 1.7 .7 1.8 1.3 1.8 1.8 1.8 2.2 1.7 2.8 1.8 3.1 1.8 3.1 1.7 3.1 1.8 3 1.8 2.6 1.7 1.9 1.8 1 1.8-.1 1.8-.9 1.7-1.5 1.8-1.9 1.8-2.1 1.7-2.4 1.8-2.9 1.8-3.5 1.8-3.7 1.7-4.4 1.8-3.7 1.8-1.5 1.7 .7 1.8 2.4 1.8 3.3 1.7 2.5 1.8 .8 1.8 0 1.8-.7 1.7-1.6 1.8-1.9 1.8-1.4 1.7-.8 1.8-.3 1.8 .2 1.7 .5 1.8 .5 1.8 .5 1.8 .6 1.7 .6 1.8 .8 1.8 .9 1.7 .9 1.8 .6 1.8 .3 1.7 0 1.8-.2 1.8-.4 1.8-.3 1.7-.2 1.8 0"/>
<path d="M811.4 621.8l1.8-1 1.7-.6 1.8-.3 1.8 .1 1.8 .2 1.7 .2 1.8 .1 1.8-.2 1.7-.6 1.8-1 1.8-1.4 1.7-1.4 1.8-.9 1.8-.2 1.8 .5 1.7 1 1.8 1 1.8 .5 1.7-.4 1.8-1.4 1.8-1.8 1.7-2.2 1.8-2.2 1.8-1.9 1.8-1.4 1.7-.5 1.8 .6 1.8 1.8 1.7 2.9 1.8 3.2 1.8 3 1.7 1.8 1.8 .5 1.8-.7 1.8-1.3 1.7-1.4 1.8-1.8 1.8-2 1.7-2.6 1.8-3 1.8-2.8 1.8-1.7 1.7-.1 1.8 1.7 1.8 2.8 1.7 3.2 1.8 2.5 1.8 1.2 1.7-.1 1.8-1.2 1.8-1.6 1.8-1.6 1.7-1.1 1.8-.4 1.8 .3 1.7 1 1.8 1.6 1.8 2.1 1.7 2.4 1.8 2 1.8 1.4 1.8 1.2 1.7 .7 1.8 0 1.8-.8 1.7-1.2 1.8-1.3 1.8-1.3 1.7-1.1 1.8-.8 1.8-.8 1.8-1 1.7-1.3 1.8-1.3"/>
<path d="M811.4 611.8l1.8-.5 1.7 0 1.8 .8 1.8 1.5 1.8 1.9 1.7 1.6 1.8 .8 1.8 .2 1.7 .1 1.8 .7 1.8 1.6 1.7 2.3 1.8 1.9 1.8 .5 1.8-1.3 1.7-3 1.8-4.1 1.8-3.6 1.7-2.6 1.8-1.7 1.8-.9 1.7-.3 1.8 .4 1.8 1.1 1.8 1.6 1.7 1.4 1.8 .7 1.8-.7 1.7-1.6 1.8-2.1 1.8-1.6 1.7-.8 1.8 .2 1.8 1.2 1.8 2 1.7 2.7 1.8 3.1 1.8 2.7 1.7 2 1.8 1 1.8-.3 1.8-1.5 1.7-2.4 1.8-3.9 1.8-3.5 1.7-1.8 1.8 .9 1.8 3.9 1.7 5.2 1.8 3.8 1.8 3.2 1.8 1.9 1.7 .8 1.8 0 1.8-.5 1.7-.7 1.8-.8 1.8-.7 1.7-.5 1.8-.7 1.8-1.1 1.8-1.5 1.7-2.1 1.8-2.2 1.8-2.9 1.7-2.4 1.8-1.5 1.8-.3 1.7 1 1.8 1.9 1.8 1.8 1.8 1.2 1.7 .5 1.8 .2"/>
<path d="M811.4 599l1.8 1.6 1.7 3.1 1.8 3.8 1.8 3.9 1.8 3.6 1.7 3.2 1.8 3.2 1.8 3.3 1.7 2.7 1.8 1.1 1.8-1.4 1.7-4.8 1.8-7.7 1.8-8.6 1.8-7 1.7-4.3 1.8-2 1.8-.3 1.7 .9 1.8 1.6 1.8 2.1 1.7 2.1 1.8 1.9 1.8 1.7 1.8 1.8 1.7 2.3 1.8 3.3 1.8 4.2 1.7 4.5 1.8 3.5 1.8 1.3 1.7-.9 1.8-3.3 1.8-5.3 1.8-7 1.7-7.4 1.8-5.9 1.8-4.1 1.7-2.4 1.8-1.5 1.8-1.1 1.8-.6 1.7 0 1.8 1.1 1.8 3.1 1.7 5.7 1.8 7.4 1.8 5.5 1.7 .6 1.8-3.7 1.8-5.1 1.8-3.8 1.7-1.7 1.8 .2 1.8 1.4 1.7 2 1.8 2.7 1.8 3.8 1.7 5.3 1.8 6.1 1.8 4.1 1.8 2.3 1.7 .8 1.8-.3 1.8-.6 1.7-.9 1.8-1.3 1.8-2.2 1.7-3.9 1.8-4.1 1.8-2.9 1.8-.7 1.7 1.8 1.8 4.1"/>
<path d="M811.4 615.1l1.8 .9 1.7 1 1.8 .6 1.8 .1 1.8-.5 1.7-.9 1.8-1.1 1.8-.9 1.7-.5 1.8-.2 1.8 0 1.7 .1 1.8 .3 1.8 .4 1.8 .6 1.7 .7 1.8 .4 1.8 0 1.7-.4 1.8-.8 1.8-.8 1.7-.5 1.8-.2 1.8 .2 1.8 .6 1.7 .8 1.8 .8 1.8 .6 1.7 .2 1.8-.2 1.8-.4 1.7-.2 1.8 .4 1.8 1.1 1.8 1.7 1.7 1.7 1.8 1.2 1.8 .3 1.7-.7 1.8-1.2 1.8-1.3 1.8-1 1.7-.6 1.8-.3 1.8-.3 1.7-.4 1.8-.8 1.8-.9 1.7-.6 1.8 0 1.8 .6 1.8 .9 1.7 .8 1.8 .3 1.8 .1 1.7 .1 1.8 .2 1.8 .7 1.7 1.1 1.8 1.4 1.8 1.3 1.8 .8 1.7-.1 1.8-.9 1.8-1.5 1.7-1.6 1.8-1.4 1.8-1 1.7-.6 1.8-.4 1.8-.6 1.8-.8 1.7-1 1.8-.8"/>
<path d="M811.4 619.9l1.8 .6 1.7 .3 1.8-.2 1.8-.7 1.8-1.1 1.7-1 1.8-.6 1.8-.3 1.7-.1 1.8-.4 1.8-.5 1.7-.6 1.8-.5 1.8-.2 1.8-.1 1.7-.3 1.8-.7 1.8-1.2 1.7-1.3 1.8-.9 1.8-.1 1.7 1.1 1.8 2 1.8 2.8 1.8 3.2 1.7 2.6 1.8 1.6 1.8 .2 1.7-1 1.8-2.1 1.8-2.7 1.7-2.6 1.8-1.9 1.8-.8 1.8 .3 1.7 1.3 1.8 2 1.8 1.8 1.7 1.2 1.8 .3 1.8-.8 1.8-1.8 1.7-2.5 1.8-1.8 1.8 .1 1.7 2.1 1.8 2.5 1.8 1.5 1.7 .5 1.8-.5 1.8-1.1 1.8-1 1.7-.5 1.8 .6 1.8 .9 1.7 .8 1.8 0 1.8-.7 1.7-1.5 1.8-2.8 1.8-2.7 1.8-2.2 1.7-1.4 1.8-.4 1.8 .4 1.7 1 1.8 .9 1.8 .5 1.7 0 1.8-.5 1.8-.4 1.8-.3 1.7 .1 1.8 .5"/>
<path d="M811.4 619l1.8 .8 1.7 .6 1.8 .4 1.8 0 1.8-.4 1.7-.6 1.8-.8 1.8-1 1.7-1.2 1.8-1.1 1.8-.8 1.7-.4 1.8 .1 1.8 .5 1.8 .8 1.7 .7 1.8 .5 1.8 .3 1.7 .2 1.8 .4 1.8 1.1 1.7 1.7 1.8 2 1.8 1.8 1.8 .9 1.7-.4 1.8-1.6 1.8-2.6 1.7-3 1.8-2.5 1.8-1.6 1.7-.8 1.8 0 1.8 .4 1.8 .4 1.7 .3 1.8 0 1.8-.2 1.7-.1 1.8 .4 1.8 1.1 1.8 1.5 1.7 1.2 1.8 1.1 1.8 .6 1.7-.1 1.8-.5 1.8-.9 1.7-1 1.8-1.1 1.8-1.7 1.8-1.7 1.7-1.4 1.8-.8 1.8-.1 1.7 .8 1.8 1.6 1.8 1.9 1.7 1.8 1.8 1.1 1.8 .8 1.8 .5 1.7 .1 1.8-.3 1.8-.6 1.7-.9 1.8-.9 1.8-1 1.7-.9 1.8-.8 1.8-.7 1.8-.8 1.7-.9 1.8-1"/>
<path d="M811.4 615l1.8-1.1 1.7-.7 1.8-.3 1.8 .1 1.8 .6 1.7 .9 1.8 1.2 1.8 1.2 1.7 1 1.8 .7 1.8 .4 1.7 0 1.8-.2 1.8-.3 1.8-.2 1.7 .1 1.8 .3 1.8 .6 1.7 .5 1.8 .6 1.8 .4 1.7 .4 1.8 .3 1.8 .1 1.8-.1 1.7-.5 1.8-.9 1.8-1.2 1.7-1.7 1.8-1.9 1.8-1.9 1.7-1.8 1.8-1.5 1.8-1 1.8-.5 1.7-.2 1.8-.1 1.8 .1 1.7 .4 1.8 1.2 1.8 2 1.8 2.8 1.7 2.4 1.8 1.3 1.8 .6 1.7 0 1.8-.6 1.8-.9 1.7-1 1.8-1.4 1.8-1.6 1.8-1.2 1.7-.6 1.8 0 1.8 .7 1.7 1.1 1.8 1.3 1.8 1.1 1.7 .6 1.8 .2 1.8-.2 1.8-.5 1.7-1 1.8-1 1.8-1.2 1.7-1.2 1.8-1.1 1.8-.9 1.7-.8 1.8-.4 1.8-.1 1.8 .3 1.7 .7 1.8 1.1"/>
<path d="M811.4 614.8l1.8 .6 1.7 .8 1.8 .8 1.8 .9 1.8 .7 1.7 .5 1.8 0 1.8-.4 1.7-.9 1.8-1.3 1.8-1.4 1.7-1.4 1.8-1.2 1.8-.9 1.8-.5 1.7-.1 1.8 .5 1.8 .9 1.7 1.2 1.8 1.3 1.8 1.2 1.7 1.4 1.8 1.1 1.8 .8 1.8 .5 1.7 .2 1.8-.1 1.8-.6 1.7-.8 1.8-1.1 1.8-1.3 1.7-1.5 1.8-1.6 1.8-1.5 1.8-1.3 1.7-.8 1.8-.1 1.8 .7 1.7 1.3 1.8 1.4 1.8 1.1 1.8 .4 1.7-.3 1.8-.9 1.8-1.1 1.7-.9 1.8-.5 1.8 0 1.7 .4 1.8 .3 1.8 .1 1.8-.4 1.7-.9 1.8-1 1.8-.8 1.7-.3 1.8 .5 1.8 1.3 1.7 1.9 1.8 2.3 1.8 2.3 1.8 1.4 1.7 1 1.8 .6 1.8 .1 1.7-.4 1.8-.7 1.8-.8 1.7-.8 1.8-.7 1.8-.5 1.8-.3 1.7-.2 1.8 0"/>
<path d="M811.4 624l1.8-.7 1.7-1.8 1.8-2 1.8-1.5 1.8-.9 1.7-.1 1.8 .6 1.8 1.1 1.7 1.3 1.8 .9 1.8-.1 1.7-1.7 1.8-3.3 1.8-4.1 1.8-4.1 1.7-3.5 1.8-2.1 1.8-.2 1.7 2.1 1.8 4.1 1.8 4.3 1.7 2.2 1.8-1.4 1.8-3.9 1.8-4.3 1.7-2.4 1.8 .6 1.8 3.6 1.7 5.5 1.8 4.8 1.8 2.2 1.7-.4 1.8-1.3 1.8-1 1.8-.5 1.7 .3 1.8 1.6 1.8 3.3 1.7 4.3 1.8 3 1.8 .2 1.8-2.8 1.7-4.7 1.8-4.1 1.8-1.9 1.7 1.6 1.8 2.3 1.8 1.3 1.7-.7 1.8-2.1 1.8-2.5 1.8-1.8 1.7-.9 1.8-1.7 1.8-3.1 1.7-3.4 1.8-2.2 1.8 .1 1.7 2.5 1.8 4.1 1.8 4.7 1.8 3.9 1.7 2.7 1.8 2.4 1.8 2 1.7 1.5 1.8 .7 1.8-.4 1.7-1.5 1.8-1.9 1.8-1.5 1.8-.9 1.7-.2 1.8-.5"/>
<path d="M811.4 618.4l1.8 .2 1.7 0 1.8-.3 1.8-.4 1.8-.6 1.7-.6 1.8-.8 1.8-.7 1.7-.6 1.8-.5 1.8-.3 1.7 0 1.8 .2 1.8 .3 1.8 .1 1.7-.3 1.8-.8 1.8-1.1 1.7-.9 1.8-.3 1.8 .8 1.7 1.6 1.8 2 1.8 1.8 1.8 1 1.7 0 1.8-.6 1.8-.6 1.7-.1 1.8 .2 1.8 .3 1.7 0 1.8-.7 1.8-1 1.8-1.1 1.7-.8 1.8-.2 1.8 .5 1.7 .8 1.8 1.1 1.8 .9 1.8 .7 1.7 .6 1.8 .6 1.8 .4 1.7 .5 1.8 .6 1.8 .7 1.7 .6 1.8 .5 1.8-.1 1.8-.8 1.7-1.4 1.8-1.6 1.8-1.5 1.7-1.5 1.8-1 1.8-.5 1.7-.4 1.8-.6 1.8-.6 1.8-.7 1.7-.5 1.8-.3 1.8 .1 1.7 .4 1.8 .8 1.8 1.1 1.7 1.1 1.8 .9 1.8 .7 1.8 .5 1.7 .5 1.8 .4"/>
<path d="M811.4 618.1l1.8 .3 1.7 .3 1.8 .2 1.8 .2 1.8-.1 1.7-.2 1.8-.5 1.8-.7 1.7-.8 1.8-.8 1.8-.8 1.7-.7 1.8-.6 1.8-.1 1.8 .4 1.7 1.2 1.8 1.6 1.8 1.8 1.7 1.2 1.8 .3 1.8-.5 1.7-1.1 1.8-1.6 1.8-1.6 1.8-1.4 1.7-1.4 1.8-1 1.8-.2 1.7 .7 1.8 2.1 1.8 3.1 1.7 3.2 1.8 1.8 1.8-.3 1.8-2.2 1.7-2.9 1.8-2.7 1.8-1.2 1.7 .6 1.8 1.7 1.8 1.4 1.8 .6 1.7-.1 1.8-.3 1.8 0 1.7 .4 1.8 .7 1.8 .8 1.7 .4 1.8 .1 1.8-.3 1.8-.3 1.7-.2 1.8 .2 1.8 .5 1.7 .9 1.8 1 1.8 1 1.7 .7 1.8 .2 1.8-.5 1.8-1.1 1.7-1.3 1.8-1.2 1.8-.8 1.7-.6 1.8-.3 1.8-.2 1.7-.2 1.8-.3 1.8-.3 1.8-.6 1.7-.9 1.8-.8"/>
<path d="M811.4 616.6l1.8 0 1.7 0 1.8 0 1.8-.1 1.8-.1 1.7-.3 1.8-.4 1.8-.3 1.7-.1 1.8 .2 1.8 .5 1.7 .9 1.8 .9 1.8 .8 1.8 .6 1.7 .2 1.8-.1 1.8-.4 1.7-.6 1.8-.7 1.8-.9 1.7-1 1.8-1.2 1.8-1.4 1.8-1.4 1.7-1.3 1.8-1 1.8-.5 1.7-.1 1.8 .1 1.8 .4 1.7 .6 1.8 .9 1.8 1.3 1.8 1.5 1.7 1.5 1.8 1 1.8 .2 1.7-.8 1.8-1.6 1.8-1.8 1.8-1.4 1.7-.5 1.8 .5 1.8 1.5 1.7 2 1.8 2 1.8 1.1 1.7 .7 1.8 .6 1.8 .4 1.8 .1 1.7-.3 1.8-.9 1.8-1.6 1.7-3.5 1.8-3.3 1.8-2.5 1.7-1.3 1.8-.1 1.8 .9 1.8 1.5 1.7 1.9 1.8 1.8 1.8 1.6 1.7 1.4 1.8 1.3 1.8 .9 1.7 .8 1.8 .6 1.8 .4 1.8 0 1.7-.2 1.8-.3"/>
<path d="M811.4 616.6l1.8-.7 1.7-.6 1.8-.2 1.8 0 1.8-.1 1.7 0 1.8-.2 1.8-.1 1.7-.1 1.8-.1 1.8 .1 1.7 .3 1.8 .5 1.8 .7 1.8 .9 1.7 .9 1.8 .3 1.8-.3 1.7-.7 1.8-.8 1.8-.2 1.7 .3 1.8 .8 1.8 1.2 1.8 1.2 1.7 .8 1.8 .3 1.8-.2 1.7-.3 1.8-.5 1.8-.6 1.7-.9 1.8-1.1 1.8-.8 1.8-.4 1.7 .1 1.8 .5 1.8 .6 1.7 .8 1.8 .8 1.8 .8 1.8 .3 1.7-.3 1.8-1.1 1.8-1.5 1.7-2.2 1.8-2.6 1.8-2.2 1.7-1.8 1.8-1.4 1.8-1.2 1.8-.6 1.7 .2 1.8 1.1 1.8 1.8 1.7 2.4 1.8 2.5 1.8 2.3 1.7 1.4 1.8 .7 1.8 .3 1.8 .2 1.7 .4 1.8 .8 1.8 1 1.7 .6 1.8-.2 1.8-1.1 1.7-1.8 1.8-2.1 1.8-2 1.8-1 1.7 0 1.8 .7"/>
<path d="M811.4 618.6l1.8 .2 1.7 .3 1.8 .1 1.8-.1 1.8-.3 1.7-.5 1.8-.6 1.8-.7 1.7-.7 1.8-.6 1.8-.4 1.7-.3 1.8-.1 1.8 .2 1.8 .4 1.7 .5 1.8 .7 1.8 .9 1.7 .9 1.8 1 1.8 1.1 1.7 .9 1.8 .8 1.8 .5 1.8 .1 1.7-.6 1.8-1.2 1.8-1.7 1.7-2.2 1.8-2.2 1.8-2.3 1.7-2.4 1.8-2.4 1.8-2.5 1.8-2.6 1.7-2.5 1.8-2.2 1.8-1.6 1.7-1 1.8-.1 1.8 .4 1.8 1 1.7 1.1 1.8 1 1.8 .9 1.7 .9 1.8 1.2 1.8 1.7 1.7 2.2 1.8 2.8 1.8 2.8 1.8 2.3 1.7 1.2 1.8-.2 1.8-1.6 1.7-2.6 1.8-3 1.8-2.7 1.7-1.9 1.8-1 1.8 0 1.8 .7 1.7 1.3 1.8 1.6 1.8 1.8 1.7 1.9 1.8 2.1 1.8 2.1 1.7 2.1 1.8 1.5 1.8 1 1.8 .4 1.7 0 1.8-.4"/>
<path d="M811.4 616.9l1.8 1.1 1.7 0 1.8-1.1 1.8-1.6 1.8-1.5 1.7-.5 1.8 .6 1.8 1.1 1.7 .8 1.8 0 1.8-1.1 1.7-1.7 1.8-1.8 1.8-1.4 1.8-1 1.7-.6 1.8-.1 1.8 .6 1.7 1.8 1.8 3.1 1.8 4.5 1.7 5.2 1.8 4 1.8 1.8 1.8-.7 1.7-2.9 1.8-4.5 1.8-5.1 1.7-4.1 1.8-3.3 1.8-1.9 1.7 0 1.8 2 1.8 4.3 1.8 5.5 1.7 4.9 1.8 3.4 1.8 1.7 1.7-.2 1.8-2 1.8-3.7 1.8-4.6 1.7-6.2 1.8-5.3 1.8-2.7 1.7-.3 1.8 1.1 1.8 1.6 1.7 1.6 1.8 2 1.8 2.1 1.8 1.7 1.7 .4 1.8-1.7 1.8-3.7 1.7-4.5 1.8-3.7 1.8-1.7 1.7 .9 1.8 3.4 1.8 5.2 1.8 5.3 1.7 3.4 1.8 1 1.8-.4 1.7-1.1 1.8-1.8 1.8-1.4 1.7-1 1.8-.6 1.8-.1 1.8 .3 1.7 .8 1.8 1.2"/>
<path d="M811.4 618.2l1.8 .2 1.7 0 1.8-.2 1.8-.4 1.8-.4 1.7-.4 1.8-.1 1.8 .1 1.7 .4 1.8 .5 1.8 .5 1.7 .4 1.8 .3 1.8 .4 1.8 .4 1.7 .6 1.8 .6 1.8 .3 1.7-.1 1.8-.5 1.8-.7 1.7-.8 1.8-.9 1.8-1 1.8-1 1.7-.9 1.8-.7 1.8-.5 1.7-.1 1.8 .4 1.8 .5 1.7 .3 1.8-.2 1.8-.7 1.8-.9 1.7-.8 1.8-.6 1.8-.6 1.7-.8 1.8-1.4 1.8-2.1 1.8-2.5 1.7-2.6 1.8-2 1.8-.6 1.7 1 1.8 2.5 1.8 3.4 1.7 3 1.8 1.6 1.8 0 1.8-.9 1.7-.8 1.8-.2 1.8 .6 1.7 .9 1.8 .7 1.8 .2 1.7-.3 1.8-.2 1.8 .5 1.8 1.4 1.7 2.4 1.8 2.1 1.8 1.5 1.7 .8 1.8 0 1.8-.9 1.7-1.1 1.8-1.1 1.8-.9 1.8-.5 1.7-.5 1.8-.7"/>
<path d="M811.4 614.9l1.8 .5 1.7 .3 1.8-.1 1.8-.4 1.8-.5 1.7-.2 1.8 .1 1.8 .4 1.7 .3 1.8 0 1.8-.2 1.7-.5 1.8-.4 1.8-.5 1.8-.6 1.7-.9 1.8-1.1 1.8-1 1.7 0 1.8 1.3 1.8 2.5 1.7 3.3 1.8 3.1 1.8 1.8 1.8 .3 1.7-.6 1.8-.7 1.8 .1 1.7 .7 1.8 1.2 1.8 1.1 1.7 .6 1.8-.1 1.8-.6 1.8-1.2 1.7-1.4 1.8-1.4 1.8-1.1 1.7-.5 1.8-.1 1.8 .2 1.8 0 1.7-.3 1.8-.6 1.8-.7 1.7-.4 1.8 0 1.8 .4 1.7 .8 1.8 .9 1.8 .9 1.8 .6 1.7 .1 1.8-.7 1.8-1.4 1.7-2.1 1.8-3.5 1.8-2.6 1.7-1.3 1.8 0 1.8 1 1.8 1.7 1.7 2.1 1.8 2.3 1.8 1.8 1.7 1.4 1.8 1.2 1.8 .7 1.7 .3 1.8-.2 1.8-.8 1.8-1.2 1.7-1.6 1.8-1.8"/>
<path d="M811.4 617.1l1.8-.4 1.7-.4 1.8-.1 1.8 .1 1.8 .1 1.7-.1 1.8-.4 1.8-.7 1.7-.9 1.8-.8 1.8-.5 1.7-.1 1.8 .2 1.8 .7 1.8 1 1.7 1.1 1.8 1.2 1.8 1.2 1.7 .7 1.8 .2 1.8-.3 1.7-.6 1.8-1 1.8-1 1.8-.8 1.7-.4 1.8 0 1.8 .8 1.7 1.9 1.8 2.7 1.8 2.8 1.7 2.1 1.8 1 1.8-.4 1.8-1.5 1.7-2.2 1.8-2.1 1.8-1.4 1.7-.3 1.8 .6 1.8 1.3 1.8 1.5 1.7 1.3 1.8 .8 1.8 0 1.7-.8 1.8-1.3 1.8-1.8 1.7-1.9 1.8-1.7 1.8-2.6 1.8-2.2 1.7-1.4 1.8-.6 1.8 .5 1.7 1.3 1.8 2 1.8 2.2 1.7 1.4 1.8 .7 1.8 .2 1.8-.3 1.7-.7 1.8-1.1 1.8-1.5 1.7-1.5 1.8-1.2 1.8-1 1.7-.8 1.8-.4 1.8-.1 1.8 .2 1.7 .5 1.8 .6"/>
<path d="M811.4 618.8l1.8 .4 1.7 .5 1.8 .5 1.8 .6 1.8 .6 1.7 .4 1.8 .4 1.8 .3 1.7-.1 1.8-.4 1.8-.9 1.7-1.7 1.8-2.2 1.8-2.4 1.8-2 1.7-1.4 1.8-.5 1.8 .3 1.7 .8 1.8 1.1 1.8 1.3 1.7 1.4 1.8 1.5 1.8 1.4 1.8 1.1 1.7 .7 1.8 .1 1.8-.5 1.7-1.1 1.8-1.7 1.8-2 1.7-2 1.8-1.5 1.8-.6 1.8 .5 1.7 1.5 1.8 1.8 1.8 1.4 1.7 .2 1.8-1.1 1.8-2.3 1.8-2.7 1.7-2.4 1.8-1.7 1.8-1.1 1.7-.7 1.8-.1 1.8 .5 1.7 1.1 1.8 1.6 1.8 1.7 1.8 1.7 1.7 1.6 1.8 1.4 1.8 1.5 1.7 1.1 1.8 .8 1.8 .7 1.7 .4 1.8 .3 1.8 .3 1.8 .3 1.7 .4 1.8 .5 1.8 .4 1.7 .1 1.8-.1 1.8-.6 1.7-.8 1.8-.8 1.8-.7 1.8-.2 1.7 0 1.8 .3"/>
<path d="M811.4 622.9l1.8-.6 1.7-1.3 1.8-1.7 1.8-1.6 1.8-1.4 1.7-1.5 1.8-1.5 1.8-1.9 1.7-2.1 1.8-1.6 1.8-.8 1.7 .1 1.8 .8 1.8 1.1 1.8 1.6 1.7 2.2 1.8 2.4 1.8 1.5 1.7-.3 1.8-1.9 1.8-2.5 1.7-1.6 1.8 .1 1.8 1.4 1.8 2.3 1.7 2.7 1.8 2.5 1.8 1.4 1.7-.1 1.8-1.7 1.8-2.1 1.7-1.7 1.8-1.1 1.8-1.3 1.8-3.3 1.7-5.6 1.8-6.1 1.8-3.9 1.7-.3 1.8 4.2 1.8 9.3 1.8 10.7 1.7 4.9 1.8 0 1.8-4.5 1.7-10.1 1.8-9.5 1.8-4.8 1.7-.8 1.8 1.9 1.8 3.3 1.8 3 1.7 2 1.8 1.1 1.8 .5 1.7 .1 1.8-.7 1.8-1.1 1.7-.8 1.8 .4 1.8 2.2 1.8 4.3 1.7 5.6 1.8 4.3 1.8 2.5 1.7 1 1.8-.2 1.8-.8 1.7-.8 1.8-.5 1.8-.4 1.8-.1 1.7 .7 1.8 2"/>
<path d="M811.4 613.6l1.8 .3 1.7 .6 1.8 1.1 1.8 1.4 1.8 1.6 1.7 1.5 1.8 1.2 1.8 .6 1.7-.1 1.8-.7 1.8-.9 1.7-1 1.8-.8 1.8-.7 1.8-.6 1.7-.4 1.8-.2 1.8 .2 1.7 .4 1.8 .5 1.8 .5 1.7 .2 1.8 0 1.8-.2 1.8-.3 1.7 0 1.8 .4 1.8 .8 1.7 1.2 1.8 1.2 1.8 .8 1.7-.1 1.8-1.2 1.8-2.4 1.8-3.5 1.7-4.1 1.8-3.9 1.8-2.9 1.7-1.6 1.8-.3 1.8 .5 1.8 .8 1.7 .5 1.8 .1 1.8 0 1.7 .7 1.8 1.6 1.8 2.4 1.7 2.6 1.8 1.6 1.8 .4 1.8-.9 1.7-1.5 1.8-1.7 1.8-1.4 1.7-.9 1.8-.3 1.8 .3 1.7 1 1.8 1.3 1.8 1.3 1.8 .9 1.7 .4 1.8 0 1.8-.2 1.7-.2 1.8 .1 1.8 .3 1.7 .5 1.8 .5 1.8 .1 1.8-.3 1.7-.7 1.8-.8"/>
<path d="M811.4 625.8l1.8 .6 1.7-.3 1.8-1.5 1.8-2.5 1.8-2.6 1.7-1.7 1.8-.1 1.8 1.1 1.7 1.3 1.8 .1 1.8-2.1 1.7-4.5 1.8-5.7 1.8-5.3 1.8-3.7 1.7-1.6 1.8 .1 1.8 1.4 1.7 2.3 1.8 2.3 1.8 1.7 1.7 .4 1.8-.6 1.8-1.4 1.8-1.8 1.7-2.1 1.8-2 1.8-1.6 1.7-.1 1.8 1.9 1.8 4.4 1.7 6.2 1.8 6.1 1.8 4.1 1.8 1.6 1.7-.1 1.8-.9 1.8-1.3 1.7-1.1 1.8-.5 1.8 .9 1.8 2.7 1.7 3.8 1.8 3.3 1.8 1.3 1.7-1.2 1.8-3.7 1.8-5.3 1.7-8 1.8-6.8 1.8-2.8 1.8 1.2 1.7 4.4 1.8 5.9 1.8 4.7 1.7 1.5 1.8 .3 1.8-.5 1.7-.5 1.8 .1 1.8 1.1 1.8 2 1.7 2.3 1.8 1.8 1.8 .6 1.7-.7 1.8-1.7 1.8-2.2 1.7-1.9 1.8-1.3 1.8-.7 1.8 0 1.7 .7 1.8 1.3"/>
<path d="M811.4 615.7l1.8 2.6 1.7 1.8 1.8 .3 1.8-1.2 1.8-2.2 1.7-2.6 1.8-1.8 1.8-.6 1.7 .6 1.8 1.4 1.8 1.5 1.7 1.2 1.8 .7 1.8 .2 1.8 .3 1.7 .5 1.8 1 1.8 1.2 1.7 1.3 1.8 .8 1.8 0 1.7-.8 1.8-1.8 1.8-2.2 1.8-2 1.7-1.1 1.8 .1 1.8 1.7 1.7 3.6 1.8 4.4 1.8 4.3 1.7 3.5 1.8 2.5 1.8 1.9 1.8 1.4 1.7 .7 1.8-.4 1.8-2.2 1.7-4.6 1.8-7.3 1.8-8.7 1.8-10.8 1.7-6.6 1.8-1.8 1.8 2.6 1.7 6.8 1.8 9.4 1.8 5.5 1.7 3.3 1.8 1.3 1.8-.5 1.8-1.7 1.7-2.6 1.8-2.8 1.8-3.3 1.7-3 1.8-1.2 1.8 .4 1.7 1.5 1.8 2.1 1.8 2.2 1.8 1.5 1.7 1.4 1.8 1.4 1.8 1.4 1.7 1.4 1.8 1.2 1.8 .8 1.7 .1 1.8-.5 1.8-1 1.8-1.2 1.7-1.1 1.8-.6"/>
<path d="M811.4 617.6l1.8 .4 1.7 .6 1.8 .6 1.8 .6 1.8 .3 1.7 .1 1.8-.1 1.8 0 1.7 .1 1.8 .4 1.8 .4 1.7 .4 1.8 0 1.8-.3 1.8-1 1.7-1.6 1.8-2.3 1.8-2.2 1.7-1.9 1.8-1.1 1.8 .1 1.7 1.3 1.8 2.4 1.8 3.2 1.8 3.6 1.7 2.9 1.8 1.6 1.8 .2 1.7-1.2 1.8-2.2 1.8-2.8 1.7-2.6 1.8-2 1.8-1.2 1.8-.4 1.7 .4 1.8 1.2 1.8 1.5 1.7 1.4 1.8 1.4 1.8 1.3 1.8 1.3 1.7 1.4 1.8 1.5 1.8 1.4 1.7 1.1 1.8 .5 1.8-.2 1.7-.8 1.8-1.3 1.8-1.7 1.8-1.8 1.7-1.6 1.8-1.3 1.8-.7 1.7-.2 1.8 .4 1.8 .8 1.7 1 1.8 .9 1.8 .4 1.8-.3 1.7-1.1 1.8-1.8 1.8-2.2 1.7-2.7 1.8-2.1 1.8-.9 1.7 .6 1.8 1.9 1.8 3 1.8 3 1.7 3 1.8 2.6"/>
<path d="M811.4 619.7l1.8-4.3 1.7-4.2 1.8-3.2 1.8-2 1.8-1.3 1.7-.4 1.8 .7 1.8 1.9 1.7 3 1.8 3.7 1.8 3.7 1.7 3.3 1.8 2.3 1.8 1 1.8-.2 1.7-1.3 1.8-1.7 1.8-1.6 1.7-1.2 1.8-.9 1.8-.9 1.7-.8 1.8-1.1 1.8-1.5 1.8-1.9 1.7-2.7 1.8-3.4 1.8-3.2 1.7-2.4 1.8-.6 1.8 1.7 1.7 4.8 1.8 7.6 1.8 8.6 1.8 6.4 1.7 3.1 1.8-.2 1.8-2.7 1.7-4.3 1.8-4.8 1.8-4.9 1.8-4.2 1.7-1.9 1.8 .4 1.8 2.2 1.7 2.9 1.8 2.7 1.8 .9 1.7-.4 1.8-2.1 1.8-2.9 1.8-2.5 1.7-1.1 1.8 .5 1.8 1.7 1.7 1.9 1.8 1.6 1.8 1.1 1.7 .7 1.8 .2 1.8-.8 1.8-2.1 1.7-3.1 1.8-3.2 1.8-2.3 1.7-.6 1.8 1 1.8 2.4 1.7 3.1 1.8 2.9 1.8 2.1 1.8 1.1 1.7 .6 1.8 .6"/>
<path d="M811.4 618.1l1.8-4.9 1.7-5 1.8-3.4 1.8-.6 1.8 2.1 1.7 4.2 1.8 4.6 1.8 3 1.7 .7 1.8-1.7 1.8-3.2 1.7-2.9 1.8-1.1 1.8 1.1 1.8 3.1 1.7 4 1.8 3.3 1.8 1.1 1.7-1.4 1.8-3.4 1.8-3.9 1.7-3.3 1.8-2.5 1.8-1.9 1.8-2 1.7-2.5 1.8-2.8 1.8-3 1.7-2.5 1.8-1.9 1.8-1.4 1.7-1.4 1.8-1.4 1.8-1.4 1.8-1 1.7-.1 1.8 1.2 1.8 3.4 1.7 6.2 1.8 7.9 1.8 6.5 1.8 2.5 1.7-1.4 1.8-3.8 1.8-3.8 1.7-1.9 1.8 1.2 1.8 4.9 1.7 7.6 1.8 4.7 1.8 2.4 1.8 .2 1.7-1.5 1.8-1.7 1.8-.8 1.7 .4 1.8 .7 1.8 .2 1.7-.9 1.8-1.7 1.8-2.5 1.8-2.2 1.7-1.3 1.8-.7 1.8-.7 1.7-1.4 1.8-2.4 1.8-3 1.7-3 1.8-2.4 1.8-1.4 1.8-.3 1.7 .9 1.8 2.4"/>
<path d="M811.4 614.1l1.8 .4 1.7 .1 1.8-.1 1.8-.3 1.8-.3 1.7-.1 1.8 .5 1.8 .9 1.7 1.2 1.8 1.2 1.8 .9 1.7 .3 1.8-.3 1.8-.8 1.8-.9 1.7-.7 1.8 .1 1.8 1 1.7 1.9 1.8 2.3 1.8 2.3 1.7 1.9 1.8 1.1 1.8 .3 1.8-.4 1.7-1 1.8-1.3 1.8-1.3 1.7-1 1.8-.7 1.8-.5 1.7-.4 1.8-.6 1.8-1 1.8-1.1 1.7-.9 1.8-.3 1.8 .4 1.7 1 1.8 1 1.8 .7 1.8-.1 1.7-.6 1.8-.9 1.8-.7 1.7-.3 1.8 0 1.8 .2 1.7 .4 1.8 .5 1.8 .6 1.8 .8 1.7 .8 1.8 .7 1.8 .3 1.7-.1 1.8-.5 1.8-.8 1.7-.7 1.8-.5 1.8 0 1.8 .3 1.7 .6 1.8 .5 1.8 .3 1.7 .3 1.8 0 1.8-.1 1.7-.3 1.8-.6 1.8-.8 1.8-1 1.7-1.1 1.8-1.3"/>
<path d="M811.4 607.1l1.8 0 1.7 .8 1.8 1.2 1.8 1.6 1.8 1.9 1.7 1.9 1.8 1.7 1.8 1.3 1.7 .9 1.8 .6 1.8 .5 1.7 .7 1.8 1.1 1.8 1.6 1.8 2.3 1.7 2.6 1.8 2.5 1.8 2 1.7 1.3 1.8 .3 1.8-.6 1.7-1.7 1.8-2.4 1.8-2.5 1.8-2.3 1.7-1.8 1.8-1.7 1.8-1.6 1.7-1.7 1.8-1.2 1.8-.2 1.7 .8 1.8 1.2 1.8 .6 1.8-.8 1.7-2.3 1.8-4 1.8-4.7 1.7-4.4 1.8-3.1 1.8-1.3 1.8 .6 1.7 2.7 1.8 4.4 1.8 5.4 1.7 4.8 1.8 1.7 1.8 0 1.7-1.3 1.8-3.2 1.8-3.1 1.8-1.9 1.7-.3 1.8 .9 1.8 1.3 1.7 .9 1.8-.2 1.8-.9 1.7-.8 1.8 .1 1.8 1.3 1.8 2.2 1.7 2.3 1.8 1.6 1.8 .6 1.7 .2 1.8 0 1.8-.1 1.7-.1 1.8-.3 1.8-.3 1.8-.2 1.7 0 1.8 .2"/>
<path d="M811.4 609.3l1.8 .8 1.7 2.2 1.8 3 1.8 2.7 1.8 1.9 1.7 .9 1.8 0 1.8-.6 1.7-.9 1.8-.7 1.8-.4 1.7 .1 1.8 1 1.8 1.7 1.8 2.2 1.7 1.9 1.8 .7 1.8-.7 1.7-2.1 1.8-2.3 1.8-1.6 1.7-.4 1.8 .3 1.8 .2 1.8-.4 1.7-1.2 1.8-1.5 1.8-1.5 1.7-1.4 1.8-1.1 1.8-.2 1.7 1 1.8 2 1.8 2.2 1.8 1.6 1.7 .7 1.8 .2 1.8 .2 1.7 .4 1.8 .6 1.8 .8 1.8 .7 1.7 .4 1.8-.2 1.8-1.1 1.7-1.7 1.8-1.4 1.8-.6 1.7 .6 1.8 1.7 1.8 1.7 1.8 1.2 1.7 .2 1.8-1 1.8-1.8 1.7-2.5 1.8-3.1 1.8-2.7 1.7-.5 1.8 1.6 1.8 2.9 1.8 2.1 1.7 1.6 1.8 1 1.8 .4 1.7-.2 1.8-.6 1.8-.9 1.7-1 1.8-.8 1.8-.5 1.8-.6 1.7-.6 1.8-.6"/>
<path d="M811.4 612.6l1.8 .6 1.7 .5 1.8 .2 1.8-.1 1.8-.1 1.7 .2 1.8 .6 1.8 .7 1.7 .5 1.8 0 1.8-.4 1.7-.5 1.8-.6 1.8-.4 1.8 0 1.7 .5 1.8 1 1.8 1.5 1.7 1.4 1.8 1 1.8 .2 1.7-.4 1.8-.6 1.8-.4 1.8-.1 1.7-.3 1.8-.5 1.8-.3 1.7 .1 1.8 .6 1.8 .7 1.7 1 1.8 1.3 1.8 1.3 1.8 .9 1.7 .1 1.8-.8 1.8-1 1.7-.5 1.8 .7 1.8 1.5 1.8 1.7 1.7 .9 1.8-.1 1.8-.9 1.7-1.5 1.8-1.3 1.8-.8 1.7 0 1.8 .2 1.8 0 1.8-1.1 1.7-2.2 1.8-3.8 1.8-3.9 1.7-1.8 1.8 .3 1.8 1.7 1.7 2 1.8 1.6 1.8 1 1.8 .2 1.7-.3 1.8-.3 1.8-.2 1.7 .3 1.8 .7 1.8 .9 1.7 .7 1.8 .5 1.8 .4 1.8 0 1.7-.3 1.8-.7"/>
<path d="M811.4 611.8l1.8 .3 1.7 .1 1.8 .3 1.8 .5 1.8 1 1.7 1.5 1.8 1.5 1.8 1.3 1.7 .7 1.8 0 1.8-.5 1.7-.5 1.8-.2 1.8 .5 1.8 1.1 1.7 1.3 1.8 1.3 1.8 .7 1.7 .2 1.8-.4 1.8-.8 1.7-1 1.8-.9 1.8-.8 1.8-.4 1.7-.4 1.8-.4 1.8-.6 1.7-.7 1.8-.4 1.8-.1 1.7 .3 1.8 .7 1.8 .9 1.8 1 1.7 .9 1.8 .7 1.8 0 1.7-.8 1.8-1.6 1.8-2.1 1.8-3 1.7-2.2 1.8-1.1 1.8 .3 1.7 1.2 1.8 1.8 1.8 1.6 1.7 1.1 1.8 .6 1.8 .3 1.8 .4 1.7 .5 1.8 .7 1.8 .9 1.7 .8 1.8 .8 1.8 .7 1.7 .3 1.8-.1 1.8-.3 1.8-.5 1.7-.6 1.8-.7 1.8-.8 1.7-.8 1.8-1 1.8-1.3 1.7-1.4 1.8-.8 1.8-.2 1.8 .6 1.7 1.2 1.8 1.5"/>
<path d="M811.4 618.7l1.8 .6 1.7 .4 1.8 .2 1.8-.2 1.8-.4 1.7-.5 1.8-.3 1.8 0 1.7 .4 1.8 .6 1.8 .6 1.7 .4 1.8 .1 1.8-.2 1.8-.4 1.7-.5 1.8-.4 1.8-.3 1.7-.2 1.8-.1 1.8-.1 1.7-.2 1.8 .1 1.8 .2 1.8 .3 1.7 .3 1.8 .1 1.8-.2 1.7-.2 1.8-.3 1.8 0 1.7 .3 1.8 .5 1.8 .6 1.8 .8 1.7 .7 1.8 .5 1.8 .1 1.7-.4 1.8-1.1 1.8-1.6 1.8-1.7 1.7-1.7 1.8-1.4 1.8-.5 1.7 .1 1.8 .2 1.8-.1 1.7-.5 1.8-.6 1.8-.7 1.8-.2 1.7 .4 1.8 1.4 1.8 2.3 1.7 1.8 1.8 1.8 1.8 1.3 1.7 .8 1.8 .1 1.8-.4 1.8-.8 1.7-1.1 1.8-1 1.8-1 1.7-.9 1.8-1 1.8-.9 1.7-.7 1.8-.4 1.8-.3 1.8 0 1.7 .2 1.8 .4"/>
<path d="M811.4 613.5l1.8 0 1.7-.2 1.8-.1 1.8 .2 1.8 .4 1.7 .7 1.8 .8 1.8 1 1.7 1 1.8 1.3 1.8 1.5 1.7 1.7 1.8 1.7 1.8 1.4 1.8 1.1 1.7 .6 1.8 .1 1.8-.2 1.7-.6 1.8-.9 1.8-1.1 1.7-1.5 1.8-2 1.8-2.6 1.8-2.8 1.7-2.7 1.8-2.7 1.8-2.2 1.7-1.6 1.8-.6 1.8 .2 1.7 1.3 1.8 2.2 1.8 2.9 1.8 3.3 1.7 2.7 1.8 1.9 1.8 .6 1.7-.8 1.8-2.1 1.8-3.9 1.8-5.4 1.7-5.2 1.8-4.2 1.8-2.7 1.7-1.2 1.8 .2 1.8 1.9 1.7 3.1 1.8 4.1 1.8 4.3 1.8 3.5 1.7 2.4 1.8 1.1 1.8 .3 1.7-.1 1.8 .2 1.8 .6 1.7 1 1.8 1.4 1.8 1.5 1.8 1.5 1.7 1.4 1.8 1 1.8 .6 1.7 .2 1.8 0 1.8-.1 1.7-.1 1.8-.2 1.8-.2 1.8-.4 1.7-.7 1.8-1.1"/>
<path d="M811.4 609l1.8 .9 1.7 1.5 1.8 2 1.8 2.4 1.8 2.1 1.7 1.4 1.8 .5 1.8-.5 1.7-1.1 1.8-1.3 1.8-.9 1.7 .1 1.8 1.2 1.8 1.9 1.8 2.2 1.7 1.8 1.8 1.1 1.8 .2 1.7-.6 1.8-1 1.8-1.1 1.7-1.3 1.8-1.7 1.8-2.2 1.8-2.5 1.7-2.9 1.8-2.7 1.8-1.7 1.7 0 1.8 2 1.8 3.5 1.7 3.4 1.8 1.3 1.8-1.9 1.8-4.9 1.7-6.2 1.8-5 1.8-2.5 1.7 .2 1.8 2.7 1.8 4 1.8 3.8 1.7 2.5 1.8 2 1.8 3.3 1.7 4 1.8 4.4 1.8 3.8 1.7 2.2 1.8 .2 1.8-1.6 1.8-3 1.7-4 1.8-4.2 1.8-6.2 1.7-4.8 1.8-2.7 1.8-.8 1.7 .8 1.8 2.5 1.8 4 1.8 4.8 1.7 3.7 1.8 2.3 1.8 1.1 1.7-.1 1.8-.8 1.8-1.1 1.7-.7 1.8-.2 1.8 .5 1.8 1.1 1.7 1 1.8 .4"/>
<path d="M811.4 617.6l1.8-.2 1.7-.3 1.8-.7 1.8-.7 1.8-.7 1.7-.3 1.8 .1 1.8 .3 1.7 .7 1.8 1.2 1.8 1.6 1.7 1.7 1.8 1.3 1.8 .4 1.8-.5 1.7-1.4 1.8-1.7 1.8-1.7 1.7-1.2 1.8-.9 1.8-.5 1.7-.2 1.8 0 1.8 .1 1.8 .1 1.7 .2 1.8 .5 1.8 1.1 1.7 1.9 1.8 2.5 1.8 2.7 1.7 2 1.8 1 1.8-.4 1.8-1.4 1.7-2.2 1.8-2.3 1.8-2 1.7-1.3 1.8-.8 1.8-.4 1.8-.1 1.7 .3 1.8 .9 1.8 .8 1.7 .6 1.8 .2 1.8-.2 1.7-.1 1.8 .1 1.8 .5 1.8 .6 1.7 .6 1.8 .3 1.8-.1 1.7-.7 1.8-1.1 1.8-1.4 1.7-2 1.8-1.2 1.8-.5 1.8 0 1.7 .1 1.8 .1 1.8 .1 1.7 .2 1.8 .3 1.8 .6 1.7 .6 1.8 .6 1.8 .8 1.8 .6 1.7 .4 1.8-.1"/>
<path d="M811.4 612.1l1.8-.3 1.7 0 1.8 .5 1.8 .7 1.8 .8 1.7 .6 1.8 .2 1.8-.1 1.7-.3 1.8-.1 1.8 .3 1.7 .7 1.8 .8 1.8 .9 1.8 1 1.7 1 1.8 .9 1.8 .6 1.7 .1 1.8-.4 1.8-.7 1.7-.6 1.8-.7 1.8-.9 1.8-.8 1.7-.5 1.8-.1 1.8 .4 1.7 .8 1.8 1.1 1.8 .9 1.7 .8 1.8 .6 1.8 .8 1.8 .9 1.7 1 1.8 .8 1.8 .3 1.7-.2 1.8-.8 1.8-1.2 1.8-1.5 1.7-1.7 1.8-1.5 1.8-1.7 1.7-1.8 1.8-1.3 1.8-.7 1.7 .1 1.8 .9 1.8 1.3 1.8 1.2 1.7 .9 1.8 .4 1.8 .1 1.7 .1 1.8 .2 1.8 .2 1.7 .4 1.8 .5 1.8 .6 1.8 .4 1.7 .2 1.8 .1 1.8 .2 1.7 .3 1.8 .6 1.8 .8 1.7 .7 1.8 .5 1.8 .1 1.8-.3 1.7-.7 1.8-.9"/>
<path d="M811.4 616.1l1.8 .3 1.7 .2 1.8 .3 1.8 .4 1.8 .5 1.7 .4 1.8 .1 1.8-.2 1.7-.3 1.8-.4 1.8-.3 1.7-.3 1.8-.2 1.8 0 1.8 .2 1.7 .4 1.8 .1 1.8-.5 1.7-.7 1.8-.4 1.8 .2 1.7 1.1 1.8 1.5 1.8 1.1 1.8 .5 1.7-.2 1.8-.7 1.8-1.1 1.7-1.3 1.8-1.4 1.8-1.5 1.7-1.4 1.8-.7 1.8 .1 1.8 .9 1.7 .9 1.8 .7 1.8 .1 1.7-.1 1.8 .6 1.8 1.7 1.8 2 1.7 2 1.8 1.3 1.8 .6 1.7-.1 1.8-.5 1.8-.7 1.7-1.1 1.8-1.3 1.8-1.3 1.8-1.1 1.7-1.2 1.8-.6 1.8-.5 1.7-.9 1.8-1.3 1.8-1.6 1.7-1.4 1.8-.6 1.8 .3 1.8 1.4 1.7 2.1 1.8 2.1 1.8 1.7 1.7 1 1.8 .8 1.8 .9 1.7 1 1.8 1 1.8 .6 1.8 0 1.7-.6 1.8-.9"/>
<path d="M811.4 611.6l1.8-1.2 1.7-1.5 1.8-1.2 1.8-.7 1.8 .4 1.7 1.4 1.8 2.3 1.8 2.8 1.7 2.9 1.8 2.5 1.8 2.1 1.7 1.7 1.8 1.1 1.8 .6 1.8 .1 1.7-.4 1.8-.9 1.8-1 1.7-1.1 1.8-1 1.8-1 1.7-.8 1.8-.7 1.8-.5 1.8-.3 1.7-.2 1.8 .1 1.8 .2 1.7 .4 1.8 .8 1.8 1.2 1.7 1.7 1.8 1.9 1.8 1.6 1.8 1.1 1.7 .1 1.8-.8 1.8-1.5 1.7-1.7 1.8-1.4 1.8-.9 1.8-.3 1.7 0 1.8 .2 1.8 .1 1.7-.2 1.8-.5 1.8-.8 1.7-.9 1.8-.8 1.8-.4 1.8 .2 1.7 .6 1.8 .9 1.8 .9 1.7 .8 1.8 .4 1.8-.1 1.7-.5 1.8-.8 1.8-1 1.8-.8 1.7-.7 1.8-.4 1.8 0 1.7 0 1.8 0 1.8-.3 1.7-.5 1.8-.5 1.8-.2 1.8 0 1.7 .4 1.8 .5"/>
<path d="M811.4 609.6l1.8 3.4 1.7 3.9 1.8 3.7 1.8 3.2 1.8 1.9 1.7 .5 1.8-.8 1.8-1.8 1.7-2.3 1.8-2.7 1.8-2.7 1.7-2.4 1.8-1.6 1.8-.4 1.8 .7 1.7 1.6 1.8 2.3 1.8 2.4 1.7 1.9 1.8 .6 1.8-.9 1.7-2 1.8-2.4 1.8-1.7 1.8-1 1.7-.1 1.8 .5 1.8 .6 1.7 .3 1.8-.3 1.8-.5 1.7-.3 1.8 .4 1.8 1.1 1.8 1.2 1.7 .7 1.8 0 1.8-.2 1.7 0 1.8 .3 1.8 .6 1.8 .4 1.7 .5 1.8 .9 1.8 1.8 1.7 2.3 1.8 1.8 1.8 .4 1.7-1.4 1.8-2.5 1.8-2.1 1.8-.4 1.7 1.7 1.8 2.9 1.8 2.5 1.7 .8 1.8-.9 1.8-2.1 1.7-1.9 1.8-.8 1.8 .3 1.8 .8 1.7 .3 1.8-1.1 1.8-2.7 1.7-4 1.8-4.6 1.8-3 1.7-.9 1.8 1.2 1.8 2.6 1.8 3.2 1.7 3 1.8 1.7"/>
<path d="M811.4 624.1l1.8-.3 1.7-.4 1.8-.5 1.8-.5 1.8-.4 1.7-.2 1.8-.1 1.8-.1 1.7-.2 1.8-.7 1.8-1.4 1.7-2.1 1.8-2.6 1.8-2.7 1.8-2.1 1.7-1.1 1.8 .2 1.8 1.2 1.7 2 1.8 2.5 1.8 2.5 1.7 2.1 1.8 .5 1.8-1 1.8-2.1 1.7-1.7 1.8-.9 1.8-.1 1.7 .5 1.8 .6 1.8 .7 1.7 1.2 1.8 2.4 1.8 3.2 1.8 3.3 1.7 2.1 1.8 .6 1.8-.9 1.7-1.6 1.8-1.4 1.8-.6 1.8 .1 1.7 .3 1.8-.2 1.8-1.2 1.7-2.2 1.8-2.7 1.8-3.5 1.7-3.8 1.8-2.4 1.8-.9 1.8 .2 1.7 1.1 1.8 1.4 1.8 1.5 1.7 1.2 1.8 .9 1.8 .6 1.7 .5 1.8 .3 1.8 .3 1.8 .1 1.7-.1 1.8-.2 1.8-.3 1.7-.3 1.8-.1 1.8 .2 1.7 .6 1.8 .9 1.8 .9 1.8 .7 1.7 .4 1.8-.2"/>
<path d="M811.4 616.1l1.8-.6 1.7-.2 1.8 .3 1.8 .6 1.8 .5 1.7 .3 1.8 0 1.8 0 1.7 .1 1.8 .3 1.8 .3 1.7 .6 1.8 .8 1.8 1 1.8 .9 1.7 .2 1.8-.8 1.8-1.8 1.7-2 1.8-1.2 1.8-.1 1.7 .9 1.8 1.6 1.8 1.5 1.8 .8 1.7-.2 1.8-1.1 1.8-1.6 1.7-1.2 1.8-.4 1.8 .3 1.7 .7 1.8 .7 1.8 .6 1.8 .4 1.7 .2 1.8-.2 1.8-.4 1.7-.5 1.8-.4 1.8-.4 1.8-.1 1.7 0 1.8 .6 1.8 .9 1.7 1 1.8 .5 1.8-.2 1.7-.5 1.8-.4 1.8-.1 1.8 .2 1.7 .1 1.8-.2 1.8-.5 1.7-.4 1.8-.1 1.8 .1 1.7-.3 1.8-1 1.8-2.3 1.8-2.3 1.7-1.8 1.8-.9 1.8-.2 1.7 .2 1.8 .7 1.8 1 1.7 1.4 1.8 1.3 1.8 1.1 1.8 .8 1.7 .3 1.8 .2"/>
<path d="M811.4 623.3l1.8-1 1.7-1.1 1.8-1.3 1.8-1.3 1.8-1.3 1.7-1 1.8-.6 1.8 .1 1.7 .5 1.8 .9 1.8 .9 1.7 .6 1.8 .3 1.8-.1 1.8-.6 1.7-.8 1.8-1 1.8-.9 1.7-.7 1.8-.4 1.8 .1 1.7 .3 1.8 .9 1.8 1.3 1.8 1.6 1.7 1.6 1.8 1.3 1.8 .9 1.7 .2 1.8-.5 1.8-1.1 1.7-1.5 1.8-1.4 1.8-1.1 1.8-.7 1.7-.2 1.8-.1 1.8-.3 1.7-.8 1.8-1.3 1.8-1.4 1.8-1.1 1.7 .3 1.8 1.7 1.8 3.3 1.7 2.9 1.8 3 1.8 2.6 1.7 1.9 1.8 1 1.8-.1 1.8-1.1 1.7-2 1.8-2.7 1.8-3 1.7-2.7 1.8-3.3 1.8-2 1.7-.5 1.8 .4 1.8 .9 1.8 1.1 1.7 1 1.8 .6 1.8 .5 1.7 .4 1.8 .3 1.8 .4 1.7 .4 1.8 .4 1.8 .4 1.8 .5 1.7 .7 1.8 .9"/>
<path d="M811.4 619.9l1.8-.5 1.7-1 1.8-1.2 1.8-1.1 1.8-1.1 1.7-.6 1.8-.2 1.8 .1 1.7 .3 1.8 .3 1.8 .6 1.7 .7 1.8 1 1.8 1.2 1.8 1.3 1.7 1.2 1.8 .9 1.8 .4 1.7 .1 1.8-.1 1.8-.1 1.7 0 1.8 0 1.8-.1 1.8-.3 1.7-.7 1.8-.9 1.8-1.1 1.7-1.3 1.8-1.3 1.8-1.2 1.7-1.1 1.8-.9 1.8-.3 1.8 .4 1.7 1 1.8 1.3 1.8 1.3 1.7 1 1.8 .8 1.8 .7 1.8 .6 1.7 .3 1.8-.5 1.8-1.2 1.7-2 1.8-3.6 1.8-3.6 1.7-2.5 1.8-1.3 1.8-.3 1.8 .2 1.7 .2 1.8-.2 1.8-.7 1.7-1 1.8-1.1 1.8-.8 1.7-.4 1.8 .2 1.8 .9 1.8 1.5 1.7 1.8 1.8 2 1.8 1.9 1.7 1.6 1.8 1.1 1.8 .7 1.7 .4 1.8 .2 1.8 .2 1.8 .1 1.7 .2 1.8 .2"/>
<path d="M811.4 613.8l1.8 1.2 1.7 1 1.8 .8 1.8 .5 1.8 .2 1.7 0 1.8-.2 1.8-.1 1.7 .1 1.8 .4 1.8 .5 1.7 .5 1.8 .3 1.8-.1 1.8-.5 1.7-.8 1.8-.8 1.8-.8 1.7-.6 1.8-.7 1.8-.6 1.7-.5 1.8-.1 1.8 .3 1.8 .9 1.7 1.2 1.8 1.6 1.8 1.4 1.7 .8 1.8-.2 1.8-1.3 1.7-1.9 1.8-2.2 1.8-1.7 1.8-.9 1.7 .4 1.8 1.3 1.8 2 1.7 1.6 1.8 .6 1.8-.4 1.8-1.3 1.7-1.5 1.8-.2 1.8 2 1.7 2.7 1.8 3.2 1.8 3 1.7 2 1.8 .8 1.8-.5 1.8-1.6 1.7-2.3 1.8-2.3 1.8-1.7 1.7-.7 1.8 .4 1.8 1.3 1.7 1.5 1.8 1.3 1.8 .6 1.8-.3 1.7-1.1 1.8-1.8 1.8-2 1.7-1.9 1.8-1.6 1.8-1 1.7-.1 1.8 .3 1.8 .4 1.8 .1 1.7-.1 1.8-.2"/>
<path d="M811.4 616.7l1.8-.3 1.7-.5 1.8-.6 1.8-.4 1.8-.1 1.7 .3 1.8 .7 1.8 1 1.7 1.1 1.8 1 1.8 .5 1.7 0 1.8-.5 1.8-.8 1.8-.6 1.7-.1 1.8 .5 1.8 1 1.7 1.1 1.8 1 1.8 .5 1.7-.3 1.8-.9 1.8-1.5 1.8-1.5 1.7-1.2 1.8-.5 1.8 0 1.7 .5 1.8 .7 1.8 .4 1.7 0 1.8-.5 1.8-1 1.8-1.3 1.7-1.3 1.8-1.3 1.8-1.1 1.7-1 1.8-1 1.8-.9 1.8-1 1.7-.8 1.8-.6 1.8 .1 1.7 .8 1.8 1.6 1.8 2.2 1.7 2.4 1.8 2.1 1.8 1.8 1.8 .7 1.7 .6 1.8 .2 1.8 0 1.7-.3 1.8-.4 1.8-.4 1.7-.2 1.8 .2 1.8 .7 1.8 .9 1.7 .9 1.8 .6 1.8 0 1.7-.5 1.8-1 1.8-1.1 1.7-1 1.8-1 1.8-.5 1.8 0 1.7 .4 1.8 .8"/>
<path d="M811.4 614.1l1.8 1 1.7 1.1 1.8 .9 1.8 .6 1.8 .2 1.7-.1 1.8-.4 1.8-.4 1.7-.3 1.8-.2 1.8-.1 1.7-.2 1.8-.2 1.8-.4 1.8-.6 1.7-.8 1.8-1 1.8-1.1 1.7-1 1.8-1 1.8-.8 1.7-.6 1.8-.3 1.8-.1 1.8 .1 1.7 .1 1.8 .2 1.8 .2 1.7 .4 1.8 .6 1.8 1 1.7 1.5 1.8 2.2 1.8 2.6 1.8 2.4 1.7 2 1.8 1.1 1.8 .1 1.7-.8 1.8-1.2 1.8-1.3 1.8-1.2 1.7-.7 1.8-.3 1.8 .1 1.7 .3 1.8 .2 1.8 .2 1.7 0 1.8-.3 1.8-.7 1.8-.9 1.7-1.7 1.8-1.6 1.8-1.1 1.7-.5 1.8 0 1.8 .4 1.7 .5 1.8 .4 1.8 .2 1.8 .2 1.7 .4 1.8 .6 1.8 1 1.7 1.1 1.8 .9 1.8 .7 1.7 .6 1.8 .3 1.8 0 1.8-.2 1.7-.4 1.8-.6"/>
<path d="M811.4 615.7l1.8 .4 1.7 0 1.8-.3 1.8-.4 1.8-.2 1.7 .1 1.8 .5 1.8 .5 1.7 .5 1.8 .5 1.8 .4 1.7 .4 1.8 .6 1.8 .8 1.8 1 1.7 1.2 1.8 1.4 1.8 1.3 1.7 1.2 1.8 .8 1.8 .7 1.7 .7 1.8 .7 1.8 .3 1.8-.6 1.7-2.3 1.8-4 1.8-5.2 1.7-4.6 1.8-3.4 1.8-1.4 1.7 .7 1.8 2.6 1.8 3.8 1.8 3.9 1.7 2.8 1.8 1.4 1.8 0 1.7-1 1.8-1.8 1.8-2.3 1.8-2.9 1.7-3.6 1.8-3.3 1.8-2.5 1.7-1.6 1.8-.6 1.8 .1 1.7 .4 1.8 .7 1.8 1.1 1.8 1.5 1.7 1.8 1.8 1.5 1.8 .7 1.7-.4 1.8-1.1 1.8-1 1.7-.2 1.8 1 1.8 2.2 1.8 2.6 1.7 2.5 1.8 1.4 1.8 1.2 1.7 1 1.8 1.1 1.8 1.3 1.7 1.3 1.8 1.2 1.8 .8 1.8 .4 1.7 0 1.8-.4"/>
</g>
<line x1="1072.8" y1="445.5" x2="1088" y2="429.3" stroke="#000" stroke-width="2.6"/>
<polygon points="1094.5,422.2 1082.6,428.4 1090.0,435.5" fill="#000"/>
<text x="325.4" y="907.4" font-family="Liberation Sans, sans-serif" font-size="28" font-weight="normal" text-anchor="middle" textLength="64" lengthAdjust="spacingAndGlyphs">&#8722;1.5</text>
<text x="588.5" y="907.4" font-family="Liberation Sans, sans-serif" font-size="28" font-weight="normal" text-anchor="middle" textLength="64" lengthAdjust="spacingAndGlyphs">&#8722;0.5</text>
<text x="851.4" y="907.4" font-family="Liberation Sans, sans-serif" font-size="28" font-weight="normal" text-anchor="middle" textLength="42" lengthAdjust="spacingAndGlyphs">0.5</text>
<text x="1114.4" y="907.4" font-family="Liberation Sans, sans-serif" font-size="28" font-weight="normal" text-anchor="middle" textLength="42" lengthAdjust="spacingAndGlyphs">1.5</text>
<text x="1256" y="238.5" font-family="Liberation Sans, sans-serif" font-size="28" font-weight="normal" text-anchor="start" textLength="42" lengthAdjust="spacingAndGlyphs">1.0</text>
<text x="1255.2" y="524.8" font-family="Liberation Sans, sans-serif" font-size="28" font-weight="normal" text-anchor="start" textLength="43" lengthAdjust="spacingAndGlyphs">0.0</text>
<text x="1256" y="812" font-family="Liberation Sans, sans-serif" font-size="28" font-weight="normal" text-anchor="start" textLength="66" lengthAdjust="spacingAndGlyphs">&#8722;1.0</text>
<text x="765.8" y="950.7" font-family="Liberation Sans, sans-serif" font-size="29.5" font-weight="normal" text-anchor="middle" textLength="276" lengthAdjust="spacingAndGlyphs">projection on PC 1</text>
<text x="0" y="0" font-family="Liberation Sans, sans-serif" font-size="29.5" font-weight="normal" text-anchor="middle" textLength="274" lengthAdjust="spacingAndGlyphs" transform="translate(1360.4,439.9) rotate(-90)">projection on PC 2</text>
<polygon points="27.3,1035.2 29.5,1035.1 31.8,1034.9 34.1,1034.7 36.4,1034.9 38.6,1034.7 40.9,1034.9 43.1,1034.4 45.1,1034.1 47.2,1034.1 49.4,1033.1 51.8,1033.3 54.5,1033.1 57.8,1032.6 61.4,1033.2 65.3,1032.7 69.2,1032.8 72.9,1032.7 76.3,1032.9 79.5,1033.8 82.5,1035.2 85.4,1036.2 88,1037.6 90.5,1038.6 92.7,1039.3 94.5,1040.7 96,1041.6 97.3,1042.9 98.4,1044.4 99.6,1045.9 100.9,1047.2 102.2,1048.8 103.5,1049.7 104.8,1050.6 106.1,1051.3 107.5,1051.3 109.1,1052.1 110.7,1052.1 112.6,1052 114.5,1052.7 116.4,1052.1 118.3,1051.5 120,1051 121.5,1049.6 122.9,1048.8 124.2,1047.1 125.5,1045.8 126.8,1043.9 128.1,1041.8 129.5,1040.4 130.8,1039 132.1,1038 133.4,1037.6 134.8,1036.5 136.3,1035.2 138,1033.8 139.7,1032.1 141.6,1031.7 143.5,1031.6 145.4,1031.8 147.2,1032 149,1032.3 150.9,1031.9 152.7,1032.1 154.5,1033 156.3,1033.1 158.1,1033.6 159.9,1034.3 161.8,1034.8 163.6,1035.5 165.4,1036.7 167.2,1037.1 169,1037.8 170.8,1037.9 172.5,1038 174.2,1037.7 176,1037.4 177.7,1037.1 179.4,1037.1 179.4,1073.5 176.7,1073.8 174,1074.2 171.3,1074.4 168.7,1073.8 166.1,1073.8 163.6,1072.9 161.2,1072 158.9,1071 156.6,1070 154.4,1069 152.2,1068.5 149.9,1068.3 147.6,1067.9 145.2,1068 142.8,1068.2 140.5,1068.8 138.3,1069.4 136.3,1070.2 134.6,1070.9 133.2,1071.9 131.9,1073.5 130.7,1075.4 129.4,1077.2 128.1,1078.6 126.8,1080.1 125.5,1080.7 124.2,1081.4 122.9,1082.1 121.5,1082.9 120,1084.7 118.3,1086.4 116.5,1088.4 114.7,1088.9 112.8,1089 110.9,1089 109.1,1088.1 107.2,1087.9 105.3,1087 103.4,1085 101.6,1083.4 99.8,1081.4 98.1,1079.1 96.7,1077.5 95.4,1076.1 94.2,1075.3 93,1074.6 91.6,1073.9 90,1072.8 88.1,1071.2 86.1,1070.3 84,1069.7 81.7,1069.5 79.1,1069.6 76.3,1069 73.1,1068.6 69.4,1068.7 65.4,1068.6 61.5,1068.4 57.8,1068.3 54.5,1067.8 51.8,1067.4 49.4,1068.2 47.2,1068.1 45.1,1068.5 43.1,1069.3 40.9,1069.5 38.6,1070.4 36.4,1070.5 34.1,1070.5 31.8,1070.6 29.5,1070.6 27.3,1070.1" fill="#b5d7a4" stroke="#94c17f" stroke-width="1"/>
<line x1="27.3" y1="1056" x2="179.4" y2="1056" stroke="#000" stroke-width="1.5" stroke-dasharray="5.6 2.4"/>
<line x1="128.1" y1="1041" x2="128.1" y2="1071.2" stroke="#000" stroke-width="2"/>
<path d="M27.3 1055.5l2.2-.5 2.3-.6 2.3-.3 2.3-.6 2.2-.3 2.3-.2 2.2-.6 2-.1 2.1-.5 2.2-.4 2.4 .1 2.7-.2 3.3-.2 3.7-.1 3.9-.2 4-.1 3.7 .1 3.2 0 2.8 .2 2.6 .7 2.3 .5 2.1 .7 2 .5 1.9 .5 1.6 .7 1.5 1.1 1.3 1.5 1.2 1.4 1.2 1.4 1.3 1.2 1.4 1.2 1.5 1.3 1.4 1.5 1.4 1.4 1.3 1.1 1.2 1.2 1.1 1 .8 .8 .9 1.1 .8 .7 .8 .3 1.1 .4 1.2-.1 1.3-.4 1.4-.1 1.4-.7 1.5-.8 1.4-.9 1.3-1.3 1.4-1.5 1.3-1.8 1.4-1.7 1.4-1.8 1.3-1.4 1.4-1.5 1.3-1.3 1.3-1.2 1.4-1.4 1.4-1.3 1.4-1.2 1.5-1.1 1.6-.9 1.6-.7 1.6-.6 1.6-.6 1.7-.4 1.6 0 1.6 .1 1.6 .5 1.6 .9 1.6 .6 1.5 .7 1.4 .7 1.4 .6 1.4 .8 1.3 .8 1.3 .8 1.4 .5 1.3 .4 1.4 .1 1.4-.1 1.4 0 1.3-.1 1.4 0 1.3 .1 1.2 0 1.3-.1 1.3-.1 1.2-.2 1.3 0" fill="none" stroke="#428a20" stroke-width="4.4" stroke-linejoin="round" stroke-linecap="round"/>
<polygon points="27.3,1109.7 29.4,1109.4 31.3,1108.7 33.2,1108.6 35.3,1107.5 37.8,1107.9 40.9,1107.6 44.7,1107.5 49.3,1108 54.2,1108.2 59.2,1108.7 63.9,1109.9 68.2,1110.5 71.9,1110.7 75.4,1111.6 78.7,1111.7 81.8,1112.1 84.6,1112.8 87.2,1113.6 89.6,1115.1 91.6,1116.5 93.4,1118 95,1118.5 96.6,1119.2 98.1,1120.3 99.7,1121.8 101.1,1124.2 102.4,1125.5 103.7,1126.9 105,1127.4 106.3,1127.6 107.7,1128.2 109,1128.6 110.2,1129.1 111.6,1129.7 113,1129.5 114.5,1129.6 116.2,1128.4 117.9,1127 119.8,1125.7 121.7,1123.3 123.6,1122.1 125.4,1120.8 127.2,1119.6 129,1118.4 130.9,1116.7 132.7,1114.9 134.5,1112.5 136.3,1111.3 138.1,1109.7 139.9,1108.7 141.8,1108.5 143.6,1107.9 145.4,1107.3 147.2,1107.3 149,1107.1 150.9,1107.4 152.7,1108 154.5,1107.9 156.3,1108.8 158.1,1108.8 159.9,1109.3 161.8,1109.7 163.6,1109.9 165.4,1110.1 167.2,1110.6 169,1110.8 170.8,1111.5 172.5,1112.5 174.2,1112.8 176,1113.4 177.7,1112.8 179.4,1112.6 179.4,1148.5 175.8,1148 172.1,1147.6 168.5,1147.3 164.8,1146.6 161.4,1146 158.1,1145.4 155.1,1145.1 152.1,1144.7 149.3,1145 146.6,1145.5 144.1,1146.4 141.8,1148.2 139.6,1148.6 137.7,1149.1 136,1149.8 134.3,1150.3 132.6,1151.5 130.9,1153 129,1154.4 127.2,1156 125.4,1158 123.6,1159.6 121.8,1160.3 120,1161.8 118.1,1162.7 116.3,1162.9 114.5,1164 112.7,1163.6 110.9,1163.4 109.1,1163.1 107.2,1162.5 105.4,1162.2 103.6,1160.7 101.8,1159.9 100,1158.4 98.1,1156.6 96.4,1155.7 94.8,1153.4 93.2,1150.9 91.5,1148.8 89.5,1147.1 87.2,1145.7 84.6,1145.2 81.7,1144.9 78.6,1144.6 75.2,1144.1 71.7,1143.9 68.2,1143.9 64.3,1143.1 60.1,1143.1 55.7,1143.1 51.4,1142.6 47.3,1142.5 43.6,1142.7 40.4,1143.2 37.6,1143.6 34.9,1144.1 32.4,1144.6 29.9,1144.3 27.3,1144.8" fill="#b5d7a4" stroke="#94c17f" stroke-width="1"/>
<line x1="27.3" y1="1130.9" x2="179.4" y2="1130.9" stroke="#000" stroke-width="1.5" stroke-dasharray="5.6 2.4"/>
<line x1="129" y1="1116.2" x2="129" y2="1146.2" stroke="#000" stroke-width="2"/>
<path d="M27.3 1126.6l2.2-.3 2.1-.4 2.1-.2 2.2-.1 2.4-.2 2.6-.1 2.9-.4 3.2-.1 3.3 0 3.3-.2 3.3 .3 3.1-.2 2.9 0 2.8-.1 2.8 0 2.7 .1 2.6 .3 2.5 .6 2.5 .6 2.5 .6 2.4 .9 2.2 .9 2.1 .9 2 1 1.6 1 1.4 .8 1.2 1.2 1.2 1.2 1.3 1.2 1.4 1.4 1.8 1.4 1.9 1.9 2 1.8 1.9 1.6 1.8 1.6 1.6 1.1 1.1 .8 1 .7 .7 .1 .8 .2 .8-.2 1-.2 1.2-.4 1.3-.9 1.4-.8 1.5-1.1 1.4-1.2 1.4-1.3 1.3-1.6 1.4-1.5 1.4-2.1 1.3-1.8 1.4-1.9 1.4-1.8 1.3-1.3 1.3-1.2 1.4-1 1.3-.7 1.4-.6 1.4-.8 1.6-.5 1.5-.7 1.6-.6 1.7-.3 1.6-.4 1.6 0 1.6 .4 1.5 .4 1.6 .7 1.5 .8 1.7 .6 1.6 .6 1.8 .7 1.8 .5 1.8 .6 1.9 .5 1.8 .4 1.8 .4 1.8 .3 1.7 .1 1.7 0 1.8 .3 1.7 .2 1.7 .3" fill="none" stroke="#428a20" stroke-width="4.4" stroke-linejoin="round" stroke-linecap="round"/>
<polygon points="27.3,1188.1 29.5,1187.6 31.8,1187.8 34.1,1187.8 36.4,1187.5 38.6,1187.6 40.9,1186.8 43.2,1186.5 45.4,1186.4 47.7,1186.4 50,1186.8 52.3,1186.7 54.5,1186.6 56.8,1186.8 59.1,1186.8 61.3,1187.5 63.6,1188.1 65.9,1189.2 68.2,1190.4 70.4,1191.4 72.7,1192.8 75,1194 77.2,1195.3 79.5,1196.4 81.8,1197.4 84.1,1198.5 86.4,1199.4 88.8,1200.3 91.1,1202 93.3,1202.4 95.4,1203.1 97.4,1202.9 99.3,1201.8 101,1201.4 102.8,1200.6 104.5,1200.3 106.3,1199.5 108.1,1198.6 110,1197.6 111.8,1195.9 113.6,1194.1 115.4,1192.7 117.2,1191.2 119.1,1190.2 121,1189.2 122.9,1187.9 124.7,1186.9 126.5,1186.5 128.1,1186.5 129.6,1186.2 130.9,1185.3 132.1,1185.1 133.3,1184.6 134.7,1184.1 136.3,1184.1 138.3,1183.9 140.5,1183.7 142.8,1183.9 145.2,1184.3 147.6,1184.7 149.9,1184.8 152.2,1185.6 154.4,1185.4 156.6,1185.3 158.9,1186.2 161.2,1186.7 163.6,1187.3 166.1,1188.1 168.7,1188.7 171.3,1188.5 174,1188.9 176.7,1188.8 179.4,1188.2 179.4,1230.5 176.8,1230.9 174.1,1231.2 171.5,1231 168.9,1230.6 166.2,1229.9 163.6,1229.5 160.9,1229.4 158.2,1229.2 155.4,1229.8 152.7,1229.6 150,1229 147.2,1228.3 144.4,1227.3 141.6,1227.3 138.7,1227 135.9,1227.3 133.3,1228 130.9,1228.5 128.7,1229.5 126.8,1229.9 125.1,1230.6 123.4,1231.1 121.7,1231.5 120,1232 118.2,1232.3 116.4,1233.4 114.7,1235 112.9,1236.4 111,1237.1 109.1,1237.9 106.9,1239 104.7,1239.7 102.4,1240 100.1,1240.1 97.7,1239.7 95.4,1238.9 93.1,1239 90.9,1237.9 88.6,1237.3 86.3,1237 84.1,1236.1 81.8,1235.7 79.5,1234.9 77.2,1233.5 75,1232.6 72.7,1231.6 70.4,1230.4 68.2,1229.9 65.9,1229.6 63.6,1228.7 61.3,1228.5 59.1,1228.1 56.8,1226.9 54.5,1226.4 52.3,1225.9 50,1225.8 47.7,1226.5 45.4,1226.7 43.2,1226.5 40.9,1226.4 38.6,1225.7 36.4,1226 34.1,1225.8 31.8,1225.8 29.5,1226 27.3,1225.4" fill="#b5d7a4" stroke="#94c17f" stroke-width="1"/>
<line x1="27.3" y1="1209.7" x2="179.4" y2="1209.7" stroke="#000" stroke-width="1.5" stroke-dasharray="5.6 2.4"/>
<line x1="128.1" y1="1193.9" x2="128.1" y2="1227.2" stroke="#000" stroke-width="2"/>
<path d="M27.3 1208.2l2.2 .2 2.3-.2 2.3 .2 2.3 .1 2.2 .2 2.3 .2 2.3-.1 2.2-.3 2.3-.5 2.3 0 2.3-.1 2.2 0 2.3 0 2.3 .1 2.2 .4 2.3 .6 2.3 1 2.3 .9 2.3 1 2.3 1 2.3 .8 2.3 .9 2.3 .8 2.1 1 2 1 1.9 .9 1.9 .9 1.8 .9 1.7 .9 1.6 .8 1.5 .5 1.4 .5 1.4 .2 1.2-.1 1.3 .2 1.4-.3 1.3 0 1.3-.1 1.3-.4 1.3-.4 1.4-.8 1.6-.9 1.6-1.1 1.9-1.1 1.9-1.5 1.9-1.6 1.9-1.5 1.7-1.4 1.5-1 1.4-1 1.3-.8 1.3-.8 1.3-.9 1.3-.9 1.4-.6 1.4-.7 1.3-.4 1.4-.1 1.4-.3 1.3 0 1.3 0 1.2-.2 1.3 .1 1.3 .1 1.4 .2 1.7 .3 1.9 .7 2 .5 2.1 .8 2.3 .6 2.5 .4 2.8 .7 3.1 .3 3.4 .3 3.7 .3 3.7-.3 3.8-.1 3.6 .2" fill="none" stroke="#428a20" stroke-width="4.4" stroke-linejoin="round" stroke-linecap="round"/>
<polygon points="27.3,1265.1 29.5,1265.1 31.8,1265.2 34.1,1265.8 36.4,1265.7 38.6,1265.8 40.9,1266.1 43.2,1265.8 45.4,1265.7 47.7,1265.3 50,1264.7 52.3,1264.8 54.5,1265.1 56.8,1265.8 59.1,1266.8 61.3,1267.9 63.6,1268.4 65.9,1268.8 68.2,1268.7 70.4,1268.4 72.7,1267.6 75,1266.6 77.2,1266 79.5,1265.1 81.8,1264.2 84.1,1264 86.5,1263.2 88.9,1262.5 91.3,1262.2 93.5,1261.7 95.4,1261.8 97.1,1261.7 98.4,1261.5 99.7,1261.4 100.9,1260.8 102.1,1260.2 103.6,1260.4 105.3,1261 107,1261.9 108.9,1262.7 110.8,1264 112.7,1264.6 114.5,1264.6 116.4,1265.2 118.3,1264.8 120.3,1264.7 122.2,1265.4 123.9,1266.1 125.4,1266.3 126.6,1267 127.4,1267.3 128.1,1267.3 128.8,1267.6 129.7,1267.5 130.9,1267.6 132.4,1267.5 134.1,1267.4 136,1267.1 137.9,1266.5 139.9,1265.8 141.8,1265 143.6,1264.5 145.4,1264.9 147.2,1265.3 149,1265.8 150.9,1266.4 152.7,1266.4 154.4,1266.7 156.1,1267.3 157.8,1267.4 159.6,1267.2 161.5,1266.3 163.6,1265.9 165.9,1265.6 168.5,1265.4 171.2,1265.2 173.9,1265.1 176.7,1265.1 179.4,1265.2 179.4,1315.2 176.7,1315 174,1314.9 171.3,1314.2 168.7,1314.5 166.1,1314.3 163.6,1314.1 161.2,1313.7 158.9,1313.7 156.6,1313.9 154.4,1314.7 152.2,1315.3 149.9,1315.4 147.6,1315.2 145.3,1314.8 143,1314.2 140.7,1314.3 138.4,1315 136.3,1314.6 134.3,1315.4 132.5,1315.3 130.7,1314.8 128.9,1314.8 127.2,1314.5 125.4,1314.6 123.6,1314.1 121.8,1313.6 120,1313.2 118.1,1312.8 116.3,1312.6 114.5,1312.4 112.7,1311.9 110.9,1311.6 109.1,1311.3 107.2,1311.3 105.4,1311.2 103.6,1310.8 101.8,1311.2 100,1311.3 98.1,1311 96.3,1311.3 94.5,1311.3 92.7,1310.8 90.9,1311.6 89.2,1312.4 87.4,1312.7 85.6,1313.7 83.8,1314.2 81.8,1313.9 79.7,1314 77.4,1314.6 75.1,1315.3 72.8,1315.4 70.5,1315.5 68.2,1315.3 65.9,1315.1 63.6,1315.3 61.3,1315 59.1,1314.7 56.8,1314.1 54.5,1313.9 52.3,1314.2 50,1313.9 47.7,1313.7 45.4,1313.1 43.2,1313.2 40.9,1313.5 38.6,1313.8 36.4,1314.4 34.1,1313.8 31.8,1313.7 29.5,1314.2 27.3,1314.5" fill="#e49aab" stroke="#d4808f" stroke-width="1"/>
<line x1="27.3" y1="1290" x2="179.4" y2="1290" stroke="#000" stroke-width="1.5" stroke-dasharray="5.6 2.4"/>
<line x1="128.1" y1="1270.9" x2="128.1" y2="1311.2" stroke="#000" stroke-width="2"/>
<path d="M27.3 1289.9l2.2 .2 2.3 0 2.3 .1 2.3-.1 2.2-.2 2.3 .1 2.3 0 2.2 .1 2.3 .4 2.3 .1 2.3 .4 2.2 .3 2.3 .4 2.4 .3 2.3 .3 2.3 .4 2.2 .1 2.2 .1 1.9 0 1.9-.5 1.8-.5 1.7-.6 1.8-.7 1.8-.4 1.8-.6 1.8-.4 1.9-.5 1.8-.5 1.8-.3 1.8-.3 1.6-.6 1.6-.8 1.6-.7 1.6-.5 1.5-.4 1.6 0 1.6 0 1.5 .3 1.6 .5 1.6 .4 1.6 .6 1.7 .3 1.7 .1 1.9 .6 1.9 .2 1.9 .3 1.8 .4 1.7 .2 1.5 .3 1.4 .2 1.3 .5 1.3 .3 1.3 .1 1.3 .3 1.3-.2 1.3 .1 1.2 .2 1.3-.1 1.4 .2 1.7 .1 2 .2 2.2 .3 2.3 .1 2.4 .1 2.4 .1 2.3 .1 2.3 0 2.2-.1 2.2-.3 2.3-.4 2.3-.1 2.4-.2 2.5 .1 2.6 .3 2.6-.1 2.7 .1 2.7 0 2.7-.3" fill="none" stroke="#a5001f" stroke-width="4.4" stroke-linejoin="round" stroke-linecap="round"/>
<polygon points="27.3,1349.9 29.5,1350 31.8,1349.7 34.1,1349.5 36.4,1349.5 38.6,1349.2 40.9,1349.2 43.2,1348.5 45.4,1348 47.7,1346.6 50,1345.7 52.3,1345.6 54.5,1345 56.8,1345.3 59.1,1345.1 61.3,1345.3 63.6,1346 65.9,1346 68.2,1346.7 70.5,1346.3 72.8,1345.8 75.1,1344.8 77.4,1344 79.7,1342.5 81.8,1341.6 83.8,1340.7 85.6,1339.6 87.4,1339.2 89.2,1338.4 90.9,1338.1 92.7,1337.3 94.5,1337.4 96.4,1337.7 98.3,1337.6 100.2,1338 101.9,1338.5 103.6,1339.3 105.1,1339.9 106.5,1341.1 107.9,1341.5 109.2,1341.8 110.4,1343 111.8,1343.9 113.1,1345.4 114.4,1346.8 115.7,1347.4 117,1347.9 118.4,1349 120,1349.6 121.6,1350.3 123.4,1350.3 125.2,1350.5 127.1,1350.8 129,1350.6 130.9,1350.9 132.7,1349.9 134.5,1349.4 136.3,1349.2 138.1,1348.5 139.9,1347.9 141.8,1347 143.6,1346 145.4,1345.7 147.2,1345.4 149,1345.4 150.9,1345.5 152.7,1344.7 154.4,1345.2 156.1,1345.3 157.8,1345.6 159.6,1345.6 161.5,1345.8 163.6,1345.9 165.9,1346 168.5,1346.3 171.2,1345.8 173.9,1345.1 176.7,1344.4 179.4,1344.4 179.4,1389.9 176.8,1390.1 174.1,1390.1 171.5,1389.6 168.9,1389.7 166.2,1389.7 163.6,1389.4 160.9,1389.5 158.2,1389.5 155.4,1388.8 152.7,1389.1 150,1389.8 147.2,1389.5 144.4,1390.1 141.6,1390.7 138.7,1390.7 135.9,1391.6 133.3,1391.7 130.9,1392 128.7,1392.1 126.7,1392.1 124.9,1392.2 123.2,1392.1 121.6,1392.1 120,1391.5 118.4,1391.1 117,1389.6 115.7,1388.5 114.4,1387.4 113.1,1386.5 111.8,1386.3 110.4,1385.9 109.2,1385.3 107.9,1384.6 106.5,1383.8 105.1,1383.2 103.6,1383.1 101.9,1382.6 100.2,1381.8 98.3,1382.6 96.4,1382.6 94.5,1383.1 92.7,1384.2 90.9,1384.3 89.2,1384.6 87.4,1385.4 85.6,1386 83.8,1386.4 81.8,1387.5 79.7,1387.6 77.4,1387.9 75.1,1388.2 72.8,1387.9 70.5,1388.1 68.2,1388.2 65.9,1388.3 63.6,1388.5 61.3,1388.5 59.1,1388.4 56.8,1388.5 54.5,1388.8 52.3,1389.7 50,1390.2 47.7,1389.7 45.4,1390 43.2,1389.9 40.9,1390.5 38.6,1392.1 36.4,1393 34.1,1393.9 31.8,1393.6 29.5,1393.4 27.3,1393.4" fill="#e49aab" stroke="#d4808f" stroke-width="1"/>
<line x1="27.3" y1="1367.7" x2="179.4" y2="1367.7" stroke="#000" stroke-width="1.5" stroke-dasharray="5.6 2.4"/>
<line x1="128.1" y1="1350" x2="128.1" y2="1385.9" stroke="#000" stroke-width="2"/>
<path d="M27.3 1373.3l2.3-.6 2.3-.6 2.3-.7 2.4-.7 2.2-.7 2.1-.5 1.9-.6 1.8-.5 1.7-.5 1.8-.5 1.8-.5 1.9-.3 2.1 0 2.3 .6 2.4 .7 2.4 .5 2.3 .5 2.1 .2 2-.1 1.9-.3 1.8-.6 1.7-.6 1.7-.6 1.8-.7 1.9-.7 1.8-.8 1.9-1.1 1.8-.8 1.8-1 1.7-.9 1.7-.8 1.7-1 1.6-.9 1.6-.8 1.5-.7 1.5-.5 1.4-.4 1.5-.2 1.3 .1 1.4 .3 1.3 .3 1.3 .4 1.2 .4 1.1 .6 1.1 .8 1.1 .8 1.1 .7 1.2 .8 1.3 1.2 1.3 1.3 1.4 1.6 1.4 1.4 1.4 1.1 1.4 1.1 1.3 .7 1.4 .7 1.3 .7 1.4 .6 1.4 .5 1.3 .5 1.4 .1 1.3 .3 1.3-.1 1.3 0 1.4-.1 1.5-.5 1.6-.2 1.7-.6 1.8-.4 1.9-.6 1.9-.5 2-.5 2.1-.5 2.1-.5 2.2-.4 2.2-.6 2.5-.4 2.6-.3 2.8 0 3 .3 3.1 .4 3.2 .6 3.2 .6 3.2 .7" fill="none" stroke="#a5001f" stroke-width="4.4" stroke-linejoin="round" stroke-linecap="round"/>
<polygon points="27.3,1427.2 29.5,1427.2 31.8,1427.2 34.1,1426.7 36.4,1426.2 38.6,1426 40.9,1425.9 43.1,1425.6 45.3,1424.9 47.5,1424.9 49.8,1424.5 52.1,1424.2 54.5,1424.6 57.2,1424.1 60,1423.8 62.9,1423.7 65.7,1422.9 68.4,1422.5 70.9,1422.1 73,1421.6 74.9,1421.5 76.7,1421.2 78.4,1420.6 80,1419.7 81.8,1419.2 83.6,1418.7 85.4,1418 87.2,1417.6 89.1,1416.9 90.9,1416.5 92.7,1415.6 94.5,1415.3 96.3,1414.6 98.1,1414.4 100,1414.6 101.8,1414.3 103.6,1414.8 105.4,1414.4 107.2,1414.8 109.1,1415.5 110.9,1416.4 112.7,1417.5 114.5,1418.4 116.3,1419.6 118.1,1420.1 120,1421.4 121.8,1422.5 123.6,1423.1 125.4,1424.7 127.2,1425 128.9,1425.2 130.7,1426.2 132.5,1425.9 134.3,1425.9 136.3,1426.3 138.4,1425.8 140.7,1425 143,1424.5 145.3,1423.5 147.6,1422.7 149.9,1422.8 152.2,1422.2 154.4,1421.9 156.6,1421.6 158.9,1420.7 161.2,1420.9 163.6,1421.3 166.1,1421.3 168.7,1421.1 171.3,1420.8 174,1420.6 176.7,1420.6 179.4,1420.8 179.4,1461.2 175.8,1461.6 172.1,1461.8 168.5,1462.7 164.8,1462.8 161.4,1462.8 158.1,1463.5 155.1,1463.2 152.2,1462.8 149.5,1463 146.8,1463.2 144.3,1463.6 141.8,1464.5 139.3,1465 136.8,1464.9 134.4,1465.1 132.2,1465.1 130.1,1465.1 128.1,1464.5 126.5,1464.1 125,1464.1 123.7,1463.8 122.5,1464.6 121.3,1464.6 120,1464 118.6,1464.2 117.2,1463.4 115.9,1463.2 114.5,1462.9 113.1,1461.8 111.8,1461.1 110.4,1459.9 109.1,1459.5 107.7,1459.1 106.3,1458.8 105,1458.8 103.6,1458.4 102.3,1458.2 101.1,1457.5 99.9,1457.5 98.6,1457.7 97.1,1457.8 95.4,1458.8 93.5,1459.6 91.3,1460 88.9,1460.3 86.5,1460.6 84.1,1460.9 81.8,1461.8 79.5,1462.6 77.2,1463.3 75,1463.6 72.7,1464 70.4,1464.4 68.2,1464.8 65.9,1465.8 63.6,1466.1 61.3,1466.7 59.1,1467 56.8,1466.9 54.5,1466.9 52.3,1467.2 50,1467.4 47.7,1468.1 45.4,1468.6 43.2,1468.3 40.9,1468.5 38.6,1468.6 36.4,1469.4 34.1,1470.1 31.8,1470.3 29.5,1470.9 27.3,1471.1" fill="#e49aab" stroke="#d4808f" stroke-width="1"/>
<line x1="27.3" y1="1442.1" x2="179.4" y2="1442.1" stroke="#000" stroke-width="1.5" stroke-dasharray="5.6 2.4"/>
<line x1="128.1" y1="1426.3" x2="128.1" y2="1458.5" stroke="#000" stroke-width="2"/>
<path d="M27.3 1449.5l2.2-.5 2.3-.3 2.3-.6 2.3-.5 2.2-.3 2.3-.6 2.3-.5 2.2-.4 2.3-.5 2.3-.4 2.3-.5 2.2-.4 2.3-.4 2.3-.3 2.2 0 2.3-.2 2.3-.1 2.3-.2 2.3-.7 2.3-.7 2.3-.8 2.3-.6 2.3-.9 2.1-.6 2-.7 1.9-1 1.9-.9 1.8-.9 1.7-.9 1.6-.9 1.5-.8 1.4-.7 1.4-.8 1.2-.6 1.3-.2 1.4-.5 1.3 .1 1.4 .1 1.4 0 1.3 .5 1.4 .2 1.4 .6 1.3 .9 1.4 .8 1.3 1.2 1.4 1.2 1.4 1 1.3 1.2 1.4 1.2 1.5 1.1 1.4 1.3 1.4 1.1 1.3 1.1 1.2 .8 1 .7 .8 .5 .8 .3 .7 .3 1 .1 1.2 .1 1.4-.1 1.6-.3 1.7-.4 1.9-.5 2.1-.5 2.2-.3 2.3-.3 2.5-.2 2.7-.2 2.8-.3 3-.5 3-.4 3.3-.3 3.4 0 3.7 0 3.6-.1 3.7-.1 3.6-.2" fill="none" stroke="#a5001f" stroke-width="4.4" stroke-linejoin="round" stroke-linecap="round"/>
<polygon points="27.3,1494.3 29.5,1494.3 31.8,1494.3 34.1,1495.2 36.4,1495.6 38.6,1495.8 40.9,1495.8 43.2,1495.8 45.4,1495.8 47.7,1496.1 50,1496.4 52.3,1496.5 54.5,1496.8 56.9,1497.8 59.3,1499.5 61.7,1501.1 64,1501.7 66.2,1502.6 68.2,1503 69.8,1503.2 71.2,1503.4 72.4,1502.9 73.6,1502.7 74.9,1502.4 76.3,1502 78,1501 79.9,1499 81.8,1496.9 83.7,1495.2 85.5,1494.2 87.2,1493.6 88.7,1493.2 90.1,1492.7 91.3,1492 92.6,1491.3 93.9,1491.1 95.4,1490.3 97.1,1489.8 99,1489.7 100.9,1489.7 102.8,1491 104.6,1491 106.3,1491.5 107.8,1490.7 109.3,1490.6 110.6,1491.4 111.9,1492 113.2,1493.5 114.5,1493.6 115.9,1494.7 117.2,1496.3 118.6,1498.5 120,1501 121.3,1503 122.7,1504.6 124,1505.3 125.4,1507 126.8,1508.8 128.1,1509.7 129.5,1510.8 130.9,1511.3 132.2,1510.6 133.6,1509.7 135,1508.5 136.3,1506.8 137.7,1504.4 139,1503.4 140.4,1502 141.7,1500.2 143,1499.2 144.3,1497.1 145.7,1496.3 147.2,1495.3 148.9,1493.7 150.7,1492.8 152.5,1491.3 154.4,1490.8 156.3,1490.2 158.1,1489.9 159.9,1490.4 161.8,1490.6 163.6,1491.5 165.4,1492.3 167.2,1492.3 169,1493.2 170.8,1493.7 172.5,1493.9 174.2,1494.8 176,1494.7 177.7,1494.9 179.4,1495.9 179.4,1531.5 177.7,1531.7 176,1531.6 174.2,1532 172.5,1532.3 170.8,1532.4 169,1533.3 167.2,1533.6 165.4,1533.6 163.6,1533.1 161.8,1533.2 159.9,1532.9 158.1,1533.3 156.3,1533.4 154.5,1533.9 152.7,1535 150.9,1535.4 149,1536.8 147.2,1537.8 145.4,1538.2 143.5,1539.8 141.6,1541.4 139.7,1542.6 138,1544.1 136.3,1544.9 134.8,1545.8 133.4,1546.6 132.1,1547 130.8,1547.4 129.5,1547.8 128.1,1547.5 126.8,1547.7 125.4,1546.8 124,1545.5 122.7,1544.4 121.3,1543.6 120,1543.1 118.6,1541.8 117.3,1541.2 116,1539.4 114.7,1537.7 113.3,1536.5 111.8,1534.9 110.1,1534.2 108.3,1534.1 106.5,1534.1 104.6,1534.4 102.7,1534.7 100.9,1534.4 99.1,1534.4 97.2,1534.8 95.4,1535.4 93.6,1536.2 91.8,1537.6 90,1538 88.1,1538.7 86.3,1539.3 84.5,1539.9 82.7,1541.2 80.9,1542 79.1,1543.1 77.3,1542.4 75.5,1542.2 73.8,1541.7 72,1541.3 70.1,1541.7 68.2,1540.9 66,1539.9 63.8,1538.5 61.5,1537.3 59.2,1536.4 56.8,1535.3 54.5,1534.7 52.3,1534 50,1534 47.7,1534.2 45.4,1533.8 43.2,1534.1 40.9,1533.9 38.6,1533.8 36.4,1534 34.1,1533.7 31.8,1533.4 29.5,1532.7 27.3,1532.9" fill="#b9a7d6" stroke="#9c86c2" stroke-width="1"/>
<line x1="27.3" y1="1515" x2="179.4" y2="1515" stroke="#000" stroke-width="1.5" stroke-dasharray="5.6 2.4"/>
<line x1="128.7" y1="1501.4" x2="128.7" y2="1530" stroke="#000" stroke-width="2"/>
<path d="M27.3 1513.8l2.2-.2 2.3-.1 2.3 .2 2.3-.2 2.2 .1 2.3 0 2.3 .1 2.2 .2 2.3 0 2.3 .2 2.3 .3 2.2 .6 2.4 1.1 2.4 1.1 2.4 1.4 2.3 1.2 2.2 1 2 1 1.6 .4 1.5 .3 1.3 .2 1.2 .1 1.2-.1 1.3-.2 1.4-.7 1.4-.8 1.3-1.1 1.4-1.2 1.4-1.1 1.3-1.3 1.3-1.2 1.3-1.5 1.3-1.6 1.4-1.2 1.4-1.5 1.5-1.1 1.7-.9 1.8-.8 1.9-.4 2-.4 1.8 0 1.7-.2 1.5 0 1.4 .4 1.4 0 1.3 .5 1.2 .6 1.4 .7 1.3 1.5 1.4 1.9 1.4 2.1 1.3 2 1.4 2 1.4 1.6 1.4 1.8 1.4 1.7 1.4 1.9 1.4 1.5 1.3 1.3 1.2 .9 1.1 .3 1 0 .8-.1 .9-.2 .8-.4 .9-.3 .9-.7 .8-.9 .8-.9 .9-1 1-.9 1-1 1.2-1.4 1.3-1.5 1.3-1.6 1.4-1.5 1.5-1.2 1.5-1.1 1.7-1 1.8-.9 1.8-.6 1.9-.6 1.9-.4 1.8-.4 1.8-.4 1.9 0 1.8 .2 1.8 .2 1.8 .3 1.8 .2 1.8 .4 1.7 .7 1.7 .6 1.8 .8 1.7 .5 1.7 .7" fill="none" stroke="#4a1c82" stroke-width="4.4" stroke-linejoin="round" stroke-linecap="round"/>
<polygon points="27.3,1579.1 29.5,1579.2 31.8,1579.2 34.1,1579.2 36.4,1579.3 38.6,1578.7 40.9,1578 43.2,1577.9 45.4,1576.3 47.7,1575.6 50,1575.4 52.3,1574.5 54.5,1574 56.8,1574.1 59.1,1574.2 61.3,1574.5 63.6,1575.5 65.9,1575.4 68.2,1574.6 70.5,1574.2 72.8,1573.5 75.1,1573.1 77.4,1573 79.7,1572.7 81.8,1572.3 83.8,1571.5 85.6,1570.9 87.4,1569.9 89.2,1569 90.9,1568.6 92.7,1568.2 94.5,1567.7 96.4,1567.1 98.3,1566.6 100.2,1566.2 101.9,1566.3 103.6,1566.4 105.1,1567.2 106.5,1567 107.9,1567.9 109.2,1568.5 110.4,1568.6 111.8,1569.8 113.1,1571.1 114.5,1572.2 115.9,1573.7 117.2,1575.1 118.6,1576.1 120,1577 121.3,1578.3 122.7,1579 124,1580.3 125.4,1581.5 126.8,1581.6 128.1,1581.8 129.5,1581.2 130.8,1581.4 132.1,1581.1 133.4,1580.8 134.8,1579.9 136.3,1578.4 138,1577.9 139.7,1577.9 141.6,1577.6 143.5,1577.8 145.4,1576.8 147.2,1575.6 149,1574.6 150.9,1573.9 152.7,1573 154.5,1572.3 156.3,1572.4 158.1,1571.9 159.9,1572.2 161.8,1572.7 163.6,1572.3 165.4,1572.5 167.2,1572.8 169,1572.9 170.8,1573.9 172.5,1574.2 174.2,1574.3 176,1574 177.7,1573.5 179.4,1573.7 179.4,1613.1 177.7,1612.6 176,1612.5 174.2,1612.3 172.5,1611.7 170.8,1612.2 169,1611.8 167.2,1611.9 165.4,1612.7 163.6,1612.7 161.8,1613.2 159.9,1613.3 158.1,1613.3 156.3,1613.6 154.5,1614.2 152.7,1614.2 150.9,1614.5 149,1614.1 147.2,1614.1 145.4,1615.1 143.5,1616.1 141.6,1618.8 139.7,1620.9 138,1622.6 136.3,1623.5 134.8,1623.5 133.4,1623.7 132.1,1623.9 130.8,1624.1 129.5,1624.6 128.1,1624.6 126.8,1624 125.4,1624 124,1622.4 122.7,1620.9 121.3,1620.1 120,1618.5 118.6,1617.4 117.2,1615.7 115.9,1613.6 114.5,1611.7 113.1,1610.2 111.8,1609.7 110.4,1609 109.2,1608.8 107.9,1608.4 106.5,1607.8 105.1,1607.7 103.6,1607.3 101.9,1606.7 100.2,1606.9 98.3,1607.2 96.4,1607.2 94.5,1608.2 92.7,1607.7 90.9,1608.1 89.2,1608.3 87.4,1609 85.6,1610.3 83.8,1611.3 81.8,1612.1 79.7,1612.2 77.4,1612.3 75.1,1612.4 72.8,1613.2 70.5,1613.6 68.2,1613.8 65.9,1614.5 63.6,1613.9 61.3,1614.8 59.1,1615.5 56.8,1614.7 54.5,1615.6 52.3,1615.5 50,1615.8 47.7,1616.6 45.4,1617 43.2,1617 40.9,1617.1 38.6,1617.3 36.4,1617.6 34.1,1617.8 31.8,1618.6 29.5,1619 27.3,1619.3" fill="#b9a7d6" stroke="#9c86c2" stroke-width="1"/>
<line x1="27.3" y1="1594" x2="179.4" y2="1594" stroke="#000" stroke-width="1.5" stroke-dasharray="5.6 2.4"/>
<line x1="128.7" y1="1578.5" x2="128.7" y2="1606.3" stroke="#000" stroke-width="2"/>
<path d="M27.3 1601l2.2-.6 2.3-.9 2.3-.6 2.3-.9 2.2-.7 2.3-.5 2.3-.8 2.2-.4 2.3-.5 2.3-.3 2.3-.3 2.2-.3 2.3-.2 2.3-.3 2.2 0 2.3-.4 2.3 0 2.3 0 2.3-.2 2.3 .1 2.3-.3 2.3-.4 2.3-.4 2.1-.6 2-.7 1.8-1 1.8-1.1 1.8-1 1.7-1.2 1.8-.9 1.8-.7 1.9-1 1.9-.6 1.9-.7 1.7-.7 1.7-.4 1.5-.4 1.4 .1 1.4 .2 1.3 .2 1.2 .7 1.4 .7 1.3 1.1 1.4 1.6 1.4 1.6 1.3 1.7 1.4 1.9 1.4 1.7 1.4 2.3 1.4 2.4 1.4 2.6 1.4 2.5 1.3 2 1.2 1.7 1.1 1.1 .9 .7 .8 .3 .8-.1 .9-.3 1-.4 1.2-.3 1.2-.7 1.3-.9 1.4-.9 1.5-1.3 1.6-1.2 1.6-1 1.8-1.3 1.8-1.1 1.9-1.2 1.9-1.3 1.9-1.1 1.8-1 1.8-.9 1.8-.7 1.8-.5 1.9-.4 1.8-.2 1.9-.2 1.9-.1 2-.1 1.9-.1 1.7 .1 1.5 .2 1.1 .2 1 .5 .7 .4 .7 .4 .6 .3 .8 .4" fill="none" stroke="#4a1c82" stroke-width="4.4" stroke-linejoin="round" stroke-linecap="round"/>
<polygon points="27.3,1656.2 29.5,1656.3 31.8,1656.1 34.1,1656.5 36.4,1655.9 38.6,1655.8 40.9,1655.5 43.2,1655 45.4,1654.2 47.7,1653.6 50,1653.8 52.3,1653.3 54.5,1653.3 56.8,1653.2 59.1,1652.9 61.3,1652.7 63.6,1653 65.9,1652.4 68.2,1651.6 70.5,1651.2 72.8,1650.5 75.1,1649.7 77.4,1649.3 79.7,1648.5 81.8,1647.5 83.8,1646.8 85.6,1646 87.4,1645.9 89.2,1645.5 90.9,1645 92.7,1644.5 94.5,1644.2 96.3,1644.3 98.1,1644.6 100,1645 101.8,1644.5 103.6,1644.4 105.4,1644.9 107.3,1645.2 109.2,1645.6 111.1,1646.3 112.8,1646.6 114.5,1647.2 116,1648.3 117.4,1650 118.8,1651.5 120.1,1653.4 121.4,1654.9 122.7,1655.2 124,1656.2 125.4,1656.5 126.8,1657.3 128.1,1658.9 129.5,1659.7 130.9,1659.9 132.2,1659.9 133.5,1659.2 134.8,1658.2 136.1,1658.1 137.5,1657.4 139,1656.9 140.7,1656.4 142.4,1655.3 144.2,1654.2 146,1652.8 147.9,1650.8 149.9,1649.8 152,1648.7 154.2,1647.8 156.5,1647.6 158.8,1646.9 161.1,1646.3 163.6,1646.1 166.1,1646.4 168.7,1647 171.3,1647.7 174,1648.6 176.7,1649.8 179.4,1649.9 179.4,1684.5 176.7,1685.4 174,1685 171.3,1684.9 168.7,1685.5 166.1,1685.2 163.6,1685.9 161.1,1686.3 158.8,1686 156.5,1686.1 154.2,1686 152,1686.7 149.9,1687.6 147.9,1688.5 146,1690.4 144.2,1691.9 142.4,1694.1 140.7,1695.6 139,1696.8 137.5,1698.5 136,1699.1 134.6,1700.5 133.3,1701.3 132,1701.2 130.9,1701.4 129.8,1701.3 128.9,1701.1 128.1,1701 127.3,1700.1 126.4,1699.1 125.4,1698.3 124.2,1696.5 122.9,1695.4 121.5,1694.4 120.1,1692.9 118.6,1692.3 117.2,1691.3 115.9,1689.7 114.7,1688.6 113.5,1687.1 112.2,1686.3 110.7,1686.3 109.1,1685.5 107.1,1685 104.9,1685.3 102.6,1685 100.2,1685 97.8,1685.7 95.4,1685.1 93.1,1685.2 90.9,1685.7 88.6,1685.5 86.3,1685.6 84.1,1686 81.8,1685.9 79.5,1686.6 77.2,1687 75,1687 72.7,1687.8 70.4,1687.8 68.2,1688.3 65.9,1688.8 63.6,1688.6 61.3,1688.8 59.1,1689.2 56.8,1689.2 54.5,1689.5 52.3,1689.5 50,1689.1 47.7,1688.9 45.4,1688.8 43.2,1689.1 40.9,1689.3 38.6,1690 36.4,1690.3 34.1,1690.6 31.8,1691.1 29.5,1691.4 27.3,1691" fill="#b9a7d6" stroke="#9c86c2" stroke-width="1"/>
<line x1="27.3" y1="1669.8" x2="179.4" y2="1669.8" stroke="#000" stroke-width="1.5" stroke-dasharray="5.6 2.4"/>
<line x1="128.7" y1="1655.9" x2="128.7" y2="1679.9" stroke="#000" stroke-width="2"/>
<path d="M27.3 1674.6l2.2-.4 2.3-.6 2.3-.6 2.3-.3 2.2-.5 2.3-.6 2.3-.4 2.2-.2 2.3-.3 2.3-.1 2.3-.1 2.2-.5 2.3-.3 2.4-.5 2.3-.3 2.3-.2 2.2-.2 2.2-.1 2 .1 1.9-.2 1.9 0 1.7-.2 1.7-.2 1.7-.5 1.5-.6 1.3-.4 1.3-.7 1.2-.4 1.4-.6 1.4-.8 1.7-.9 1.8-1.1 1.8-1.3 1.9-1.1 1.9-.8 1.8-.5 1.9-.3 1.9-.1 1.9 .1 1.8-.1 1.8 0 1.7 .4 1.5 .1 1.4 .7 1.3 .7 1.3 .8 1.3 1.5 1.3 1.4 1.4 2 1.5 2.3 1.4 2.4 1.4 2.4 1.3 2.6 1.2 2 1.1 1.8 .9 1.5 .9 1.3 .8 1.2 .9 .7 .9 .6 .8 .3 .9 .1 .8-.1 .9-.2 .9-.6 1.1-.8 1.2-1 1.2-1.4 1.4-1.4 1.4-1.6 1.4-1.5 1.6-1.6 1.7-1.6 1.7-1.5 1.9-1.4 1.9-1.1 1.8-1.3 1.9-1 1.8-.8 1.8-.8 1.7-.1 1.8-.2 1.9-.2 1.9 .1 2.1-.1 2.1 .3 2.2 .3 2.2 .3 2.3 .5 2.2 .4" fill="none" stroke="#4a1c82" stroke-width="4.4" stroke-linejoin="round" stroke-linecap="round"/>
<line x1="209.9" y1="1062.5" x2="359.9" y2="1062.5" stroke="#000" stroke-width="1.5" stroke-dasharray="5.6 2.4"/>
<line x1="309.7" y1="1047.8" x2="309.7" y2="1077.2" stroke="#000" stroke-width="2"/>
<path d="M209.9 1029.5l.4 3 .3 3 .3 3.1 .4 2.9 .4 2.9 .4 2.8 .5 2.9 .5 2.9 .6 2.8 .6 2.6 .5 2.2 .6 1.6 .4 1.1 .4 .5 .4 .2 .4-.2 .5-.3 .6-.4 .8-.7 .8-1 1-1.3 .9-1.2 1-1.2 1-.9 .8-.7 .9-.6 .8-.6 .9-.4 .9-.3 1.1-.1 1.2 0 1.3 .2 1.4 .3 1.5 .4 1.4 .3 1.4 .1 1.3 0 1.3-.2 1.3-.3 1.3-.2 1.4 0 1.6 .2 1.6 .5 1.8 .7 1.8 .9 1.9 1 1.9 .8 1.9 .7 1.8 .5 1.9 .3 1.9 .3 1.8 .3 1.8 .2 1.7 .3 1.5 .3 1.5 .3 1.4 .3 1.3 .3 1.3 .4 1.2 .6 1 .7 1 .7 .9 .8 .8 .9 .8 1.1 .9 1.3 .9 1.5 .9 1.7 .8 1.9 .9 2 1 2 1 1.8 1 1.8 1.2 1.9 1.2 2 1.2 1.7 1.1 1.3 1.1 .8 .9 .2 .9-.4 .9-.7 .9-1 .9-1.1 .9-1.1 1.1-1.1 1-1.3 1.2-1.3 1.1-1.5 1.2-1.5 1.2-1.5 1.3-1.5 1.4-1.7 1.3-1.6 1.4-1.7 1.4-1.6 1.4-1.4 1.4-1.4 1.4-1.3 1.5-1.2 1.4-1.1 1.3-1 1.2-.8 1-.7 .9-.6 .8-.5 .8-.3 .9-.1 1.1 0 1.2 .2 1.3 .5 1.4 .7 1.4 .7 1.4 .7 1.4 .7 1.4 .8 1.4 .8 1.3 .9 1.4 .7 1.3 .6 1.4 .3 1.4 0 1.4-.4 1.5-.5 1.4-.7 1.3-.6 1.2-.5 1.1-.5 1-.5 1-.5 .8-.4 .8-.3 .7 0 .7 .3 .5 .5 .4 .6 .4 .8 .3 .7 .5 .7" fill="none" stroke="#6cb33c" stroke-width="4.4" stroke-linejoin="round" stroke-linecap="round"/>
<line x1="209.9" y1="1138.3" x2="359.9" y2="1138.3" stroke="#000" stroke-width="1.5" stroke-dasharray="5.6 2.4"/>
<line x1="310.3" y1="1127.7" x2="310.3" y2="1148.1" stroke="#000" stroke-width="2"/>
<path d="M209.9 1104.5l.4 3.2 .3 3.3 .3 3.2 .4 3.2 .4 3.2 .4 3 .5 3 .5 3.2 .6 3.1 .6 2.8 .5 2.4 .6 1.8 .4 1.2 .4 .7 .4 .3 .4-.1 .5-.3 .6-.4 .8-.7 .8-1 1-1.3 .9-1.3 1-1.4 1-1.1 .8-1.1 .9-1.2 .8-1.1 .9-1 .9-.7 1.1-.4 1.2 .2 1.3 .5 1.4 .8 1.5 .9 1.4 1 1.4 .7 1.3 .7 1.4 .8 1.4 .7 1.3 .6 1.4 .5 1.4 .3 1.3-.1 1.4-.5 1.4-.6 1.3-.5 1.4-.5 1.3 0 1.4 .3 1.4 .6 1.3 .7 1.4 .9 1.4 .8 1.3 .8 1.4 .7 1.3 .9 1.4 .8 1.4 .8 1.3 .6 1.4 .3 1.4-.3 1.4-.6 1.4-.9 1.4-.8 1.3-.4 1.3 .2 1.2 1.1 1.2 1.6 1.2 2 1.1 2.2 1.1 2.1 1 1.9 1 1.8 1 1.7 .9 1.7 .9 1.7 .8 1.4 .8 1.3 .8 1.1 .7 1.1 .6 .8 .6 .7 .7 .4 .7 0 .8-.5 .9-1 .8-1.3 .9-1.4 1-1.4 1.1-1.2 1.2-1.2 1.3-1.2 1.4-1.1 1.4-1.2 1.5-1.1 1.4-1.1 1.3-.9 1.3-.9 1.3-.8 1.3-.8 1.4-1 1.5-1 1.7-1.3 1.8-1.6 1.8-1.7 1.9-1.6 1.9-1.2 1.9-.8 1.8-.1 1.9 .3 1.9 .7 1.8 .7 1.8 .7 1.7 .4 1.5 .2 1.4 .1 1.3 0 1.3-.1 1.3-.1 1.3-.1 1.4-.2 1.5-.5 1.4-.5 1.4-.3 1.3-.1 1.2 .3 1.1 .8 .9 1.2 .9 1.5 .9 1.6 .8 1.6 .9 1.5" fill="none" stroke="#6cb33c" stroke-width="4.4" stroke-linejoin="round" stroke-linecap="round"/>
<line x1="209.9" y1="1211.9" x2="359.9" y2="1211.9" stroke="#000" stroke-width="1.5" stroke-dasharray="5.6 2.4"/>
<line x1="309.7" y1="1184.1" x2="309.7" y2="1240.3" stroke="#000" stroke-width="2"/>
<path d="M209.9 1210.8l1.4-.4 1.5-.5 1.4-.5 1.4-.5 1.3-.2 1.2-.1 1.1 .3 .9 .5 .9 .6 .8 .7 .9 .8 .9 .7 .8 .7 .9 .9 .8 .9 .9 .8 .9 .6 1.1 .2 1.2-.3 1.4-.7 1.5-.9 1.5-1 1.3-.8 1.3-.4 1-.2 .9 .1 .8 .2 .8 .3 .9 .4 1 .5 1.2 .7 1.4 .9 1.4 .9 1.4 1 1.4 1 1.4 1 1.4 .9 1.3 .9 1.4 .9 1.4 .9 1.3 .9 1.4 .9 1.4 .9 1.3 .9 1.4 .9 1.3 .9 1.4 .9 1.4 1 1.3 1.2 1.4 1.3 1.4 1.3 1.3 1.3 1.4 1 1.4 .7 1.3 .2 1.4-.3 1.3-.5 1.4-.5 1.4-.3 1.3 .1 1.4 .6 1.5 1 1.5 1.3 1.4 1.1 1.3 1 1.1 .4 .9 0 .8-.3 .6-.6 .6-.9 .6-1 .6-1.3 .7-1.6 .6-1.9 .7-2.1 .6-2.3 .7-2.2 .8-2.2 .8-2.1 .8-2.3 .9-2.2 .9-2.2 1-1.9 1-1.5 1.2-1.2 1.4-.9 1.4-.6 1.4-.4 1.4-.3 1.4-.2 1.4 .1 1.2 .3 1.3 .4 1.4 .5 1.4 .5 1.5 .4 1.7 .3 1.8 .3 2 .3 1.9 .3 1.8 .1 1.7 .1 1.5-.2 1.4-.3 1.4-.4 1.3-.3 1.3-.2 1.3 0 1.4 .4 1.4 .8 1.4 .9 1.4 .8 1.4 .8 1.2 .4 1 .2 1 0 .9-.2 .8-.3 .9-.4 .8-.7 .9-.8 .8-1 .8-1.2 .8-1.3 .8-1.3 .8-1.2" fill="none" stroke="#6cb33c" stroke-width="4.4" stroke-linejoin="round" stroke-linecap="round"/>
<line x1="209.9" y1="1288.6" x2="359.9" y2="1288.6" stroke="#000" stroke-width="1.5" stroke-dasharray="5.6 2.4"/>
<line x1="309.7" y1="1260.5" x2="309.7" y2="1318.6" stroke="#000" stroke-width="2"/>
<path d="M209.9 1290.5l.9-.3 .9-.3 .9-.3 1-.3 .9-.4 .9-.3 .9-.3 .8-.4 .8-.4 .9-.4 1-.2 1-.2 1.2 0 1.3 .2 1.3 .2 1.4 .3 1.5 .2 1.5 .2 1.6 .1 1.6-.1 1.7 0 1.9 0 1.9 0 2.2 0 2.5 .1 2.9 .2 3 .2 2.9 .2 2.8 .1 2.3 0 1.8 0 1.5-.1 1.3-.2 1.1-.2 1.2-.4 1.2-.4 1.4-.8 1.4-.9 1.3-1 1.4-1.1 1.4-.9 1.3-.8 1.4-.6 1.4-.6 1.3-.4 1.4-.3 1.3-.2 1.4-.1 1.4 .2 1.3 .3 1.4 .5 1.4 .5 1.3 .6 1.4 .6 1.4 .7 1.4 .9 1.4 .8 1.4 .9 1.4 .7 1.2 .4 1 .2 1 0 .9-.2 .8-.2 .8-.3 .9-.3 .9-.4 .9-.6 .9-.6 1-.6 .9-.4 .9-.1 .9 .1 .9 .3 .9 .5 .9 .6 .9 .6 .9 .6 .9 .6 .8 .6 .9 .7 .9 .6 .9 .6 1.1 .4 1.1 .3 1.2 .2 1.3 .1 1.3 0 1.5 0 1.8 0 1.8-.2 2.1-.2 2.2-.3 2.3-.3 2.5-.3 2.7-.1 2.9 0 3 .1 3.3 .2 3.3 .2 3.3 .2 3.3 .1" fill="none" stroke="#c8102e" stroke-width="4.4" stroke-linejoin="round" stroke-linecap="round"/>
<line x1="209.9" y1="1362.8" x2="359.9" y2="1362.8" stroke="#000" stroke-width="1.5" stroke-dasharray="5.6 2.4"/>
<line x1="309.7" y1="1340.4" x2="309.7" y2="1385.4" stroke="#000" stroke-width="2"/>
<path d="M209.9 1396.3l.2-3.2 .2-3.3 .2-3.2 .2-3.2 .3-3.2 .3-3 .3-3 .4-3 .5-3 .5-2.8 .5-2.5 .5-2 .6-1.6 .5-1.3 .6-.9 .7-.7 .8-.6 .9-.4 1.1-.3 1.2 0 1.4 .2 1.4 .2 1.5 .3 1.6 .2 1.7 .1 1.8 .1 1.9 .2 2 .1 1.8 .2 1.7 .1 1.5 .1 1.4 .1 1.3 .1 1.3 0 1.3-.1 1.4-.2 1.3-.5 1.4-.6 1.4-.8 1.3-.7 1.4-.8 1.3-.7 1.4-.7 1.4-.7 1.3-.6 1.4-.7 1.4-.5 1.3-.4 1.4-.1 1.5 0 1.4 .1 1.4 .1 1.3 .1 1.2-.2 1.1-.3 .9-.4 .9-.5 .8-.6 .9-.6 .9-.8 .9-1 .9-1.2 .9-1.3 .9-1.2 .9-1.2 .9-.9 .9-.8 .9-.7 .9-.6 .9-.4 1-.3 .9 0 .9 .2 .9 .5 .9 .6 .9 .8 .9 .9 .9 1.1 .9 1.3 .9 1.5 .9 1.6 .9 1.8 1 1.7 .9 1.7 .9 1.6 .9 1.8 .9 1.7 .9 1.7 .9 1.5 .9 1.2 .9 1 .9 .9 .9 .7 1 .5 .9 .3 .9 .1 .9-.2 .9-.5 .9-.7 .9-.8 .9-.8 .9-.5 .9-.4 .8-.3 .9-.2 .9-.2 .9-.2 1.1-.1 1.2 0 1.3 .2 1.4 .1 1.4 .2 1.5 .1 1.4 0 1.3-.2 1.4-.3 1.3-.4 1.4-.4 1.4-.4 1.3-.2 1.4-.2 1.5-.1 1.4-.1 1.4 0 1.3 .1 1.2 .3 1.1 .4 .9 .6 .9 .8 .8 .7 .9 .8 .9 .8 .9 .8 1 .9 1 1 .9 .8 .9 .5 .7 .1 .6-.4 .5-.7 .5-1 .4-1.3 .4-1.6 .3-1.9 .4-2.3 .4-2.8 .4-3 .3-3.3 .4-3.2 .3-3.1" fill="none" stroke="#c8102e" stroke-width="4.4" stroke-linejoin="round" stroke-linecap="round"/>
<line x1="209.9" y1="1433.9" x2="359.9" y2="1433.9" stroke="#000" stroke-width="1.5" stroke-dasharray="5.6 2.4"/>
<line x1="309.7" y1="1419.5" x2="309.7" y2="1448.1" stroke="#000" stroke-width="2"/>
<path d="M209.9 1472.6l.2-3.2 .2-3.2 .2-3.3 .2-3.2 .3-3.1 .3-3 .3-3.1 .4-3 .5-3 .5-2.8 .5-2.4 .5-2.1 .6-1.6 .6-1.2 .7-1 .7-.6 .7-.6 .8-.5 .8-.3 .8-.2 .9 0 .9 .1 1 .2 1.1 .2 1.2 .5 1.3 .7 1.4 .8 1.4 .7 1.4 .5 1.4 .1 1.4-.3 1.5-.7 1.4-.9 1.4-1 1.3-.9 1.2-.8 1-.7 .8-.8 .8-.7 .7-.6 1-.5 1.2-.3 1.5 .1 1.7 .3 1.9 .5 1.9 .5 2 .3 1.9 0 1.8-.5 1.8-.7 1.8-.9 1.8-1 1.9-1 1.8-.8 1.8-.8 1.8-.6 1.8-.7 1.8-.7 1.9-.6 1.8-.7 1.9-.8 1.9-1 2-.9 1.9-.9 1.7-.7 1.5-.4 1.2-.1 1 .1 .9 .3 .7 .4 .8 .6 .8 .7 .9 .8 1 1.1 .9 1.2 .9 1.3 .9 1.3 .9 1.1 .9 1 .9 1 .9 .9 .9 1 .9 .8 .9 .7 .9 .7 .9 .6 .8 .5 .9 .4 .9 .3 1.1 .2 1.2 .2 1.3 0 1.4-.1 1.4-.2 1.5-.2 1.4-.2 1.3-.3 1.4-.4 1.4-.4 1.3-.4 1.4-.4 1.4-.3 1.3-.2 1.4-.2 1.3-.2 1.4 0 1.4 0 1.3 .1 1.4 .2 1.4 .4 1.3 .5 1.4 .6 1.3 .5 1.4 .5 1.4 .5 1.5 .6 1.5 .7 1.4 .5 1.3 .3 1.1 .1 .9 0 .8-.1 .6-.3 .6-.6 .6-1 .6-1.5 .6-2.3 .6-2.9 .6-3.4 .6-3.6 .5-3.5 .6-3.4" fill="none" stroke="#c8102e" stroke-width="4.4" stroke-linejoin="round" stroke-linecap="round"/>
<line x1="209.9" y1="1512.8" x2="359.9" y2="1512.8" stroke="#000" stroke-width="1.5" stroke-dasharray="5.6 2.4"/>
<line x1="309.7" y1="1490.4" x2="309.7" y2="1530.5" stroke="#000" stroke-width="2"/>
<path d="M209.9 1505.4l.9 .2 .9 0 .9 0 1 .1 .9 .4 .9 .7 .9 1.2 .9 1.6 .9 1.9 .9 1.9 .9 1.7 .9 1.2 .9 1 .9 .7 1 .5 .9 .3 .9 .2 .9 .1 .9-.2 .8-.5 .8-.6 .9-.6 1-.6 1-.3 1.3 0 1.4 0 1.4 .2 1.5 .3 1.4 .4 1.2 .5 1 .7 .9 .8 .8 1 .8 1 .9 1 1.1 1 1.2 1 1.3 1.1 1.4 1.1 1.4 1 1.4 .8 1.4 .4 1.4 .1 1.4-.2 1.3-.5 1.4-.6 1.4-.7 1.3-.8 1.4-.9 1.5-1.1 1.4-1.2 1.4-1.3 1.3-1.2 1.2-1.1 1-1 .9-.9 .8-.9 .8-.9 .9-.9 1.1-.9 1.2-.9 1.4-.9 1.4-.9 1.5-.9 1.4-.9 1.2-.9 1.1-1 1-1 .8-.9 .9-1 .8-.8 .9-.8 .9-.7 1-.7 .9-.6 .9-.5 .9-.3 .8 .1 .8 .3 .7 .6 .7 .9 .6 1 .7 1.2 .6 1.4 .7 1.6 .7 1.9 .7 2 .7 2.2 .6 2.2 .7 2.4 .7 2.5 .7 2.8 .7 2.9 .6 2.9 .7 2.7 .7 2.6 .7 2.4 .7 2.4 .7 2.2 .6 2.1 .7 1.8 .7 1.3 .7 1.1 .7 .7 .6 .5 .7 .1 .7-.3 .7-.7 .7-1.2 .6-1.6 .6-2 .7-2.3 .7-2.5 .8-2.7 .8-3 .9-3.5 .9-3.8 1-3.7 .9-3.5 .9-2.9 .9-2.5 .9-2.3 1-1.9 .9-1.7 .9-1.4 .9-1.1 .9-.7 .8-.2 .8 0 .9 .3 1 .3 1 .3 1.2 .3 1.4 .4 1.4 .6 1.4 .5 1.4 .5 1.4 .4 1.4 .3 1.3 .2 1.4 .1 1.4 .2 1.3 .2 1.4 .4 1.4 .5 1.3 .6 1.4 .7 1.3 .8 1.4 .7 1.4 .8" fill="none" stroke="#6f5ca6" stroke-width="4.4" stroke-linejoin="round" stroke-linecap="round"/>
<line x1="209.9" y1="1588.6" x2="359.9" y2="1588.6" stroke="#000" stroke-width="1.5" stroke-dasharray="5.6 2.4"/>
<line x1="309.7" y1="1573.6" x2="309.7" y2="1603" stroke="#000" stroke-width="2"/>
<path d="M209.9 1626.8l.2-3.5 .2-3.4 .2-3.4 .2-3.5 .3-3.4 .3-3.3 .4-3.4 .4-3.6 .5-3.5 .5-3.3 .4-2.9 .5-2.4 .5-1.7 .4-1.3 .4-1 .4-.6 .5-.5 .5-.3 .6-.3 .7 0 .6 .2 .7 .3 .8 .5 .7 .6 .9 .9 .9 1.2 1 1.3 .9 1.3 .9 1.2 .9 1 .7 .7 .6 .7 .6 .5 .7 .4 .6 .1 .9-.3 .9-.7 1.1-1.2 1.1-1.5 1.2-1.6 1.2-1.4 1.3-1.2 1.2-.9 1.3-.8 1.3-.7 1.4-.7 1.4-.5 1.6-.5 1.6-.4 1.8-.2 1.8-.2 1.9-.1 1.9-.2 1.9-.2 1.8-.5 1.8-.5 1.8-.6 1.8-.5 1.9-.4 1.8-.3 1.8 .1 1.9 .4 1.9 .5 1.8 .4 1.8 .2 1.7-.2 1.5-.7 1.5-1 1.3-1.3 1.3-1.4 1.3-1.3 1.3-1.1 1.2-1.1 1.2-1.1 1.1-1.1 1.2-.9 1-.6 1.1-.1 1 .3 .9 .6 .9 1 .9 1.2 .8 1.5 .9 1.6 1 2 .9 2.4 .9 2.6 1 2.7 .9 2.7 .8 2.6 .7 2.6 .7 2.7 .7 2.7 .7 2.6 .6 2.4 .7 2 .7 1.8 .6 1.7 .7 1.4 .7 1.1 .7 .7 .7 .1 .6-.4 .7-1 .6-1.4 .7-1.7 .7-1.8 .7-1.8 .9-2.1 .8-2.3 .9-2.5 .9-2.5 1-2.3 1-2 1.1-1.6 1.1-1.6 1.1-1.3 1.2-1.1 1.2-.8 1.1-.4 1.1 0 1.1 .5 1.1 .8 1.2 .9 1.1 1 1.2 .9 1.3 .9 1.4 1.1 1.3 1.2 1.4 1 1.4 .8 1.4 .5 1.4 0 1.4-.3 1.5-.5 1.4-.7 1.3-.6 1.2-.7 1.1-.5 1-.5 1-.6 .9-.6 .8-.8 .6-1.1 .6-1.2 .4-1.5 .3-1.7 .3-1.7 .3-1.7 .3-1.7" fill="none" stroke="#6f5ca6" stroke-width="4.4" stroke-linejoin="round" stroke-linecap="round"/>
<line x1="209.9" y1="1674.5" x2="359.9" y2="1674.5" stroke="#000" stroke-width="1.5" stroke-dasharray="5.6 2.4"/>
<line x1="309.7" y1="1657.6" x2="309.7" y2="1700.4" stroke="#000" stroke-width="2"/>
<path d="M209.9 1688.1l.4-1.9 .4-2 .4-2 .4-1.9 .5-1.7 .6-1.4 .8-1.1 .8-.9 .8-.7 1-.6 1-.4 1.1-.4 1.2-.2 1.2 0 1.4 .1 1.4 .2 1.4 0 1.6-.1 1.7-.3 1.8-.3 1.9-.5 2-.5 1.8-.6 1.7-.5 1.5-.6 1.4-.7 1.3-.7 1.3-.7 1.3-.7 1.4-.7 1.3-.7 1.4-.7 1.4-.7 1.3-.6 1.4-.7 1.3-.7 1.4-.7 1.4-.9 1.3-.8 1.4-.7 1.4-.6 1.3-.4 1.4-.1 1.3 .2 1.4 .3 1.4 .3 1.3 .4 1.4 .3 1.4 .3 1.4 .4 1.5 .4 1.4 .3 1.3 .1 1.2-.2 1-.4 1-.7 .9-.9 .8-1 .9-1.2 .8-1.2 1-1.4 .9-1.7 .9-1.9 1-1.7 .9-1.6 .8-1.3 .7-.9 .7-.8 .7-.6 .7-.4 .6-.2 .7 .2 .7 .5 .6 .7 .7 1 .7 1.3 .7 1.5 .7 1.8 .6 2.2 .7 2.5 .6 2.7 .7 3 .7 3 .8 3 .8 3.1 .9 3.2 .9 3.3 .9 3.3 1 3.2 .9 3 .9 2.9 1 3.1 .9 2.9 .9 2.6 .9 2.1 .9 1.4 .7 .5 .7 0 .6-.6 .6-1 .7-1.4 .7-1.6 .9-2.1 .9-2.7 .9-3.1 .9-3.1 1-2.9 .9-2.5 .9-2 .9-1.9 .9-1.7 .9-1.5 .9-1.3 1-1.1 .8-.9 .9-.8 .8-.5 .9-.4 .9-.1 1.1 0 1.2 .2 1.3 .5 1.4 .7 1.5 .7 1.4 .8 1.4 .6 1.4 .6 1.4 .7 1.4 .6 1.4 .6 1.4 .5 1.2 .3 1 .2 1 .3 .9 .2 .8-.2 .9-.6 .8-1.3 .9-2.1 .8-2.9 .8-3.4 .8-3.7 .8-3.6 .8-3.4" fill="none" stroke="#6f5ca6" stroke-width="4.4" stroke-linejoin="round" stroke-linecap="round"/>
<polygon points="1057,1039.7 1059.7,1039.4 1062.2,1038.8 1064.7,1038.3 1067.4,1038.1 1070.3,1038 1073.7,1037.9 1077.5,1037.9 1081.9,1038.1 1086.4,1038.4 1091.2,1039 1095.9,1039.5 1100.5,1039 1105.2,1039.1 1110.1,1039.1 1115.1,1039.2 1119.8,1039.8 1123.9,1040 1127.3,1039.9 1129.8,1039.6 1131.4,1040.1 1132.5,1040.8 1133.4,1041.7 1134.3,1043 1135.4,1043.7 1136.7,1044.7 1138.1,1046.3 1139.4,1047.4 1140.7,1048.9 1142.1,1049.9 1143.4,1050.9 1144.8,1052.6 1146.2,1054.6 1147.6,1056.5 1149,1057.5 1150.3,1058.6 1151.5,1059 1152.5,1059.2 1153.5,1059.7 1154.3,1058.9 1155.1,1058.3 1156,1057.5 1156.8,1056.1 1157.7,1055.3 1158.5,1053.8 1159.4,1052.4 1160.2,1050.6 1161.2,1049.3 1162.2,1047.6 1163.4,1046.2 1164.6,1044.8 1165.9,1043.6 1167.3,1042.8 1168.7,1041.6 1170.3,1041.2 1171.9,1040 1173.7,1039.2 1175.6,1038.4 1177.5,1037.2 1179.3,1036 1181,1035.5 1182.5,1034.5 1183.9,1034.2 1185.2,1034.2 1186.5,1033.3 1187.7,1033.1 1189,1032.5 1190.3,1031.9 1191.6,1032.8 1192.9,1033.3 1194.2,1034.4 1195.6,1035.5 1197.1,1036 1198.7,1037.1 1200.5,1038.1 1202.3,1039 1204.1,1039.7 1206,1040.9 1207.8,1041.6 1207.8,1073.6 1205.6,1073.7 1203.3,1074 1201.1,1074.1 1198.9,1073.2 1196.6,1072.9 1194.4,1072.6 1192.1,1072.9 1189.8,1072.8 1187.5,1072.8 1185.3,1073.3 1183.1,1073.8 1181,1074.7 1179,1075.5 1177.1,1075.6 1175.3,1075.8 1173.5,1077 1171.9,1078.1 1170.3,1079.3 1168.8,1080.9 1167.4,1082.3 1166.1,1083.5 1164.8,1085.2 1163.5,1086.3 1162.2,1087.4 1160.9,1088.2 1159.5,1089.1 1158.2,1090 1156.8,1090.2 1155.5,1090.4 1154.2,1090.4 1152.8,1089.6 1151.5,1089.2 1150.1,1088.8 1148.8,1087.6 1147.4,1086.5 1146.1,1085.6 1144.8,1083.9 1143.5,1083 1142.2,1082.5 1140.9,1080.9 1139.6,1079.9 1138.1,1077.8 1136.6,1076.4 1135.3,1075.4 1133.9,1074.4 1132.2,1074.1 1130.1,1073.5 1127.3,1072.5 1123.8,1072.5 1119.6,1072.2 1114.9,1072.2 1110,1072.1 1105.2,1071.8 1100.5,1071.9 1095.9,1070.5 1091.2,1070.7 1086.4,1070.7 1081.9,1070.5 1077.5,1071.6 1073.7,1071.7 1070.3,1072 1067.4,1071.9 1064.7,1071.9 1062.2,1071.9 1059.7,1071.3 1057,1071.4" fill="#959595" stroke="#7a7a7a" stroke-width="1"/>
<line x1="1057" y1="1057.1" x2="1208.4" y2="1057.1" stroke="#000" stroke-width="1.5" stroke-dasharray="5.6 2.4"/>
<line x1="1157.4" y1="1044.5" x2="1157.4" y2="1072.7" stroke="#000" stroke-width="2"/>
<path d="M1057 1056.3l2.8-.1 2.8 .1 2.8-.2 2.8 0 2.7-.2 2.8-.2 2.7-.3 2.7-.4 2.6-.1 2.7-.1 2.7 .3 2.7 .1 2.6 .1 2.7 .1 2.7 .2 2.7 .1 2.7 .1 2.7 .2 2.7-.1 2.8-.1 2.8-.2 2.8-.3 2.6-.1 2.4 .1 2.1-.1 2 .2 1.8 .1 1.7 .2 1.6 .4 1.5 .5 1.3 .6 1.2 .8 1.1 1 1 .9 1 1 1.1 1.1 1.1 1 1.1 1.6 1.1 1.3 1.1 1.5 1.1 1.4 1.2 1.1 1.3 1.1 1.4 .9 1.4 .9 1.4 1 1.4 .9 1.2 .6 1 .2 .9-.2 .8-.3 .8-.2 .9-.4 .9-.7 1.1-.7 1.1-1.2 1.1-1.5 1.1-1.5 1.2-1.6 1.1-1.5 1.1-1.2 1.1-1.3 1.1-1.5 1.1-1.3 1.1-1.5 1.2-1.3 1.3-1 1.3-1.4 1.4-1.1 1.4-1.1 1.3-1.2 1.4-.7 1.3-.7 1.4-.7 1.3-.6 1.4-.6 1.3-.5 1.3-.2 1.3 .3 1.3 .7 1.3 .9 1.3 1 1.4 1 1.5 .9 1.6 .9 1.8 .9 1.8 .7 1.8 1 1.9 .9 1.8 1" fill="none" stroke="#000" stroke-width="5" stroke-linejoin="round" stroke-linecap="round"/>
<polygon points="1057,1116.5 1059.7,1116.7 1062.2,1116.4 1064.7,1115.7 1067.4,1115.2 1070.3,1114.6 1073.7,1114.2 1077.7,1114.5 1082.2,1114.4 1087.1,1114.2 1092,1114.8 1096.5,1114 1100.5,1113.1 1103.8,1112.9 1106.7,1112.4 1109.2,1112.5 1111.6,1113.2 1114,1113.1 1116.6,1112.3 1119.4,1111.9 1122.3,1111.9 1125.1,1110.9 1127.9,1110.9 1130.5,1110.6 1132.7,1110.3 1134.5,1110.3 1136,1110.7 1137.2,1111.5 1138.4,1112.4 1139.5,1113.4 1140.7,1114.7 1142.1,1115.6 1143.4,1116.9 1144.8,1119.3 1146.1,1120.4 1147.4,1121.9 1148.8,1123.4 1150.1,1124.1 1151.5,1126.1 1152.8,1128.2 1154.2,1130.2 1155.5,1132.1 1156.8,1133.1 1158.2,1133 1159.5,1132.2 1160.9,1131 1162.2,1129.3 1163.5,1127.3 1164.9,1125.9 1166.2,1123.9 1167.5,1122.9 1168.7,1121.9 1170.1,1119.8 1171.4,1118.7 1172.9,1117.2 1174.6,1115.6 1176.3,1114.2 1178.1,1113.2 1180,1112 1181.9,1111.5 1183.7,1110.6 1185.4,1109.9 1187.1,1109.3 1188.9,1108.9 1190.6,1108.9 1192.5,1108.6 1194.4,1108.9 1196.5,1108.7 1198.7,1109.3 1200.9,1110.5 1203.2,1111.8 1205.6,1112.9 1207.8,1114 1207.8,1151.1 1205.1,1150.3 1202.4,1149.7 1199.6,1149.3 1196.9,1148.3 1194.2,1148.5 1191.7,1148.1 1189.3,1147.7 1186.9,1147.4 1184.7,1147.7 1182.5,1148.3 1180.4,1148.7 1178.3,1149.8 1176.3,1151.4 1174.4,1153.6 1172.6,1155.9 1170.9,1158.7 1169.2,1160.6 1167.6,1161.8 1166,1162.3 1164.6,1163.4 1163.2,1164.2 1161.9,1165.3 1160.7,1167 1159.5,1166.7 1158.5,1166.4 1157.6,1165.9 1156.8,1164.8 1156,1164.9 1155.2,1164.2 1154.2,1162.7 1153,1161.1 1151.8,1158.6 1150.5,1156.9 1149.1,1155.5 1147.6,1154.2 1146.1,1153 1144.5,1152.1 1142.8,1151 1141.1,1149.3 1139.2,1148.1 1137.3,1146.8 1135.4,1146.2 1133.4,1146.2 1131.4,1146.2 1129.3,1146.6 1127.1,1147.3 1124.7,1148 1122,1148.5 1118.9,1147.7 1115.6,1147.6 1112.1,1148.1 1108.3,1148.4 1104.5,1149.1 1100.5,1149.4 1096.2,1149.4 1091.6,1149.7 1086.8,1150 1082,1150.1 1077.6,1150.2 1073.7,1150.3 1070.3,1150.6 1067.4,1150.5 1064.7,1150.3 1062.2,1150.5 1059.7,1150.6 1057,1150.8" fill="#959595" stroke="#7a7a7a" stroke-width="1"/>
<line x1="1057" y1="1133.1" x2="1208.4" y2="1133.1" stroke="#000" stroke-width="1.5" stroke-dasharray="5.6 2.4"/>
<line x1="1157.4" y1="1118.8" x2="1157.4" y2="1145.7" stroke="#000" stroke-width="2"/>
<path d="M1057 1134.5l2.8-.5 2.8-.7 2.8-.5 2.8-.4 2.7-.3 2.8-.3 2.7-.3 2.7-.3 2.6-.3 2.7-.2 2.7-.2 2.7-.1 2.7-.2 2.8 .1 2.8 0 2.8 .2 2.6 0 2.4-.1 2.1 .1 1.8-.3 1.8-.4 1.6-.2 1.7-.5 1.7-.4 1.8-.2 1.8-.5 1.8-.6 1.7-.6 1.8-.5 1.8-.3 1.8-.4 1.9-.3 1.9-.4 1.8-.1 1.7-.1 1.7 .3 1.5 .6 1.4 .9 1.3 1.2 1.3 1.2 1.3 1.4 1.2 1.4 1.2 1.7 1.2 2 1.1 2.3 1.1 2.2 1.1 2.1 1 1.8 1 1.6 .9 1.8 .8 1.7 .8 1.4 .9 1.1 1 .5 1-.1 1.1-.2 1.1-.5 1.1-.9 1.2-1.1 1.2-1.1 1.3-1.5 1.3-1.8 1.3-1.8 1.4-2.2 1.4-2.1 1.3-1.6 1.3-1.5 1.3-1.2 1.3-1 1.3-1.1 1.4-1 1.5-1 1.7-.7 1.9-.6 1.9-.5 1.9-.2 1.8-.4 1.5-.1 1.2-.1 .8-.1 .7 .2 .7 .3 .8 .5 1.2 .8 1.5 .5 1.7 .5 1.8 .7 1.9 .6 2 .9 1.8 .9" fill="none" stroke="#000" stroke-width="5" stroke-linejoin="round" stroke-linecap="round"/>
<polygon points="1057,1193.7 1059.7,1193.4 1062.2,1193.7 1064.7,1194.2 1067.4,1193.5 1070.3,1193.8 1073.7,1193.2 1077.6,1193.1 1082,1193.2 1086.8,1194.3 1091.6,1194.8 1096.2,1195.3 1100.5,1196 1104.5,1195.5 1108.4,1195.2 1112.2,1194.9 1115.8,1193.9 1119.1,1192.9 1122,1193 1124.4,1192.7 1126.3,1193.1 1128,1194.1 1129.5,1194.4 1131,1195.4 1132.7,1196.5 1134.5,1197.9 1136.4,1200.1 1138.2,1202.5 1140,1204.8 1141.8,1206.3 1143.4,1207.6 1144.9,1209.1 1146.3,1210.5 1147.6,1212.4 1148.9,1213.7 1150.2,1214.3 1151.5,1214.8 1152.8,1214.9 1154.1,1214.7 1155.3,1214 1156.6,1213.1 1158,1211.9 1159.5,1209.8 1161.2,1208.5 1162.9,1206.2 1164.7,1203.6 1166.6,1201.1 1168.4,1198.6 1170.3,1196.5 1172,1195.1 1173.8,1194 1175.6,1192.3 1177.4,1191.1 1179.2,1190.1 1181,1189.7 1182.7,1189.1 1184.4,1188.5 1186,1188.5 1187.7,1188.1 1189.6,1188.1 1191.7,1188.6 1194.1,1189.6 1196.7,1190.3 1199.4,1191.8 1202.3,1193.2 1205.1,1193.8 1207.8,1195 1207.8,1225.6 1205.6,1225.5 1203.3,1224.9 1201.1,1224.2 1198.9,1223.8 1196.6,1224 1194.4,1224.5 1192.1,1225.2 1189.8,1225.8 1187.5,1226.2 1185.3,1226.4 1183.1,1226.5 1181,1227.8 1179,1228.5 1177.1,1228.9 1175.3,1229.5 1173.5,1229.1 1171.9,1229.4 1170.3,1230.5 1168.8,1232.1 1167.4,1233.8 1166.1,1235.6 1164.8,1237.6 1163.5,1238.9 1162.2,1240.2 1160.9,1241.3 1159.5,1241.9 1158.2,1242.8 1156.8,1243 1155.5,1242.8 1154.2,1242.1 1152.8,1241.6 1151.5,1241.5 1150.1,1241.3 1148.8,1241.2 1147.4,1240.1 1146.1,1239.7 1144.8,1238.8 1143.5,1237.2 1142.2,1235.5 1140.9,1233.4 1139.6,1231.5 1138.1,1229.8 1136.6,1228.9 1135.3,1227.6 1133.9,1226.5 1132.2,1226.1 1130.1,1225.1 1127.3,1224.6 1123.8,1224.8 1119.6,1224.8 1114.9,1225.3 1110,1225 1105.2,1224.8 1100.5,1224.9 1095.9,1225.2 1091.2,1225.4 1086.4,1224.9 1081.9,1224.8 1077.5,1223.8 1073.7,1224.5 1070.3,1225.3 1067.4,1224.9 1064.7,1225.4 1062.2,1225.1 1059.7,1225 1057,1225.6" fill="#959595" stroke="#7a7a7a" stroke-width="1"/>
<line x1="1057" y1="1209.5" x2="1208.4" y2="1209.5" stroke="#000" stroke-width="1.5" stroke-dasharray="5.6 2.4"/>
<line x1="1157.4" y1="1197.5" x2="1157.4" y2="1224.3" stroke="#000" stroke-width="2"/>
<path d="M1057 1209.4l1.9 0 1.9 0 1.9 0 1.9-.1 1.8-.1 1.9-.1 1.8-.3 1.8-.3 1.8-.5 1.8-.5 1.7-.3 1.8 0 1.8 .3 1.8 .5 1.8 .5 1.8 .5 1.8 .4 1.8 .4 1.7-.2 1.7 0 1.8-.2 1.7-.1 1.8 .2 2 0 2.1-.1 2.2-.4 2.2-.3 2.3-.4 2.3-.1 2.3-.1 2.3-.2 2.4-.2 2.4-.4 2.3-.2 2.1-.1 1.9-.2 1.7 .3 1.4 .1 1.3 .2 1.2 .4 1.2 .6 1.3 1 1.3 1.1 1.4 1.5 1.3 1.7 1.3 1.7 1.4 1.9 1.3 1.6 1.4 1.6 1.4 1.9 1.4 1.9 1.4 1.5 1.3 1.3 1.2 .9 1 .3 .9 .3 .8 .2 .8-.5 .8-.3 1-.9 1.2-1.3 1.3-1.4 1.4-1.7 1.4-1.8 1.4-1.6 1.4-1.6 1.3-1.7 1.4-1.9 1.3-1.8 1.4-1.5 1.3-1.7 1.3-1.1 1.4-1 1.3-1 1.4-.3 1.3-.7 1.3-.4 1.4-.5 1.3-.6 1.4-.3 1.3-.2 1.4-.2 1.3 0 1.3 .1 1.3 .3 1.3 .4 1.3 .6 1.3 .6 1.4 .7 1.5 .8 1.6 .6 1.8 .7 1.8 .8 1.8 .7 1.9 1 1.8 .6" fill="none" stroke="#000" stroke-width="5" stroke-linejoin="round" stroke-linecap="round"/>
<polygon points="1057,1267.9 1059.7,1267.4 1062.2,1267.2 1064.7,1267.2 1067.4,1267.9 1070.3,1267.2 1073.7,1267 1077.5,1267.6 1081.9,1267.2 1086.4,1268 1091.2,1267.7 1095.9,1267.4 1100.5,1267.7 1105.2,1267.7 1110.1,1268.6 1115.1,1268.9 1119.8,1268.5 1123.9,1268.4 1127.3,1268.4 1129.8,1268.5 1131.4,1269.2 1132.5,1269.3 1133.4,1269.2 1134.3,1270 1135.4,1270.9 1136.7,1272.6 1138.1,1274.4 1139.4,1275.1 1140.7,1276 1142.1,1276.6 1143.4,1277.9 1144.8,1279.7 1146.2,1281.4 1147.6,1283.9 1149,1285.5 1150.3,1287.5 1151.5,1289.1 1152.5,1290.5 1153.4,1292 1154.2,1293.5 1155,1294.6 1155.8,1294.4 1156.8,1294.4 1158,1293.7 1159.3,1292.3 1160.7,1291.2 1162.1,1288.2 1163.5,1285.7 1164.9,1283.6 1166.2,1281.1 1167.5,1279.4 1168.7,1277 1170.1,1274.6 1171.4,1272.9 1172.9,1270.4 1174.6,1268.3 1176.3,1266.7 1178.1,1265.6 1180,1265.5 1181.9,1265.2 1183.7,1264.8 1185.4,1264 1187.1,1263.7 1188.9,1263.7 1190.6,1263.8 1192.5,1263.7 1194.4,1263.5 1196.5,1264.4 1198.7,1265.2 1200.9,1266.4 1203.2,1267.6 1205.6,1268.8 1207.8,1269.9 1207.8,1302.7 1205.6,1302.9 1203.3,1302.4 1201.1,1302.7 1198.9,1302.7 1196.6,1302.3 1194.4,1302.3 1192.1,1301.7 1189.8,1301.5 1187.5,1301.9 1185.3,1302.6 1183.1,1303.6 1181,1303.7 1179,1304.2 1177.1,1304.8 1175.3,1305.4 1173.5,1307.1 1171.9,1308.4 1170.3,1309.6 1168.8,1311.6 1167.4,1312.9 1166.1,1314.1 1164.8,1315.3 1163.5,1316.5 1162.2,1317.5 1160.9,1318.9 1159.5,1320.1 1158.2,1320 1156.8,1320.3 1155.5,1319.7 1154.2,1319.6 1152.8,1318.6 1151.5,1318.5 1150.1,1317.2 1148.8,1315.6 1147.4,1314.9 1146.1,1313.1 1144.8,1312 1143.5,1310.8 1142.2,1309.7 1140.9,1308.1 1139.6,1307.2 1138.1,1305.2 1136.6,1303.9 1135.3,1303.2 1133.9,1302.2 1132.2,1302 1130.1,1300.9 1127.3,1300.2 1123.8,1299.7 1119.6,1300 1114.9,1300.5 1110,1300.2 1105.2,1300.1 1100.5,1299.7 1095.9,1299.8 1091.2,1300 1086.4,1300.2 1081.9,1300.6 1077.5,1300.8 1073.7,1301.5 1070.3,1301.9 1067.4,1302.3 1064.7,1302.4 1062.2,1302.2 1059.7,1302.6 1057,1302.5" fill="#959595" stroke="#7a7a7a" stroke-width="1"/>
<line x1="1057" y1="1285.8" x2="1208.4" y2="1285.8" stroke="#000" stroke-width="1.5" stroke-dasharray="5.6 2.4"/>
<line x1="1157.4" y1="1272.4" x2="1157.4" y2="1300.3" stroke="#000" stroke-width="2"/>
<path d="M1057 1285.9l2.8-.5 2.8-.2 2.8-.5 2.8-.3 2.7-.2 2.8-.5 2.7-.1 2.9-.4 2.8-.5 2.7-.2 2.6-.3 2.4 0 2 0 1.7 .3 1.6 .2 1.6 .2 1.8 .4 2 .4 2.4 .2 2.8 .4 2.8 .5 2.9 .1 2.8 .2 2.4 0 2.1-.2 2 0 1.8-.3 1.6-.2 1.7-.4 1.5-.3 1.5-.2 1.4 0 1.3-.2 1.3-.1 1.3 .1 1.3 .2 1.3 .5 1.4 .8 1.4 1 1.3 1 1.4 1.2 1.2 1.1 1.2 1.4 1.2 1.5 1.1 1.5 1.1 1.7 1.1 1.5 1 1.5 1 1.7 .9 1.7 .9 1.8 .9 1.3 .8 1.3 .9 .8 .9 .2 .8 .3 .9-.4 .9-.5 .9-.7 1-.7 1-1 1.1-1.2 1.1-1.7 1.1-1.8 1.2-1.9 1.2-1.9 1.2-1.7 1.4-2.2 1.3-2.3 1.4-2 1.4-2.1 1.3-1.5 1.4-1.1 1.3-.9 1.3-.6 1.4-.6 1.3-.4 1.4-.4 1.3-.4 1.4-.4 1.3-.5 1.3-.2 1.4 0 1.3 .1 1.4 .5 1.3 .3 1.3 .7 1.4 .9 1.3 .8 1.4 1.1 1.3 .6 1.4 .7 1.3 .5 1.3 .6 1.4 .8 1.3 .5" fill="none" stroke="#000" stroke-width="5" stroke-linejoin="round" stroke-linecap="round"/>
<polygon points="1057,1345.9 1059.7,1345.9 1062.2,1345.3 1064.7,1345.5 1067.4,1345.9 1070.3,1345.3 1073.7,1345.1 1077.5,1345 1081.9,1345.4 1086.4,1346.3 1091.2,1346.4 1095.9,1346 1100.5,1345.3 1105.2,1345.1 1110.1,1345 1115.1,1344.4 1119.8,1344.1 1123.9,1343.8 1127.3,1343.6 1129.8,1343.8 1131.4,1343.7 1132.5,1344.1 1133.4,1344.9 1134.3,1345.9 1135.4,1348 1136.7,1349.6 1138.1,1351.5 1139.4,1353.6 1140.7,1355.2 1142.1,1357.1 1143.4,1358.8 1144.8,1360.6 1146.1,1363 1147.4,1364.7 1148.8,1365.9 1150.1,1367.2 1151.5,1367.4 1152.8,1368 1154.2,1368 1155.5,1367.7 1156.8,1366.5 1158.2,1365.2 1159.5,1364 1160.8,1362.3 1162.1,1361.1 1163.4,1358.4 1164.7,1356.7 1166.1,1353.9 1167.6,1351.2 1169.2,1349.5 1171,1347.5 1172.8,1345.7 1174.6,1343.7 1176.5,1342.1 1178.3,1340.2 1180,1339.8 1181.6,1339 1183.2,1338.2 1184.9,1338 1186.8,1338.2 1189,1339.2 1191.7,1340.1 1194.7,1341.6 1197.9,1342.4 1201.3,1343.3 1204.6,1345.1 1207.8,1346.4 1207.8,1378.1 1205.6,1377.8 1203.3,1377.5 1201.1,1377.3 1198.9,1376.9 1196.6,1376.3 1194.4,1376 1192.1,1376.2 1189.8,1377 1187.5,1377.2 1185.3,1378 1183.1,1378.1 1181,1378.4 1179,1378.8 1177.1,1378.8 1175.3,1379.1 1173.5,1379.8 1171.9,1381.4 1170.3,1382.5 1168.8,1384.3 1167.4,1386.4 1166.1,1388.6 1164.8,1390.4 1163.5,1392.5 1162.2,1393.8 1160.9,1394.5 1159.5,1396.1 1158.2,1396.7 1156.8,1396.8 1155.5,1396.8 1154.2,1396.1 1152.8,1394.8 1151.5,1393.9 1150.1,1392.6 1148.8,1391.4 1147.4,1390.3 1146.1,1389 1144.8,1387.9 1143.5,1387.1 1142.2,1385.8 1140.9,1384.5 1139.6,1383 1138.1,1381 1136.6,1380 1135.3,1379 1133.9,1378.5 1132.2,1377.5 1130.1,1376.7 1127.3,1375.4 1123.8,1374.2 1119.6,1374.2 1114.9,1374 1110,1374.7 1105.2,1375.4 1100.5,1375.1 1095.9,1374.9 1091.2,1375.1 1086.4,1375 1081.9,1376.1 1077.5,1376.6 1073.7,1376.2 1070.3,1376.8 1067.4,1376.5 1064.7,1376 1062.2,1376.7 1059.7,1376.5 1057,1377.2" fill="#959595" stroke="#7a7a7a" stroke-width="1"/>
<line x1="1057" y1="1362" x2="1208.4" y2="1362" stroke="#000" stroke-width="1.5" stroke-dasharray="5.6 2.4"/>
<line x1="1157.4" y1="1349.4" x2="1157.4" y2="1374.9" stroke="#000" stroke-width="2"/>
<path d="M1057 1361.5l2.8-.1 2.8-.2 2.8-.3 2.8-.3 2.7-.2 2.8-.4 2.7-.4 2.9-.2 2.8-.2 2.7 0 2.6-.2 2.4 0 2 .1 1.8 .3 1.7 .4 1.6 .4 1.7 .2 1.9 .3 2.1 .3 2.2 .4 2.2 .2 2.3 .2 2.3 0 2.3-.3 2.3-.3 2.5-.4 2.4-.4 2.3-.3 2.2-.3 1.7-.3 1.4-.3 .9-.1 .7 0 .7 .1 .7 .4 1 .5 1.2 .9 1.3 .9 1.3 1.2 1.5 1.2 1.4 1.2 1.3 1.4 1.4 1.4 1.4 2 1.4 2.1 1.4 2 1.3 1.9 1.2 1.5 1 1.3 1 1.5 .8 1.3 .9 1 .8 .8 .9 .4 .8 .3 .8-.2 .9-.2 .8-.8 1-1 1-.9 1.2-1.5 1.3-1.7 1.4-1.8 1.4-2.2 1.4-2.1 1.4-2.1 1.3-2.3 1.4-2.2 1.3-2.4 1.3-1.8 1.4-1.5 1.3-1.5 1.4-.9 1.3-1.1 1.3-.8 1.4-.5 1.3-.6 1.4-.2 1.3-.4 1.4-.2 1.3 0 1.3 .1 1.4 .2 1.3 .2 1.4 .4 1.3 .6 1.3 .7 1.4 .9 1.3 .8 1.4 .8 1.3 .7 1.4 .6 1.3 .6 1.3 .6 1.4 .6 1.3 .6" fill="none" stroke="#000" stroke-width="5" stroke-linejoin="round" stroke-linecap="round"/>
<polygon points="1057,1421 1059.7,1420.9 1062.2,1420.4 1064.7,1419.3 1067.4,1418.5 1070.3,1417.7 1073.7,1417.9 1077.5,1418.4 1081.9,1419.3 1086.4,1419.8 1091.2,1419.7 1095.9,1420 1100.5,1419.9 1105.2,1420.3 1110,1420.6 1114.9,1420.1 1119.6,1418.9 1123.8,1418.8 1127.3,1419.1 1130.1,1419.3 1132.2,1420.5 1133.9,1420.5 1135.3,1421 1136.6,1422.1 1138.1,1422.8 1139.6,1424.6 1140.9,1426.2 1142.2,1428.2 1143.5,1430.5 1144.8,1431.9 1146.1,1433.3 1147.4,1434.8 1148.8,1435.5 1150.1,1437.7 1151.5,1439.5 1152.8,1440.1 1154.2,1440.7 1155.5,1440.7 1156.7,1439.6 1158,1439.7 1159.3,1439.4 1160.7,1438.1 1162.2,1437.2 1163.8,1434.8 1165.6,1432.5 1167.4,1430.5 1169.3,1428.5 1171.1,1427.6 1172.9,1426.5 1174.7,1425 1176.4,1423.4 1178.1,1421.5 1179.9,1420.2 1181.7,1419 1183.7,1418.3 1185.8,1417.6 1188,1417 1190.4,1417.6 1192.7,1417.8 1195,1418 1197.1,1419.1 1199,1418.4 1200.9,1418.4 1202.6,1418.8 1204.3,1418.3 1206.1,1418.9 1207.8,1419.3 1207.8,1459.5 1205.6,1458.8 1203.3,1458.6 1201.1,1457.6 1198.9,1457.3 1196.6,1456.6 1194.4,1456.3 1192.1,1456.7 1189.8,1456.7 1187.5,1456.8 1185.3,1457.3 1183.1,1457.2 1181,1457.6 1179,1458.4 1177.1,1458.8 1175.3,1459.8 1173.5,1460.7 1171.9,1461.6 1170.3,1463.1 1168.8,1464.1 1167.4,1465 1166.1,1466.6 1164.8,1467.6 1163.5,1469.3 1162.2,1470.5 1160.9,1471.6 1159.5,1472.1 1158.2,1472.4 1156.8,1472.9 1155.5,1472.9 1154.2,1473.4 1152.8,1473.6 1151.5,1473 1150.1,1472.4 1148.8,1470.9 1147.4,1468.9 1146.1,1467.7 1144.8,1466.2 1143.5,1465.1 1142.2,1464.2 1140.9,1463.5 1139.6,1462.3 1138.1,1461.1 1136.6,1460.1 1135.3,1459 1133.9,1458 1132.2,1457.5 1130.1,1456.4 1127.3,1455.8 1123.8,1455.7 1119.6,1455.6 1114.9,1456.6 1110,1457 1105.2,1456.7 1100.5,1456.7 1095.9,1456.6 1091.2,1456.4 1086.4,1456.8 1081.9,1456.9 1077.5,1456.5 1073.7,1456.9 1070.3,1457.3 1067.4,1457.7 1064.7,1458.6 1062.2,1458.7 1059.7,1458.3 1057,1458.5" fill="#959595" stroke="#7a7a7a" stroke-width="1"/>
<line x1="1057" y1="1438.7" x2="1208.4" y2="1438.7" stroke="#000" stroke-width="1.5" stroke-dasharray="5.6 2.4"/>
<line x1="1157.4" y1="1423.7" x2="1157.4" y2="1454" stroke="#000" stroke-width="2"/>
<path d="M1057 1439.4l1.9 0 1.9-.2 1.9-.4 1.9-.2 1.8-.4 1.9-.5 1.8 0 1.9-.3 1.9-.1 1.8-.2 1.7-.2 1.6-.1 1.5-.2 1.4-.3 1.3-.5 1.3-.4 1.3-.2 1.3 0 1.3 .3 1.3 .4 1.2 .7 1.3 .4 1.4 .7 1.5 .5 1.7 0 1.7 .2 1.8-.3 1.9-.2 1.8 0 1.9-.1 1.7-.2 1.8 0 1.8-.3 1.8-.4 1.8-.1 1.8-.3 1.8-.2 1.9-.1 1.8-.1 1.8-.1 1.8 .1 1.6-.1 1.5 .3 1.4 .3 1.3 .4 1.3 .8 1.3 .7 1.3 .8 1.3 1.2 1.5 1.5 1.4 1.1 1.3 1.7 1.3 1.4 1.2 1.1 1.1 1.4 .9 1.2 .9 1.2 .8 1.2 .8 .9 .9 .7 .9 .8 .9 .5 .9 .7 .9 .3 .9 .2 .9 .1 .8 .1 .8 0 .9-.4 .8-.3 1-.9 1-.9 1.2-1.3 1.3-1.7 1.4-1.6 1.4-1.8 1.4-1.6 1.4-1.4 1.3-1.3 1.3-1.2 1.2-1.1 1.3-1.2 1.4-1.1 1.5-.9 1.7-.9 1.7-1 1.8-.7 1.9-.8 1.8-.7 1.9-.1 1.7-.2 1.8 .2 1.8 .3 1.8 .3 1.8 .5 1.8 .5 1.8 .6 1.8 .7 1.8 .6 1.7 .6 1.8 .5 1.8 .5" fill="none" stroke="#000" stroke-width="5" stroke-linejoin="round" stroke-linecap="round"/>
<polygon points="1057,1499.9 1059.7,1499.9 1062.2,1500.3 1064.7,1499.2 1067.4,1498.7 1070.3,1498.4 1073.7,1498.2 1077.5,1498.2 1081.9,1498.2 1086.4,1498.1 1091.2,1498.1 1095.9,1498.5 1100.5,1498.3 1105.2,1498.2 1110.1,1498 1115.1,1497.7 1119.8,1497.5 1123.9,1497.3 1127.3,1497.4 1129.8,1497.8 1131.4,1498.4 1132.5,1499.2 1133.4,1500.2 1134.3,1500.9 1135.4,1502.1 1136.7,1502.8 1138.1,1503.7 1139.4,1505.7 1140.7,1507.3 1142.1,1509.5 1143.4,1511.2 1144.8,1512.7 1146.1,1513.4 1147.4,1514 1148.8,1514.9 1150.1,1515.6 1151.5,1516.8 1152.8,1517.3 1154.2,1516.9 1155.5,1516.6 1156.8,1515.7 1158.2,1515 1159.5,1514.5 1160.8,1513.2 1162.1,1511.8 1163.4,1509.7 1164.7,1508 1166.1,1506.4 1167.6,1504.6 1169.2,1503 1171,1501.4 1172.9,1499.7 1174.8,1498.2 1176.6,1496.7 1178.3,1495.5 1179.8,1494.3 1181.1,1493.6 1182.3,1493.5 1183.6,1492.8 1184.9,1492.7 1186.4,1492.9 1188,1492.6 1189.7,1493.5 1191.6,1494.2 1193.4,1494.9 1195.3,1496.2 1197.1,1496.1 1198.9,1497.2 1200.7,1497.3 1202.5,1498 1204.2,1499.3 1206,1499.4 1207.8,1500.4 1207.8,1534.1 1205.6,1533.3 1203.3,1533.1 1201.1,1533.6 1198.9,1533.8 1196.6,1534.2 1194.4,1533.9 1192.1,1533.7 1189.8,1533.7 1187.5,1534.1 1185.3,1534.8 1183.1,1534.6 1181,1534.2 1179,1534.9 1177.1,1535.1 1175.3,1535.8 1173.5,1536.9 1171.9,1537.3 1170.3,1537.8 1168.8,1538.8 1167.4,1540.7 1166.1,1542.1 1164.8,1543.9 1163.5,1545 1162.2,1545.9 1160.9,1546.5 1159.5,1547.5 1158.2,1548.7 1156.8,1549.1 1155.5,1549.3 1154.2,1549.2 1152.8,1548.3 1151.5,1547.3 1150.1,1546.7 1148.8,1545.9 1147.4,1545.5 1146.1,1544.8 1144.8,1543.4 1143.5,1542.3 1142.2,1540.5 1140.9,1539.1 1139.6,1538.2 1138.1,1537.4 1136.6,1537.1 1135.3,1536.6 1133.9,1535.5 1132.2,1534.1 1130.1,1532.6 1127.3,1531.4 1123.8,1531.2 1119.6,1531.4 1114.9,1531.6 1110,1531.7 1105.2,1531.5 1100.5,1531.3 1095.9,1531.7 1091.2,1531.6 1086.4,1531.6 1081.9,1531.6 1077.5,1531.6 1073.7,1532.1 1070.3,1532.4 1067.4,1533.3 1064.7,1533.1 1062.2,1533.5 1059.7,1534.1 1057,1533.3" fill="#959595" stroke="#7a7a7a" stroke-width="1"/>
<line x1="1057" y1="1515.6" x2="1208.4" y2="1515.6" stroke="#000" stroke-width="1.5" stroke-dasharray="5.6 2.4"/>
<line x1="1157.4" y1="1502.2" x2="1157.4" y2="1531.2" stroke="#000" stroke-width="2"/>
<path d="M1057 1515.9l2.8-.2 2.8-.3 2.8 0 2.8-.3 2.7 0 2.8-.1 2.7 0 2.7-.2 2.6 0 2.7-.1 2.7-.3 2.7 0 2.6-.2 2.7 .3 2.7 .3 2.7 .2 2.7 .1 2.7 0 2.7-.1 2.9-.1 2.9 0 2.8-.5 2.5-.3 2.3-.3 1.8-.3 1.4 .2 1.3-.1 1.1 0 1.2 .2 1.2 .3 1.3 .8 1.4 1 1.3 1.3 1.4 1.3 1.3 1.3 1.4 1.4 1.3 1.1 1.3 1.7 1.4 1.4 1.3 1.3 1.4 1.6 1.3 .8 1.4 1 1.4 1.1 1.4 .8 1.4 1 1.3 .7 1.2 .3 1 .1 .9-.1 .8-.2 .8-.4 .9-.4 .9-.6 1.1-1 1.1-1 1.1-1.2 1.1-1.3 1.2-1.3 1.1-1.4 1.1-1.7 1.1-1.5 1.1-1.9 1.1-1.8 1.1-1.5 1.2-1.6 1.3-.9 1.3-.9 1.4-1.1 1.4-.7 1.3-.9 1.4-.7 1.3-.3 1.4-.5 1.3-.2 1.4-.1 1.3-.2 1.3 0 1.3 .2 1.3 .6 1.3 .9 1.3 .9 1.4 .9 1.5 .6 1.6 .5 1.8 .4 1.8 .4 1.8 .5 1.9 .5 1.8 .8" fill="none" stroke="#000" stroke-width="5" stroke-linejoin="round" stroke-linecap="round"/>
<polygon points="1057,1577.9 1059.7,1577.5 1062.2,1577.7 1064.7,1577.6 1067.4,1578 1070.3,1577.6 1073.7,1577.5 1077.5,1577.6 1081.9,1577.1 1086.4,1577.5 1091.2,1577.4 1095.9,1577.5 1100.5,1577.6 1105.2,1577.2 1110.1,1576.8 1115.1,1576.3 1119.8,1576.4 1123.9,1576 1127.3,1576.4 1129.8,1576.6 1131.4,1575.7 1132.5,1576.4 1133.4,1576.4 1134.3,1577.2 1135.4,1578.5 1136.7,1579.8 1138.1,1581.1 1139.4,1582.7 1140.7,1584.5 1142.1,1585.9 1143.4,1587.7 1144.8,1588.9 1146.1,1590.9 1147.4,1592.6 1148.8,1593.8 1150.1,1595.4 1151.5,1596 1152.8,1596.4 1154.2,1596.4 1155.5,1596.3 1156.8,1595.2 1158.2,1593.9 1159.5,1592.2 1160.8,1589.5 1162.1,1587.8 1163.4,1585.4 1164.7,1583.7 1166.1,1582.4 1167.6,1580.8 1169.2,1578.7 1171,1577.2 1172.8,1575.5 1174.6,1573.9 1176.5,1573.6 1178.3,1572.1 1180.1,1570.9 1182,1570.1 1183.8,1569.3 1185.7,1569.8 1187.4,1569.5 1189,1569.5 1190.5,1569.9 1191.8,1569.8 1193.1,1570.7 1194.3,1571.4 1195.6,1572.1 1197.1,1573 1198.7,1573.8 1200.5,1575.1 1202.3,1576.3 1204.1,1577 1206,1578.3 1207.8,1578.9 1207.8,1607.5 1205.6,1606.8 1203.3,1606.6 1201.1,1606.1 1198.9,1605.1 1196.6,1605.2 1194.4,1605.2 1192.1,1605.1 1189.8,1605.7 1187.5,1605.7 1185.3,1605.8 1183.1,1606.4 1181,1606.5 1179,1607.2 1177.1,1607.8 1175.3,1609.2 1173.5,1610.6 1171.9,1611.6 1170.3,1613.1 1168.8,1614.4 1167.4,1616 1166.1,1617.9 1164.8,1619.3 1163.5,1620.6 1162.2,1622.3 1160.9,1623.5 1159.5,1625 1158.2,1625.9 1156.8,1625.9 1155.5,1625.7 1154.2,1625.7 1152.8,1624.8 1151.5,1624.5 1150.1,1623.9 1148.8,1623 1147.4,1622.7 1146.1,1621.4 1144.8,1620.2 1143.5,1618.4 1142.2,1616.6 1140.9,1614.9 1139.6,1613.8 1138.1,1612.3 1136.6,1611 1135.3,1609.8 1133.9,1608.3 1132.2,1607.5 1130.1,1606.8 1127.3,1606.2 1123.8,1606.1 1119.6,1606 1114.9,1605.4 1110,1605.4 1105.2,1605.5 1100.5,1605.1 1095.9,1605.4 1091.2,1605.8 1086.4,1605.5 1081.9,1605.9 1077.5,1606 1073.7,1605.9 1070.3,1605.3 1067.4,1604.9 1064.7,1604.9 1062.2,1605 1059.7,1605.8 1057,1606.8" fill="#959595" stroke="#7a7a7a" stroke-width="1"/>
<line x1="1057" y1="1592.1" x2="1208.4" y2="1592.1" stroke="#000" stroke-width="1.5" stroke-dasharray="5.6 2.4"/>
<line x1="1157.4" y1="1580.5" x2="1157.4" y2="1604.2" stroke="#000" stroke-width="2"/>
<path d="M1057 1593.9l1.9-.4 1.9-.2 1.9-.3 1.9-.3 1.8-.3 1.9-.2 1.8-.3 1.9-.2 1.9 0 1.8-.3 1.7-.1 1.6-.5 1.5-.3 1.4-.5 1.3-.2 1.3-.3 1.3-.3 1.3-.1 1.3 .2 1.3 .7 1.2 .7 1.3 .8 1.4 .4 1.5 .1 1.7 .4 1.7 .2 1.8 0 1.9 0 1.8-.2 1.9-.3 1.7-.1 1.8-.2 1.8-.4 1.8-.2 1.8-.4 1.8-.3 1.8-.1 1.9 0 1.9 0 1.8 0 1.8 0 1.5-.5 1.4-.4 1.2-.8 1-.7 1-.7 1.1-.5 1-.2 1.2 .3 1.1 .7 1.1 1.2 1.1 1.3 1.1 1.5 1.1 1.8 1.2 1.7 1.1 2.3 1.1 2.6 1.1 2.5 1.1 2.3 1.1 2 1.2 1.5 1.1 1.6 1.2 1.6 1.1 1.2 1.1 1.3 1.1 .6 .9 .2 .8 .1 .9-.3 .8-.6 .9-.7 1-.8 1.2-1.5 1.3-1.7 1.4-2 1.4-2 1.4-1.9 1.4-1.8 1.3-1.8 1.4-1.8 1.3-1.7 1.3-1.5 1.4-1.4 1.3-1.4 1.4-1.1 1.4-1 1.3-.5 1.4-.4 1.3-.3 1.3-.5 1.2-.9 1.1-1 1.1-1.1 1.1-1 1.1-.3 1.1 0 1 .5 1.1 .9 1 1.1 1.1 1.2 1.1 1 1.4 .8 1.5 .5 1.8 .5 1.8 .6 1.9 .6 1.9 .6 1.8 .7" fill="none" stroke="#000" stroke-width="5" stroke-linejoin="round" stroke-linecap="round"/>
<polygon points="1057,1654.1 1059.7,1653.7 1062.2,1653.5 1064.7,1653.5 1067.4,1654.5 1070.3,1653.3 1073.7,1653 1077.5,1653.1 1081.9,1652.9 1086.4,1653.6 1091.2,1653.5 1095.9,1653.2 1100.5,1653.1 1105.2,1653.3 1110.1,1653.8 1115.1,1653.9 1119.8,1653.9 1123.9,1653.1 1127.3,1652.9 1129.8,1653.2 1131.4,1652.1 1132.5,1653.1 1133.4,1653.1 1134.3,1653.7 1135.4,1654.9 1136.7,1655.5 1138.1,1657.3 1139.4,1658.6 1140.7,1660.9 1142.1,1662.5 1143.4,1664.2 1144.8,1665.2 1146.1,1666 1147.4,1667.4 1148.8,1668.3 1150.1,1669.1 1151.5,1670 1152.8,1670 1154.2,1669.6 1155.5,1669.1 1156.8,1668.3 1158.2,1667.5 1159.5,1666.3 1160.8,1665.2 1162.1,1663 1163.4,1660.8 1164.7,1658.8 1166.1,1656.8 1167.6,1655.2 1169.2,1653.6 1171,1652 1172.8,1650.4 1174.6,1649.3 1176.5,1648.2 1178.3,1647.2 1180,1646.6 1181.6,1645.8 1183.2,1645.5 1184.9,1645.8 1186.8,1645.9 1189,1646.4 1191.7,1647.7 1194.7,1649 1197.9,1650.9 1201.3,1652.4 1204.6,1654.2 1207.8,1655.8 1207.8,1686.5 1205.6,1685.5 1203.3,1685.1 1201.1,1684.8 1198.9,1684.8 1196.6,1685.4 1194.4,1685.2 1192.1,1685 1189.8,1684.6 1187.5,1684.1 1185.3,1684.7 1183.1,1685.1 1181,1686 1179,1687 1177.1,1687.6 1175.3,1688.4 1173.5,1689.4 1171.9,1689.8 1170.3,1690.8 1168.8,1691.6 1167.4,1693 1166.1,1695 1164.8,1696.5 1163.5,1698.2 1162.2,1699.4 1160.9,1700.3 1159.5,1701 1158.2,1701.5 1156.8,1701.9 1155.5,1701.5 1154.2,1701.3 1152.8,1701 1151.5,1700.4 1150.1,1700.1 1148.8,1700 1147.4,1699.5 1146.1,1698.8 1144.8,1697.4 1143.5,1695.7 1142.2,1694 1140.9,1692.5 1139.6,1691.5 1138.1,1690.3 1136.6,1688.9 1135.3,1687.6 1133.9,1686.3 1132.2,1685.3 1130.1,1685.1 1127.3,1684.4 1123.8,1684.6 1119.6,1684.2 1114.9,1683.7 1110,1684.4 1105.2,1684.5 1100.5,1684.1 1095.9,1684.4 1091.2,1683.7 1086.4,1683.4 1081.9,1684 1077.5,1683.7 1073.7,1684.1 1070.3,1685 1067.4,1684.8 1064.7,1685.7 1062.2,1686 1059.7,1685.6 1057,1686.3" fill="#959595" stroke="#7a7a7a" stroke-width="1"/>
<line x1="1057" y1="1669.4" x2="1208.4" y2="1669.4" stroke="#000" stroke-width="1.5" stroke-dasharray="5.6 2.4"/>
<line x1="1157.4" y1="1655.1" x2="1157.4" y2="1682" stroke="#000" stroke-width="2"/>
<path d="M1057 1669.6l1.9-.2 1.9 0 1.9-.1 1.9 0 1.8-.3 1.9-.3 1.8-.3 1.8-.5 1.8-.4 1.8-.4 1.7-.1 1.8 0 1.8 .2 1.8 0 1.8 .1 1.8 .2 1.8 .1 1.8 .5 1.7 .3 1.8 .4 1.8 .4 1.8 .1 1.8 .2 1.8 .2 1.8 .2 1.8 .2 1.8-.2 1.7-.2 1.8-.2 1.8-.6 1.8 0 1.8-.3 1.8-.2 1.8 0 1.8-.5 1.8 0 1.8-.1 1.8 0 1.9 .1 1.8-.1 1.8 .1 1.6 .3 1.5 .6 1.4 .7 1.4 1.1 1.3 1 1.2 1.2 1.2 1 1.2 1 1.2 1.5 1.1 1.3 1.1 1.6 1 1.3 1.1 1.3 1.2 1.2 1.1 1 1.2 1.1 1.1 .8 1.1 .9 1.1 .6 .9 .2 .9 .1 .8-.1 .9-.4 .9-.4 .9-.6 1.1-1.2 1.1-1 1.1-1.4 1.1-1.4 1.2-1.5 1.1-1.5 1.1-1.6 1.1-1.8 1.1-1.7 1.1-1.8 1.1-1.7 1.2-1.2 1.3-1.1 1.3-1 1.4-.8 1.4-1 1.3-.8 1.4-.7 1.3-.6 1.4-.2 1.3-.1 1.4 0 1.3 .4 1.3 .1 1.3 .5 1.3 .2 1.3 .1 1.3 .5 1.4 .1 1.5 .4 1.6 .6 1.8 .6 1.8 1.1 1.8 1.1 1.9 1 1.8 1.1" fill="none" stroke="#000" stroke-width="5" stroke-linejoin="round" stroke-linecap="round"/>
<path d="M1238.7 1040.5l.4 1.4 .4 1.4 .4 1.5 .5 1.4 .4 1.2 .6 1.1 .5 1 .5 .9 .5 .7 .6 .7 .8 .5 1.1 .3 1.3 .1 1.6-.2 1.7-.3 1.9-.3 2-.4 2.2-.3 2.4-.2 2.8-.3 2.9-.2 2.8-.3 2.8-.2 2.4-.1 2.1-.1 1.9-.1 1.7-.1 1.7 0 1.6 .1 1.7 .2 1.9 .3 1.8 .4 1.9 .5 1.8 .5 1.7 .5 1.7 .5 1.5 .4 1.5 .4 1.3 .4 1.3 .4 1.3 .5 1.1 .6 1.1 .7 1 .8 .9 .9 .8 .9 .8 .7 .8 .5 .7 .3 .7 .1 .7 0 .6-.2 .7-.3 .6-.4 .7-.7 .6-1 .6-1 .6-1.1 .7-1 .8-.6 1-.4 1.2-.2 1.2-.1 1.2 0 1.2 .3 1 .4 .8 .6 .6 .8 .6 .9 .6 1.1 .7 1.5 .7 1.8 .8 2.4 .9 2.8 .9 3.2 .9 3.2 .9 3.1 .9 2.8 1 2.4 .9 2.5 .9 2.3 .9 2 .9 1.7 .8 1.1 .7 .7 .7 .3 .6 0 .6-.5 .7-.7 .7-1.1 .8-1.5 .9-2 .8-2.3 1-2.5 .9-2.6 1-2.5 1.1-2.7 1.1-2.8 1.2-3 1.1-2.9 1.2-2.6 1-2.1 .9-1.7 .9-1.4 .8-1 .8-.9 .9-.9 1.1-.8 1.2-.9 1.3-.8 1.3-.8 1.4-.6 1.5-.6 1.3-.4 1.4-.2 1.4-.2 1.3-.1 1.4 .1 1.3 .2 1.3 .2 1.2 .5 1.2 .6 1.1 .8 1.1 .8 1.1 .7 1 .7 1 .4 1 .4 1 .3 .9 .4 .8 .5 .6 .7 .6 .8 .3 1.1 .3 1.2 .2 1.2 .3 1.2 .2 1.2" fill="none" stroke="#808080" stroke-width="4.4" stroke-linejoin="round" stroke-linecap="round"/>
<line x1="1238.7" y1="1053.1" x2="1388.1" y2="1053.1" stroke="#000" stroke-width="1.5" stroke-dasharray="5.6 2.4"/>
<line x1="1338.8" y1="1033" x2="1338.8" y2="1073.2" stroke="#000" stroke-width="2"/>
<path d="M1238.7 1138.4l.6-1.8 .7-2 .6-2 .7-1.9 .7-1.6 .7-1.4 .8-1 .8-.8 .8-.5 .9-.4 1-.4 1.1-.4 1.1-.5 1.3-.4 1.3-.4 1.3-.3 1.5-.2 1.5-.1 1.6 .3 1.8 .5 1.8 .6 1.9 .6 1.8 .5 1.8 .2 1.8 0 1.8-.2 1.8-.3 1.8-.5 1.8-.4 1.8-.5 1.8-.5 2-.6 1.9-.6 1.8-.7 1.7-.6 1.5-.5 1.2-.3 1-.4 .8-.3 .8-.2 .7-.1 .9 0 .9 .1 .9 .3 .9 .3 .9 .4 .9 .5 .8 .6 .9 .6 .9 .8 .8 .8 .9 .8 .9 .8 1 .7 1.1 .7 1.1 .7 1.2 .7 1.2 .5 1.1 .2 1-.1 .8-.5 .7-.9 .6-1.2 .6-1.3 .6-1.4 .7-1.4 .9-1.5 .9-1.7 .9-1.8 .9-1.7 .9-1.5 .9-1.2 .8-1 .9-.9 .8-.8 .8-.4 .8-.1 .7 .5 .8 1 .7 1.5 .8 1.9 .7 2.2 .8 2.6 .8 2.9 .8 3.4 .9 3.9 .9 4.3 .9 4.4 1 4.3 .9 3.8 .9 3.7 .9 3.7 .9 3.6 .9 3.2 .9 2.7 .8 1.9 .8 1.1 .7 .5 .6-.2 .7-.5 .6-1 .7-1.2 .6-1.6 .6-2.1 .7-2.4 .6-2.8 .7-2.9 .8-3 .8-3.3 .9-3.8 .9-3.9 .9-3.9 .9-3.6 .9-2.9 .9-2.5 .9-2.2 .9-1.8 .9-1.4 .9-1 .9-.5 .9 .1 .9 .8 .9 1.2 .9 1.5 .9 1.6 .9 1.5 .9 1.5 .9 1.9 .9 1.9 1 1.8 .8 1.4 .8 .9 .8 .1 .6-.4 .7-.7 .6-1 .6-1.1 .8-1 .8-1 .9-1.3 1-1.4 .9-1.3 .9-1.1 .8-.6 .8-.2 .7 .1 .6 .3 .6 .6 .7 .8 .7 1.1 .7 1.5 .7 1.8 .8 2.2 .8 2.2 .8 2.3 .7 2.1" fill="none" stroke="#808080" stroke-width="4.4" stroke-linejoin="round" stroke-linecap="round"/>
<line x1="1238.7" y1="1126.9" x2="1388.1" y2="1126.9" stroke="#000" stroke-width="1.5" stroke-dasharray="5.6 2.4"/>
<line x1="1338.8" y1="1111.6" x2="1338.8" y2="1142.5" stroke="#000" stroke-width="2"/>
<path d="M1238.7 1212.2l.6-1.2 .6-1.2 .5-1.3 .7-1.2 .7-1 .9-.8 1.1-.5 1.2-.4 1.3-.2 1.4 0 1.5-.1 1.5-.1 1.7-.2 1.8-.2 1.9-.1 1.9-.1 1.8 0 1.7 0 1.5 .2 1.5 .2 1.3 .4 1.3 .3 1.3 .4 1.1 .4 1 .5 .9 .5 .8 .6 .8 .6 .9 .3 1 .2 1.2-.2 1.4-.4 1.4-.6 1.5-.6 1.3-.5 1.2-.4 1.1-.2 .9-.1 .9-.1 .8 0 .8 .1 .9 .3 .9 .4 .8 .6 .8 .7 .9 .8 .9 .8 1.1 .7 1.2 .9 1.4 1 1.4 1 1.4 .9 1.4 .7 1.2 .4 1.1-.1 .9-.3 .9-.6 .8-.7 .8-.9 .9-.9 .9-1.2 .9-1.4 1-1.6 .9-1.6 .8-1.3 .9-1 .7-.6 .7-.5 .7-.3 .6 0 .6 .2 .7 .4 .6 .7 .7 .9 .6 1.1 .7 1.4 .7 1.6 .7 1.8 .8 2.2 .9 2.7 .9 2.8 .9 2.9 1 2.9 .9 2.6 .9 2.5 .9 2.5 .9 2.5 .9 2.3 .9 2 .8 1.6 .9 1.4 .8 1 .8 .7 .8 .6 .8 .3 .8 .1 .7-.1 .8-.3 .7-.5 .8-.7 .7-1.1 .8-1.4 .9-1.8 .8-2.2 .9-2.6 .9-2.7 .9-2.8 1-2.6 1.1-2.7 1.1-3 1.2-2.9 1.1-2.9 1.2-2.5 1-2.1 .9-1.6 .9-1.1 .8-.9 .8-.7 .9-.5 1.1-.6 1.2-.5 1.3-.4 1.3-.2 1.4-.2 1.5 0 1.3 0 1.4 .1 1.3 .3 1.3 .4 1.4 .4 1.3 .5 1.4 .4 1.3 .5 1.4 .4 1.4 .5 1.4 .5 1.3 .4 1.2 .4 1.1 .4 1 .3 1 .3 .9 .3 1 .3 .9 .3" fill="none" stroke="#808080" stroke-width="4.4" stroke-linejoin="round" stroke-linecap="round"/>
<line x1="1238.7" y1="1204.7" x2="1388.1" y2="1204.7" stroke="#000" stroke-width="1.5" stroke-dasharray="5.6 2.4"/>
<line x1="1338.8" y1="1185.9" x2="1338.8" y2="1223.5" stroke="#000" stroke-width="2"/>
<path d="M1238.7 1279.6l1.1-.3 1.1-.2 1-.3 1.1-.3 1.2-.3 1.2-.4 1.2-.6 1.4-.7 1.3-.7 1.4-.7 1.4-.5 1.3-.3 1.4-.1 1.3 0 1.4 .2 1.3 .3 1.3 .4 1.4 .5 1.3 .8 1.4 1.1 1.3 1.1 1.3 1.1 1.4 .9 1.3 .4 1.4-.1 1.4-.6 1.3-.7 1.4-1 1.3-.9 1.3-.7 1.2-.8 1.1-.9 1.1-.9 1.1-.7 1.1-.6 1.1-.2 1.1 .2 1.2 .5 1.1 .8 1.2 .8 1.1 .9 1 .9 .9 .8 .9 .9 .8 1 .8 1 .9 .9 1.1 .7 1.1 .7 1.3 .6 1.4 .5 1.4 .4 1.4 .3 1.4 .2 1.4 0 1.4 0 1.4-.2 1.4-.3 1.3-.4 1.2-.4 1-.6 1-.6 .9-.7 .8-.7 .8-.8 .8-.7 .8-.8 .7-1 .6-.9 .7-.8 .6-.5 .7 0 .6 .5 .6 1 .7 1.2 .6 1.5 .7 1.8 .8 2.1 .8 2.3 .9 2.8 .9 3.1 .9 3.1 .9 3.2 .9 2.9 1 2.9 .9 3.1 .9 3 .9 2.8 .9 2.4 .8 1.9 .7 1.4 .7 .9 .6 .6 .6 .3 .7-.1 .7-.4 .8-.7 .9-1.1 .8-1.4 1-1.7 .9-2.1 1-2.4 1.1-3 1.1-3.6 1.2-4 1.1-4 1.2-3.7 1-3.2 1-2.6 .9-2.4 .9-2.2 .8-1.9 .9-1.6 .9-1.3 .8-1.1 .9-.8 .8-.5 .9-.2 .9-.1 1 0 1.2 .2 1.3 .4 1.4 .7 1.4 .7 1.4 .7 1.4 .8 1.4 .7 1.4 .9 1.4 .9 1.4 .8 1.3 .7 1.1 .5 1.1 .3 1 .2 .9 .1 .9-.1 .8-.2 .7-.3 .7-.4 .5-.6 .5-.7 .5-.8 .5-.8 .5-.7" fill="none" stroke="#808080" stroke-width="4.4" stroke-linejoin="round" stroke-linecap="round"/>
<line x1="1238.7" y1="1278.3" x2="1388.1" y2="1278.3" stroke="#000" stroke-width="1.5" stroke-dasharray="5.6 2.4"/>
<line x1="1338.8" y1="1262.7" x2="1338.8" y2="1294.4" stroke="#000" stroke-width="2"/>
<path d="M1238.7 1352.1l1.1 .3 1.1 .2 1 .3 1.1 .3 1.2 .4 1.2 .4 1.2 .5 1.4 .7 1.3 .8 1.4 .7 1.4 .5 1.3 .2 1.3 0 1.3-.3 1.3-.5 1.3-.6 1.4-.6 1.5-.6 1.6-.7 1.9-.8 1.8-.9 1.9-.8 1.8-.6 1.7-.3 1.5 .1 1.4 .3 1.3 .4 1.3 .6 1.3 .7 1.3 .6 1.3 .7 1.2 .9 1.3 .9 1.3 .9 1.4 .8 1.5 .7 1.7 .3 1.8 .2 1.9 .2 1.9 0 1.8 .1 1.6 .2 1.6 .4 1.4 .4 1.4 .5 1.3 .5 1.2 .3 1.2 .1 1-.2 1-.3 .8-.5 .9-.5 .8-.6 .9-.6 .9-.7 .9-.8 .9-.8 .9-.7 .9-.7 .8-.3 .8-.2 .7-.1 .6 0 .7 .3 .6 .5 .7 .8 .6 1.2 .6 1.5 .7 1.8 .6 1.9 .7 2.1 .8 2.2 .8 2.5 .9 2.7 .9 2.8 .9 2.9 .9 2.7 .9 2.5 1 2.4 .9 2.4 .9 2.2 .9 2 .9 1.8 .8 1.3 .7 1 .7 .7 .6 .4 .6 .1 .7-.2 .7-.6 .8-1 .9-1.2 .8-1.6 1-2 .9-2.3 1-2.7 1.1-3.4 1.1-4.1 1.2-4.5 1.1-4.5 1.2-4.1 1-3.5 1-2.9 .9-2.4 .9-2.2 .8-1.8 .9-1.5 .9-1.3 .8-.9 .9-.5 .8-.3 .9 0 .9 .1 1 .3 1.2 .3 1.3 .6 1.4 .7 1.4 .8 1.4 .8 1.4 .8 1.4 .7 1.4 .8 1.4 .8 1.4 .8 1.3 .5 1.1 .4 1.1 .1 1-.1 .9-.3 .9-.4 .8-.3 .7-.3 .7-.3 .5-.2 .5-.2 .5-.2 .5-.3 .5-.2" fill="none" stroke="#808080" stroke-width="4.4" stroke-linejoin="round" stroke-linecap="round"/>
<line x1="1238.7" y1="1353.4" x2="1388.1" y2="1353.4" stroke="#000" stroke-width="1.5" stroke-dasharray="5.6 2.4"/>
<line x1="1338.8" y1="1338.7" x2="1338.8" y2="1368.2" stroke="#000" stroke-width="2"/>
<path d="M1238.7 1435.3l1 .5 1.1 .5 1 .6 1 .5 1.2 .4 1.4 .1 1.5 0 1.7-.3 1.7-.4 1.9-.5 1.9-.4 2-.2 2.1-.2 2.2 0 2.3 0 2.3 .1 2.3 0 2.2 .1 2.3 0 2.4 0 2.4 .1 2.3 0 2.1 .2 1.9 .2 1.7 .3 1.5 .4 1.4 .4 1.2 .5 1.2 .5 1.1 .6 1 .6 1 .7 .8 .7 .9 .7 .8 .7 .9 .6 .9 .6 .9 .7 .8 .6 .9 .4 .9 .3 .9 .1 .9-.3 .9-.5 .9-.7 .9-.8 .9-.9 .9-.8 .9-.9 .8-1 .9-1.1 .9-1 .9-.8 1-.6 1-.4 1.2-.2 1.2-.1 1.2 .1 1.1 .2 1 .4 .8 .5 .7 .6 .6 .7 .7 1 .6 1.1 .6 1.5 .7 1.8 .6 2.1 .7 2.4 .7 2.5 .6 2.4 .7 2.2 .7 2 .6 1.9 .6 1.9 .7 1.7 .7 1.7 .7 1.5 .9 1.5 .8 1.4 .9 1.4 1 1.1 .9 .9 .9 .4 .9 .1 .9-.3 .9-.5 .9-.9 .9-1.1 .9-1.3 .9-1.7 .9-2.1 .9-2.3 .9-2.5 .8-2.5 .9-2.3 .9-2.3 .9-2.5 .9-2.4 .9-2.4 .9-2.1 .9-1.7 .9-1.5 .8-1.1 .8-1 .9-.7 .9-.6 1.1-.5 1.2-.3 1.3 0 1.3 .1 1.4 .2 1.5 .3 1.3 .2 1.4 .3 1.3 .5 1.3 .4 1.4 .5 1.3 .3 1.4 .2 1.3-.2 1.4-.5 1.4-.6 1.4-.5 1.3-.1 1.2 .5 1.1 1.3 1 1.8 1 2.1 .9 2.4 1 2.3 .9 2.2" fill="none" stroke="#808080" stroke-width="4.4" stroke-linejoin="round" stroke-linecap="round"/>
<line x1="1238.7" y1="1437.1" x2="1388.1" y2="1437.1" stroke="#000" stroke-width="1.5" stroke-dasharray="5.6 2.4"/>
<line x1="1338.8" y1="1415.1" x2="1338.8" y2="1458.6" stroke="#000" stroke-width="2"/>
<path d="M1238.7 1517l.6-.8 .6-.9 .5-.9 .7-.8 .7-.7 .9-.5 1.1-.4 1.2-.2 1.3-.1 1.4 0 1.5-.1 1.5 0 1.7-.1 1.6 0 1.8 0 1.8 .1 1.9 0 2 0 2.1 0 2.3 0 2.3 0 2.3 0 2.3 0 2.1 0 2-.1 2-.2 1.9-.2 1.7-.2 1.7-.1 1.4 0 1.2 .1 1 .3 .8 .3 .8 .4 .8 .5 .8 .5 .9 .8 .9 .9 .9 1 .9 1 .9 .9 .9 .8 .9 .7 .9 .6 .8 .6 .9 .4 .9 .3 .9 .1 .9-.2 .9-.4 .9-.6 .9-.6 .9-.7 .9-.7 .9-.8 .9-.9 .9-.9 .9-.9 .9-.8 .9-.6 .9-.4 .9-.3 .9-.2 .9-.1 .9 .2 .8 .3 .8 .5 .6 .8 .6 .9 .7 1 .6 1.3 .8 1.4 .8 1.7 .8 1.9 1 2 .9 2.2 .9 2.2 .9 2.1 .9 2 .9 2.2 .9 2.1 .9 2.1 .9 1.9 .9 1.7 .9 1.6 .9 1.5 .9 1.4 .9 1.1 .9 .8 .9 .4 .8-.1 .9-.4 .8-.7 .9-1.1 .9-1.4 1-1.7 1.1-2.3 1.1-2.8 1.2-3.1 1.1-3.3 1.2-3.1 1-2.9 1-2.5 1-2.5 .9-2.3 .9-2.2 .8-2.1 .8-1.8 .7-1.6 .7-1.4 .6-1.2 .6-1.1 .7-.8 .7-.6 .8-.3 .9 .1 .8 .2 .9 .4 1 .5 1 .5 1 .5 1.1 .7 1.1 .7 1.1 .8 1.2 .7 1.2 .6 1.3 .5 1.3 .4 1.4 .4 1.4 .3 1.4 .2 1.2 .1 1.3-.1 1.3-.2 1.2-.3 1.1-.4 1-.4 .8-.5 .6-.6 .4-.6 .3-.7 .2-.7 .2-.7 .2-.7" fill="none" stroke="#808080" stroke-width="4.4" stroke-linejoin="round" stroke-linecap="round"/>
<line x1="1238.7" y1="1510.8" x2="1388.1" y2="1510.8" stroke="#000" stroke-width="1.5" stroke-dasharray="5.6 2.4"/>
<line x1="1338.8" y1="1492.8" x2="1338.8" y2="1529" stroke="#000" stroke-width="2"/>
<path d="M1238.7 1592.1l.6-1.3 .7-1.3 .6-1.3 .7-1.3 .7-1.1 .7-1 .8-.7 .8-.6 .8-.5 .9-.4 1-.2 1.1-.2 1.1-.1 1.3 0 1.3 .1 1.3 .2 1.5 .2 1.5 .1 1.6 .1 1.8 .1 1.8 .1 1.9 .1 1.8 .1 1.8 0 1.8 0 1.8-.1 1.8-.1 1.8-.1 1.8-.1 1.8-.1 1.8-.1 1.9 0 1.8 0 1.8 0 1.8 0 1.6 .1 1.5 .1 1.5 .1 1.4 .1 1.3 .2 1.2 .3 1.2 .5 1 .8 1 1 .9 1.2 .8 1.2 .8 1.1 .8 .9 .8 .8 .6 .8 .6 .7 .7 .6 .6 .3 .8 0 .8-.3 .9-.6 .9-.8 1-1 .9-1.3 .8-1.3 .8-1.8 .7-2.1 .6-2.3 .7-2.3 .6-2.1 .6-1.5 .7-1.1 .7-.9 .7-.5 .6-.3 .7-.1 .7 .2 .6 .5 .7 .7 .6 1 .7 1.2 .6 1.5 .8 1.8 .8 2.1 .9 2.5 .9 2.7 .9 2.9 .9 3 1 2.9 .9 3.1 .9 3.3 .9 3.3 .9 3.3 .9 3.1 .8 2.7 .8 2.4 .7 2.3 .6 2 .7 1.7 .6 1.4 .7 .9 .6 .5 .6 .1 .7-.2 .6-.7 .7-1 .8-1.4 .8-1.8 .9-2.4 .9-2.8 .9-3 .9-3.1 .9-3 .9-3 .9-3.4 .9-3.4 .9-3.3 .9-3 .9-2.6 .9-2.2 .8-2 .8-1.6 .9-1.4 .9-1.2 1.1-1 1.2-.8 1.3-.4 1.3-.2 1.4 0 1.5 0 1.3 0 1.4 .1 1.3 .1 1.3 .2 1.4 .3 1.3 .3 1.4 .4 1.3 .4 1.4 .5 1.4 .6 1.4 .6 1.3 .7 1.2 .7 1.1 .7 1 .7 1 .8 .9 .8 1 .7 .9 .8" fill="none" stroke="#808080" stroke-width="4.4" stroke-linejoin="round" stroke-linecap="round"/>
<line x1="1238.7" y1="1581.3" x2="1388.1" y2="1581.3" stroke="#000" stroke-width="1.5" stroke-dasharray="5.6 2.4"/>
<line x1="1338.8" y1="1569.3" x2="1338.8" y2="1593.4" stroke="#000" stroke-width="2"/>
<path d="M1238.7 1670.7l1-.6 1.1-.6 1-.6 1-.6 1.2-.6 1.4-.5 1.5-.5 1.8-.4 1.8-.5 1.9-.4 1.9-.4 1.8-.5 1.8-.5 1.9-.6 1.8-.6 1.9-.5 1.7-.3 1.6-.2 1.5 .2 1.4 .3 1.3 .5 1.3 .6 1.3 .6 1.3 .5 1.3 .6 1.4 .7 1.3 .7 1.4 .6 1.3 .6 1.3 .3 1.4 .1 1.4 0 1.4-.2 1.4-.2 1.3-.3 1.2-.2 1-.2 1-.4 .8-.3 .9-.3 .8-.2 .9 .1 .9 .2 .9 .5 .8 .6 .9 .6 .9 .7 .9 .6 .9 .6 .9 .8 .9 .8 .9 .7 .9 .4 .9 .2 .9-.3 .9-.6 .9-.8 .9-.8 .9-.9 .9-.6 .9-.7 .8-.7 .9-.7 .9-.6 .9-.2 .9 .2 .9 .6 .9 1.1 .9 1.3 .9 1.5 .9 1.7 .9 1.8 .9 2 .9 2.1 .9 2.4 .9 2.4 .9 2.3 .9 2.2 .9 2.2 .9 2.3 .9 2.2 .9 2.1 .9 1.8 .8 1.5 .8 1.2 .7 .9 .6 .7 .7 .5 .6 .2 .7 0 .6-.2 .6-.4 .7-.6 .6-.9 .7-1.2 .8-1.5 .8-2.1 .8-2.5 .9-2.8 .9-2.9 1-3 .9-2.8 1.1-2.8 1.1-3 1.1-3 1.2-2.8 1.1-2.5 1.1-2 1.2-1.6 1-1.1 1.1-.8 1.1-.6 1.2-.4 1.2-.4 1.2-.2 1.3 0 1.4 .2 1.4 .3 1.3 .3 1.4 .2 1.3 .3 1.3 .2 1.2 .3 1.3 .3 1.4 .4 1.6 .4 1.6 .6 1.9 .7 1.9 .7 1.9 .8 2 .8 1.9 .7" fill="none" stroke="#808080" stroke-width="4.4" stroke-linejoin="round" stroke-linecap="round"/>
<line x1="1238.7" y1="1663.2" x2="1388.1" y2="1663.2" stroke="#000" stroke-width="1.5" stroke-dasharray="5.6 2.4"/>
<line x1="1338.8" y1="1645.7" x2="1338.8" y2="1682" stroke="#000" stroke-width="2"/>
<line x1="27.3" y1="1703.5" x2="183.6" y2="1703.5" stroke="#000" stroke-width="2.4"/>
<line x1="39.6" y1="1703.5" x2="39.6" y2="1715.3" stroke="#000" stroke-width="2.4"/>
<line x1="131.1" y1="1703.5" x2="131.1" y2="1715.3" stroke="#000" stroke-width="2.4"/>
<line x1="208" y1="1703.5" x2="365" y2="1703.5" stroke="#000" stroke-width="2.4"/>
<line x1="220.4" y1="1703.5" x2="220.4" y2="1715.3" stroke="#000" stroke-width="2.4"/>
<line x1="312.2" y1="1703.5" x2="312.2" y2="1715.3" stroke="#000" stroke-width="2.4"/>
<line x1="1056.2" y1="1706.1" x2="1212.6" y2="1706.1" stroke="#000" stroke-width="2.4"/>
<line x1="1067.5" y1="1706.1" x2="1067.5" y2="1718.2" stroke="#000" stroke-width="2.4"/>
<line x1="1158.7" y1="1706.1" x2="1158.7" y2="1718.2" stroke="#000" stroke-width="2.4"/>
<line x1="1237.3" y1="1706.1" x2="1394" y2="1706.1" stroke="#000" stroke-width="2.4"/>
<line x1="1248.1" y1="1706.1" x2="1248.1" y2="1718.2" stroke="#000" stroke-width="2.4"/>
<line x1="1339.3" y1="1706.1" x2="1339.3" y2="1718.2" stroke="#000" stroke-width="2.4"/>
<text x="39.9" y="1756.2" font-family="Liberation Sans, sans-serif" font-size="28" font-weight="normal" text-anchor="middle" textLength="80" lengthAdjust="spacingAndGlyphs">&#8722;0.02</text>
<text x="220.6" y="1756.2" font-family="Liberation Sans, sans-serif" font-size="28" font-weight="normal" text-anchor="middle" textLength="80" lengthAdjust="spacingAndGlyphs">&#8722;0.02</text>
<text x="130.6" y="1756.2" font-family="Liberation Sans, sans-serif" font-size="28" font-weight="normal" text-anchor="middle" textLength="58" lengthAdjust="spacingAndGlyphs">0.00</text>
<text x="312" y="1756.2" font-family="Liberation Sans, sans-serif" font-size="28" font-weight="normal" text-anchor="middle" textLength="58" lengthAdjust="spacingAndGlyphs">0.00</text>
<text x="1067.6" y="1758.2" font-family="Liberation Sans, sans-serif" font-size="28" font-weight="normal" text-anchor="middle" textLength="80" lengthAdjust="spacingAndGlyphs">&#8722;0.02</text>
<text x="1248.7" y="1758.2" font-family="Liberation Sans, sans-serif" font-size="28" font-weight="normal" text-anchor="middle" textLength="80" lengthAdjust="spacingAndGlyphs">&#8722;0.02</text>
<text x="1158.6" y="1758.2" font-family="Liberation Sans, sans-serif" font-size="28" font-weight="normal" text-anchor="middle" textLength="58" lengthAdjust="spacingAndGlyphs">0.00</text>
<text x="1339.5" y="1758.2" font-family="Liberation Sans, sans-serif" font-size="28" font-weight="normal" text-anchor="middle" textLength="58" lengthAdjust="spacingAndGlyphs">0.00</text>
<text x="201.6" y="1800.5" font-family="Liberation Sans, sans-serif" font-size="37" font-weight="normal" text-anchor="middle" textLength="141" lengthAdjust="spacingAndGlyphs">Time [s]</text>
<text x="1221.9" y="1804.5" font-family="Liberation Sans, sans-serif" font-size="37" font-weight="normal" text-anchor="middle" textLength="140" lengthAdjust="spacingAndGlyphs">Time [s]</text>
<text x="33.5" y="999" font-family="Liberation Sans, sans-serif" font-size="38" font-weight="bold" text-anchor="start">i</text>
<text x="221.5" y="999.8" font-family="Liberation Sans, sans-serif" font-size="38" font-weight="bold" text-anchor="start">j</text>
<text x="534" y="996.4" font-family="Liberation Sans, sans-serif" font-size="38" font-weight="bold" text-anchor="start">k</text>
<text x="542.5" y="1375.3" font-family="Liberation Sans, sans-serif" font-size="38" font-weight="bold" text-anchor="start">l</text>
<text x="1069" y="995.8" font-family="Liberation Sans, sans-serif" font-size="38" font-weight="bold" text-anchor="start">m</text>
<text x="1249.5" y="994.4" font-family="Liberation Sans, sans-serif" font-size="38" font-weight="bold" text-anchor="start">n</text>
<rect x="557.3" y="1175.2" width="34.1" height="119.2" fill="#43891e" stroke="#ffffff" stroke-opacity="0.25" stroke-width="0.8"/>
<rect x="557.3" y="1056.1" width="34.1" height="119.2" fill="#a8001f" stroke="#ffffff" stroke-opacity="0.25" stroke-width="0.8"/>
<rect x="591.4" y="1145.5" width="33.4" height="149" fill="#43891e" stroke="#ffffff" stroke-opacity="0.25" stroke-width="0.8"/>
<rect x="591.4" y="1026.3" width="33.4" height="119.2" fill="#a8001f" stroke="#ffffff" stroke-opacity="0.25" stroke-width="0.8"/>
<rect x="624.8" y="1234.8" width="34" height="59.6" fill="#a8001f" stroke="#ffffff" stroke-opacity="0.25" stroke-width="0.8"/>
<rect x="658.8" y="1205" width="33.8" height="89.4" fill="#43891e" stroke="#ffffff" stroke-opacity="0.25" stroke-width="0.8"/>
<rect x="692.6" y="1234.8" width="34" height="59.6" fill="#43891e" stroke="#ffffff" stroke-opacity="0.25" stroke-width="0.8"/>
<rect x="726.6" y="1145.5" width="33.7" height="149" fill="#43891e" stroke="#ffffff" stroke-opacity="0.25" stroke-width="0.8"/>
<rect x="726.6" y="1115.7" width="33.7" height="29.8" fill="#a8001f" stroke="#ffffff" stroke-opacity="0.25" stroke-width="0.8"/>
<rect x="726.6" y="1085.9" width="33.7" height="29.8" fill="#4b1a80" stroke="#ffffff" stroke-opacity="0.25" stroke-width="0.8"/>
<rect x="760.3" y="1234.8" width="33.8" height="59.6" fill="#43891e" stroke="#ffffff" stroke-opacity="0.25" stroke-width="0.8"/>
<rect x="760.3" y="1145.5" width="33.8" height="89.4" fill="#4b1a80" stroke="#ffffff" stroke-opacity="0.25" stroke-width="0.8"/>
<rect x="794.1" y="1115.7" width="34" height="178.7" fill="#43891e" stroke="#ffffff" stroke-opacity="0.25" stroke-width="0.8"/>
<rect x="794.1" y="1026.3" width="34" height="89.4" fill="#4b1a80" stroke="#ffffff" stroke-opacity="0.25" stroke-width="0.8"/>
<rect x="828.1" y="1234.8" width="33.7" height="59.6" fill="#43891e" stroke="#ffffff" stroke-opacity="0.25" stroke-width="0.8"/>
<rect x="828.1" y="1205" width="33.7" height="29.8" fill="#4b1a80" stroke="#ffffff" stroke-opacity="0.25" stroke-width="0.8"/>
<rect x="861.8" y="1145.5" width="33.8" height="149" fill="#43891e" stroke="#ffffff" stroke-opacity="0.25" stroke-width="0.8"/>
<line x1="540.6" y1="1025.8" x2="540.6" y2="1294.4" stroke="#000" stroke-width="2.2"/>
<line x1="533.3" y1="1294.4" x2="912.4" y2="1294.4" stroke="#000" stroke-width="2.4"/>
<line x1="532.6" y1="1294.4" x2="540.6" y2="1294.4" stroke="#000" stroke-width="2.2"/>
<text x="518.4" y="1305.4" font-family="Liberation Sans, sans-serif" font-size="31" font-weight="normal" text-anchor="end" textLength="16.5" lengthAdjust="spacingAndGlyphs">0</text>
<line x1="532.6" y1="1234.8" x2="540.6" y2="1234.8" stroke="#000" stroke-width="2.2"/>
<text x="518.4" y="1245.8" font-family="Liberation Sans, sans-serif" font-size="31" font-weight="normal" text-anchor="end" textLength="16.5" lengthAdjust="spacingAndGlyphs">2</text>
<line x1="532.6" y1="1175.2" x2="540.6" y2="1175.2" stroke="#000" stroke-width="2.2"/>
<text x="518.4" y="1186.2" font-family="Liberation Sans, sans-serif" font-size="31" font-weight="normal" text-anchor="end" textLength="16.5" lengthAdjust="spacingAndGlyphs">4</text>
<line x1="532.6" y1="1115.7" x2="540.6" y2="1115.7" stroke="#000" stroke-width="2.2"/>
<text x="518.4" y="1126.7" font-family="Liberation Sans, sans-serif" font-size="31" font-weight="normal" text-anchor="end" textLength="16.5" lengthAdjust="spacingAndGlyphs">6</text>
<line x1="532.6" y1="1056.1" x2="540.6" y2="1056.1" stroke="#000" stroke-width="2.2"/>
<text x="518.4" y="1067.1" font-family="Liberation Sans, sans-serif" font-size="31" font-weight="normal" text-anchor="end" textLength="16.5" lengthAdjust="spacingAndGlyphs">8</text>
<line x1="581.4" y1="1294.4" x2="581.4" y2="1304" stroke="#000" stroke-width="2.2"/>
<text x="580.4" y="1341.5" font-family="Liberation Sans, sans-serif" font-size="30.5" font-weight="normal" text-anchor="middle" textLength="45" lengthAdjust="spacingAndGlyphs">0.2</text>
<line x1="679.3" y1="1294.4" x2="679.3" y2="1304" stroke="#000" stroke-width="2.2"/>
<text x="678.3" y="1341.5" font-family="Liberation Sans, sans-serif" font-size="30.5" font-weight="normal" text-anchor="middle" textLength="45" lengthAdjust="spacingAndGlyphs">0.4</text>
<line x1="777.9" y1="1294.4" x2="777.9" y2="1304" stroke="#000" stroke-width="2.2"/>
<text x="776.9" y="1341.5" font-family="Liberation Sans, sans-serif" font-size="30.5" font-weight="normal" text-anchor="middle" textLength="45" lengthAdjust="spacingAndGlyphs">0.6</text>
<line x1="875.8" y1="1294.4" x2="875.8" y2="1304" stroke="#000" stroke-width="2.2"/>
<text x="874.8" y="1341.5" font-family="Liberation Sans, sans-serif" font-size="30.5" font-weight="normal" text-anchor="middle" textLength="45" lengthAdjust="spacingAndGlyphs">0.8</text>
<text x="726.8" y="1383.2" font-family="Liberation Sans, sans-serif" font-size="33.5" font-weight="normal" text-anchor="middle" textLength="239" lengthAdjust="spacingAndGlyphs">Reliability Index</text>
<text x="0" y="0" font-family="Liberation Sans, sans-serif" font-size="32" font-weight="normal" text-anchor="middle" textLength="252" lengthAdjust="spacingAndGlyphs" transform="translate(485.5,1160.0) rotate(-90)">Number of cells</text>
<rect x="557" y="1500" width="32.2" height="161.7" fill="#43891e" stroke="#ffffff" stroke-opacity="0.25" stroke-width="0.8"/>
<rect x="557" y="1481" width="32.2" height="19" fill="#a8001f" stroke="#ffffff" stroke-opacity="0.25" stroke-width="0.8"/>
<rect x="557" y="1404.9" width="32.2" height="76.1" fill="#4b1a80" stroke="#ffffff" stroke-opacity="0.25" stroke-width="0.8"/>
<rect x="589.2" y="1652.2" width="32.5" height="9.5" fill="#43891e" stroke="#ffffff" stroke-opacity="0.25" stroke-width="0.8"/>
<rect x="589.2" y="1642.7" width="32.5" height="9.5" fill="#a8001f" stroke="#ffffff" stroke-opacity="0.25" stroke-width="0.8"/>
<rect x="621.7" y="1652.2" width="32.6" height="9.5" fill="#43891e" stroke="#ffffff" stroke-opacity="0.25" stroke-width="0.8"/>
<rect x="621.7" y="1642.7" width="32.6" height="9.5" fill="#a8001f" stroke="#ffffff" stroke-opacity="0.25" stroke-width="0.8"/>
<rect x="654.3" y="1642.7" width="32.6" height="19" fill="#43891e" stroke="#ffffff" stroke-opacity="0.25" stroke-width="0.8"/>
<rect x="654.3" y="1633.2" width="32.6" height="9.5" fill="#a8001f" stroke="#ffffff" stroke-opacity="0.25" stroke-width="0.8"/>
<rect x="686.9" y="1623.7" width="32.5" height="38" fill="#43891e" stroke="#ffffff" stroke-opacity="0.25" stroke-width="0.8"/>
<rect x="686.9" y="1614.2" width="32.5" height="9.5" fill="#a8001f" stroke="#ffffff" stroke-opacity="0.25" stroke-width="0.8"/>
<rect x="719.4" y="1642.7" width="32.6" height="19" fill="#43891e" stroke="#ffffff" stroke-opacity="0.25" stroke-width="0.8"/>
<rect x="719.4" y="1623.7" width="32.6" height="19" fill="#a8001f" stroke="#ffffff" stroke-opacity="0.25" stroke-width="0.8"/>
<rect x="784.6" y="1623.7" width="32.5" height="38" fill="#43891e" stroke="#ffffff" stroke-opacity="0.25" stroke-width="0.8"/>
<rect x="784.6" y="1614.2" width="32.5" height="9.5" fill="#a8001f" stroke="#ffffff" stroke-opacity="0.25" stroke-width="0.8"/>
<rect x="817.1" y="1652.2" width="32.6" height="9.5" fill="#43891e" stroke="#ffffff" stroke-opacity="0.25" stroke-width="0.8"/>
<rect x="849.7" y="1642.7" width="32.5" height="19" fill="#43891e" stroke="#ffffff" stroke-opacity="0.25" stroke-width="0.8"/>
<rect x="849.7" y="1623.7" width="32.5" height="19" fill="#a8001f" stroke="#ffffff" stroke-opacity="0.25" stroke-width="0.8"/>
<line x1="540.5" y1="1392.8" x2="540.5" y2="1661.7" stroke="#000" stroke-width="2.2"/>
<line x1="534.3" y1="1661.7" x2="898.4" y2="1661.7" stroke="#000" stroke-width="2.4"/>
<line x1="532.5" y1="1661.7" x2="540.5" y2="1661.7" stroke="#000" stroke-width="2.2"/>
<text x="518.4" y="1672.7" font-family="Liberation Sans, sans-serif" font-size="31" font-weight="normal" text-anchor="end" textLength="16.5" lengthAdjust="spacingAndGlyphs">0</text>
<line x1="532.5" y1="1566.6" x2="540.5" y2="1566.6" stroke="#000" stroke-width="2.2"/>
<text x="518.4" y="1577.6" font-family="Liberation Sans, sans-serif" font-size="31" font-weight="normal" text-anchor="end" textLength="34" lengthAdjust="spacingAndGlyphs">10</text>
<line x1="532.5" y1="1471.5" x2="540.5" y2="1471.5" stroke="#000" stroke-width="2.2"/>
<text x="518.4" y="1482.5" font-family="Liberation Sans, sans-serif" font-size="31" font-weight="normal" text-anchor="end" textLength="34" lengthAdjust="spacingAndGlyphs">20</text>
<line x1="556.2" y1="1661.7" x2="556.2" y2="1671.5" stroke="#000" stroke-width="2.2"/>
<text x="556.7" y="1709.2" font-family="Liberation Sans, sans-serif" font-size="30.5" font-weight="normal" text-anchor="middle" textLength="16.5" lengthAdjust="spacingAndGlyphs">0</text>
<line x1="725.6" y1="1661.7" x2="725.6" y2="1671.5" stroke="#000" stroke-width="2.2"/>
<text x="726.1" y="1709.2" font-family="Liberation Sans, sans-serif" font-size="30.5" font-weight="normal" text-anchor="middle" textLength="52.5" lengthAdjust="spacingAndGlyphs">100</text>
<line x1="895.4" y1="1661.7" x2="895.4" y2="1671.5" stroke="#000" stroke-width="2.2"/>
<text x="895.9" y="1709.2" font-family="Liberation Sans, sans-serif" font-size="30.5" font-weight="normal" text-anchor="middle" textLength="52.5" lengthAdjust="spacingAndGlyphs">200</text>
<text x="720" y="1751.4" font-family="Liberation Sans, sans-serif" font-size="32" font-weight="normal" text-anchor="middle" textLength="246" lengthAdjust="spacingAndGlyphs">Distance to edge</text>
<text x="719.6" y="1784.6" font-family="Liberation Sans, sans-serif" font-size="32" font-weight="normal" text-anchor="middle" textLength="422" lengthAdjust="spacingAndGlyphs">of stimulation electrode [<tspan font-style="italic">&#956;m</tspan>]</text>
<text x="0" y="0" font-family="Liberation Sans, sans-serif" font-size="32" font-weight="normal" text-anchor="middle" textLength="254" lengthAdjust="spacingAndGlyphs" transform="translate(470.2,1526.3) rotate(-90)">Number of cells</text>
</svg>
</body></html>
